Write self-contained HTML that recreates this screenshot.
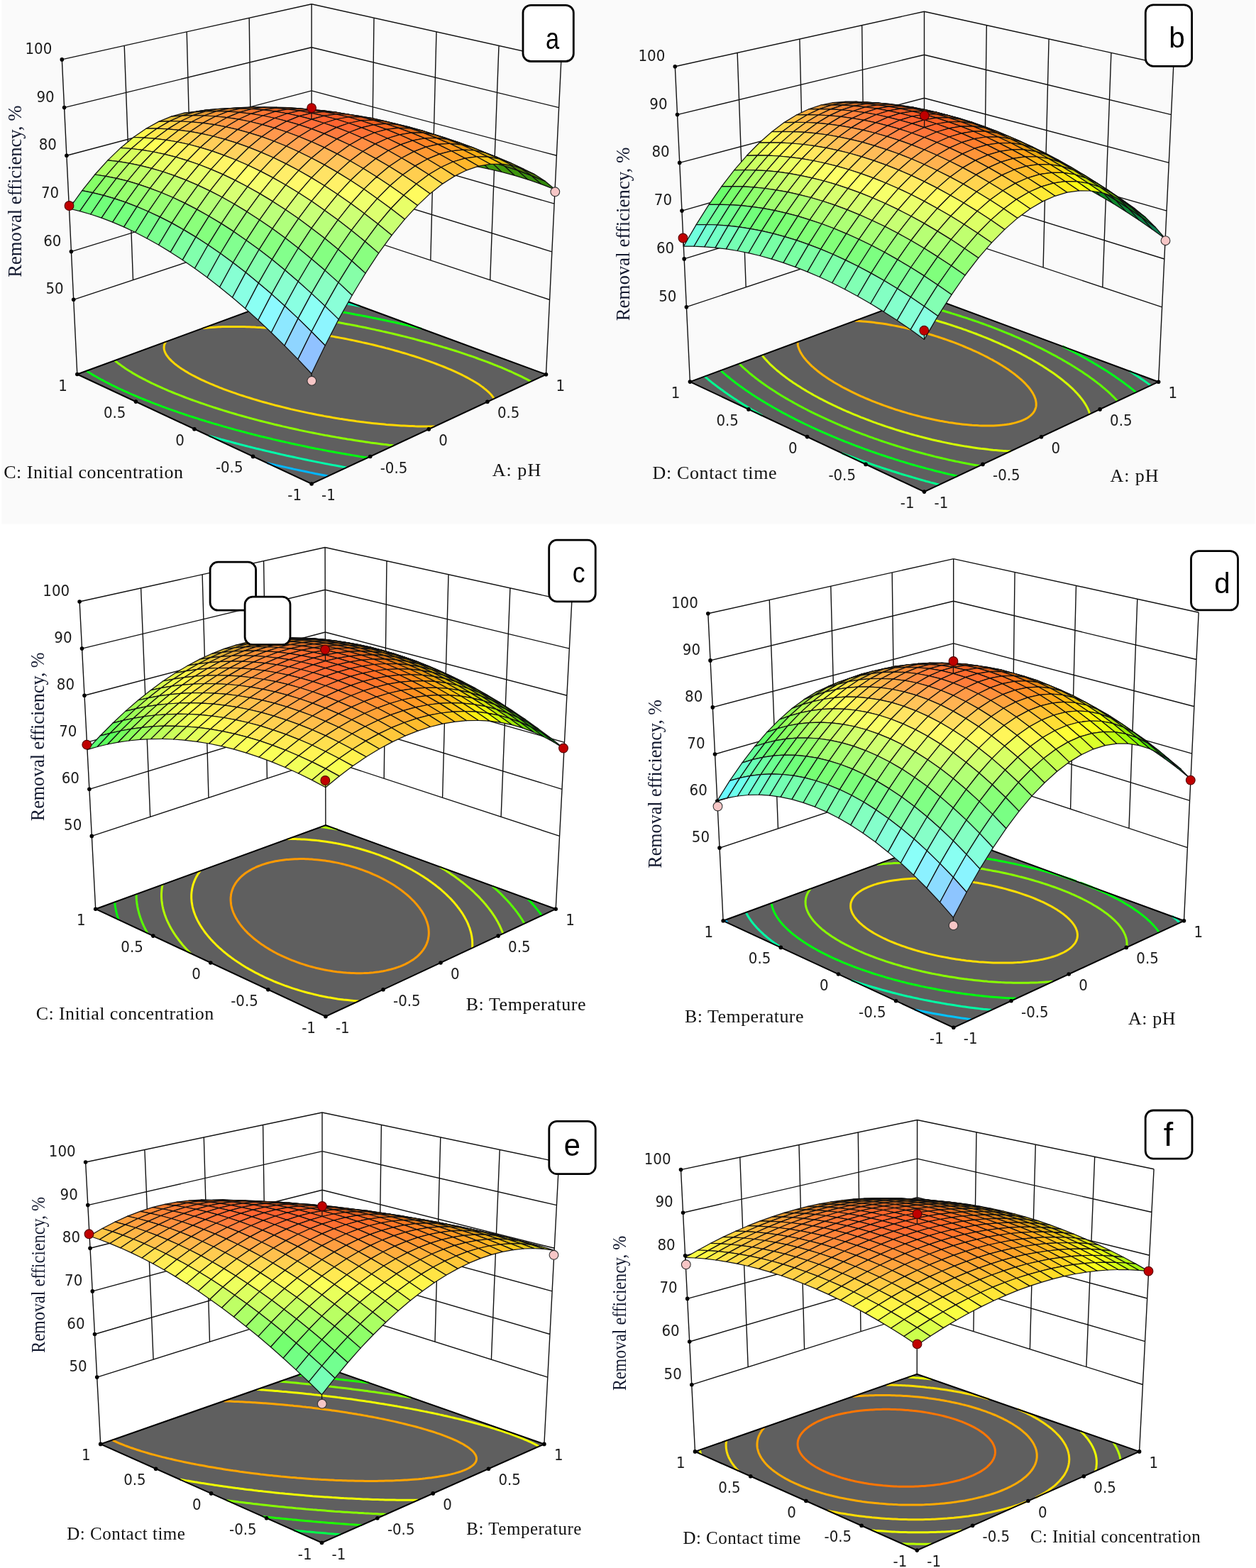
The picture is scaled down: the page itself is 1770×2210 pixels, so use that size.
<!DOCTYPE html>
<html><head><meta charset="utf-8"><title>Response surfaces</title><style>html,body{margin:0;padding:0;background:#fff}svg{display:block}</style></head><body>
<svg xmlns="http://www.w3.org/2000/svg" width="1770" height="2210" viewBox="0 0 1770 2210">
<rect width="1770" height="2210" fill="#fff"/>
<rect x="2.5" width="1766" height="738.5" fill="#fafafa"/>
<path d="M187.5 394.5 175.2 64.4M271.4 366.8 263.2 44.8M355.2 339 351.2 25.2M439.1 406.3 439.1 5.7M523 339.1 527 25.2M606.8 366.9 615 44.8M690.7 394.7 703 64.4M769.5 527.8 790.9 83.9M108.8 527.5 87.3 83.9M103.7 422.3 439.1 311.3M439.1 311.3 774.6 422.5M100.4 354.6 439.1 250.2M439.1 250.2 777.8 354.8M97.1 286.9 439.1 189M439.1 189 781.1 287.1M93.9 219.2 439.1 127.9M439.1 127.9 784.4 219.3M90.6 151.6 439.1 66.8M439.1 66.8 787.6 151.6M87.3 83.9 439.1 5.7M439.1 5.7 790.9 83.9" stroke="#111" stroke-width="1.4" fill="none"/>
<path d="M108.8 527.5 439.1 682 769.5 527.8 439.1 406.3z" fill="#5f5f5f"/>
<path d="M462.5 671.1 458.7 670.3 454.6 669.5 452 669 446.8 668 444.2 667.5 439.1 666.4 436.5 665.9 432.4 665 428.9 664.3 425.6 663.6 421.3 662.7 418.7 662.1 413.7 661.1 411.2 660.5 406.2 659.4 403.8 658.9 398.8 657.8 396.4 657.2 391.5 656.1 389 655.6 384.2 654.4 381.7 653.9 376.9 652.7 376.1 652.6" stroke="#00b7ff" stroke-width="3" fill="none"/>
<path d="M433.7 408.3 436.9 408.7 440.1 409.2 442.2 409.5 446.4 410.2 448.5 410.5 451.9 411 451.9 411" stroke="#00b7ff" stroke-width="3" fill="none"/>
<path d="M488.4 659 483.7 658.1 480.4 657.5 477.6 657 472.5 656.1 469.9 655.6 465.1 654.7 462.1 654.1 458.7 653.5 454.3 652.6 451.7 652.1 446.6 651.1 444.1 650.6 439.3 649.6 436.4 649.1 432.7 648.3 428.9 647.5 426 646.9 421.4 645.9 419 645.4 414 644.3 411.6 643.8 406.7 642.7 404.2 642.2 399.4 641.1 397 640.6 392.2 639.5 389.8 638.9 385 637.8 382.6 637.3 377.9 636.1 375.5 635.6 370.9 634.5 368.5 633.9 363.9 632.8 361.3 632.2 357 631.1 353.6 630.2 350.1 629.4 345.6 628.2 343.3 627.6 338.8 626.5 336.6 625.9 332.1 624.7 329.3 624 325.5 622.9 321.1 621.8 318.9 621.2 314.5 620 312.3 619.4 308 618.2 303.7 617 301.6 616.4 297.4 615.2 294.3 614.3 294.3 614.3" stroke="#00ffab" stroke-width="3" fill="none"/>
<path d="M412.1 416.2 414.3 416.5 417.4 416.9 420.8 417.4 423 417.7 426.9 418.3 429.4 418.6 431.7 419 435.9 419.6 438 419.9 441.6 420.4 444.4 420.8 446.7 421.2 450.8 421.8 452.9 422.1 457 422.8 459.2 423.1 462.3 423.6 465.5 424.2 467.6 424.5 471.8 425.2 473.9 425.5 478.1 426.2 480.2 426.6 484.2 427.3 486.4 427.7 489.9 428.3 492.6 428.8 495.7 429.3 498.8 429.9 501.6 430.4 504.9 431 507.6 431.5 507.6 431.5" stroke="#00ffab" stroke-width="3" fill="none"/>
<path d="M518.1 645.1 515.4 644.7 510.3 643.9 507.2 643.4 504.5 642.9 499.2 642.1 496.5 641.6 493 641 488.5 640.3 485.9 639.8 481.2 639 478 638.4 475.1 637.9 470.2 637 467.6 636.5 462.9 635.7 459.9 635.1 456.6 634.5 452.3 633.6 449.8 633.1 444.7 632.2 442.2 631.7 437.3 630.7 434.8 630.2 430.7 629.3 427.4 628.6 424 627.9 420.1 627.1 417.2 626.5 412.8 625.5 410.3 625 405.6 623.9 403.2 623.4 398.5 622.3 396.1 621.8 391.5 620.7 388.8 620.1 384.5 619.1 381.4 618.3 377.6 617.4 373.8 616.5 370.7 615.8 366.2 614.7 363.9 614.1 359.5 613 357.2 612.4 352.8 611.3 350.1 610.6 346.2 609.5 341.8 608.4 339.6 607.8 335.3 606.6 333.1 606.1 328.8 604.9 324.6 603.7 322.4 603.1 318.2 601.9 315.2 601.1 312 600.1 307.8 598.9 305.7 598.3 301.6 597.1 297.5 595.9 295.5 595.3 291.5 594.1 287.5 592.8 285.4 592.2 281.5 591 277.6 589.7 274.4 588.7 271.7 587.8 267.8 586.6 264 585.3 262.1 584.7 258.3 583.4 254.5 582.1 250.8 580.9 248.9 580.2 245.2 578.9 241.5 577.6 237.9 576.3 235 575.3 232.5 574.4 228.9 573.1 225.3 571.7 221.8 570.4 218.3 569.1 216.6 568.4 213.2 567.1 209.7 565.7 206.4 564.4 203 563 199.7 561.7 196.4 560.3 193.1 558.9 190.9 558 188.3 556.9 185.1 555.5 181.9 554.1 178.8 552.7 175.7 551.3 172.6 549.9 169.6 548.5 166.6 547.1 163.6 545.6 160.6 544.2 157.7 542.8 154.9 541.3 153.1 540.4 150.6 539.2 147.8 537.7 145.1 536.2 142.3 534.8 139.6 533.3 137 531.8 134.4 530.3 133.1 529.6 130.5 528.1 128 526.5 125.5 525 123.1 523.5 121.9 522.7 121.9 522.7" stroke="#00ff10" stroke-width="3" fill="none"/>
<path d="M386.2 425.7 388.4 426 391.4 426.4 395.3 426.8 397.5 427.1 400.3 427.4 404.3 427.9 406.5 428.2 409.4 428.6 413.2 429.1 415.4 429.4 418.7 429.9 422 430.3 424.2 430.6 428.3 431.2 430.8 431.6 433.2 431.9 437.3 432.5 439.5 432.8 443.2 433.4 446 433.8 448.3 434.2 452.4 434.8 454.6 435.2 458.8 435.8 461 436.2 464.2 436.7 467.4 437.3 469.6 437.6 473.7 438.3 475.8 438.7 480 439.4 482.1 439.8 486.3 440.5 488.4 440.9 492.5 441.6 494.6 442 498.5 442.7 500.8 443.2 504.7 443.9 507 444.3 511 445.1 513.2 445.5 517.3 446.3 519.3 446.7 523.4 447.5 525.4 448 529.5 448.8 531.5 449.2 535.6 450 537.8 450.5 541.6 451.3 544.9 452 547.7 452.6 551.7 453.5 553.7 453.9 557.7 454.8 560 455.3 563.6 456.1 567.6 457 569.6 457.5 573.5 458.4 576.3 459 579.4 459.8 583.4 460.7 585.3 461.2 589.3 462.1 593.2 463.1 594.1 463.3" stroke="#00ff10" stroke-width="3" fill="none"/>
<path d="M554.8 628 551.9 627.6 548 627.2 543.4 626.6 540.5 626.3 537.7 625.9 532.8 625.3 529.3 624.8 526.5 624.4 522.4 623.9 518.3 623.3 515.5 622.9 511.7 622.3 507.4 621.7 504.7 621.3 500.8 620.7 496.7 620 494.1 619.6 489.5 618.9 486.2 618.3 483.6 617.9 478.4 617 475.8 616.6 472.1 615.9 468.2 615.2 465.6 614.8 460.6 613.8 458.1 613.4 453.8 612.6 450.6 612 447.5 611.4 443.2 610.5 440.7 610 435.9 609.1 433.5 608.6 428.7 607.6 426.3 607.1 421.5 606.1 419.1 605.5 414.4 604.5 412.1 604 407.4 603 405.1 602.4 400.5 601.4 398.2 600.9 393.7 599.8 391.4 599.2 386.9 598.2 384.6 597.6 380.2 596.5 377.2 595.8 373.6 594.9 369.2 593.8 367 593.2 362.7 592.1 360.5 591.5 356.2 590.4 352.1 589.3 349.9 588.6 345.7 587.5 343.1 586.8 339.4 585.7 335.3 584.6 333.3 584 329.2 582.8 325.1 581.6 323.1 581 319.1 579.8 315.2 578.6 313 577.9 309.3 576.7 305.4 575.5 301.5 574.3 299.6 573.6 295.8 572.4 292 571.1 288.5 569.9 286.4 569.2 282.8 568 279.1 566.7 275.5 565.4 273.4 564.7 270.1 563.5 266.5 562.2 263 560.8 259.5 559.5 256.1 558.2 253.5 557.2 251 556.2 247.6 554.9 244.3 553.5 241 552.1 237.7 550.8 234.5 549.4 231.3 548 228.2 546.6 225 545.2 222 543.8 218.9 542.4 215.9 541 212.9 539.6 210 538.1 207.1 536.7 204.3 535.2 201.5 533.8 199.4 532.7 197.3 531.6 194.6 530.1 191.9 528.6 189.3 527.1 186.7 525.6 185.5 524.8 183 523.3 180.5 521.7 178.1 520.2 176.9 519.4 174.6 517.8 172.3 516.2 171.2 515.4 169 513.8 166.8 512.2 165.8 511.4 163.7 509.8 162.2 508.5 161.7 508.1" stroke="#8cff00" stroke-width="3" fill="none"/>
<path d="M352 438.3 354.5 438.5 357 438.7 360.6 439 364.4 439.3 366.8 439.5 369.3 439.8 372.6 440.1 376.5 440.5 378.9 440.7 381.3 441 385 441.3 388.4 441.7 390.8 442 393.5 442.3 397.8 442.8 400.1 443.1 402.4 443.3 406.8 443.9 409.3 444.2 411.6 444.5 416 445.1 418.5 445.4 420.7 445.7 425.2 446.3 427.5 446.6 430.3 447 434.2 447.6 436.4 447.9 440.3 448.5 443 448.9 445.4 449.3 449.6 449.9 451.8 450.3 455.9 450.9 458.3 451.3 461.3 451.8 464.7 452.4 466.9 452.8 471.2 453.5 473.3 453.9 477.6 454.6 479.7 455 483.9 455.8 486 456.2 490.1 456.9 492.3 457.3 496.3 458.1 498.6 458.5 502.7 459.3 504.8 459.8 509 460.6 511 461 515.1 461.8 517.2 462.3 521.3 463.1 523.3 463.6 527.4 464.4 530.3 465.1 533.5 465.7 537.5 466.6 539.5 467.1 543.5 468 545.7 468.5 549.5 469.4 553.5 470.3 555.5 470.8 559.5 471.7 562.6 472.5 565.4 473.2 569.3 474.1 571.9 474.8 575.2 475.6 579.1 476.6 581.8 477.3 584.9 478.1 588.8 479.2 592.5 480.2 594.6 480.7 598.4 481.7 602.2 482.8 604.5 483.4 607.9 484.4 611.7 485.5 615.5 486.6 618.2 487.4 621.2 488.2 624.9 489.4 628.7 490.5 632.4 491.6 635.1 492.5 638 493.4 641.7 494.5 645.3 495.7 649 496.9 652.7 498.1 656.3 499.3 659.9 500.6 661.8 501.2 665.4 502.4 669 503.7 672.5 505 676.1 506.3 679.7 507.6 683.2 508.9 686.7 510.2 690.2 511.5 693.7 512.9 697.2 514.3 700.6 515.6 702.3 516.3 705.8 517.7 709.2 519.2 712.6 520.6 715.9 522.1 719.3 523.5 722.6 525 724.3 525.8 727.5 527.3 730.8 528.8 734.1 530.4 735.7 531.2 738.9 532.8 742.1 534.4 744.9 535.9 746.8 536.8 748.3 537.7" stroke="#8cff00" stroke-width="3" fill="none"/>
<path d="M612.9 600.9 609.2 601 605.6 601 602 601 598.5 601 595.1 601 591.7 600.9 588.3 600.9 585 600.8 581.3 600.6 577.4 600.5 573.5 600.3 569.5 600.1 565.7 599.9 562.6 599.7 559.5 599.5 556.5 599.3 552.9 599 548.5 598.7 544.5 598.4 541.6 598.1 538.6 597.8 535.2 597.5 530.6 597 527.2 596.7 524.3 596.4 521.1 596 516.3 595.4 513.2 595.1 510.5 594.7 506.4 594.2 502.4 593.7 499.7 593.3 496.1 592.8 491.8 592.2 489.2 591.8 485.4 591.2 481.4 590.6 478.8 590.2 474.3 589.4 471.2 588.9 468.6 588.5 463.7 587.6 461.2 587.2 456.7 586.4 453.9 585.8 450.6 585.2 446.7 584.5 444.3 584 439.5 583 437.2 582.6 432.5 581.6 430.2 581.1 425.5 580.1 423.3 579.6 418.7 578.6 416.4 578.1 412 577.1 409.7 576.6 405.3 575.5 402.3 574.8 398.8 573.9 394.4 572.8 392.3 572.3 388 571.2 385.9 570.6 381.7 569.5 377.6 568.4 375.5 567.8 371.4 566.7 367.5 565.6 365.4 565 361.4 563.8 357.4 562.6 355.4 562 351.6 560.8 347.7 559.6 345.4 558.9 342 557.8 338.2 556.6 334.5 555.3 331.4 554.2 329 553.4 325.4 552.1 321.9 550.9 318.4 549.6 314.9 548.3 311.4 546.9 309.7 546.3 306.4 544.9 303.1 543.6 299.8 542.2 296.5 540.9 293.4 539.5 290.2 538.1 287.1 536.7 284.1 535.3 281.1 533.8 278.2 532.4 276.7 531.7 273.8 530.2 271 528.7 268.3 527.2 265.6 525.7 263.5 524.4 261.7 523.4 259.2 521.8 256.7 520.3 255.5 519.5 253.1 517.9 250.9 516.2 249.8 515.4 247.6 513.7 246.1 512.6 244.5 511.2 242.8 509.7 241.7 508.6 240.2 507.1 239 505.9 238 504.8 236.7 503.2 236 502.2 234.8 500.6 234 499.3 233.5 498.3 232.8 496.9 232.1 495.2 231.8 494.2 231.5 493.1 231.3 492 231.1 490.7 231.1 489.3 231.2 488 231.4 486.7 231.8 485.5 232.2 484.3 232.8 483.2 233.7 481.7 233.7 481.7" stroke="#ffd700" stroke-width="3" fill="none"/>
<path d="M285.7 462.6 289.4 462.2 291.9 461.9 294.5 461.7 298.3 461.4 302.1 461.2 305.1 461 307.9 460.8 310.7 460.7 313.5 460.6 316.4 460.5 319.5 460.5 322.8 460.4 326 460.4 329.1 460.4 332.2 460.4 335.2 460.4 338.2 460.5 341.2 460.5 344.5 460.6 347.9 460.7 351.3 460.8 354.8 461 358.2 461.1 360.9 461.3 363.6 461.4 366.3 461.6 369.2 461.8 372.9 462 376.7 462.3 379.5 462.5 382.1 462.7 384.6 462.9 388.5 463.3 392.2 463.6 394.7 463.8 397.1 464.1 401 464.5 404.5 464.9 406.9 465.1 409.6 465.4 414.1 466 416.5 466.2 418.9 466.5 423.2 467.1 425.9 467.5 428.2 467.8 432.8 468.4 435.1 468.7 437.7 469.1 442 469.7 444.2 470.1 448 470.7 451 471.1 453.3 471.5 457.6 472.2 459.8 472.6 464.2 473.3 466.4 473.7 470.1 474.4 472.9 474.9 476.1 475.5 479.3 476.1 482.3 476.6 485.7 477.3 488.7 477.9 492.1 478.6 495.3 479.3 498.3 479.9 502.3 480.7 504.6 481.2 508.7 482.1 510.7 482.6 514.8 483.5 517.2 484 520.9 484.9 524.9 485.8 526.9 486.3 530.9 487.3 534.2 488.1 536.9 488.8 540.8 489.8 543.8 490.6 546.7 491.3 550.6 492.4 554.4 493.4 556.4 494 560.2 495 564 496.1 566.8 497 569.7 497.8 573.5 498.9 577.2 500.1 580.9 501.2 582.8 501.8 586.5 503 590.1 504.2 593.8 505.4 597.4 506.6 601 507.9 604.6 509.1 608.1 510.4 611.6 511.7 615.1 513 618.6 514.3 622 515.7 625.5 517 628.8 518.4 632.2 519.8 635.5 521.2 638.8 522.7 642.1 524.2 645.3 525.7 646.9 526.4 650.1 527.9 653.2 529.5 656.3 531.1 657.8 531.9 660.8 533.5 663.8 535.2 665.3 536 668.2 537.7 670.8 539.3 672.4 540.3 675.2 542.1 676.5 543 679.1 544.9 680.4 545.8 682.9 547.8 684.1 548.8 686 550.3 687.7 551.8 688.8 552.8 690.6 554.7 691.9 556.1 692.9 557.2 694 558.6 695.3 560.4 696.3 562 696.3 562" stroke="#ffd700" stroke-width="3" fill="none"/>
<path d="M108.8 527.5 439.1 682 769.5 527.8 M108.8 527.5 439.1 406.3 769.5 527.8" stroke="#000" stroke-width="2" fill="none"/>
<g stroke="#111" stroke-width="1.25" stroke-linejoin="round"><path d="M439.1 231.9 454.3 250.8 439.1 256.3 423.9 237.2z" fill="#0f8799"/><path d="M454.5 227.2 469.6 245.8 454.3 250.8 439.1 231.9z" fill="#0f9992"/><path d="M423.6 214.9 439.1 231.9 423.9 237.2 408.4 219.9z" fill="#0e9971"/><path d="M470.1 223 485.2 241.4 469.6 245.8 454.5 227.2z" fill="#0f997a"/><path d="M439.1 210.4 454.5 227.2 439.1 231.9 423.6 214.9z" fill="#0e9959"/><path d="M407.9 199.9 423.6 214.9 408.4 219.9 392.7 204.6z" fill="#0e993c"/><path d="M486 219.5 501 237.5 485.2 241.4 470.1 223z" fill="#0f9965"/><path d="M454.7 206.6 470.1 223 454.5 227.2 439.1 210.4z" fill="#0e9942"/><path d="M423.4 195.7 439.1 210.4 423.6 214.9 407.9 199.9z" fill="#0e9924"/><path d="M392 186.9 407.9 199.9 392.7 204.6 376.7 191.3z" fill="#0e990d"/><path d="M502 216.5 517.1 234.3 501 237.5 486 219.5z" fill="#0f9950"/><path d="M470.6 203.3 486 219.5 470.1 223 454.7 206.6z" fill="#0e992d"/><path d="M439.1 192.2 454.7 206.6 439.1 210.4 423.4 195.7z" fill="#0d990f"/><path d="M407.5 183.1 423.4 195.7 407.9 199.9 392 186.9z" fill="#24990d"/><path d="M375.8 176 392 186.9 376.7 191.3 360.5 180.1z" fill="#37990c"/><path d="M518.3 214.2 533.3 231.7 517.1 234.3 502 216.5z" fill="#0f993e"/><path d="M486.7 200.7 502 216.5 486 219.5 470.6 203.3z" fill="#0e991a"/><path d="M455 189.3 470.6 203.3 454.7 206.6 439.1 192.2z" fill="#20990d"/><path d="M423.2 179.8 439.1 192.2 423.4 195.7 407.5 183.1z" fill="#39990c"/><path d="M391.3 172.5 407.5 183.1 392 186.9 375.8 176z" fill="#4c990c"/><path d="M359.4 167.2 375.8 176 360.5 180.1 344.1 171z" fill="#5b990b"/><path d="M534.7 212.6 549.7 229.7 533.3 231.7 518.3 214.2z" fill="#0f992c"/><path d="M503 198.7 518.3 214.2 502 216.5 486.7 200.7z" fill="#14990e"/><path d="M471.1 187 486.7 200.7 470.6 203.3 455 189.3z" fill="#32990d"/><path d="M439.1 177.3 455 189.3 439.1 192.2 423.2 179.8z" fill="#4b990c"/><path d="M407 169.7 423.2 179.8 407.5 183.1 391.3 172.5z" fill="#60990b"/><path d="M551.4 211.5 566.4 228.4 549.7 229.7 534.7 212.6z" fill="#0f991d"/><path d="M374.9 164.1 391.3 172.5 375.8 176 359.4 167.2z" fill="#6f990a"/><path d="M342.7 160.7 359.4 167.2 344.1 171 327.4 164.1z" fill="#7a9909"/><path d="M519.5 197.4 534.7 212.6 518.3 214.2 503 198.7z" fill="#24990e"/><path d="M487.4 185.4 503 198.7 486.7 200.7 471.1 187z" fill="#43990d"/><path d="M455.2 175.4 471.1 187 455 189.3 439.1 177.3z" fill="#5d990c"/><path d="M568.3 211.2 583.2 227.7 566.4 228.4 551.4 211.5z" fill="#0f990f"/><path d="M422.9 167.5 439.1 177.3 423.2 179.8 407 169.7z" fill="#72990b"/><path d="M325.9 156.4 342.7 160.7 327.4 164.1 310.6 159.4z" fill="#8d9308"/><path d="M390.6 161.7 407 169.7 391.3 172.5 374.9 164.1z" fill="#82990a"/><path d="M358.2 158 374.9 164.1 359.4 167.2 342.7 160.7z" fill="#8d9909"/><path d="M536.2 196.8 551.4 211.5 534.7 212.6 519.5 197.4z" fill="#32990e"/><path d="M503.9 184.4 519.5 197.4 503 198.7 487.4 185.4z" fill="#52990d"/><path d="M471.5 174.1 487.4 185.4 471.1 187 455.2 175.4z" fill="#6c990c"/><path d="M585.4 211.5 600.3 227.7 583.2 227.7 568.3 211.2z" fill="#1a990f"/><path d="M439.1 165.9 455.2 175.4 439.1 177.3 422.9 167.5z" fill="#82990b"/><path d="M308.8 154.5 325.9 156.4 310.6 159.4 293.5 157z" fill="#7f7306"/><path d="M406.5 159.9 422.9 167.5 407 169.7 390.6 161.7z" fill="#93990a"/><path d="M341.4 154.1 358.2 158 342.7 160.7 325.9 156.4z" fill="#8b8007"/><path d="M373.9 155.9 390.6 161.7 374.9 164.1 358.2 158z" fill="#979109"/><path d="M553.1 196.8 568.3 211.2 551.4 211.5 536.2 196.8z" fill="#3f990e"/><path d="M520.7 184.1 536.2 196.8 519.5 197.4 503.9 184.4z" fill="#5f990d"/><path d="M602.7 212.6 617.5 228.3 600.3 227.7 585.4 211.5z" fill="#25990e"/><path d="M488.1 173.5 503.9 184.4 487.4 185.4 471.5 174.1z" fill="#7a990c"/><path d="M455.4 165 471.5 174.1 455.2 175.4 439.1 165.9z" fill="#91990b"/><path d="M291.6 154.9 308.8 154.5 293.5 157 276.3 157z" fill="#685504"/><path d="M324.3 152.6 341.4 154.1 325.9 156.4 308.8 154.5z" fill="#755e05"/><path d="M422.7 158.7 439.1 165.9 422.9 167.5 406.5 159.9z" fill="#99900a"/><path d="M357.1 152.5 373.9 155.9 358.2 158 341.4 154.1z" fill="#826a07"/><path d="M389.9 154.5 406.5 159.9 390.6 161.7 373.9 155.9z" fill="#8f7b08"/><path d="M570.3 197.5 585.4 211.5 568.3 211.2 553.1 196.8z" fill="#4a990e"/><path d="M537.6 184.5 553.1 196.8 536.2 196.8 520.7 184.1z" fill="#6b990d"/><path d="M620.3 214.3 635 229.7 617.5 228.3 602.7 212.6z" fill="#2d990e"/><path d="M504.9 173.6 520.7 184.1 503.9 184.4 488.1 173.5z" fill="#87990c"/><path d="M274.2 157.8 291.6 154.9 276.3 157 258.9 159.4z" fill="#93771c"/><path d="M472 164.9 488.1 173.5 471.5 174.1 455.4 165z" fill="#99940b"/><path d="M307.1 153.5 324.3 152.6 308.8 154.5 291.6 154.9z" fill="#5e4304"/><path d="M439.1 158.3 455.4 165 439.1 165.9 422.7 158.7z" fill="#927c0a"/><path d="M587.6 198.9 602.7 212.6 585.4 211.5 570.3 197.5z" fill="#53990e"/><path d="M340 151.5 357.1 152.5 341.4 154.1 324.3 152.6z" fill="#6c4b05"/><path d="M406.1 153.8 422.7 158.7 406.5 159.9 389.9 154.5z" fill="#866708"/><path d="M373 151.6 389.9 154.5 373.9 155.9 357.1 152.5z" fill="#795706"/><path d="M554.8 185.6 570.3 197.5 553.1 196.8 537.6 184.5z" fill="#75990d"/><path d="M638 216.7 652.7 231.8 635 229.7 620.3 214.3z" fill="#35990e"/><path d="M521.9 174.4 537.6 184.5 520.7 184.1 504.9 173.6z" fill="#91990c"/><path d="M256.6 163.1 274.2 157.8 258.9 159.4 241.4 164.2z" fill="#bc9728"/><path d="M488.8 165.4 504.9 173.6 488.1 173.5 472 164.9z" fill="#96860b"/><path d="M289.6 156.8 307.1 153.5 291.6 154.9 274.2 157.8z" fill="#a5771f"/><path d="M605.2 201 620.3 214.3 602.7 212.6 587.6 198.9z" fill="#5b990e"/><path d="M455.7 158.5 472 164.9 455.4 165 439.1 158.3z" fill="#8a6b09"/><path d="M322.8 152.8 340 151.5 324.3 152.6 307.1 153.5z" fill="#8d5f18"/><path d="M422.4 153.8 439.1 158.3 422.7 158.7 406.1 153.8z" fill="#7d5607"/><path d="M356 151 373 151.6 357.1 152.5 340 151.5z" fill="#623b04"/><path d="M389.2 151.3 406.1 153.8 389.9 154.5 373 151.6z" fill="#704606"/><path d="M572.2 187.4 587.6 198.9 570.3 197.5 554.8 185.6z" fill="#7d990d"/><path d="M655.9 219.9 670.6 234.5 652.7 231.8 638 216.7z" fill="#3a990e"/><path d="M238.9 170.9 256.6 163.1 241.4 164.2 223.7 171.4z" fill="#e5be36"/><path d="M539.1 175.9 554.8 185.6 537.6 184.5 521.9 174.4z" fill="#99980c"/><path d="M272.1 162.7 289.6 156.8 274.2 157.8 256.6 163.1z" fill="#cf962c"/><path d="M505.8 166.6 521.9 174.4 504.9 173.6 488.8 165.4z" fill="#8e760a"/><path d="M623 203.9 638 216.7 620.3 214.3 605.2 201z" fill="#61990d"/><path d="M305.4 156.6 322.8 152.8 307.1 153.5 289.6 156.8z" fill="#b77723"/><path d="M472.5 159.5 488.8 165.4 472 164.9 455.7 158.5z" fill="#815b08"/><path d="M338.7 152.8 356 151 340 151.5 322.8 152.8z" fill="#9f5f1b"/><path d="M439.1 154.5 455.7 158.5 439.1 158.3 422.4 153.8z" fill="#744707"/><path d="M372.1 151.2 389.2 151.3 373 151.6 356 151z" fill="#572e04"/><path d="M405.6 151.7 422.4 153.8 406.1 153.8 389.2 151.3z" fill="#663805"/><path d="M589.8 190 605.2 201 587.6 198.9 572.2 187.4z" fill="#84990d"/><path d="M674.1 223.9 688.7 238.1 670.6 234.5 655.9 219.9z" fill="#3e990e"/><path d="M221.1 181.2 238.9 170.9 223.7 171.4 205.9 181.2z" fill="#ffe244"/><path d="M556.5 178.2 572.2 187.4 554.8 185.6 539.1 175.9z" fill="#91890b"/><path d="M254.3 171 272.1 162.7 256.6 163.1 238.9 170.9z" fill="#f8bd3c"/><path d="M640.9 207.5 655.9 219.9 638 216.7 623 203.9z" fill="#66990d"/><path d="M523.1 168.6 539.1 175.9 521.9 174.4 505.8 166.6z" fill="#856809"/><path d="M287.8 163 305.4 156.6 289.6 156.8 272.1 162.7z" fill="#e29631"/><path d="M489.5 161.1 505.8 166.6 488.8 165.4 472.5 159.5z" fill="#784e08"/><path d="M203.1 194.1 221.1 181.2 205.9 181.2 188 193.5z" fill="#fff74c"/><path d="M321.3 157.1 338.7 152.8 322.8 152.8 305.4 156.6z" fill="#ca7626"/><path d="M692.4 228.5 707 242.3 688.7 238.1 674.1 223.9z" fill="#40990e"/><path d="M455.9 155.9 472.5 159.5 455.7 158.5 439.1 154.5z" fill="#6a3b06"/><path d="M354.9 153.5 372.1 151.2 356 151 338.7 152.8z" fill="#b15f1e"/><path d="M607.6 193.2 623 203.9 605.2 201 589.8 190z" fill="#86950c"/><path d="M422.2 152.9 439.1 154.5 422.4 153.8 405.6 151.7z" fill="#5c2d05"/><path d="M388.5 152.1 405.6 151.7 389.2 151.3 372.1 151.2z" fill="#984e16"/><path d="M236.5 181.9 254.3 171 238.9 170.9 221.1 181.2z" fill="#ffd445"/><path d="M574.1 181.2 589.8 190 572.2 187.4 556.5 178.2z" fill="#897d0b"/><path d="M659.1 211.8 674.1 223.9 655.9 219.9 640.9 207.5z" fill="#69990d"/><path d="M270 171.8 287.8 163 272.1 162.7 254.3 171z" fill="#ffb53f"/><path d="M185.1 209.5 203.1 194.1 188 193.5 170 208.4z" fill="#edff53"/><path d="M540.5 171.3 556.5 178.2 539.1 175.9 523.1 168.6z" fill="#7d5c09"/><path d="M303.7 164 321.3 157.1 305.4 156.6 287.8 163z" fill="#f49536"/><path d="M711 234 725.4 247.3 707 242.3 692.4 228.5z" fill="#41990e"/><path d="M506.8 163.6 523.1 168.6 505.8 166.6 489.5 161.1z" fill="#6f4307"/><path d="M625.7 197.3 640.9 207.5 623 203.9 607.6 193.2z" fill="#828d0c"/><path d="M337.4 158.3 354.9 153.5 338.7 152.8 321.3 157.1z" fill="#dd752a"/><path d="M218.5 195.3 236.5 181.9 221.1 181.2 203.1 194.1z" fill="#ffea4d"/><path d="M472.9 158.1 489.5 161.1 472.5 159.5 455.9 155.9z" fill="#613106"/><path d="M371.3 154.9 388.5 152.1 372.1 151.2 354.9 153.5z" fill="#c45e21"/><path d="M439.1 154.8 455.9 155.9 439.1 154.5 422.2 152.9z" fill="#914512"/><path d="M405.2 153.8 422.2 152.9 405.6 151.7 388.5 152.1z" fill="#aa4f19"/><path d="M167 227.6 185.1 209.5 170 208.4 151.9 225.9z" fill="#ceff5b"/><path d="M592 184.9 607.6 193.2 589.8 190 574.1 181.2z" fill="#81720a"/><path d="M252.1 183.3 270 171.8 254.3 171 236.5 181.9z" fill="#ffc847"/><path d="M677.5 217 692.4 228.5 674.1 223.9 659.1 211.8z" fill="#65910d"/><path d="M558.2 174.7 574.1 181.2 556.5 178.2 540.5 171.3z" fill="#745208"/><path d="M285.9 173.4 303.7 164 287.8 163 270 171.8z" fill="#ffa940"/><path d="M729.7 240.2 744.1 253.1 725.4 247.3 711 234z" fill="#3e950e"/><path d="M200.5 211.4 218.5 195.3 203.1 194.1 185.1 209.5z" fill="#f8ff55"/><path d="M148.9 248.3 167 227.6 151.9 225.9 133.8 246z" fill="#acff61"/><path d="M524.2 166.7 540.5 171.3 523.1 168.6 506.8 163.6z" fill="#663a07"/><path d="M643.9 202.1 659.1 211.8 640.9 207.5 625.7 197.3z" fill="#7c860b"/><path d="M319.8 165.7 337.4 158.3 321.3 157.1 303.7 164z" fill="#ff9039"/><path d="M490.2 161 506.8 163.6 489.5 161.1 472.9 158.1z" fill="#572805"/><path d="M353.8 160.3 371.3 154.9 354.9 153.5 337.4 158.3z" fill="#f0752f"/><path d="M456.1 157.4 472.9 158.1 455.9 155.9 439.1 154.8z" fill="#a24714"/><path d="M234.2 197.3 252.1 183.3 236.5 181.9 218.5 195.3z" fill="#ffe04f"/><path d="M387.9 157.1 405.2 153.8 388.5 152.1 371.3 154.9z" fill="#d65f24"/><path d="M422 156.2 439.1 154.8 422.2 152.9 405.2 153.8z" fill="#bc501b"/><path d="M610 189.4 625.7 197.3 607.6 193.2 592 184.9z" fill="#796809"/><path d="M696.1 222.9 711 234 692.4 228.5 677.5 217z" fill="#5f8a0c"/><path d="M130.7 271.7 148.9 248.3 133.8 246 115.7 268.7z" fill="#85ff67"/><path d="M182.3 230.1 200.5 211.4 185.1 209.5 167 227.6z" fill="#d8ff5d"/><path d="M268 185.4 285.9 173.4 270 171.8 252.1 183.3z" fill="#ffbe49"/><path d="M748.6 247.3 763 259.7 744.1 253.1 729.7 240.2z" fill="#398e0d"/><path d="M576 178.9 592 184.9 574.1 181.2 558.2 174.7z" fill="#6b4a08"/><path d="M662.3 207.7 677.5 217 659.1 211.8 643.9 202.1z" fill="#757d0a"/><path d="M302 175.7 319.8 165.7 303.7 164 285.9 173.4z" fill="#ffa042"/><path d="M112.5 297.6 130.7 271.7 115.7 268.7 97.5 294z" fill="#6dff7e"/><path d="M541.9 170.7 558.2 174.7 540.5 171.3 524.2 166.7z" fill="#5c3306"/><path d="M216.1 214 234.2 197.3 218.5 195.3 200.5 211.4z" fill="#fffe57"/><path d="M336.2 168.2 353.8 160.3 337.4 158.3 319.8 165.7z" fill="#ff883a"/><path d="M164.1 251.4 182.3 230.1 167 227.6 148.9 248.3z" fill="#b4ff64"/><path d="M507.7 164.6 524.2 166.7 506.8 163.6 490.2 161z" fill="#99470f"/><path d="M370.4 163 387.9 157.1 371.3 154.9 353.8 160.3z" fill="#ff7533"/><path d="M714.9 229.6 729.7 240.2 711 234 696.1 222.9z" fill="#58820b"/><path d="M473.4 160.8 490.2 161 472.9 158.1 456.1 157.4z" fill="#b44a16"/><path d="M628.3 194.7 643.9 202.1 625.7 197.3 610 189.4z" fill="#706009"/><path d="M404.7 160 422 156.2 405.2 153.8 387.9 157.1z" fill="#e96028"/><path d="M439 159.3 456.1 157.4 439.1 154.8 422 156.2z" fill="#cf511e"/><path d="M250 200 268 185.4 252.1 183.3 234.2 197.3z" fill="#ffd951"/><path d="M767.8 255.1 782.1 267.1 763 259.7 748.6 247.3z" fill="#32870c"/><path d="M145.9 275.4 164.1 251.4 148.9 248.3 130.7 271.7z" fill="#8dff6a"/><path d="M197.9 233.3 216.1 214 200.5 211.4 182.3 230.1z" fill="#dfff5f"/><path d="M594.1 183.9 610 189.4 592 184.9 576 178.9z" fill="#614307"/><path d="M284.1 188.3 302 175.7 285.9 173.4 268 185.4z" fill="#ffb74b"/><path d="M680.9 214.1 696.1 222.9 677.5 217 662.3 207.7z" fill="#6c750a"/><path d="M559.8 175.4 576 178.9 558.2 174.7 541.9 170.7z" fill="#904f0b"/><path d="M318.4 178.8 336.2 168.2 319.8 165.7 302 175.7z" fill="#ff9a43"/><path d="M733.9 237.1 748.6 247.3 729.7 240.2 714.9 229.6z" fill="#4f7a0b"/><path d="M231.9 217.3 250 200 234.2 197.3 216.1 214z" fill="#fff75a"/><path d="M127.7 302 145.9 275.4 130.7 271.7 112.5 297.6z" fill="#6fff7b"/><path d="M525.4 169.1 541.9 170.7 524.2 166.7 507.7 164.6z" fill="#ab4d11"/><path d="M352.8 171.5 370.4 163 353.8 160.3 336.2 168.2z" fill="#ff823c"/><path d="M646.8 200.8 662.3 207.7 643.9 202.1 628.3 194.7z" fill="#675908"/><path d="M179.7 255.2 197.9 233.3 182.3 230.1 164.1 251.4z" fill="#baff66"/><path d="M490.9 165 507.7 164.6 490.2 161 473.4 160.8z" fill="#c64e18"/><path d="M387.2 166.5 404.7 160 387.9 157.1 370.4 163z" fill="#ff6f34"/><path d="M456.3 163.3 473.4 160.8 456.1 157.4 439 159.3z" fill="#e15421"/><path d="M421.8 163.7 439 159.3 422 156.2 404.7 160z" fill="#fc622c"/><path d="M266.1 203.5 284.1 188.3 268 185.4 250 200z" fill="#ffd354"/><path d="M612.4 189.7 628.3 194.7 610 189.4 594.1 183.9z" fill="#583c06"/><path d="M699.8 221.3 714.9 229.6 696.1 222.9 680.9 214.1z" fill="#616c09"/><path d="M213.7 237.3 231.9 217.3 216.1 214 197.9 233.3z" fill="#e4ff61"/><path d="M161.4 279.9 179.7 255.2 164.1 251.4 145.9 275.4z" fill="#93ff6c"/><path d="M300.4 192 318.4 178.8 302 175.7 284.1 188.3z" fill="#ffb24d"/><path d="M577.9 180.9 594.1 183.9 576 178.9 559.8 175.4z" fill="#a1580c"/><path d="M753.1 245.5 767.8 255.1 748.6 247.3 733.9 237.1z" fill="#46720a"/><path d="M334.9 182.6 352.8 171.5 336.2 168.2 318.4 178.8z" fill="#ff9646"/><path d="M665.4 207.7 680.9 214.1 662.3 207.7 646.8 200.8z" fill="#5e5307"/><path d="M543.3 174.3 559.8 175.4 541.9 170.7 525.4 169.1z" fill="#bc5413"/><path d="M247.9 221.4 266.1 203.5 250 200 231.9 217.3z" fill="#fff35c"/><path d="M143.1 307.2 161.4 279.9 145.9 275.4 127.7 302z" fill="#71ff7a"/><path d="M369.6 175.6 387.2 166.5 370.4 163 352.8 171.5z" fill="#ff7e3e"/><path d="M508.6 170 525.4 169.1 507.7 164.6 490.9 165z" fill="#d8541b"/><path d="M404.3 170.8 421.8 163.7 404.7 160 387.2 166.5z" fill="#ff6c36"/><path d="M195.4 259.9 213.7 237.3 197.9 233.3 179.7 255.2z" fill="#bfff68"/><path d="M473.8 168 490.9 165 473.4 160.8 456.3 163.3z" fill="#f45925"/><path d="M439 168.2 456.3 163.3 439 159.3 421.8 163.7z" fill="#ff612e"/><path d="M718.8 229.4 733.9 237.1 714.9 229.6 699.8 221.3z" fill="#566408"/><path d="M630.9 196.3 646.8 200.8 628.3 194.7 612.4 189.7z" fill="#976909"/><path d="M282.4 207.8 300.4 192 284.1 188.3 266.1 203.5z" fill="#ffd056"/><path d="M596.2 187.2 612.4 189.7 594.1 183.9 577.9 180.9z" fill="#b2630e"/><path d="M229.7 242 247.9 221.4 231.9 217.3 213.7 237.3z" fill="#e8ff64"/><path d="M317 196.4 334.9 182.6 318.4 178.8 300.4 192z" fill="#ffb04f"/><path d="M177.1 285.2 195.4 259.9 179.7 255.2 161.4 279.9z" fill="#96ff6e"/><path d="M684.3 215.4 699.8 221.3 680.9 214.1 665.4 207.7z" fill="#544d07"/><path d="M561.4 180.4 577.9 180.9 559.8 175.4 543.3 174.3z" fill="#ce5d14"/><path d="M351.7 187.3 369.6 175.6 352.8 171.5 334.9 182.6z" fill="#ff9448"/><path d="M526.5 175.8 543.3 174.3 525.4 169.1 508.6 170z" fill="#eb5c1d"/><path d="M386.6 180.4 404.3 170.8 387.2 166.5 369.6 175.6z" fill="#ff7d40"/><path d="M264.2 226.3 282.4 207.8 266.1 203.5 247.9 221.4z" fill="#fff15f"/><path d="M738.1 238.2 753.1 245.5 733.9 237.1 718.8 229.4z" fill="#4b5b08"/><path d="M158.7 313.2 177.1 285.2 161.4 279.9 143.1 307.2z" fill="#73ff7b"/><path d="M491.5 173.5 508.6 170 490.9 165 473.8 168z" fill="#ff5e27"/><path d="M421.6 175.8 439 168.2 421.8 163.7 404.3 170.8z" fill="#ff6c37"/><path d="M649.6 203.8 665.4 207.7 646.8 200.8 630.9 196.3z" fill="#a77909"/><path d="M456.5 173.5 473.8 168 456.3 163.3 439 168.2z" fill="#ff612f"/><path d="M211.4 265.3 229.7 242 213.7 237.3 195.4 259.9z" fill="#c2ff6b"/><path d="M298.9 212.9 317 196.4 300.4 192 282.4 207.8z" fill="#ffce59"/><path d="M614.7 194.4 630.9 196.3 612.4 189.7 596.2 187.2z" fill="#c3700f"/><path d="M703.4 224 718.8 229.4 699.8 221.3 684.3 215.4z" fill="#9c9406"/><path d="M333.8 201.7 351.7 187.3 334.9 182.6 317 196.4z" fill="#ffb052"/><path d="M245.9 247.6 264.2 226.3 247.9 221.4 229.7 242z" fill="#e9ff66"/><path d="M193 291.3 211.4 265.3 195.4 259.9 177.1 285.2z" fill="#98ff70"/><path d="M579.7 187.2 596.2 187.2 577.9 180.9 561.4 180.4z" fill="#e06a17"/><path d="M368.8 192.7 386.6 180.4 369.6 175.6 351.7 187.3z" fill="#ff954a"/><path d="M544.6 182.4 561.4 180.4 543.3 174.3 526.5 175.8z" fill="#fd6721"/><path d="M668.5 212 684.3 215.4 665.4 207.7 649.6 203.8z" fill="#b88b0a"/><path d="M403.9 186 421.6 175.8 404.3 170.8 386.6 180.4z" fill="#ff7f42"/><path d="M509.5 179.8 526.5 175.8 508.6 170 491.5 173.5z" fill="#ff6129"/><path d="M280.7 232 298.9 212.9 282.4 207.8 264.2 226.3z" fill="#fff061"/><path d="M439 181.7 456.5 173.5 439 168.2 421.6 175.8z" fill="#ff6e39"/><path d="M474.3 179.6 491.5 173.5 473.8 168 456.5 173.5z" fill="#ff6431"/><path d="M174.6 319.9 193 291.3 177.1 285.2 158.7 313.2z" fill="#75ff7e"/><path d="M227.5 271.5 245.9 247.6 229.7 242 211.4 265.3z" fill="#c3ff6d"/><path d="M633.5 202.3 649.6 203.8 630.9 196.3 614.7 194.4z" fill="#d58110"/><path d="M722.7 233.4 738.1 238.2 718.8 229.4 703.4 224z" fill="#abac06"/><path d="M315.6 218.8 333.8 201.7 317 196.4 298.9 212.9z" fill="#ffcf5b"/><path d="M598.3 194.9 614.7 194.4 596.2 187.2 579.7 187.2z" fill="#f27919"/><path d="M350.7 207.7 368.8 192.7 351.7 187.3 333.8 201.7z" fill="#ffb254"/><path d="M262.3 253.9 280.7 232 264.2 226.3 245.9 247.6z" fill="#e9ff69"/><path d="M209.1 298.2 227.5 271.5 211.4 265.3 193 291.3z" fill="#99ff73"/><path d="M687.6 221.1 703.4 224 684.3 215.4 668.5 212z" fill="#c8a20b"/><path d="M563 189.8 579.7 187.2 561.4 180.4 544.6 182.4z" fill="#ff6f22"/><path d="M386 199 403.9 186 386.6 180.4 368.8 192.7z" fill="#ff984d"/><path d="M527.6 187 544.6 182.4 526.5 175.8 509.5 179.8z" fill="#ff682a"/><path d="M421.3 192.5 439 181.7 421.6 175.8 403.9 186z" fill="#ff8344"/><path d="M492.2 186.5 509.5 179.8 491.5 173.5 474.3 179.6z" fill="#ff6933"/><path d="M456.8 188.4 474.3 179.6 456.5 173.5 439 181.7z" fill="#ff733c"/><path d="M297.4 238.6 315.6 218.8 298.9 212.9 280.7 232z" fill="#fff264"/><path d="M652.4 211.1 668.5 212 649.6 203.8 633.5 202.3z" fill="#e69612"/><path d="M190.7 327.5 209.1 298.2 193 291.3 174.6 319.9z" fill="#77ff82"/><path d="M244 278.5 262.3 253.9 245.9 247.6 227.5 271.5z" fill="#c2ff6f"/><path d="M332.6 225.5 350.7 207.7 333.8 201.7 315.6 218.8z" fill="#ffd25e"/><path d="M617 203.4 633.5 202.3 614.7 194.4 598.3 194.9z" fill="#ff8a1b"/><path d="M707 231.1 722.7 233.4 703.4 224 687.6 221.1z" fill="#d9bc0c"/><path d="M368 214.6 386 199 368.8 192.7 350.7 207.7z" fill="#ffb557"/><path d="M581.5 198.1 598.3 194.9 579.7 187.2 563 189.8z" fill="#ff7823"/><path d="M279 261.1 297.4 238.6 280.7 232 262.3 253.9z" fill="#e7ff6b"/><path d="M225.5 305.9 244 278.5 227.5 271.5 209.1 298.2z" fill="#98ff75"/><path d="M403.5 206 421.3 192.5 403.9 186 386 199z" fill="#ff9d4f"/><path d="M546 195 563 189.8 544.6 182.4 527.6 187z" fill="#ff702c"/><path d="M439 199.8 456.8 188.4 439 181.7 421.3 192.5z" fill="#ff8947"/><path d="M510.3 194.3 527.6 187 509.5 179.8 492.2 186.5z" fill="#ff7135"/><path d="M671.6 220.8 687.6 221.1 668.5 212 652.4 211.1z" fill="#f8af14"/><path d="M474.7 195.9 492.2 186.5 474.3 179.6 456.8 188.4z" fill="#ff7a3e"/><path d="M314.3 245.9 332.6 225.5 315.6 218.8 297.4 238.6z" fill="#fff566"/><path d="M207 336 225.5 305.9 209.1 298.2 190.7 327.5z" fill="#79ff88"/><path d="M260.6 286.4 279 261.1 262.3 253.9 244 278.5z" fill="#bfff72"/><path d="M636 212.8 652.4 211.1 633.5 202.3 617 203.4z" fill="#ff971c"/><path d="M349.8 233 368 214.6 350.7 207.7 332.6 225.5z" fill="#ffd661"/><path d="M600.3 207.2 617 203.4 598.3 194.9 581.5 198.1z" fill="#ff8425"/><path d="M385.4 222.3 403.5 206 386 199 368 214.6z" fill="#ffbb5a"/><path d="M295.9 269.1 314.3 245.9 297.4 238.6 279 261.1z" fill="#e3ff6e"/><path d="M564.5 203.9 581.5 198.1 563 189.8 546 195z" fill="#ff7c2e"/><path d="M690.9 231.3 707 231.1 687.6 221.1 671.6 220.8z" fill="#ffc516"/><path d="M242.1 314.4 260.6 286.4 244 278.5 225.5 305.9z" fill="#95ff77"/><path d="M421.1 214 439 199.8 421.3 192.5 403.5 206z" fill="#ffa452"/><path d="M528.7 202.9 546 195 527.6 187 510.3 194.3z" fill="#ff7b37"/><path d="M457 207.9 474.7 195.9 456.8 188.4 439 199.8z" fill="#ff914a"/><path d="M492.8 204.2 510.3 194.3 492.2 186.5 474.7 195.9z" fill="#ff8341"/><path d="M331.5 254.1 349.8 233 332.6 225.5 314.3 245.9z" fill="#fffa69"/><path d="M655.2 223.1 671.6 220.8 652.4 211.1 636 212.8z" fill="#ffa71e"/><path d="M223.6 345.2 242.1 314.4 225.5 305.9 207 336z" fill="#7bff8f"/><path d="M277.5 295.1 295.9 269.1 279 261.1 260.6 286.4z" fill="#bbff74"/><path d="M367.2 241.4 385.4 222.3 368 214.6 349.8 233z" fill="#ffdd63"/><path d="M619.3 217.2 636 212.8 617 203.4 600.3 207.2z" fill="#ff9327"/><path d="M403.1 230.9 421.1 214 403.5 206 385.4 222.3z" fill="#ffc35d"/><path d="M583.3 213.6 600.3 207.2 581.5 198.1 564.5 203.9z" fill="#ff8930"/><path d="M313.1 278 331.5 254.1 314.3 245.9 295.9 269.1z" fill="#deff70"/><path d="M439 222.7 457 207.9 439 199.8 421.1 214z" fill="#ffad55"/><path d="M547.3 212.3 564.5 203.9 546 195 528.7 202.9z" fill="#ff883a"/><path d="M258.9 323.9 277.5 295.1 260.6 286.4 242.1 314.4z" fill="#91ff79"/><path d="M475.1 216.9 492.8 204.2 474.7 195.9 457 207.9z" fill="#ff9b4c"/><path d="M511.2 213.5 528.7 202.9 510.3 194.3 492.8 204.2z" fill="#ff8e43"/><path d="M674.5 234.2 690.9 231.3 671.6 220.8 655.2 223.1z" fill="#ffb920"/><path d="M348.9 263.2 367.2 241.4 349.8 233 331.5 254.1z" fill="#feff6c"/><path d="M240.3 355.4 258.9 323.9 242.1 314.4 223.6 345.2z" fill="#7dff97"/><path d="M638.5 228 655.2 223.1 636 212.8 619.3 217.2z" fill="#ffa429"/><path d="M294.5 304.7 313.1 278 295.9 269.1 277.5 295.1z" fill="#b6ff76"/><path d="M384.8 250.6 403.1 230.9 385.4 222.3 367.2 241.4z" fill="#ffe566"/><path d="M602.3 224.2 619.3 217.2 600.3 207.2 583.3 213.6z" fill="#ff9932"/><path d="M420.9 240.3 439 222.7 421.1 214 403.1 230.9z" fill="#ffcc5f"/><path d="M566 222.7 583.3 213.6 564.5 203.9 547.3 212.3z" fill="#ff973c"/><path d="M457.2 232.4 475.1 216.9 457 207.9 439 222.7z" fill="#ffb758"/><path d="M330.4 287.7 348.9 263.2 331.5 254.1 313.1 278z" fill="#d8ff73"/><path d="M529.7 223.6 547.3 212.3 528.7 202.9 511.2 213.5z" fill="#ff9c46"/><path d="M493.4 226.8 511.2 213.5 492.8 204.2 475.1 216.9z" fill="#ffa74f"/><path d="M276 334.1 294.5 304.7 277.5 295.1 258.9 323.9z" fill="#8bff7b"/><path d="M366.5 273.1 384.8 250.6 367.2 241.4 348.9 263.2z" fill="#f6ff6e"/><path d="M657.8 239.8 674.5 234.2 655.2 223.1 638.5 228z" fill="#ffb72b"/><path d="M257.3 366.4 276 334.1 258.9 323.9 240.3 355.4z" fill="#7fffa1"/><path d="M311.9 315.1 330.4 287.7 313.1 278 294.5 304.7z" fill="#afff79"/><path d="M402.7 260.7 420.9 240.3 403.1 230.9 384.8 250.6z" fill="#ffee69"/><path d="M621.5 235.7 638.5 228 619.3 217.2 602.3 224.2z" fill="#ffab35"/><path d="M439 250.6 457.2 232.4 439 222.7 420.9 240.3z" fill="#ffd762"/><path d="M585 233.9 602.3 224.2 583.3 213.6 566 222.7z" fill="#ffa73f"/><path d="M475.5 242.9 493.4 226.8 475.1 216.9 457.2 232.4z" fill="#ffc45b"/><path d="M548.5 234.5 566 222.7 547.3 212.3 529.7 223.6z" fill="#ffab49"/><path d="M512 237.5 529.7 223.6 511.2 213.5 493.4 226.8z" fill="#ffb552"/><path d="M348 298.4 366.5 273.1 348.9 263.2 330.4 287.7z" fill="#d0ff75"/><path d="M293.2 345.3 311.9 315.1 294.5 304.7 276 334.1z" fill="#85ff7e"/><path d="M384.3 283.9 402.7 260.7 384.8 250.6 366.5 273.1z" fill="#ecff71"/><path d="M640.9 248.1 657.8 239.8 638.5 228 621.5 235.7z" fill="#ffbf38"/><path d="M274.5 378.2 293.2 345.3 276 334.1 257.3 366.4z" fill="#81ffac"/><path d="M329.4 326.4 348 298.4 330.4 287.7 311.9 315.1z" fill="#a7ff7b"/><path d="M420.8 271.7 439 250.6 420.9 240.3 402.7 260.7z" fill="#fff96b"/><path d="M604.2 246 621.5 235.7 602.3 224.2 585 233.9z" fill="#ffba42"/><path d="M457.3 261.8 475.5 242.9 457.2 232.4 439 250.6z" fill="#ffe365"/><path d="M567.5 246.4 585 233.9 566 222.7 548.5 234.5z" fill="#ffbc4c"/><path d="M494 254.3 512 237.5 493.4 226.8 475.5 242.9z" fill="#ffd15d"/><path d="M530.8 249.2 548.5 234.5 529.7 223.6 512 237.5z" fill="#ffc455"/><path d="M365.8 309.9 384.3 283.9 366.5 273.1 348 298.4z" fill="#c6ff77"/><path d="M310.7 357.3 329.4 326.4 311.9 315.1 293.2 345.3z" fill="#80ff83"/><path d="M402.3 295.6 420.8 271.7 402.7 260.7 384.3 283.9z" fill="#e1ff73"/><path d="M292 391 310.7 357.3 293.2 345.3 274.5 378.2z" fill="#83ffb8"/><path d="M439 283.6 457.3 261.8 439 250.6 420.8 271.7z" fill="#f9ff6e"/><path d="M347.1 338.7 365.8 309.9 348 298.4 329.4 326.4z" fill="#9eff7d"/><path d="M623.6 259.1 640.9 248.1 621.5 235.7 604.2 246z" fill="#ffce45"/><path d="M475.9 273.9 494 254.3 475.5 242.9 457.3 261.8z" fill="#fff168"/><path d="M586.7 259.2 604.2 246 585 233.9 567.5 246.4z" fill="#ffce4f"/><path d="M549.7 261.7 567.5 246.4 548.5 234.5 530.8 249.2z" fill="#ffd558"/><path d="M512.8 266.6 530.8 249.2 512 237.5 494 254.3z" fill="#ffe160"/><path d="M383.8 322.3 402.3 295.6 384.3 283.9 365.8 309.9z" fill="#bbff7a"/><path d="M328.4 370.3 347.1 338.7 329.4 326.4 310.7 357.3z" fill="#82ff90"/><path d="M420.6 308.1 439 283.6 420.8 271.7 402.3 295.6z" fill="#d5ff76"/><path d="M309.6 404.7 328.4 370.3 310.7 357.3 292 391z" fill="#85ffc5"/><path d="M457.5 296.4 475.9 273.9 457.3 261.8 439 283.6z" fill="#ecff71"/><path d="M365.1 351.8 383.8 322.3 365.8 309.9 347.1 338.7z" fill="#93ff7f"/><path d="M606.1 272.9 623.6 259.1 604.2 246 586.7 259.2z" fill="#ffe251"/><path d="M494.6 286.9 512.8 266.6 494 254.3 475.9 273.9z" fill="#feff6a"/><path d="M568.9 275.2 586.7 259.2 567.5 246.4 549.7 261.7z" fill="#ffe75b"/><path d="M531.7 279.9 549.7 261.7 530.8 249.2 512.8 266.6z" fill="#fff163"/><path d="M402 335.6 420.6 308.1 402.3 295.6 383.8 322.3z" fill="#b0ff7c"/><path d="M346.3 384.1 365.1 351.8 347.1 338.7 328.4 370.3z" fill="#84ff9f"/><path d="M439 321.7 457.5 296.4 439 283.6 420.6 308.1z" fill="#c8ff78"/><path d="M327.5 419.3 346.3 384.1 328.4 370.3 309.6 404.7z" fill="#87ffd3"/><path d="M476.2 310.1 494.6 286.9 475.9 273.9 457.5 296.4z" fill="#ddff73"/><path d="M383.3 365.8 402 335.6 383.8 322.3 365.1 351.8z" fill="#88ff81"/><path d="M588.3 289.6 606.1 272.9 586.7 259.2 568.9 275.2z" fill="#fffb5e"/><path d="M513.5 300.9 531.7 279.9 512.8 266.6 494.6 286.9z" fill="#eeff6d"/><path d="M550.9 294 568.9 275.2 549.7 261.7 531.7 279.9z" fill="#fbff66"/><path d="M420.4 349.8 439 321.7 420.6 308.1 402 335.6z" fill="#a3ff7e"/><path d="M364.4 398.9 383.3 365.8 365.1 351.8 346.3 384.1z" fill="#85ffae"/><path d="M457.7 336.1 476.2 310.1 457.5 296.4 439 321.7z" fill="#baff7a"/><path d="M495.2 324.7 513.5 300.9 494.6 286.9 476.2 310.1z" fill="#cdff75"/><path d="M345.6 434.8 364.4 398.9 346.3 384.1 327.5 419.3z" fill="#89ffe3"/><path d="M401.6 380.8 420.4 349.8 402 335.6 383.3 365.8z" fill="#83ff8c"/><path d="M532.7 315.7 550.9 294 531.7 279.9 513.5 300.9z" fill="#ddff6f"/><path d="M570.3 309.1 588.3 289.6 568.9 275.2 550.9 294z" fill="#e8ff68"/><path d="M439 365 457.7 336.1 439 321.7 420.4 349.8z" fill="#95ff80"/><path d="M382.8 414.6 401.6 380.8 383.3 365.8 364.4 398.9z" fill="#87ffbe"/><path d="M476.6 351.5 495.2 324.7 476.2 310.1 457.7 336.1z" fill="#abff7c"/><path d="M514.3 340.3 532.7 315.7 513.5 300.9 495.2 324.7z" fill="#bcff78"/><path d="M363.8 451.3 382.8 414.6 364.4 398.9 345.6 434.8z" fill="#8afff3"/><path d="M552 331.6 570.3 309.1 550.9 294 532.7 315.7z" fill="#caff72"/><path d="M420.2 396.7 439 365 420.4 349.8 401.6 380.8z" fill="#85ff9d"/><path d="M457.9 381.1 476.6 351.5 457.7 336.1 439 365z" fill="#85ff82"/><path d="M401.3 431.3 420.2 396.7 401.6 380.8 382.8 414.6z" fill="#89ffd0"/><path d="M495.7 367.8 514.3 340.3 495.2 324.7 476.6 351.5z" fill="#9aff7e"/><path d="M533.6 356.9 552 331.6 532.7 315.7 514.3 340.3z" fill="#abff7a"/><path d="M382.3 468.7 401.3 431.3 382.8 414.6 363.8 451.3z" fill="#8cfaff"/><path d="M439 413.6 457.9 381.1 439 365 420.2 396.7z" fill="#87ffb0"/><path d="M476.9 398.1 495.7 367.8 476.6 351.5 457.9 381.1z" fill="#84ff93"/><path d="M420.1 448.9 439 413.6 420.2 396.7 401.3 431.3z" fill="#8affe2"/><path d="M515 385.1 533.6 356.9 514.3 340.3 495.7 367.8z" fill="#89ff80"/><path d="M401 487.1 420.1 448.9 401.3 431.3 382.3 468.7z" fill="#8de8ff"/><path d="M458 431.4 476.9 398.1 457.9 381.1 439 413.6z" fill="#89ffc3"/><path d="M496.2 416.2 515 385.1 495.7 367.8 476.9 398.1z" fill="#86ffa8"/><path d="M439 467.5 458 431.4 439 413.6 420.1 448.9z" fill="#8cfff5"/><path d="M419.9 506.4 439 467.5 420.1 448.9 401 487.1z" fill="#8fd5ff"/><path d="M477.2 450.1 496.2 416.2 476.9 398.1 458 431.4z" fill="#8affd8"/><path d="M458.2 487 477.2 450.1 458 431.4 439 467.5z" fill="#8df5ff"/><path d="M439 526.7 458.2 487 439 467.5 419.9 506.4z" fill="#90c2ff"/></g>
<g fill="#000"><circle cx="103.7" cy="422.3" r="2.8"/><circle cx="100.4" cy="354.6" r="2.8"/><circle cx="97.1" cy="286.9" r="2.8"/><circle cx="93.9" cy="219.2" r="2.8"/><circle cx="90.6" cy="151.6" r="2.8"/><circle cx="87.3" cy="83.9" r="2.8"/><circle cx="108.8" cy="527.5" r="2.8"/><circle cx="769.5" cy="527.8" r="2.8"/><circle cx="191.4" cy="566.1" r="2.8"/><circle cx="686.9" cy="566.3" r="2.8"/><circle cx="273.9" cy="604.8" r="2.8"/><circle cx="604.3" cy="604.9" r="2.8"/><circle cx="356.5" cy="643.4" r="2.8"/><circle cx="521.7" cy="643.5" r="2.8"/><circle cx="439.1" cy="682" r="2.8"/></g>
<path d="M97.5 290 97.5 294" stroke="#111" stroke-width="1.3"/>
<circle cx="97.5" cy="290" r="6.4" fill="#c00000" stroke="#500" stroke-width="1.1"/>
<path d="M439.3 536.8 439 526.7" stroke="#111" stroke-width="1.3"/>
<circle cx="439.3" cy="536.8" r="6.4" fill="#f7c6c6" stroke="#333" stroke-width="1.1"/>
<path d="M782.3 270.3 782.1 267.1" stroke="#111" stroke-width="1.3"/>
<circle cx="782.3" cy="270.3" r="6.4" fill="#f7c6c6" stroke="#333" stroke-width="1.1"/>
<path d="M439.1 152.2 439 168.2" stroke="#111" stroke-width="1.3"/>
<circle cx="439.1" cy="152.2" r="6.4" fill="#c00000" stroke="#500" stroke-width="1.1"/>
<g font-family="DejaVu Sans Condensed, DejaVu Sans, sans-serif" font-size="22" fill="#1a1a1a"><text x="89.7" y="414.3" text-anchor="end">50</text><text x="86.4" y="346.6" text-anchor="end">60</text><text x="83.1" y="278.9" text-anchor="end">70</text><text x="79.9" y="211.2" text-anchor="end">80</text><text x="76.6" y="143.6" text-anchor="end">90</text><text x="73.3" y="75.9" text-anchor="end">100</text><text x="94.8" y="550.5" text-anchor="end">1</text><text x="783.5" y="550.8">1</text><text x="177.4" y="589.1" text-anchor="end">0.5</text><text x="700.9" y="589.3">0.5</text><text x="259.9" y="627.8" text-anchor="end">0</text><text x="618.3" y="627.9">0</text><text x="342.5" y="666.4" text-anchor="end">-0.5</text><text x="535.7" y="666.5">-0.5</text><text x="425.1" y="705" text-anchor="end">-1</text><text x="453.1" y="705">-1</text></g>
<g font-family="Liberation Serif, serif" font-size="26" fill="#111" lengthAdjust="spacing"><text x="5.2" y="673.6" textLength="252.8">C: Initial concentration</text><text x="693.7" y="671" textLength="68.5">A: pH</text></g>
<text transform="translate(30 269.7) rotate(-90)" x="-121" y="0" textLength="242" lengthAdjust="spacingAndGlyphs" font-family="Liberation Serif, serif" font-size="26.5" fill="#141a30">Removal efficiency, %</text>
<rect x="737" y="7.3" width="71.3" height="79.2" rx="11" fill="#fff" stroke="#000" stroke-width="2.8"/>
<text transform="translate(778.6 68.5) scale(0.82 1)" text-anchor="middle" font-family="Liberation Sans, sans-serif" font-size="42" fill="#000">a</text>
<path d="M1051.2 404.8 1039.1 74.4M1134.9 376.9 1126.9 55M1218.7 349 1214.7 35.6M1302.5 416 1302.5 16.2M1386.3 349.1 1390.3 35.6M1470.1 377 1478.1 55M1553.8 404.9 1565.9 74.4M1632.6 538.2 1653.7 93.8M972.4 538.1 951.3 93.8M967.4 432.7 1302.5 321.2M1302.5 321.2 1637.6 432.8M964.2 364.9 1302.5 260.2M1302.5 260.2 1640.8 365M961 297.1 1302.5 199.2M1302.5 199.2 1644 297.2M957.7 229.4 1302.5 138.2M1302.5 138.2 1647.3 229.4M954.5 161.6 1302.5 77.2M1302.5 77.2 1650.5 161.6M951.3 93.8 1302.5 16.2M1302.5 16.2 1653.7 93.8" stroke="#111" stroke-width="1.4" fill="none"/>
<path d="M972.4 538.1 1302.5 693.1 1632.6 538.2 1302.5 416z" fill="#5f5f5f"/>
<path d="M1074.1 585.8 1072.3 584.7 1069.5 583.1 1066.7 581.5 1063.9 579.9 1061.2 578.3 1059.3 577.2 1057.1 575.9 1054.4 574.3 1051.8 572.6 1049.1 571 1047.8 570.2 1045.2 568.6 1042.7 566.9 1040.1 565.3 1038.6 564.3 1036.4 562.8 1033.9 561.2 1031.4 559.5 1030.2 558.7 1027.8 557.1 1025.4 555.4 1023.5 554.1 1021.9 552.9 1019.6 551.3 1017.3 549.6 1016.1 548.8 1013.9 547.1 1011.7 545.5 1010.6 544.6 1008.4 543 1006.4 541.4 1005.1 540.5 1003 538.8 1001.6 537.7 999.9 536.3 997.8 534.6 996.8 533.7 994.8 532.1 993.2 530.7 992.8 530.4" stroke="#00ff8f" stroke-width="3" fill="none"/>
<path d="M1323.9 683.2 1319.9 682.2 1316.7 681.3 1311.9 680.1 1309.6 679.4 1304.9 678.2 1302.1 677.4 1297.9 676.2 1293.4 674.9 1291.1 674.3 1286.5 672.9 1282.8 671.8 1279.8 670.9 1275.3 669.6 1272.3 668.7 1268.7 667.6 1264.4 666.2 1261.3 665.2 1257.9 664.2 1253.6 662.8 1249.4 661.4 1247.2 660.7 1243 659.3 1238.9 657.9 1236.5 657.1 1232.7 655.8 1228.6 654.3 1224.5 652.9 1222.3 652.1 1218.5 650.7 1214.5 649.3 1210.5 647.9 1206.6 646.4 1204.7 645.7 1200.8 644.2 1196.9 642.7 1193.1 641.3 1189.3 639.8 1186.3 638.6 1186.3 638.6" stroke="#00ff8f" stroke-width="3" fill="none"/>
<path d="M1591.3 522.7 1593.5 524.1 1595.8 525.6 1597.6 526.8 1600.1 528.4 1601.7 529.4 1604.3 531.2 1605.7 532.1 1608.3 533.9 1609.7 534.8 1612.2 536.5 1613.7 537.6 1615.9 539.1 1617.6 540.4 1619.5 541.7 1621.6 543.2 1621.6 543.2" stroke="#00ff8f" stroke-width="3" fill="none"/>
<path d="M1349.6 671.1 1345.8 670.3 1342.1 669.4 1338.4 668.6 1334.7 667.7 1330.7 666.7 1327.5 665.9 1322.7 664.8 1320.3 664.2 1315.6 663 1313.2 662.3 1308.6 661.1 1305.7 660.4 1301.7 659.2 1297.1 658 1294.8 657.4 1290.3 656.1 1287.2 655.2 1283.6 654.2 1279.2 652.9 1277 652.2 1272.7 650.9 1268.3 649.6 1266.2 648.9 1261.9 647.6 1257.7 646.2 1254.8 645.3 1251.4 644.2 1247.3 642.8 1243.1 641.5 1241.1 640.8 1237 639.4 1233 638 1229 636.6 1227 635.9 1223.1 634.5 1219.2 633.1 1215.3 631.6 1211.4 630.2 1209.5 629.5 1205.7 628.1 1201.9 626.6 1198.2 625.2 1194.4 623.7 1190.8 622.3 1188.9 621.5 1185.3 620.1 1181.7 618.6 1178.1 617.1 1174.5 615.6 1171 614.1 1167.5 612.6 1164.1 611.1 1160.6 609.6 1157.2 608.1 1153.8 606.6 1150.5 605.1 1147.2 603.6 1143.9 602.1 1140.6 600.5 1137.4 599 1134.2 597.5 1131 595.9 1127.8 594.4 1124.7 592.8 1121.6 591.3 1118.5 589.7 1115.5 588.1 1112.5 586.6 1109.5 585 1106.5 583.4 1103.9 582.1 1102.1 581.1 1099.2 579.5 1096.4 577.9 1093.5 576.3 1090.7 574.7 1087.9 573.1 1086.5 572.3 1083.8 570.7 1081.1 569.1 1078.4 567.5 1075.7 565.9 1074.4 565.1 1071.8 563.5 1069.2 561.9 1066.6 560.3 1065.4 559.4 1062.8 557.8 1060.3 556.2 1057.9 554.6 1056.7 553.7 1054.2 552.1 1051.8 550.5 1050.6 549.6 1048.3 548 1046 546.3 1044.4 545.2 1042.5 543.9 1040.3 542.2 1038.8 541.1 1036.9 539.7 1034.8 538 1033.7 537.2 1031.5 535.5 1029.4 533.9 1028.4 533 1026.3 531.3 1025 530.3 1023.3 528.8 1021.3 527.1 1020.3 526.3 1018.3 524.6 1017.4 523.7 1015.5 522 1015.5 522" stroke="#00ff19" stroke-width="3" fill="none"/>
<path d="M1300.4 417 1303.9 417.9 1305.6 418.4 1309.1 419.2 1312.6 420.2 1314.4 420.6 1314.4 420.6" stroke="#00ff19" stroke-width="3" fill="none"/>
<path d="M1497.3 488.1 1499.5 489.2 1502.4 490.6 1505.3 492.1 1506.7 492.8 1509.6 494.3 1512.5 495.8 1514 496.6 1516.8 498.1 1519.7 499.6 1521.2 500.4 1523.9 501.9 1526.8 503.5 1528.2 504.2 1531 505.8 1533.8 507.4 1535.2 508.2 1538 509.8 1539.9 510.9 1542.1 512.2 1544.9 513.9 1546.3 514.7 1549 516.4 1550.4 517.2 1553.1 518.9 1555.3 520.2 1557.2 521.4 1559.9 523.1 1561.2 524 1563.9 525.7 1565.2 526.6 1567.9 528.4 1569.2 529.3 1571.8 531.1 1573.1 532 1575.7 533.8 1577 534.7 1579.6 536.5 1580.9 537.5 1583.5 539.3 1584.7 540.3 1586.8 541.9 1588.5 543.1 1590.1 544.3 1592.3 546 1593.5 547 1596 548.9 1597.2 549.9 1599 551.4 1600.8 552.9 1600.8 552.9" stroke="#00ff19" stroke-width="3" fill="none"/>
<path d="M1380.6 656.5 1375.8 655.7 1372.6 655.2 1369.8 654.7 1364.7 653.7 1362.1 653.2 1357.2 652.3 1354.4 651.7 1350.5 650.9 1346.9 650.2 1343.7 649.5 1339.5 648.6 1336.6 648 1332.2 646.9 1329.3 646.3 1325 645.3 1321.7 644.5 1317.9 643.6 1313.7 642.5 1310.9 641.8 1306.3 640.6 1304 640 1299.5 638.8 1296.6 638 1292.8 637 1288.3 635.8 1286.1 635.1 1281.8 633.9 1277.5 632.6 1275.3 632 1271.1 630.7 1266.8 629.4 1264.7 628.8 1260.6 627.5 1256.4 626.1 1254.4 625.5 1250.3 624.2 1246.3 622.8 1242.3 621.5 1240.3 620.8 1236.4 619.4 1232.4 618.1 1228.6 616.7 1226.1 615.8 1222.8 614.6 1219 613.2 1215.3 611.8 1211.5 610.4 1207.9 609 1206 608.3 1202.4 606.8 1198.8 605.4 1195.2 604 1191.7 602.5 1188.1 601.1 1184.7 599.6 1181.2 598.1 1177.8 596.7 1174.4 595.2 1171.1 593.7 1167.7 592.2 1164.4 590.7 1161.2 589.2 1157.9 587.7 1154.7 586.2 1151.6 584.7 1148.4 583.2 1145.3 581.6 1142.2 580.1 1139.2 578.6 1136.2 577 1133.2 575.5 1130.2 573.9 1127.5 572.5 1125.8 571.6 1123 570 1120.1 568.5 1117.3 566.9 1114.5 565.3 1111.8 563.8 1110.3 562.9 1107.6 561.4 1104.9 559.8 1102.3 558.2 1100.7 557.2 1098.3 555.8 1095.8 554.2 1093.2 552.5 1091.8 551.6 1089.4 550.1 1087 548.5 1084.5 546.9 1083.3 546.1 1080.9 544.4 1078.5 542.8 1077.4 542 1075 540.3 1072.8 538.7 1071.6 537.8 1069.4 536.2 1067.2 534.5 1066.1 533.7 1063.9 532 1062.6 530.9 1060.7 529.5 1058.7 527.8 1057.6 527 1055.6 525.3 1054.6 524.4 1052.7 522.7 1051.1 521.4 1049.8 520.2 1047.9 518.5 1046.9 517.6 1045.1 515.9 1044.2 515 1042.4 513.3 1041.6 512.4 1041.6 512.4" stroke="#5eff00" stroke-width="3" fill="none"/>
<path d="M1278.6 425 1280.5 425.5 1284.1 426.3 1287.1 427 1289.5 427.6 1293.1 428.5 1295.6 429.1 1298.5 429.8 1302 430.7 1305 431.5 1307.3 432.1 1310.8 433 1314.3 434 1316.1 434.4 1319.5 435.4 1323 436.4 1326.4 437.3 1328.1 437.8 1331.5 438.8 1334.9 439.8 1338.3 440.8 1341.7 441.9 1343.4 442.4 1346.7 443.4 1350.1 444.5 1353.4 445.5 1356.7 446.6 1360 447.6 1363.2 448.7 1364.9 449.3 1368.2 450.4 1371.4 451.5 1374.7 452.6 1377.9 453.7 1381.1 454.9 1384.3 456 1387.5 457.2 1390.7 458.4 1393.9 459.5 1397 460.7 1400.2 461.9 1403.3 463.1 1406.5 464.4 1409.6 465.6 1412.7 466.8 1415.8 468.1 1418.9 469.3 1421.7 470.5 1423.5 471.2 1426.5 472.5 1429.6 473.8 1432.6 475.1 1435.7 476.4 1438.7 477.8 1441.5 479 1443.2 479.8 1446.2 481.1 1449.2 482.5 1452.1 483.9 1455 485.2 1456.6 486 1459.5 487.4 1462.4 488.8 1465.3 490.2 1466.8 490.9 1469.7 492.4 1472.6 493.9 1474.9 495 1476.9 496.1 1479.8 497.6 1482.6 499.1 1484 499.8 1486.9 501.3 1489.7 502.9 1491.1 503.7 1493.9 505.2 1496.6 506.7 1498 507.6 1500.8 509.2 1502.6 510.2 1504.9 511.6 1507.7 513.2 1509 514 1511.7 515.7 1513.4 516.7 1515.7 518.2 1518.2 519.7 1519.7 520.7 1522.4 522.4 1523.7 523.3 1526.3 525 1527.6 525.9 1530.2 527.7 1531.5 528.6 1534 530.3 1535.3 531.2 1537.9 533.1 1539.1 534 1541.6 535.8 1542.8 536.8 1545.3 538.6 1546.5 539.6 1548.5 541.1 1550.2 542.4 1551.5 543.5 1553.7 545.4 1554.9 546.4 1557.1 548.2 1558.4 549.3 1559.7 550.5 1561.9 552.4 1563 553.4 1564.6 554.9 1566.3 556.5 1567.4 557.6 1569 559.1 1570.6 560.8 1571.7 561.9 1573 563.3 1574.8 565.2 1574.8 565.2" stroke="#5eff00" stroke-width="3" fill="none"/>
<path d="M1424.5 635.9 1421.2 635.7 1418 635.6 1414.8 635.4 1411.6 635.2 1407.9 634.9 1403.5 634.5 1399.4 634.2 1396.5 633.9 1393.5 633.6 1389.5 633.1 1384.9 632.6 1382.1 632.3 1379.3 631.9 1374.4 631.2 1371.1 630.7 1368.4 630.3 1363.5 629.6 1360.4 629.1 1357.7 628.6 1352.6 627.7 1350.1 627.3 1345.7 626.5 1342.5 625.9 1339.3 625.2 1335.1 624.4 1332.7 623.9 1327.9 622.9 1325.5 622.3 1320.7 621.3 1318.4 620.7 1313.8 619.7 1310.9 619 1306.9 618 1302.9 617 1300.1 616.3 1295.7 615.1 1293.5 614.5 1289.2 613.4 1285.1 612.2 1282.7 611.6 1278.5 610.3 1275.1 609.4 1272.2 608.5 1268.1 607.2 1264 606 1261.9 605.3 1257.9 604 1253.9 602.7 1251.3 601.9 1248.1 600.8 1244.2 599.5 1240.3 598.1 1236.5 596.8 1234.7 596.1 1230.9 594.8 1227.2 593.4 1223.6 592 1219.9 590.6 1216.3 589.2 1213.8 588.3 1211 587.1 1207.5 585.7 1204.1 584.3 1200.6 582.9 1197.3 581.4 1193.9 580 1190.6 578.5 1187.3 577.1 1184.1 575.6 1180.8 574.1 1177.7 572.6 1174.5 571.2 1171.4 569.7 1168.3 568.2 1165.3 566.6 1163.8 565.9 1160.8 564.4 1157.9 562.8 1154.9 561.3 1152.1 559.8 1149.2 558.2 1146.4 556.7 1145 555.9 1142.2 554.3 1139.5 552.8 1136.8 551.2 1134.7 549.9 1132.8 548.8 1130.2 547.2 1127.7 545.6 1126.1 544.6 1123.9 543.2 1121.4 541.6 1118.9 540 1117.7 539.2 1115.4 537.5 1113 535.9 1111.8 535.1 1109.5 533.4 1107.6 532 1106.2 530.9 1104 529.3 1102.9 528.4 1100.7 526.7 1098.8 525.2 1097.6 524.2 1095.5 522.5 1094.5 521.7 1092.6 520 1091.6 519.1 1089.7 517.4 1088.6 516.4 1086.9 514.8 1085.8 513.8 1084.2 512.2 1083.3 511.2 1081.6 509.5 1080.8 508.6 1079.1 506.8 1078.3 506 1076.8 504.2 1076 503.3 1074.9 501.9 1073.8 500.5 1073.8 500.5" stroke="#d4ff00" stroke-width="3" fill="none"/>
<path d="M1250.7 435.3 1253.7 435.9 1256.7 436.4 1259.9 437.1 1262.5 437.6 1266.4 438.4 1268.3 438.8 1272.1 439.7 1274 440.1 1277.8 440.9 1280.9 441.6 1283.3 442.2 1287 443.1 1289 443.6 1292.5 444.5 1296.1 445.4 1298 445.8 1301.5 446.8 1305.1 447.7 1308.1 448.6 1310.4 449.2 1313.9 450.2 1317.4 451.2 1320.1 451.9 1322.6 452.7 1326 453.7 1329.5 454.8 1332.9 455.8 1335.4 456.6 1337.9 457.4 1341.3 458.5 1344.6 459.6 1348 460.7 1351.3 461.8 1354.6 462.9 1357.8 464.1 1361.1 465.2 1364.1 466.3 1365.9 467 1369.1 468.1 1372.3 469.3 1375.5 470.5 1378.7 471.8 1381.8 473 1383.9 473.8 1386.5 474.9 1389.7 476.1 1392.8 477.4 1395.8 478.7 1398.9 480 1402 481.3 1405 482.6 1408 483.9 1411 485.3 1412.5 485.9 1415.5 487.3 1418.5 488.7 1421.5 490.1 1424.4 491.5 1425.9 492.2 1428.8 493.6 1431.7 495 1434.6 496.5 1436 497.2 1438.9 498.7 1441.7 500.2 1443.9 501.3 1445.9 502.4 1448.7 504 1451.3 505.4 1452.9 506.3 1455.7 507.8 1457.8 509.1 1459.8 510.2 1462.5 511.8 1463.8 512.6 1466.5 514.2 1469.1 515.8 1470.5 516.7 1473.1 518.4 1474.4 519.2 1477 520.9 1478.5 521.9 1480.8 523.5 1482.7 524.8 1484.6 526.1 1486.6 527.5 1488.4 528.8 1490.3 530.2 1492 531.5 1493.7 532.8 1495.6 534.3 1496.9 535.3 1499.2 537.1 1500.3 538.1 1502.7 540 1503.8 541 1505.5 542.4 1507.1 543.9 1508.2 544.9 1510.4 546.9 1511.5 547.9 1512.6 549 1514.6 551 1515.6 552.1 1516.7 553.2 1518.6 555.2 1519.6 556.4 1520.6 557.5 1522 559.2 1523.3 560.8 1524.2 562 1525.1 563.1 1526.4 564.8 1527.6 566.7 1528.4 567.9 1529.2 569.1 1529.9 570.3 1530.9 571.9 1531.8 573.6 1532.7 575.3 1533.3 576.7 1533.9 578 1534.4 579.3 1534.9 580.7 1535.4 582.1 1535.8 583.5 1535.8 583.5" stroke="#d4ff00" stroke-width="3" fill="none"/>
<path d="M1204.8 452.2 1207.5 452.4 1210.1 452.5 1212.7 452.7 1215.9 452.9 1219.8 453.2 1222.7 453.5 1225.1 453.8 1228 454.1 1232.1 454.6 1234.4 454.9 1236.9 455.2 1241.1 455.8 1243.3 456.1 1246.7 456.6 1249.8 457.1 1252 457.5 1256.1 458.2 1258.1 458.6 1262.2 459.4 1264.2 459.8 1268.2 460.6 1270.2 461 1274.1 461.9 1277.2 462.6 1279.9 463.2 1283.7 464.1 1285.6 464.5 1289.4 465.5 1293.1 466.4 1294.9 466.9 1298.6 467.9 1302.2 468.9 1304.5 469.6 1307.5 470.4 1311.1 471.5 1314.6 472.5 1318 473.6 1319.8 474.2 1323.2 475.3 1326.6 476.4 1329.9 477.5 1333.3 478.7 1336.6 479.8 1339.9 481 1343.1 482.2 1346.4 483.4 1349.6 484.7 1352.7 485.9 1355.9 487.2 1359 488.5 1362.1 489.8 1365.2 491.1 1368.3 492.4 1371.3 493.8 1374.3 495.1 1377.3 496.5 1378.8 497.2 1381.7 498.6 1384.6 500 1387.5 501.5 1389.8 502.7 1391.8 503.7 1394.6 505.2 1397.4 506.7 1398.8 507.4 1401.5 509 1404.3 510.5 1405.6 511.3 1408.3 512.9 1410.9 514.5 1412.2 515.3 1414.8 516.9 1416.6 518.1 1418.7 519.5 1421.2 521.1 1422.4 522 1424.9 523.7 1426.1 524.6 1428.5 526.4 1429.7 527.3 1432 529.1 1433.1 530 1435.3 531.8 1436.5 532.8 1438 534.1 1439.8 535.7 1440.8 536.7 1442.9 538.6 1443.9 539.6 1445 540.8 1446.8 542.7 1447.7 543.7 1448.7 544.8 1450.3 546.8 1451.3 548 1452.1 549.1 1453.1 550.5 1454.3 552.3 1455.2 553.7 1455.8 554.9 1456.5 556.1 1457.2 557.5 1457.9 559.1 1458.5 560.7 1459.1 562.3 1459.5 563.8 1459.8 565.2 1460 566.6 1460.2 568.1 1460.2 569.5 1460.2 570.9 1460.1 572.2 1459.9 573.5 1459.6 574.7 1459.1 576.2 1458.3 578.1 1457.6 579.5 1456.9 580.6 1455.5 582.6 1454.4 583.7 1452.7 585.4 1451.2 586.6 1448.7 588.4 1446.3 589.9 1444.4 590.9 1441.1 592.4 1438.7 593.4 1435.6 594.4 1431.6 595.6 1428.6 596.4 1424.9 597.2 1422.3 597.7 1417.4 598.4 1414.8 598.8 1412 599.1 1407.9 599.4 1403.8 599.7 1400.1 599.9 1396.8 600 1393.5 600.1 1390 600.1 1386.5 600 1382.8 599.9 1379.3 599.8 1376.1 599.6 1373.1 599.5 1370 599.3 1366.6 599 1362.2 598.6 1358.5 598.2 1355.7 597.9 1352.9 597.6 1347.9 596.9 1344.9 596.5 1342.3 596.1 1337.3 595.4 1334.6 594.9 1331.7 594.4 1327.2 593.6 1324.7 593.2 1319.9 592.2 1317.6 591.8 1312.9 590.8 1310.6 590.3 1306.1 589.3 1303.8 588.7 1299.4 587.7 1297.2 587.1 1292.8 586 1289.4 585.1 1286.5 584.4 1282.3 583.2 1280 582.6 1276.1 581.4 1272.1 580.2 1269.1 579.3 1266.2 578.4 1262.3 577.2 1258.4 575.9 1255.8 575 1252.8 574 1249.1 572.7 1245.4 571.4 1241.8 570 1238.2 568.7 1235.4 567.6 1233 566.7 1229.5 565.3 1226.1 563.9 1222.8 562.5 1219.4 561.1 1216.2 559.7 1213 558.3 1209.8 556.8 1206.7 555.4 1203.6 553.9 1201 552.6 1199 551.7 1196.1 550.2 1193.1 548.7 1190.2 547.2 1187.4 545.7 1184.6 544.1 1183.2 543.3 1180.5 541.8 1177.8 540.2 1175.2 538.7 1173.9 537.9 1171.3 536.3 1168.8 534.7 1167.3 533.7 1165.1 532.3 1162.7 530.6 1161.4 529.7 1159.2 528.2 1156.9 526.5 1155.8 525.7 1153.6 524 1152.3 523 1150.4 521.4 1148.7 520 1147.4 518.9 1145.5 517.2 1144.4 516.3 1142.7 514.6 1141.6 513.6 1140.2 512.1 1139 510.9 1137.9 509.8 1136.5 508.2 1135.7 507.3 1134.2 505.5 1133.4 504.5 1132.5 503.4 1131.3 501.7 1130.7 500.7 1129.9 499.5 1128.9 497.8 1128.3 496.9 1127.8 495.9 1127 494.2 1126.4 492.8 1125.9 491.8 1125.6 490.8 1125.1 489.4 1124.7 487.9 1124.4 486.5 1124.3 485.4 1124.2 484.3 1124.1 483.1 1124.1 482 1124.1 482" stroke="#ffb400" stroke-width="3" fill="none"/>
<path d="M972.4 538.1 1302.5 693.1 1632.6 538.2 M972.4 538.1 1302.5 416 1632.6 538.2" stroke="#000" stroke-width="2" fill="none"/>
<g stroke="#111" stroke-width="1.25" stroke-linejoin="round"><path d="M1302.5 183.6 1317.8 197.5 1302.5 196.5 1287.2 182.8z" fill="#15990e"/><path d="M1318 185 1333.2 199.1 1317.8 197.5 1302.5 183.6z" fill="#1d990e"/><path d="M1287 171.6 1302.5 183.6 1287.2 182.8 1271.7 171z" fill="#40990d"/><path d="M1333.7 187 1348.8 201.3 1333.2 199.1 1318 185z" fill="#24990e"/><path d="M1302.5 172.9 1318 185 1302.5 183.6 1287 171.6z" fill="#48990d"/><path d="M1271.2 161.7 1287 171.6 1271.7 171 1255.9 161.2z" fill="#66990c"/><path d="M1349.5 189.6 1364.7 204 1348.8 201.3 1333.7 187z" fill="#29990e"/><path d="M1318.2 174.7 1333.7 187 1318 185 1302.5 172.9z" fill="#4f990d"/><path d="M1286.8 162.8 1302.5 172.9 1287 171.6 1271.2 161.7z" fill="#6f990c"/><path d="M1255.2 153.9 1271.2 161.7 1255.9 161.2 1239.9 153.5z" fill="#7f900a"/><path d="M1365.6 192.8 1380.7 207.4 1364.7 204 1349.5 189.6z" fill="#2d990e"/><path d="M1334.1 177.2 1349.5 189.6 1333.7 187 1318.2 174.7z" fill="#55990d"/><path d="M1302.5 164.5 1318.2 174.7 1302.5 172.9 1286.8 162.8z" fill="#74970c"/><path d="M1270.8 154.9 1286.8 162.8 1271.2 161.7 1255.2 153.9z" fill="#848d0a"/><path d="M1239 148.2 1255.2 153.9 1239.9 153.5 1223.7 148z" fill="#817908"/><path d="M1381.8 196.6 1396.9 211.4 1380.7 207.4 1365.6 192.8z" fill="#2f990e"/><path d="M1350.2 180.2 1365.6 192.8 1349.5 189.6 1334.1 177.2z" fill="#59990d"/><path d="M1318.4 166.8 1334.1 177.2 1318.2 174.7 1302.5 164.5z" fill="#77940c"/><path d="M1286.5 156.4 1302.5 164.5 1286.8 162.8 1270.8 154.9z" fill="#88890a"/><path d="M1398.2 201.1 1413.2 216 1396.9 211.4 1381.8 196.6z" fill="#30990f"/><path d="M1254.6 149 1270.8 154.9 1255.2 153.9 1239 148.2z" fill="#7d6e08"/><path d="M1222.6 144.7 1239 148.2 1223.7 148 1207.3 144.6z" fill="#705906"/><path d="M1366.5 183.9 1381.8 196.6 1365.6 192.8 1350.2 180.2z" fill="#5c990e"/><path d="M1334.5 169.7 1350.2 180.2 1334.1 177.2 1318.4 166.8z" fill="#79910c"/><path d="M1414.8 206.2 1429.8 221.2 1413.2 216 1398.2 201.1z" fill="#30990f"/><path d="M1302.5 158.6 1318.4 166.8 1302.5 164.5 1286.5 156.4z" fill="#85820a"/><path d="M1270.4 150.4 1286.5 156.4 1270.8 154.9 1254.6 149z" fill="#796408"/><path d="M1206 143.4 1222.6 144.7 1207.3 144.6 1190.7 143.4z" fill="#5e4005"/><path d="M1238.2 145.4 1254.6 149 1239 148.2 1222.6 144.7z" fill="#6c4f06"/><path d="M1382.9 188.2 1398.2 201.1 1381.8 196.6 1366.5 183.9z" fill="#5c970e"/><path d="M1350.8 173.3 1366.5 183.9 1350.2 180.2 1334.5 169.7z" fill="#798d0c"/><path d="M1431.6 211.9 1446.5 227.1 1429.8 221.2 1414.8 206.2z" fill="#2e990f"/><path d="M1318.6 161.3 1334.5 169.7 1318.4 166.8 1302.5 158.6z" fill="#827a0a"/><path d="M1286.3 152.5 1302.5 158.6 1286.5 156.4 1270.4 150.4z" fill="#755c08"/><path d="M1189.2 144.5 1206 143.4 1190.7 143.4 1173.9 144.6z" fill="#9b6619"/><path d="M1254 146.7 1270.4 150.4 1254.6 149 1238.2 145.4z" fill="#684606"/><path d="M1221.6 144 1238.2 145.4 1222.6 144.7 1206 143.4z" fill="#5a3705"/><path d="M1399.6 193.1 1414.8 206.2 1398.2 201.1 1382.9 188.2z" fill="#5a940d"/><path d="M1367.4 177.4 1382.9 188.2 1366.5 183.9 1350.8 173.3z" fill="#778a0c"/><path d="M1448.6 218.3 1463.4 233.6 1446.5 227.1 1431.6 211.9z" fill="#2b990f"/><path d="M1335 164.7 1350.8 173.3 1334.5 169.7 1318.6 161.3z" fill="#7e740a"/><path d="M1172.2 147.8 1189.2 144.5 1173.9 144.6 1156.9 148z" fill="#bc7723"/><path d="M1302.5 155.1 1318.6 161.3 1302.5 158.6 1286.3 152.5z" fill="#715508"/><path d="M1416.4 198.7 1431.6 211.9 1414.8 206.2 1399.6 193.1z" fill="#56910d"/><path d="M1204.8 145 1221.6 144 1206 143.4 1189.2 144.5z" fill="#a36119"/><path d="M1269.9 148.6 1286.3 152.5 1270.4 150.4 1254 146.7z" fill="#643f06"/><path d="M1237.3 145.2 1254 146.7 1238.2 145.4 1221.6 144z" fill="#553004"/><path d="M1465.8 225.3 1480.5 240.7 1463.4 233.6 1448.6 218.3z" fill="#26970f"/><path d="M1384.1 182.2 1399.6 193.1 1382.9 188.2 1367.4 177.4z" fill="#74860b"/><path d="M1351.5 168.8 1367.4 177.4 1350.8 173.3 1335 164.7z" fill="#7a6f0a"/><path d="M1155.1 153.6 1172.2 147.8 1156.9 148 1139.8 153.8z" fill="#dc8f2f"/><path d="M1433.5 205 1448.6 218.3 1431.6 211.9 1416.4 198.7z" fill="#528e0d"/><path d="M1318.9 158.4 1335 164.7 1318.6 161.3 1302.5 155.1z" fill="#6d5008"/><path d="M1187.8 148.2 1204.8 145 1189.2 144.5 1172.2 147.8z" fill="#c47124"/><path d="M1286.1 151.2 1302.5 155.1 1286.3 152.5 1269.9 148.6z" fill="#5f3906"/><path d="M1220.5 146.1 1237.3 145.2 1221.6 144 1204.8 145z" fill="#ac5c1a"/><path d="M1253.3 147 1269.9 148.6 1254 146.7 1237.3 145.2z" fill="#925011"/><path d="M1483.1 233 1497.8 248.6 1480.5 240.7 1465.8 225.3z" fill="#20950f"/><path d="M1401 187.7 1416.4 198.7 1399.6 193.1 1384.1 182.2z" fill="#70830b"/><path d="M1368.3 173.5 1384.1 182.2 1367.4 177.4 1351.5 168.8z" fill="#776c09"/><path d="M1137.8 161.7 1155.1 153.6 1139.8 153.8 1122.5 162z" fill="#faae3d"/><path d="M1450.7 211.9 1465.8 225.3 1448.6 218.3 1433.5 205z" fill="#4c8b0d"/><path d="M1335.4 162.3 1351.5 168.8 1335 164.7 1318.9 158.4z" fill="#694c08"/><path d="M1170.6 153.9 1187.8 148.2 1172.2 147.8 1155.1 153.6z" fill="#e58730"/><path d="M1500.6 241.4 1515.2 257.1 1497.8 248.6 1483.1 233z" fill="#18920f"/><path d="M1302.5 154.3 1318.9 158.4 1302.5 155.1 1286.1 151.2z" fill="#5b3406"/><path d="M1203.5 149.3 1220.5 146.1 1204.8 145 1187.8 148.2z" fill="#cd6b24"/><path d="M1269.5 149.5 1286.1 151.2 1269.9 148.6 1253.3 147z" fill="#9a4f11"/><path d="M1236.5 147.8 1253.3 147 1237.3 145.2 1220.5 146.1z" fill="#b4581a"/><path d="M1418 193.8 1433.5 205 1416.4 198.7 1401 187.7z" fill="#6b800b"/><path d="M1120.4 172.3 1137.8 161.7 1122.5 162 1105.2 172.6z" fill="#ffc446"/><path d="M1385.2 178.8 1401 187.7 1384.1 182.2 1368.3 173.5z" fill="#736909"/><path d="M1468.1 219.5 1483.1 233 1465.8 225.3 1450.7 211.9z" fill="#45880d"/><path d="M1153.3 162 1170.6 153.9 1155.1 153.6 1137.8 161.7z" fill="#ffa33e"/><path d="M1518.3 250.5 1532.9 266.3 1515.2 257.1 1500.6 241.4z" fill="#0f8f0e"/><path d="M1352.2 166.9 1368.3 173.5 1351.5 168.8 1335.4 162.3z" fill="#654907"/><path d="M1186.3 154.9 1203.5 149.3 1187.8 148.2 1170.6 153.9z" fill="#ee8031"/><path d="M1319.1 158.2 1335.4 162.3 1318.9 158.4 1302.5 154.3z" fill="#573106"/><path d="M1435.3 200.6 1450.7 211.9 1433.5 205 1418 193.8z" fill="#657c0b"/><path d="M1219.5 150.9 1236.5 147.8 1220.5 146.1 1203.5 149.3z" fill="#d66525"/><path d="M1285.9 152.6 1302.5 154.3 1286.1 151.2 1269.5 149.5z" fill="#a24e11"/><path d="M1252.7 150.2 1269.5 149.5 1253.3 147 1236.5 147.8z" fill="#bc551a"/><path d="M1102.8 185.3 1120.4 172.3 1105.2 172.6 1087.7 185.7z" fill="#ffdc4e"/><path d="M1485.7 227.8 1500.6 241.4 1483.1 233 1468.1 219.5z" fill="#3d840d"/><path d="M1402.3 184.8 1418 193.8 1401 187.7 1385.2 178.8z" fill="#6f6809"/><path d="M1536.2 260.3 1550.6 276.2 1532.9 266.3 1518.3 250.5z" fill="#0e8c17"/><path d="M1135.8 172.5 1153.3 162 1137.8 161.7 1120.4 172.3z" fill="#ffb646"/><path d="M1369.2 172.2 1385.2 178.8 1368.3 173.5 1352.2 166.9z" fill="#624607"/><path d="M1169 162.9 1186.3 154.9 1170.6 153.9 1153.3 162z" fill="#ff963d"/><path d="M1452.8 208.1 1468.1 219.5 1450.7 211.9 1435.3 200.6z" fill="#5e790b"/><path d="M1085.2 200.9 1102.8 185.3 1087.7 185.7 1070.1 201.2z" fill="#fff955"/><path d="M1335.9 162.6 1352.2 166.9 1335.4 162.3 1319.1 158.2z" fill="#8f500a"/><path d="M1202.3 156.5 1219.5 150.9 1203.5 149.3 1186.3 154.9z" fill="#f77a32"/><path d="M1302.5 156.3 1319.1 158.2 1302.5 154.3 1285.9 152.6z" fill="#a94f11"/><path d="M1235.6 153.2 1252.7 150.2 1236.5 147.8 1219.5 150.9z" fill="#de6125"/><path d="M1269.1 153.1 1285.9 152.6 1269.5 149.5 1252.7 150.2z" fill="#c4531a"/><path d="M1503.5 236.8 1518.3 250.5 1500.6 241.4 1485.7 227.8z" fill="#35810c"/><path d="M1554.3 270.9 1568.6 286.8 1550.6 276.2 1536.2 260.3z" fill="#0e8921"/><path d="M1419.7 191.5 1435.3 200.6 1418 193.8 1402.3 184.8z" fill="#6c6709"/><path d="M1118.2 185.6 1135.8 172.5 1120.4 172.3 1102.8 185.3z" fill="#ffce4e"/><path d="M1067.5 218.9 1085.2 200.9 1070.1 201.2 1052.4 219.3z" fill="#e4ff5b"/><path d="M1386.3 178.1 1402.3 184.8 1385.2 178.8 1369.2 172.2z" fill="#5e4507"/><path d="M1151.5 173.4 1169 162.9 1153.3 162 1135.8 172.5z" fill="#ffa946"/><path d="M1470.4 216.3 1485.7 227.8 1468.1 219.5 1452.8 208.1z" fill="#56760b"/><path d="M1352.9 167.8 1369.2 172.2 1352.2 166.9 1335.9 162.6z" fill="#96540a"/><path d="M1184.9 164.4 1202.3 156.5 1186.3 154.9 1169 162.9z" fill="#ff8b3c"/><path d="M1521.4 246.5 1536.2 260.3 1518.3 250.5 1503.5 236.8z" fill="#2b7e0c"/><path d="M1572.5 282.1 1586.8 298.2 1568.6 286.8 1554.3 270.9z" fill="#0e862c"/><path d="M1100.5 201.1 1118.2 185.6 1102.8 185.3 1085.2 200.9z" fill="#ffeb55"/><path d="M1319.3 160.7 1335.9 162.6 1319.1 158.2 1302.5 156.3z" fill="#b15011"/><path d="M1218.4 158.7 1235.6 153.2 1219.5 150.9 1202.3 156.5z" fill="#ff7433"/><path d="M1285.7 156.8 1302.5 156.3 1285.9 152.6 1269.1 153.1z" fill="#cc531a"/><path d="M1252 156.1 1269.1 153.1 1252.7 150.2 1235.6 153.2z" fill="#e75e26"/><path d="M1049.6 239.5 1067.5 218.9 1052.4 219.3 1034.6 239.8z" fill="#bfff61"/><path d="M1437.2 198.9 1452.8 208.1 1435.3 200.6 1419.7 191.5z" fill="#686809"/><path d="M1133.9 186.4 1151.5 173.4 1135.8 172.5 1118.2 185.6z" fill="#ffc24e"/><path d="M1403.7 184.7 1419.7 191.5 1402.3 184.8 1386.3 178.1z" fill="#5a4507"/><path d="M1488.3 225.2 1503.5 236.8 1485.7 227.8 1470.4 216.3z" fill="#4d720b"/><path d="M1031.8 262.6 1049.6 239.5 1034.6 239.8 1016.9 262.9z" fill="#96ff66"/><path d="M1082.7 219.2 1100.5 201.1 1085.2 200.9 1067.5 218.9z" fill="#f2ff5c"/><path d="M1167.4 174.9 1184.9 164.4 1169 162.9 1151.5 173.4z" fill="#ff9e45"/><path d="M1539.6 256.9 1554.3 270.9 1536.2 260.3 1521.4 246.5z" fill="#217b0c"/><path d="M1590.9 294.1 1605.1 310.2 1586.8 298.2 1572.5 282.1z" fill="#0e8437"/><path d="M1370.1 173.6 1386.3 178.1 1369.2 172.2 1352.9 167.8z" fill="#9d5a0a"/><path d="M1201 166.6 1218.4 158.7 1202.3 156.5 1184.9 164.4z" fill="#ff813c"/><path d="M1336.3 165.7 1352.9 167.8 1335.9 162.6 1319.3 160.7z" fill="#b85410"/><path d="M1454.9 207 1470.4 216.3 1452.8 208.1 1437.2 198.9z" fill="#616509"/><path d="M1234.8 161.5 1252 156.1 1235.6 153.2 1218.4 158.7z" fill="#ff6d32"/><path d="M1302.5 161.1 1319.3 160.7 1302.5 156.3 1285.7 156.8z" fill="#d4531a"/><path d="M1268.6 159.7 1285.7 156.8 1269.1 153.1 1252 156.1z" fill="#ef5d26"/><path d="M1116.1 202 1133.9 186.4 1118.2 185.6 1100.5 201.1z" fill="#ffdf55"/><path d="M1013.9 288.3 1031.8 262.6 1016.9 262.9 999 288.4z" fill="#6aff6b"/><path d="M1064.9 239.8 1082.7 219.2 1067.5 218.9 1049.6 239.5z" fill="#ccff62"/><path d="M1506.3 234.8 1521.4 246.5 1503.5 236.8 1488.3 225.2z" fill="#446f0a"/><path d="M1421.3 192 1437.2 198.9 1419.7 191.5 1403.7 184.7z" fill="#564507"/><path d="M1609.5 306.8 1623.5 323 1605.1 310.2 1590.9 294.1z" fill="#0e8144"/><path d="M1557.9 268.1 1572.5 282.1 1554.3 270.9 1539.6 256.9z" fill="#16780c"/><path d="M1149.7 187.9 1167.4 174.9 1151.5 173.4 1133.9 186.4z" fill="#ffb74e"/><path d="M995.9 316.5 1013.9 288.3 999 288.4 981.2 316.6z" fill="#6effa3"/><path d="M1387.5 180.1 1403.7 184.7 1386.3 178.1 1370.1 173.6z" fill="#a46109"/><path d="M1183.5 177.1 1201 166.6 1184.9 164.4 1167.4 174.9z" fill="#ff9545"/><path d="M1098.3 220 1116.1 202 1100.5 201.1 1082.7 219.2z" fill="#fdff5c"/><path d="M1046.9 262.9 1064.9 239.8 1049.6 239.5 1031.8 262.6z" fill="#a4ff67"/><path d="M1472.8 215.8 1488.3 225.2 1470.4 216.3 1454.9 207z" fill="#586109"/><path d="M978 347.2 995.9 316.5 981.2 316.6 963.3 347.2z" fill="#70ffde"/><path d="M1353.5 171.5 1370.1 173.6 1352.9 167.8 1336.3 165.7z" fill="#bf5910"/><path d="M1217.4 169.4 1234.8 161.5 1218.4 158.7 1201 166.6z" fill="#ff7a3b"/><path d="M1319.5 166.1 1336.3 165.7 1319.3 160.7 1302.5 161.1z" fill="#dc561a"/><path d="M1628.2 320.2 1642.2 336.5 1623.5 323 1609.5 306.8z" fill="#0d7e50"/><path d="M1251.4 165.1 1268.6 159.7 1252 156.1 1234.8 161.5z" fill="#ff6831"/><path d="M1285.5 164 1302.5 161.1 1285.7 156.8 1268.6 159.7z" fill="#f85d26"/><path d="M1524.5 245.2 1539.6 256.9 1521.4 246.5 1506.3 234.8z" fill="#3a6c0a"/><path d="M1576.4 280 1590.9 294.1 1572.5 282.1 1557.9 268.1z" fill="#0c760d"/><path d="M1131.9 203.5 1149.7 187.9 1133.9 186.4 1116.1 202z" fill="#ffd555"/><path d="M1439 200 1454.9 207 1437.2 198.9 1421.3 192z" fill="#8f7704"/><path d="M1028.9 288.7 1046.9 262.9 1031.8 262.6 1013.9 288.3z" fill="#77ff6b"/><path d="M1080.3 240.7 1098.3 220 1082.7 219.2 1064.9 239.8z" fill="#d8ff62"/><path d="M1165.8 190 1183.5 177.1 1167.4 174.9 1149.7 187.9z" fill="#ffae4e"/><path d="M1405.1 187.4 1421.3 192 1403.7 184.7 1387.5 180.1z" fill="#aa6a09"/><path d="M1490.9 225.4 1506.3 234.8 1488.3 225.2 1472.8 215.8z" fill="#4f5e08"/><path d="M1010.9 317 1028.9 288.7 1013.9 288.3 995.9 316.5z" fill="#6eff96"/><path d="M1199.8 179.9 1217.4 169.4 1201 166.6 1183.5 177.1z" fill="#ff8e45"/><path d="M1371 177.9 1387.5 180.1 1370.1 173.6 1353.5 171.5z" fill="#c76010"/><path d="M1542.9 256.3 1557.9 268.1 1539.6 256.9 1524.5 245.2z" fill="#30690a"/><path d="M1595.1 292.6 1609.5 306.8 1590.9 294.1 1576.4 280z" fill="#0c7318"/><path d="M1114 221.6 1131.9 203.5 1116.1 202 1098.3 220z" fill="#fff65d"/><path d="M1062.3 263.9 1080.3 240.7 1064.9 239.8 1046.9 262.9z" fill="#b0ff67"/><path d="M1234 172.9 1251.4 165.1 1234.8 161.5 1217.4 169.4z" fill="#ff753b"/><path d="M1336.8 171.8 1353.5 171.5 1336.3 165.7 1319.5 166.1z" fill="#e45b1a"/><path d="M992.9 347.8 1010.9 317 995.9 316.5 978 347.2z" fill="#71ffd1"/><path d="M1268.2 169.3 1285.5 164 1268.6 159.7 1251.4 165.1z" fill="#ff6430"/><path d="M1302.5 168.9 1319.5 166.1 1302.5 161.1 1285.5 164z" fill="#ff5e26"/><path d="M1457 208.7 1472.8 215.8 1454.9 207 1439 200z" fill="#958504"/><path d="M1147.9 205.6 1165.8 190 1149.7 187.9 1131.9 203.5z" fill="#ffcc56"/><path d="M1044.3 289.7 1062.3 263.9 1046.9 262.9 1028.9 288.7z" fill="#83ff6c"/><path d="M1509.2 235.6 1524.5 245.2 1506.3 234.8 1490.9 225.4z" fill="#465b08"/><path d="M1422.9 195.3 1439 200 1421.3 192 1405.1 187.4z" fill="#b17608"/><path d="M1096 242.2 1114 221.6 1098.3 220 1080.3 240.7z" fill="#e3ff63"/><path d="M1613.9 306 1628.2 320.2 1609.5 306.8 1595.1 292.6z" fill="#0b7024"/><path d="M1561.5 268.1 1576.4 280 1557.9 268.1 1542.9 256.3z" fill="#25660a"/><path d="M1182.1 192.8 1199.8 179.9 1183.5 177.1 1165.8 190z" fill="#ffa84e"/><path d="M1388.6 185.1 1405.1 187.4 1387.5 180.1 1371 177.9z" fill="#ce690f"/><path d="M1216.4 183.3 1234 172.9 1217.4 169.4 1199.8 179.9z" fill="#ff8944"/><path d="M1026.2 318.1 1044.3 289.7 1028.9 288.7 1010.9 317z" fill="#6fff8c"/><path d="M1475.1 218.2 1490.9 225.4 1472.8 215.8 1457 208.7z" fill="#9b9405"/><path d="M1354.2 178.2 1371 177.9 1353.5 171.5 1336.8 171.8z" fill="#eb6119"/><path d="M1130 223.7 1147.9 205.6 1131.9 203.5 1114 221.6z" fill="#ffee5d"/><path d="M1250.8 177.1 1268.2 169.3 1251.4 165.1 1234 172.9z" fill="#ff723a"/><path d="M1319.7 174.5 1336.8 171.8 1319.5 166.1 1302.5 168.9z" fill="#ff6025"/><path d="M1285.2 174.2 1302.5 168.9 1285.5 164 1268.2 169.3z" fill="#ff6330"/><path d="M1077.9 265.5 1096 242.2 1080.3 240.7 1062.3 263.9z" fill="#baff68"/><path d="M1008.1 349.1 1026.2 318.1 1010.9 317 992.9 347.8z" fill="#72ffc6"/><path d="M1527.6 246.6 1542.9 256.3 1524.5 245.2 1509.2 235.6z" fill="#3c5708"/><path d="M1580.3 280.7 1595.1 292.6 1576.4 280 1561.5 268.1z" fill="#1a630a"/><path d="M1440.9 203.9 1457 208.7 1439 200 1422.9 195.3z" fill="#b78407"/><path d="M1164.2 208.4 1182.1 192.8 1165.8 190 1147.9 205.6z" fill="#ffc656"/><path d="M1059.8 291.4 1077.9 265.5 1062.3 263.9 1044.3 289.7z" fill="#8eff6d"/><path d="M1111.9 244.4 1130 223.7 1114 221.6 1096 242.2z" fill="#ebff63"/><path d="M1406.4 193 1422.9 195.3 1405.1 187.4 1388.6 185.1z" fill="#d5740f"/><path d="M1198.6 196.3 1216.4 183.3 1199.8 179.9 1182.1 192.8z" fill="#ffa34e"/><path d="M1493.5 228.4 1509.2 235.6 1490.9 225.4 1475.1 218.2z" fill="#9da105"/><path d="M1371.9 185.2 1388.6 185.1 1371 177.9 1354.2 178.2z" fill="#f36b19"/><path d="M1233.1 187.5 1250.8 177.1 1234 172.9 1216.4 183.3z" fill="#ff8644"/><path d="M1546.3 258.4 1561.5 268.1 1542.9 256.3 1527.6 246.6z" fill="#508c04"/><path d="M1337.2 180.8 1354.2 178.2 1336.8 171.8 1319.7 174.5z" fill="#ff6324"/><path d="M1267.8 181.9 1285.2 174.2 1268.2 169.3 1250.8 177.1z" fill="#ff703a"/><path d="M1041.6 319.9 1059.8 291.4 1044.3 289.7 1026.2 318.1z" fill="#70ff82"/><path d="M1599.2 294 1613.9 306 1595.1 292.6 1580.3 280.7z" fill="#0f6009"/><path d="M1302.5 179.7 1319.7 174.5 1302.5 168.9 1285.2 174.2z" fill="#ff642f"/><path d="M1146.2 226.5 1164.2 208.4 1147.9 205.6 1130 223.7z" fill="#ffe75e"/><path d="M1459.1 213.3 1475.1 218.2 1457 208.7 1440.9 203.9z" fill="#be9407"/><path d="M1093.8 267.8 1111.9 244.4 1096 242.2 1077.9 265.5z" fill="#c3ff69"/><path d="M1023.4 350.9 1041.6 319.9 1026.2 318.1 1008.1 349.1z" fill="#73ffbc"/><path d="M1180.7 211.8 1198.6 196.3 1182.1 192.8 1164.2 208.4z" fill="#ffc156"/><path d="M1424.5 201.5 1440.9 203.9 1422.9 195.3 1406.4 193z" fill="#dc830e"/><path d="M1512 239.3 1527.6 246.6 1509.2 235.6 1493.5 228.4z" fill="#94a705"/><path d="M1215.3 200.4 1233.1 187.5 1216.4 183.3 1198.6 196.3z" fill="#ff9f4e"/><path d="M1075.6 293.7 1093.8 267.8 1077.9 265.5 1059.8 291.4z" fill="#97ff6e"/><path d="M1565.1 270.9 1580.3 280.7 1561.5 268.1 1546.3 258.4z" fill="#449204"/><path d="M1128.1 247.3 1146.2 226.5 1130 223.7 1111.9 244.4z" fill="#f2ff64"/><path d="M1389.7 193 1406.4 193 1388.6 185.1 1371.9 185.2z" fill="#fa7719"/><path d="M1250.1 192.3 1267.8 181.9 1250.8 177.1 1233.1 187.5z" fill="#ff8444"/><path d="M1354.9 187.9 1371.9 185.2 1354.2 178.2 1337.2 180.8z" fill="#ff6924"/><path d="M1285 187.5 1302.5 179.7 1285.2 174.2 1267.8 181.9z" fill="#ff7139"/><path d="M1319.9 186 1337.2 180.8 1319.7 174.5 1302.5 179.7z" fill="#ff672e"/><path d="M1477.5 223.5 1493.5 228.4 1475.1 218.2 1459.1 213.3z" fill="#c4a706"/><path d="M1057.3 322.3 1075.6 293.7 1059.8 291.4 1041.6 319.9z" fill="#71ff7b"/><path d="M1162.6 230 1180.7 211.8 1164.2 208.4 1146.2 226.5z" fill="#ffe25e"/><path d="M1530.7 251 1546.3 258.4 1527.6 246.6 1512 239.3z" fill="#89ad05"/><path d="M1109.9 270.7 1128.1 247.3 1111.9 244.4 1093.8 267.8z" fill="#caff6a"/><path d="M1442.7 210.9 1459.1 213.3 1440.9 203.9 1424.5 201.5z" fill="#e2940e"/><path d="M1584.2 284.2 1599.2 294 1580.3 280.7 1565.1 270.9z" fill="#359705"/><path d="M1197.4 216 1215.3 200.4 1198.6 196.3 1180.7 211.8z" fill="#ffbd57"/><path d="M1039.1 353.5 1057.3 322.3 1041.6 319.9 1023.4 350.9z" fill="#75ffb4"/><path d="M1407.8 201.6 1424.5 201.5 1406.4 193 1389.7 193z" fill="#ff8419"/><path d="M1232.3 205.3 1250.1 192.3 1233.1 187.5 1215.3 200.4z" fill="#ff9e4e"/><path d="M1496.1 234.4 1512 239.3 1493.5 228.4 1477.5 223.5z" fill="#cabd06"/><path d="M1144.5 250.8 1162.6 230 1146.2 226.5 1128.1 247.3z" fill="#f7ff65"/><path d="M1091.6 296.7 1109.9 270.7 1093.8 267.8 1075.6 293.7z" fill="#9fff6f"/><path d="M1372.7 195.6 1389.7 193 1371.9 185.2 1354.9 187.9z" fill="#ff7123"/><path d="M1267.4 197.8 1285 187.5 1267.8 181.9 1250.1 192.3z" fill="#ff8544"/><path d="M1337.6 193 1354.9 187.9 1337.2 180.8 1319.9 186z" fill="#ff6d2e"/><path d="M1302.5 193.7 1319.9 186 1302.5 179.7 1285 187.5z" fill="#ff7439"/><path d="M1549.7 263.5 1565.1 270.9 1546.3 258.4 1530.7 251z" fill="#7ab205"/><path d="M1461.2 221 1477.5 223.5 1459.1 213.3 1442.7 210.9z" fill="#e9a80d"/><path d="M1179.3 234.2 1197.4 216 1180.7 211.8 1162.6 230z" fill="#ffdf5f"/><path d="M1073.3 325.4 1091.6 296.7 1075.6 293.7 1057.3 322.3z" fill="#72ff75"/><path d="M1126.2 274.3 1144.5 250.8 1128.1 247.3 1109.9 270.7z" fill="#d0ff6b"/><path d="M1426.1 210.9 1442.7 210.9 1424.5 201.5 1407.8 201.6z" fill="#ff9218"/><path d="M1214.3 220.8 1232.3 205.3 1215.3 200.4 1197.4 216z" fill="#ffbc57"/><path d="M1514.9 246 1530.7 251 1512 239.3 1496.1 234.4z" fill="#cad006"/><path d="M1054.9 356.7 1073.3 325.4 1057.3 322.3 1039.1 353.5z" fill="#76ffae"/><path d="M1390.8 204.1 1407.8 201.6 1389.7 193 1372.7 195.6z" fill="#ff7c22"/><path d="M1249.5 210.8 1267.4 197.8 1250.1 192.3 1232.3 205.3z" fill="#ff9e4e"/><path d="M1568.8 276.7 1584.2 284.2 1565.1 270.9 1549.7 263.5z" fill="#69b706"/><path d="M1355.5 200.7 1372.7 195.6 1354.9 187.9 1337.6 193z" fill="#ff742d"/><path d="M1284.8 204.1 1302.5 193.7 1285 187.5 1267.4 197.8z" fill="#ff8844"/><path d="M1161.1 255 1179.3 234.2 1162.6 230 1144.5 250.8z" fill="#fbff66"/><path d="M1320.2 200.7 1337.6 193 1319.9 186 1302.5 193.7z" fill="#ff7939"/><path d="M1107.9 300.4 1126.2 274.3 1109.9 270.7 1091.6 296.7z" fill="#a5ff70"/><path d="M1479.8 231.8 1496.1 234.4 1477.5 223.5 1461.2 221z" fill="#efbf0d"/><path d="M1196.2 239 1214.3 220.8 1197.4 216 1179.3 234.2z" fill="#ffdd5f"/><path d="M1533.8 258.4 1549.7 263.5 1530.7 251 1514.9 246z" fill="#b9d506"/><path d="M1444.6 220.9 1461.2 221 1442.7 210.9 1426.1 210.9z" fill="#ffa217"/><path d="M1089.5 329.1 1107.9 300.4 1091.6 296.7 1073.3 325.4z" fill="#77ff74"/><path d="M1142.8 278.5 1161.1 255 1144.5 250.8 1126.2 274.3z" fill="#d4ff6c"/><path d="M1231.5 226.4 1249.5 210.8 1232.3 205.3 1214.3 220.8z" fill="#ffbc58"/><path d="M1409.1 213.4 1426.1 210.9 1407.8 201.6 1390.8 204.1z" fill="#ff8921"/><path d="M1266.9 217 1284.8 204.1 1267.4 197.8 1249.5 210.8z" fill="#ffa14e"/><path d="M1071 360.5 1089.5 329.1 1073.3 325.4 1054.9 356.7z" fill="#77ffa9"/><path d="M1373.6 209.2 1390.8 204.1 1372.7 195.6 1355.5 200.7z" fill="#ff7e2d"/><path d="M1498.7 243.4 1514.9 246 1496.1 234.4 1479.8 231.8z" fill="#f5da0c"/><path d="M1302.5 211 1320.2 200.7 1302.5 193.7 1284.8 204.1z" fill="#ff8c44"/><path d="M1338.1 208.4 1355.5 200.7 1337.6 193 1320.2 200.7z" fill="#ff8038"/><path d="M1177.9 259.9 1196.2 239 1179.3 234.2 1161.1 255z" fill="#fdff67"/><path d="M1124.4 304.7 1142.8 278.5 1126.2 274.3 1107.9 300.4z" fill="#a9ff71"/><path d="M1553 271.6 1568.8 276.7 1549.7 263.5 1533.8 258.4z" fill="#a5db07"/><path d="M1463.2 231.7 1479.8 231.8 1461.2 221 1444.6 220.9z" fill="#ffb516"/><path d="M1213.3 244.6 1231.5 226.4 1214.3 220.8 1196.2 239z" fill="#ffdd60"/><path d="M1105.9 333.6 1124.4 304.7 1107.9 300.4 1089.5 329.1z" fill="#7cff75"/><path d="M1427.7 223.4 1444.6 220.9 1426.1 210.9 1409.1 213.4z" fill="#ff9820"/><path d="M1159.6 283.5 1177.9 259.9 1161.1 255 1142.8 278.5z" fill="#d6ff6d"/><path d="M1248.9 232.6 1266.9 217 1249.5 210.8 1231.5 226.4z" fill="#ffbe58"/><path d="M1517.7 255.8 1533.8 258.4 1514.9 246 1498.7 243.4z" fill="#fbf80c"/><path d="M1392 218.4 1409.1 213.4 1390.8 204.1 1373.6 209.2z" fill="#ff8a2c"/><path d="M1284.6 224 1302.5 211 1284.8 204.1 1266.9 217z" fill="#ffa54e"/><path d="M1356.2 216.9 1373.6 209.2 1355.5 200.7 1338.1 208.4z" fill="#ff8938"/><path d="M1320.4 218.8 1338.1 208.4 1320.2 200.7 1302.5 211z" fill="#ff9344"/><path d="M1087.4 365.1 1105.9 333.6 1089.5 329.1 1071 360.5z" fill="#78ffa5"/><path d="M1195 265.6 1213.3 244.6 1196.2 239 1177.9 259.9z" fill="#feff67"/><path d="M1482.1 243.3 1498.7 243.4 1479.8 231.8 1463.2 231.7z" fill="#ffcb15"/><path d="M1141.1 309.8 1159.6 283.5 1142.8 278.5 1124.4 304.7z" fill="#acff72"/><path d="M1230.7 250.9 1248.9 232.6 1231.5 226.4 1213.3 244.6z" fill="#ffde61"/><path d="M1446.4 234.2 1463.2 231.7 1444.6 220.9 1427.7 223.4z" fill="#ffaa20"/><path d="M1536.9 269 1553 271.6 1533.8 258.4 1517.7 255.8z" fill="#e6ff0b"/><path d="M1266.5 239.6 1284.6 224 1266.9 217 1248.9 232.6z" fill="#ffc158"/><path d="M1410.5 228.4 1427.7 223.4 1409.1 213.4 1392 218.4z" fill="#ff982b"/><path d="M1122.6 338.7 1141.1 309.8 1124.4 304.7 1105.9 333.6z" fill="#80ff76"/><path d="M1176.6 289.2 1195 265.6 1177.9 259.9 1159.6 283.5z" fill="#d7ff6e"/><path d="M1302.5 231.7 1320.4 218.8 1302.5 211 1284.6 224z" fill="#ffab4f"/><path d="M1374.5 226.1 1392 218.4 1373.6 209.2 1356.2 216.9z" fill="#ff9438"/><path d="M1338.5 227.2 1356.2 216.9 1338.1 208.4 1320.4 218.8z" fill="#ff9b44"/><path d="M1501.2 255.7 1517.7 255.8 1498.7 243.4 1482.1 243.3z" fill="#ffe314"/><path d="M1104 370.4 1122.6 338.7 1105.9 333.6 1087.4 365.1z" fill="#79ffa3"/><path d="M1212.3 271.9 1230.7 250.9 1213.3 244.6 1195 265.6z" fill="#fdff68"/><path d="M1158.1 315.5 1176.6 289.2 1159.6 283.5 1141.1 309.8z" fill="#aeff73"/><path d="M1465.3 245.7 1482.1 243.3 1463.2 231.7 1446.4 234.2z" fill="#ffbe1f"/><path d="M1248.3 258 1266.5 239.6 1248.9 232.6 1230.7 250.9z" fill="#ffe161"/><path d="M1429.2 239.2 1446.4 234.2 1427.7 223.4 1410.5 228.4z" fill="#ffa92b"/><path d="M1284.4 247.4 1302.5 231.7 1284.6 224 1266.5 239.6z" fill="#ffc759"/><path d="M1393.1 236.1 1410.5 228.4 1392 218.4 1374.5 226.1z" fill="#ffa137"/><path d="M1520.5 268.8 1536.9 269 1517.7 255.8 1501.2 255.7z" fill="#fffd14"/><path d="M1320.6 240.2 1338.5 227.2 1320.4 218.8 1302.5 231.7z" fill="#ffb24f"/><path d="M1193.9 295.6 1212.3 271.9 1195 265.6 1176.6 289.2z" fill="#d7ff6f"/><path d="M1139.5 344.6 1158.1 315.5 1141.1 309.8 1122.6 338.7z" fill="#82ff77"/><path d="M1356.8 236.4 1374.5 226.1 1356.2 216.9 1338.5 227.2z" fill="#ffa543"/><path d="M1484.5 258.1 1501.2 255.7 1482.1 243.3 1465.3 245.7z" fill="#ffd41e"/><path d="M1229.9 279 1248.3 258 1230.7 250.9 1212.3 271.9z" fill="#faff69"/><path d="M1120.8 376.4 1139.5 344.6 1122.6 338.7 1104 370.4z" fill="#7affa3"/><path d="M1175.3 322 1193.9 295.6 1176.6 289.2 1158.1 315.5z" fill="#aeff74"/><path d="M1448.2 250.8 1465.3 245.7 1446.4 234.2 1429.2 239.2z" fill="#ffbb2a"/><path d="M1266.1 265.7 1284.4 247.4 1266.5 239.6 1248.3 258z" fill="#ffe662"/><path d="M1411.8 246.9 1429.2 239.2 1410.5 228.4 1393.1 236.1z" fill="#ffb037"/><path d="M1302.5 255.9 1320.6 240.2 1302.5 231.7 1284.4 247.4z" fill="#ffce59"/><path d="M1375.4 246.4 1393.1 236.1 1374.5 226.1 1356.8 236.4z" fill="#ffb143"/><path d="M1338.9 249.4 1356.8 236.4 1338.5 227.2 1320.6 240.2z" fill="#ffbc4f"/><path d="M1211.4 302.8 1229.9 279 1212.3 271.9 1193.9 295.6z" fill="#d5ff70"/><path d="M1156.6 351.2 1175.3 322 1158.1 315.5 1139.5 344.6z" fill="#83ff78"/><path d="M1503.8 271.2 1520.5 268.8 1501.2 255.7 1484.5 258.1z" fill="#ffed1e"/><path d="M1247.7 286.8 1266.1 265.7 1248.3 258 1229.9 279z" fill="#f6ff6a"/><path d="M1467.4 263.1 1484.5 258.1 1465.3 245.7 1448.2 250.8z" fill="#ffd02a"/><path d="M1137.9 383.1 1156.6 351.2 1139.5 344.6 1120.8 376.4z" fill="#7cffa3"/><path d="M1192.7 329.3 1211.4 302.8 1193.9 295.6 1175.3 322z" fill="#adff75"/><path d="M1284.2 274.3 1302.5 255.9 1284.4 247.4 1266.1 265.7z" fill="#ffec63"/><path d="M1430.8 258.4 1448.2 250.8 1429.2 239.2 1411.8 246.9z" fill="#ffc237"/><path d="M1320.8 265.1 1338.9 249.4 1320.6 240.2 1302.5 255.9z" fill="#ffd65a"/><path d="M1394.2 257.2 1411.8 246.9 1393.1 236.1 1375.4 246.4z" fill="#ffbf43"/><path d="M1357.5 259.4 1375.4 246.4 1356.8 236.4 1338.9 249.4z" fill="#ffc74f"/><path d="M1229.1 310.7 1247.7 286.8 1229.9 279 1211.4 302.8z" fill="#d2ff71"/><path d="M1174 358.5 1192.7 329.3 1175.3 322 1156.6 351.2z" fill="#82ff79"/><path d="M1486.8 276.3 1503.8 271.2 1484.5 258.1 1467.4 263.1z" fill="#ffe829"/><path d="M1265.7 295.4 1284.2 274.3 1266.1 265.7 1247.7 286.8z" fill="#f1ff6b"/><path d="M1450 270.8 1467.4 263.1 1448.2 250.8 1430.8 258.4z" fill="#ffd536"/><path d="M1155.2 390.5 1174 358.5 1156.6 351.2 1137.9 383.1z" fill="#7dffa6"/><path d="M1302.5 283.6 1320.8 265.1 1302.5 255.9 1284.2 274.3z" fill="#fff463"/><path d="M1210.4 337.3 1229.1 310.7 1211.4 302.8 1192.7 329.3z" fill="#abff76"/><path d="M1413.2 268.8 1430.8 258.4 1411.8 246.9 1394.2 257.2z" fill="#ffcf43"/><path d="M1339.3 275.2 1357.5 259.4 1338.9 249.4 1320.8 265.1z" fill="#ffe05a"/><path d="M1376.2 270.2 1394.2 257.2 1375.4 246.4 1357.5 259.4z" fill="#ffd44f"/><path d="M1247.1 319.3 1265.7 295.4 1247.7 286.8 1229.1 310.7z" fill="#cdff72"/><path d="M1191.6 366.6 1210.4 337.3 1192.7 329.3 1174 358.5z" fill="#81ff7b"/><path d="M1284 304.8 1302.5 283.6 1284.2 274.3 1265.7 295.4z" fill="#eaff6c"/><path d="M1469.4 283.9 1486.8 276.3 1467.4 263.1 1450 270.8z" fill="#ffeb36"/><path d="M1321 293.7 1339.3 275.2 1320.8 265.1 1302.5 283.6z" fill="#fffd64"/><path d="M1432.4 281.1 1450 270.8 1430.8 258.4 1413.2 268.8z" fill="#ffe143"/><path d="M1172.7 398.7 1191.6 366.6 1174 358.5 1155.2 390.5z" fill="#7effa9"/><path d="M1228.4 346 1247.1 319.3 1229.1 310.7 1210.4 337.3z" fill="#a7ff77"/><path d="M1358.1 286 1376.2 270.2 1357.5 259.4 1339.3 275.2z" fill="#ffec5a"/><path d="M1395.2 281.8 1413.2 268.8 1394.2 257.2 1376.2 270.2z" fill="#ffe24f"/><path d="M1265.3 328.8 1284 304.8 1265.7 295.4 1247.1 319.3z" fill="#c7ff73"/><path d="M1209.5 375.5 1228.4 346 1210.4 337.3 1191.6 366.6z" fill="#7eff7c"/><path d="M1302.5 314.9 1321 293.7 1302.5 283.6 1284 304.8z" fill="#e1ff6c"/><path d="M1451.8 294.3 1469.4 283.9 1450 270.8 1432.4 281.1z" fill="#fff543"/><path d="M1339.8 304.5 1358.1 286 1339.3 275.2 1321 293.7z" fill="#f6ff64"/><path d="M1414.5 294.2 1432.4 281.1 1413.2 268.8 1395.2 281.8z" fill="#fff34f"/><path d="M1377.1 297.6 1395.2 281.8 1376.2 270.2 1358.1 286z" fill="#fffa5b"/><path d="M1190.5 407.7 1209.5 375.5 1191.6 366.6 1172.7 398.7z" fill="#7fffae"/><path d="M1246.5 355.5 1265.3 328.8 1247.1 319.3 1228.4 346z" fill="#a1ff78"/><path d="M1283.8 339 1302.5 314.9 1284 304.8 1265.3 328.8z" fill="#bfff74"/><path d="M1227.6 385.1 1246.5 355.5 1228.4 346 1209.5 375.5z" fill="#7dff81"/><path d="M1321.2 325.9 1339.8 304.5 1321 293.7 1302.5 314.9z" fill="#d8ff6d"/><path d="M1433.9 307.4 1451.8 294.3 1432.4 281.1 1414.5 294.2z" fill="#f9ff4f"/><path d="M1358.7 316.2 1377.1 297.6 1358.1 286 1339.8 304.5z" fill="#eaff65"/><path d="M1396.3 310.1 1414.5 294.2 1395.2 281.8 1377.1 297.6z" fill="#f5ff5b"/><path d="M1208.6 417.5 1227.6 385.1 1209.5 375.5 1190.5 407.7z" fill="#81ffb4"/><path d="M1264.9 365.9 1283.8 339 1265.3 328.8 1246.5 355.5z" fill="#9bff79"/><path d="M1302.5 350 1321.2 325.9 1302.5 314.9 1283.8 339z" fill="#b7ff74"/><path d="M1246 395.5 1264.9 365.9 1246.5 355.5 1227.6 385.1z" fill="#7eff89"/><path d="M1340.2 337.6 1358.7 316.2 1339.8 304.5 1321.2 325.9z" fill="#ccff6e"/><path d="M1377.9 328.7 1396.3 310.1 1377.1 297.6 1358.7 316.2z" fill="#dcff65"/><path d="M1415.8 323.4 1433.9 307.4 1414.5 294.2 1396.3 310.1z" fill="#e4ff5b"/><path d="M1283.6 377 1302.5 350 1283.8 339 1264.9 365.9z" fill="#93ff7b"/><path d="M1226.9 428 1246 395.5 1227.6 385.1 1208.6 417.5z" fill="#82ffbb"/><path d="M1321.4 361.9 1340.2 337.6 1321.2 325.9 1302.5 350z" fill="#adff75"/><path d="M1359.4 350.2 1377.9 328.7 1358.7 316.2 1340.2 337.6z" fill="#c0ff6f"/><path d="M1264.6 406.8 1283.6 377 1264.9 365.9 1246 395.5z" fill="#7fff92"/><path d="M1397.4 342.1 1415.8 323.4 1396.3 310.1 1377.9 328.7z" fill="#cdff66"/><path d="M1302.5 388.9 1321.4 361.9 1302.5 350 1283.6 377z" fill="#8aff7c"/><path d="M1245.4 439.4 1264.6 406.8 1246 395.5 1226.9 428z" fill="#83ffc3"/><path d="M1340.6 374.5 1359.4 350.2 1340.2 337.6 1321.4 361.9z" fill="#a1ff76"/><path d="M1378.8 363.6 1397.4 342.1 1377.9 328.7 1359.4 350.2z" fill="#b2ff6f"/><path d="M1283.4 418.8 1302.5 388.9 1283.6 377 1264.6 406.8z" fill="#80ff9c"/><path d="M1321.6 401.7 1340.6 374.5 1321.4 361.9 1302.5 388.9z" fill="#80ff7c"/><path d="M1264.2 451.6 1283.4 418.8 1264.6 406.8 1245.4 439.4z" fill="#84ffcc"/><path d="M1360 388 1378.8 363.6 1359.4 350.2 1340.6 374.5z" fill="#95ff77"/><path d="M1302.5 431.7 1321.6 401.7 1302.5 388.9 1283.4 418.8z" fill="#82ffa7"/><path d="M1341 415.3 1360 388 1340.6 374.5 1321.6 401.7z" fill="#7dff86"/><path d="M1283.2 464.6 1302.5 431.7 1283.4 418.8 1264.2 451.6z" fill="#86ffd6"/><path d="M1321.8 445.4 1341 415.3 1321.6 401.7 1302.5 431.7z" fill="#83ffb3"/><path d="M1302.5 478.4 1321.8 445.4 1302.5 431.7 1283.2 464.6z" fill="#87ffe2"/></g>
<g fill="#000"><circle cx="967.4" cy="432.7" r="2.8"/><circle cx="964.2" cy="364.9" r="2.8"/><circle cx="961" cy="297.1" r="2.8"/><circle cx="957.7" cy="229.4" r="2.8"/><circle cx="954.5" cy="161.6" r="2.8"/><circle cx="951.3" cy="93.8" r="2.8"/><circle cx="972.4" cy="538.1" r="2.8"/><circle cx="1632.6" cy="538.2" r="2.8"/><circle cx="1054.9" cy="576.9" r="2.8"/><circle cx="1550.1" cy="576.9" r="2.8"/><circle cx="1137.5" cy="615.6" r="2.8"/><circle cx="1467.5" cy="615.7" r="2.8"/><circle cx="1220" cy="654.4" r="2.8"/><circle cx="1385" cy="654.4" r="2.8"/><circle cx="1302.5" cy="693.1" r="2.8"/></g>
<path d="M962.5 335.5 963.3 347.2" stroke="#111" stroke-width="1.3"/>
<circle cx="962.5" cy="335.5" r="6.4" fill="#c00000" stroke="#500" stroke-width="1.1"/>
<path d="M1302.3 465.8 1302.5 478.4" stroke="#111" stroke-width="1.3"/>
<circle cx="1302.3" cy="465.8" r="6.4" fill="#c00000" stroke="#500" stroke-width="1.1"/>
<path d="M1642.5 339.2 1642.2 336.5" stroke="#111" stroke-width="1.3"/>
<circle cx="1642.5" cy="339.2" r="6.4" fill="#f7c6c6" stroke="#333" stroke-width="1.1"/>
<path d="M1302.9 162.9 1302.5 179.7" stroke="#111" stroke-width="1.3"/>
<circle cx="1302.9" cy="162.9" r="6.4" fill="#c00000" stroke="#500" stroke-width="1.1"/>
<g font-family="DejaVu Sans Condensed, DejaVu Sans, sans-serif" font-size="22" fill="#1a1a1a"><text x="953.4" y="424.7" text-anchor="end">50</text><text x="950.2" y="356.9" text-anchor="end">60</text><text x="947" y="289.1" text-anchor="end">70</text><text x="943.7" y="221.4" text-anchor="end">80</text><text x="940.5" y="153.6" text-anchor="end">90</text><text x="937.3" y="85.8" text-anchor="end">100</text><text x="958.4" y="561.1" text-anchor="end">1</text><text x="1646.6" y="561.2">1</text><text x="1040.9" y="599.9" text-anchor="end">0.5</text><text x="1564.1" y="599.9">0.5</text><text x="1123.5" y="638.6" text-anchor="end">0</text><text x="1481.5" y="638.7">0</text><text x="1206" y="677.4" text-anchor="end">-0.5</text><text x="1399" y="677.4">-0.5</text><text x="1288.5" y="716.1" text-anchor="end">-1</text><text x="1316.5" y="716.1">-1</text></g>
<g font-family="Liberation Serif, serif" font-size="26" fill="#111" lengthAdjust="spacing"><text x="919.5" y="674.9" textLength="175.1">D: Contact time</text><text x="1564.5" y="678.9" textLength="68.1">A: pH</text></g>
<text transform="translate(886.5 330) rotate(-90)" x="-122.3" y="0" textLength="244.6" lengthAdjust="spacingAndGlyphs" font-family="Liberation Serif, serif" font-size="26.5" fill="#141a30">Removal efficiency, %</text>
<rect x="1614.3" y="6.8" width="65.3" height="86.5" rx="11" fill="#fff" stroke="#000" stroke-width="2.8"/>
<text transform="translate(1658.5 66.7) scale(1.0 1)" text-anchor="middle" font-family="Liberation Sans, sans-serif" font-size="40.5" fill="#000">b</text>
<path d="M211.7 1151.4 198.6 828.9M294 1124.3 285.1 809.8M376.4 1097.3 371.6 790.6M458.9 1163.1 458.1 771.5M541.2 1097.3 545 790.6M623.6 1124.3 632 809.8M706.1 1151.4 718.9 828.9M783.2 1281.2 805.8 848M134.7 1281.2 112.1 848M129.3 1178.4 458.7 1070.2M458.7 1070.2 788.6 1178.4M125.9 1112.3 458.6 1010.5M458.6 1010.5 792 1112.3M122.4 1046.3 458.5 950.7M458.5 950.7 795.5 1046.3M119 980.2 458.3 891M458.3 891 798.9 980.2M115.5 914.1 458.2 831.2M458.2 831.2 802.4 914.1M112.1 848 458.1 771.5M458.1 771.5 805.8 848" stroke="#111" stroke-width="1.4" fill="none"/>
<path d="M134.7 1281.2 458.9 1432.7 783.2 1281.2 458.9 1163.1z" fill="#5f5f5f"/>
<path d="M167.1 1296.4 166.6 1294.9 166.3 1293.8 165.9 1292.7 165.4 1291.1 165 1289.4 164.7 1288.3 164.4 1287.2 164.1 1285.9 163.7 1284.2 163.4 1282.7 163.1 1281.6 162.9 1280.5 162.7 1279.3 162.4 1277.7 162.2 1276.1 162 1274.9 161.9 1273.8 161.7 1272.6 161.6 1271.5" stroke="#00ff00" stroke-width="3" fill="none"/>
<path d="M744.2 1267.3 745.9 1269 746.8 1270 747.8 1271.1 749.1 1272.6 750.6 1274.2 751.5 1275.3 752.4 1276.3 753.7 1277.8 755.1 1279.5 756 1280.6 756.9 1281.7 757.9 1282.9 759.2 1284.6 760.4 1286.1 761.2 1287.2 762 1288.4 763 1289.7 763.7 1290.6" stroke="#00ff00" stroke-width="3" fill="none"/>
<path d="M207.9 1315.4 206.9 1313.5 206.3 1312.5 205.7 1311.3 204.6 1309.3 204.1 1308.2 203.6 1307.1 202.7 1305.3 202 1303.9 201.6 1302.8 200.9 1301.4 200.2 1299.6 199.7 1298.5 199.3 1297.4 198.7 1295.8 198.1 1294.1 197.7 1293 197.4 1291.9 196.9 1290.5 196.3 1288.8 196 1287.5 195.7 1286.4 195.4 1285.3 195 1283.7 194.6 1282 194.3 1280.9 194.1 1279.8 193.8 1278.6 193.6 1277.2 193.3 1275.6 193.1 1274.1 192.9 1273 192.8 1271.9 192.7 1270.7 192.5 1269.4 192.4 1267.9 192.3 1266.4 192.2 1265 192.2 1263.8 192.1 1262.7 192.1 1261.5 192.1 1260.3 192.1 1260.3" stroke="#59ff00" stroke-width="3" fill="none"/>
<path d="M693.8 1248.8 695.6 1250.3 696.6 1251.3 698.3 1252.8 699.7 1254.1 700.7 1255 702.4 1256.6 703.8 1257.9 704.8 1258.8 706.4 1260.4 707.7 1261.7 708.7 1262.7 710 1264.1 711.6 1265.7 712.5 1266.7 713.5 1267.7 715.2 1269.5 716.3 1270.8 717.2 1271.8 718.4 1273.1 719.9 1274.9 720.8 1276 721.7 1277 722.8 1278.3 724.2 1280.1 725.2 1281.3 726.1 1282.4 726.9 1283.5 728.2 1285.2 729.4 1286.8 730.2 1288 731 1289.1 731.8 1290.2 732.9 1291.8 734 1293.5 734.9 1294.8 735.7 1296 736.4 1297.2 737.1 1298.4 738.1 1300 739 1301.6 739.3 1302" stroke="#59ff00" stroke-width="3" fill="none"/>
<path d="M268.6 1343.7 266.8 1341.9 265.7 1340.8 263.9 1338.9 263 1337.9 261.2 1335.9 260.3 1334.9 258.5 1332.9 257.6 1331.9 256 1330 255.1 1328.8 254 1327.5 252.7 1325.8 251.9 1324.8 250.4 1322.7 249.6 1321.7 248.7 1320.4 247.4 1318.6 246.7 1317.5 245.6 1315.9 244.7 1314.4 244 1313.4 242.9 1311.6 242.1 1310.2 241.5 1309.2 240.5 1307.4 239.7 1306 239.1 1304.9 238.4 1303.4 237.5 1301.7 237 1300.6 236.5 1299.6 235.6 1297.7 235 1296.3 234.6 1295.2 234.1 1294 233.4 1292.2 232.9 1290.9 232.5 1289.8 232.1 1288.7 231.6 1287 231.1 1285.4 230.7 1284.3 230.4 1283.1 230.1 1282 229.7 1280.3 229.4 1278.7 229.1 1277.5 228.9 1276.4 228.7 1275.3 228.5 1274 228.3 1272.5 228.1 1271 227.9 1269.5 227.8 1268.4 227.7 1267.2 227.6 1266.1 227.6 1264.9 227.5 1263.7 227.5 1262.3 227.5 1260.9 227.5 1259.5 227.6 1258.1 227.7 1256.7 227.8 1255.4 227.9 1254.2 228 1253 228.2 1251.8 228.4 1250.5 228.6 1249.3 228.8 1248.1 229.1 1246.8 229.1 1246.8" stroke="#b2ff00" stroke-width="3" fill="none"/>
<path d="M451.8 1165.4 455.2 1165.8 458.2 1166.2 460.2 1166.5 464.4 1167.2 466.4 1167.5 470.1 1168.1 472.4 1168.5 475.6 1169 475.6 1169" stroke="#b2ff00" stroke-width="3" fill="none"/>
<path d="M619.8 1221.8 622.3 1223.3 624.4 1224.6 626 1225.6 628.4 1227.1 629.6 1227.9 632 1229.5 633.2 1230.3 635.6 1231.9 636.8 1232.7 639.1 1234.3 640.3 1235.1 642.6 1236.8 643.7 1237.6 646 1239.3 647.1 1240.1 649.1 1241.6 650.5 1242.7 652 1243.8 653.8 1245.3 654.9 1246.2 657 1247.9 658.1 1248.8 659.7 1250.2 661.3 1251.5 662.3 1252.4 664.3 1254.2 665.4 1255.2 666.5 1256.2 668.5 1258 669.4 1259 670.6 1260.1 672.4 1261.8 673.4 1262.8 674.5 1263.9 676.3 1265.8 677.2 1266.8 678.1 1267.7 679.7 1269.5 680.9 1270.8 681.8 1271.8 682.9 1273.1 684.4 1274.8 685.3 1276 686.2 1277 687.3 1278.4 688.7 1280.1 689.6 1281.3 690.4 1282.4 691.2 1283.5 692.5 1285.2 693.6 1286.8 694.4 1287.9 695.1 1289.1 695.9 1290.2 697 1291.9 698 1293.5 698.8 1294.8 699.5 1296 700.2 1297.2 700.9 1298.4 701.7 1299.9 702.5 1301.5 703.4 1303.1 704.1 1304.5 704.7 1305.8 705.2 1307 705.8 1308.3 706.4 1309.6 706.9 1310.9 707.5 1312.3 708.1 1313.8 708.7 1315.3 708.9 1316.1" stroke="#b2ff00" stroke-width="3" fill="none"/>
<path d="M505.4 1410.9 502.2 1410.7 498.5 1410.4 494 1410 490 1409.6 487.1 1409.3 484.2 1409 479.5 1408.4 475.8 1407.9 473.1 1407.4 468.7 1406.7 465.1 1406.1 462.5 1405.7 457.4 1404.7 454.9 1404.2 450 1403.2 447.6 1402.6 442.8 1401.5 440.5 1400.9 435.9 1399.8 433.6 1399.2 429.1 1398 426 1397.1 422.6 1396.1 418.3 1394.8 415.4 1393.9 412.1 1392.8 408 1391.4 404.1 1390 401.4 1389.1 398.2 1387.9 394.4 1386.4 390.7 1385 387 1383.5 383.4 1381.9 379.9 1380.4 376.4 1378.8 373 1377.3 369.7 1375.7 366.4 1374.1 363.2 1372.4 360 1370.8 356.9 1369.1 353.8 1367.4 351.4 1366.1 349.3 1364.9 346.4 1363.2 343.6 1361.4 340.8 1359.7 339.4 1358.8 336.7 1357 334 1355.3 332.2 1354.1 330.1 1352.6 327.5 1350.8 326 1349.6 323.8 1348 321.4 1346.2 320.2 1345.2 317.9 1343.4 316.2 1342 314.5 1340.6 312.3 1338.7 311.2 1337.7 309 1335.8 308 1334.9 305.9 1332.9 304.9 1332 303 1330 302 1329 300.1 1327.1 299.2 1326.1 297.4 1324.2 296.4 1323.1 295.2 1321.7 293.8 1320.1 293 1319.1 291.4 1317.1 290.5 1316.1 289.3 1314.5 288.2 1313 287.5 1312 286.1 1310 285.3 1308.9 284.6 1307.9 283.3 1305.8 282.6 1304.8 282 1303.7 280.8 1301.8 280.2 1300.5 279.6 1299.5 278.7 1297.9 277.9 1296.3 277.4 1295.2 276.9 1294.1 276.1 1292.3 275.5 1290.9 275 1289.8 274.6 1288.7 274 1287 273.4 1285.4 273 1284.3 272.7 1283.1 272.4 1282 271.9 1280.4 271.5 1278.8 271.2 1277.5 271 1276.4 270.8 1275.2 270.6 1274.1 270.3 1272.6 270.1 1271.1 270 1269.7 269.9 1268.2 269.8 1267.1 269.7 1265.9 269.7 1264.7 269.7 1263.5 269.7 1262.3 269.7 1261.1 269.8 1259.8 269.9 1258.6 270 1257.3 270.2 1256 270.4 1254.7 270.6 1253.4 270.8 1252.2 271.1 1250.9 271.4 1249.7 271.7 1248.5 272 1247.2 272.4 1245.9 272.9 1244.6 273.4 1243.2 273.9 1241.9 274.5 1240.5 275 1239.3 275.5 1238.2 276.1 1237.1 276.6 1236 277.3 1234.9 278.1 1233.4 279 1232 279.8 1230.8 280.5 1229.8 281.2 1228.8 282.2 1227.4 282.2 1227.4" stroke="#fff300" stroke-width="3" fill="none"/>
<path d="M404.8 1182.6 407.8 1182.5 410.8 1182.5 413.7 1182.6 416.5 1182.6 419.3 1182.7 422 1182.8 425 1182.9 428.4 1183.1 431.9 1183.3 434.8 1183.5 437.2 1183.7 439.6 1183.9 443.3 1184.2 446.6 1184.6 448.9 1184.8 451.7 1185.2 455.5 1185.7 457.7 1186 461.1 1186.5 464 1186.9 466.2 1187.3 470.2 1188 472.2 1188.3 476.2 1189.1 478.2 1189.4 482 1190.2 484.3 1190.7 487.7 1191.5 491.4 1192.3 493.3 1192.8 496.9 1193.6 500.5 1194.6 502.2 1195 505.7 1196 509.2 1197 512.6 1198 514.3 1198.5 517.6 1199.5 520.9 1200.5 524.2 1201.6 527.4 1202.7 530.6 1203.8 533.8 1204.9 536.9 1206.1 540 1207.3 543 1208.5 546 1209.7 549 1210.9 551.9 1212.1 554.8 1213.4 557.3 1214.5 559.1 1215.3 562 1216.6 564.8 1218 567.6 1219.3 568.9 1220 571.7 1221.4 574.4 1222.8 576.5 1223.9 578.4 1224.9 581 1226.3 583 1227.5 584.9 1228.5 587.4 1230 588.7 1230.8 591.2 1232.3 593.5 1233.7 594.9 1234.6 597.4 1236.1 598.6 1236.9 601 1238.5 602.2 1239.3 604.5 1241 605.7 1241.8 608 1243.4 609.1 1244.3 611.4 1245.9 612.5 1246.8 614.7 1248.5 615.8 1249.4 617.9 1251 619.1 1252 620.6 1253.2 622.3 1254.7 623.3 1255.6 625.4 1257.4 626.4 1258.3 627.7 1259.5 629.4 1261.1 630.4 1262.1 631.8 1263.5 633.3 1265 634.3 1265.9 635.6 1267.3 637.1 1268.9 638 1269.9 639.1 1271.1 640.7 1272.9 641.5 1273.9 642.4 1275 643.7 1276.5 644.9 1278.1 645.7 1279.2 646.6 1280.2 647.7 1281.8 648.9 1283.5 649.7 1284.6 650.4 1285.7 651.2 1286.8 652.3 1288.5 653.3 1290.2 654 1291.4 654.7 1292.5 655.3 1293.7 656 1295 656.9 1296.6 657.7 1298.2 658.4 1299.7 659 1300.9 659.5 1302.2 660 1303.4 660.5 1304.7 661 1306 661.6 1307.4 662.1 1308.9 662.5 1310.4 663 1311.9 663.4 1313.3 663.8 1314.8 664.1 1316.2 664.4 1317.7 664.7 1319.1 664.9 1320.5 665.1 1321.9 665.3 1323.3 665.5 1324.7 665.6 1326.1 665.6 1327.4 665.7 1328.8 665.7 1330.2 665.7 1331.5 665.7 1333.1 665.6 1334.7 665.4 1336.4 665.4 1336.4" stroke="#fff300" stroke-width="3" fill="none"/>
<path d="M422.4 1357.5 418.6 1356.1 414.8 1354.7 411.2 1353.3 407.7 1351.9 404.2 1350.4 400.8 1348.9 397.5 1347.4 394.3 1345.9 391.1 1344.3 388.1 1342.7 385.1 1341.1 382.3 1339.5 380.7 1338.6 377.9 1336.9 375.2 1335.2 373.1 1333.9 371.2 1332.6 368.6 1330.9 366.7 1329.6 364.9 1328.2 362.5 1326.4 361.3 1325.5 359 1323.7 357.5 1322.5 355.6 1320.9 354 1319.5 352.5 1318.1 350.9 1316.6 349.4 1315.3 348.1 1313.9 346.6 1312.4 345.6 1311.4 343.9 1309.4 343 1308.5 341.4 1306.6 340.5 1305.5 339.6 1304.4 338.1 1302.4 337.4 1301.4 336.5 1300.1 335.3 1298.3 334.6 1297.3 333.9 1296.1 332.8 1294.2 332.1 1293 331.6 1292 330.8 1290.5 330 1288.7 329.5 1287.6 329 1286.5 328.5 1285.3 327.9 1283.6 327.4 1282.1 327.1 1280.9 326.7 1279.8 326.4 1278.7 326.1 1277.3 325.8 1275.8 325.6 1274.3 325.4 1272.8 325.3 1271.6 325.2 1270.4 325.1 1269.2 325.1 1267.9 325.1 1266.7 325.1 1265.5 325.2 1264.2 325.4 1262.9 325.5 1261.6 325.7 1260.3 326 1259 326.3 1257.7 326.7 1256.3 327.1 1255 327.6 1253.6 328.1 1252.4 328.5 1251.2 329 1250.1 329.6 1249.1 330.3 1247.8 331.2 1246.2 332 1244.8 332.7 1243.8 333.4 1242.8 334.5 1241.4 335.8 1239.9 336.6 1239 337.6 1237.9 339.3 1236.2 340.2 1235.3 341.7 1234 343.2 1232.8 344.4 1231.8 346.5 1230.3 347.7 1229.4 350 1228 352.3 1226.6 353.8 1225.7 356.4 1224.3 359.2 1223 360.8 1222.2 363.6 1221 366.7 1219.8 369.9 1218.7 373.2 1217.6 375 1217 378.6 1216 382.3 1215.1 384.2 1214.7 388.2 1213.8 390.4 1213.4 394.6 1212.7 396.8 1212.4 400.4 1211.9 403.8 1211.6 406.2 1211.4 408.7 1211.2 412.2 1210.9 415.7 1210.8 419 1210.7 422.2 1210.6 425.2 1210.6 428.2 1210.6 431 1210.7 433.8 1210.8 436.5 1210.9 439.1 1211.1 442.6 1211.4 446.5 1211.7 449 1211.9 451.4 1212.2 455.1 1212.7 458.2 1213.1 460.4 1213.4 464.7 1214.1 466.9 1214.5 470.9 1215.2 473 1215.6 477 1216.4 478.9 1216.9 482.7 1217.8 485.3 1218.4 488.3 1219.2 491.9 1220.1 495.5 1221.2 497.2 1221.7 500.7 1222.7 504.1 1223.8 507.4 1225 510.7 1226.1 513.9 1227.3 517 1228.5 520.1 1229.7 523.1 1231 526.1 1232.3 529.1 1233.6 532 1234.9 533.5 1235.6 536.2 1237 539 1238.4 541.7 1239.8 543 1240.5 545.7 1242 548.3 1243.5 549.6 1244.2 552.2 1245.8 554.7 1247.3 555.9 1248.1 558.3 1249.7 559.5 1250.5 561.9 1252.1 563.1 1253 565.4 1254.6 566.5 1255.5 568.7 1257.2 569.8 1258.1 572 1259.8 573 1260.7 575.1 1262.5 576.1 1263.4 577.5 1264.6 579.1 1266.2 580.1 1267.2 581.7 1268.8 583 1270 583.9 1271 585.4 1272.7 586.6 1274 587.4 1275 588.6 1276.4 589.9 1278.1 590.7 1279.1 591.5 1280.2 592.6 1281.8 593.8 1283.4 594.5 1284.5 595.2 1285.6 595.9 1286.9 596.9 1288.5 597.8 1290.2 598.4 1291.3 598.9 1292.5 599.5 1293.7 600 1294.9 600.7 1296.5 601.2 1298 601.8 1299.5 602.2 1301 602.7 1302.4 603 1303.8 603.3 1305.1 603.6 1306.4 603.8 1307.8 604 1309.2 604.1 1310.6 604.2 1312 604.3 1313.5 604.3 1315 604.3 1316.4 604.2 1317.7 604.1 1319 603.9 1320.3 603.7 1321.5 603.5 1322.9 603.1 1324.6 602.6 1326.3 602.2 1327.7 601.7 1328.9 601.3 1330.1 600.5 1331.8 599.7 1333.6 599 1334.7 598.3 1335.9 597 1338 596.2 1339.1 595.2 1340.4 593.7 1342.3 592.8 1343.3 590.8 1345.4 589.8 1346.4 587.7 1348.3 586.5 1349.3 584.1 1351.1 581.7 1352.9 580.2 1353.8 577.4 1355.5 574.5 1357.2 571.3 1358.8 568 1360.3 564.5 1361.8 560.8 1363.2 556.9 1364.5 554.8 1365.1 550.7 1366.3 546.5 1367.3 544 1367.9 540.1 1368.7 536.7 1369.3 534.1 1369.7 529.5 1370.3 526 1370.7 523.1 1370.9 520.1 1371.2 516.5 1371.4 512.7 1371.6 508.9 1371.7 505.4 1371.7 501.9 1371.7 498.6 1371.6 495.3 1371.5 492.2 1371.3 488.3 1371.1 484 1370.7 480.3 1370.3 477.5 1370 474.7 1369.7 469.6 1369 466.8 1368.5 464.1 1368.1 459.3 1367.2 456.8 1366.8 452.1 1365.8 449.8 1365.2 445.2 1364.2 443 1363.6 438.7 1362.5 435.4 1361.6 432.4 1360.7 428.3 1359.4 424.3 1358.1 422.4 1357.5 422.4 1357.5" stroke="#ff9a00" stroke-width="3" fill="none"/>
<path d="M134.7 1281.2 458.9 1432.7 783.2 1281.2 M134.7 1281.2 458.9 1163.1 783.2 1281.2" stroke="#000" stroke-width="2" fill="none"/>
<g stroke="#111" stroke-width="1.25" stroke-linejoin="round"><path d="M458.5 904.1 473.7 907.9 458.5 907.1 443.4 903.6z" fill="#547007"/><path d="M473.9 905.3 489 909.4 473.7 907.9 458.5 904.1z" fill="#576d07"/><path d="M443.2 901.3 458.5 904.1 443.4 903.6 428 901.1z" fill="#5c6906"/><path d="M489.4 907 504.5 911.4 489 909.4 473.9 905.3z" fill="#5a6a07"/><path d="M458.5 902.2 473.9 905.3 458.5 904.1 443.2 901.3z" fill="#5f6606"/><path d="M427.6 899.6 443.2 901.3 428 901.1 412.5 899.7z" fill="#606205"/><path d="M505.1 909.5 520.2 914.2 504.5 911.4 489.4 907z" fill="#5b6707"/><path d="M474.1 903.7 489.4 907 473.9 905.3 458.5 902.2z" fill="#616306"/><path d="M443 900.2 458.5 902.2 443.2 901.3 427.6 899.6z" fill="#5f5b05"/><path d="M411.9 899 427.6 899.6 412.5 899.7 396.7 899.4z" fill="#5b5504"/><path d="M521 912.6 536.1 917.6 520.2 914.2 505.1 909.5z" fill="#5a6407"/><path d="M489.8 905.8 505.1 909.5 489.4 907 474.1 903.7z" fill="#605e06"/><path d="M395.9 899.5 411.9 899 396.7 899.4 380.8 900.2z" fill="#8e7d17"/><path d="M458.5 901.4 474.1 903.7 458.5 902.2 443 900.2z" fill="#5c5305"/><path d="M427.2 899.3 443 900.2 427.6 899.6 411.9 899z" fill="#574b04"/><path d="M537.1 916.4 552.2 921.6 536.1 917.6 521 912.6z" fill="#596107"/><path d="M505.8 908.7 521 912.6 505.1 909.5 489.8 905.8z" fill="#5d5906"/><path d="M379.8 901.1 395.9 899.5 380.8 900.2 364.7 902.1z" fill="#9a811b"/><path d="M474.3 903.3 489.8 905.8 474.1 903.7 458.5 901.4z" fill="#584c05"/><path d="M411.3 899.5 427.2 899.3 411.9 899 395.9 899.5z" fill="#947816"/><path d="M442.8 900.2 458.5 901.4 443 900.2 427.2 899.3z" fill="#8d7412"/><path d="M553.4 920.8 568.4 926.4 552.2 921.6 537.1 916.4z" fill="#565f07"/><path d="M521.9 912.2 537.1 916.4 521 912.6 505.8 908.7z" fill="#5a5506"/><path d="M363.5 903.9 379.8 901.1 364.7 902.1 348.4 905.1z" fill="#a7871f"/><path d="M490.2 905.8 505.8 908.7 489.8 905.8 474.3 903.3z" fill="#554705"/><path d="M395.1 900.8 411.3 899.5 395.9 899.5 379.8 901.1z" fill="#a17b1b"/><path d="M458.6 901.8 474.3 903.3 458.5 901.4 442.8 900.2z" fill="#927112"/><path d="M426.8 900.1 442.8 900.2 427.2 899.3 411.3 899.5z" fill="#9a7416"/><path d="M569.9 926 584.8 931.8 568.4 926.4 553.4 920.8z" fill="#535c07"/><path d="M538.2 916.3 553.4 920.8 537.1 916.4 521.9 912.2z" fill="#575106"/><path d="M347 907.8 363.5 903.9 348.4 905.1 331.9 909.3z" fill="#b39024"/><path d="M506.4 909 521.9 912.2 505.8 908.7 490.2 905.8z" fill="#90750d"/><path d="M378.8 903.3 395.1 900.8 379.8 901.1 363.5 903.9z" fill="#ad801f"/><path d="M474.5 904 490.2 905.8 474.3 903.3 458.6 901.8z" fill="#987011"/><path d="M410.7 901.2 426.8 900.1 411.3 899.5 395.1 900.8z" fill="#a7751a"/><path d="M442.6 901.4 458.6 901.8 442.8 900.2 426.8 900.1z" fill="#a07015"/><path d="M586.5 931.9 601.4 938 584.8 931.8 569.9 926z" fill="#4f5907"/><path d="M554.7 921.2 569.9 926 553.4 920.8 538.2 916.3z" fill="#8c8409"/><path d="M330.3 913 347 907.8 331.9 909.3 315.3 914.7z" fill="#bf9b2a"/><path d="M522.7 912.9 538.2 916.3 521.9 912.2 506.4 909z" fill="#95780c"/><path d="M362.3 907 378.8 903.3 363.5 903.9 347 907.8z" fill="#ba8724"/><path d="M490.7 907 506.4 909 490.2 905.8 474.5 904z" fill="#9d7010"/><path d="M394.3 903.4 410.7 901.2 395.1 900.8 378.8 903.3z" fill="#b4791f"/><path d="M458.6 903.4 474.5 904 458.6 901.8 442.6 901.4z" fill="#a56d15"/><path d="M426.4 902.2 442.6 901.4 426.8 900.1 410.7 901.2z" fill="#ad701a"/><path d="M603.3 938.5 618.2 944.9 601.4 938 586.5 931.9z" fill="#4a5707"/><path d="M571.4 926.8 586.5 931.9 569.9 926 554.7 921.2z" fill="#918b08"/><path d="M313.5 919.3 330.3 913 315.3 914.7 298.5 921.3z" fill="#cbaa2f"/><path d="M539.2 917.5 554.7 921.2 538.2 916.3 522.7 912.9z" fill="#9a7c0b"/><path d="M345.6 911.9 362.3 907 347 907.8 330.3 913z" fill="#c6912a"/><path d="M507 910.6 522.7 912.9 506.4 909 490.7 907z" fill="#a37110"/><path d="M377.8 906.8 394.3 903.4 378.8 903.3 362.3 907z" fill="#c17f24"/><path d="M474.7 906.1 490.7 907 474.5 904 458.6 903.4z" fill="#ab6b14"/><path d="M620.3 945.8 635.1 952.5 618.2 944.9 603.3 938.5z" fill="#708d04"/><path d="M410.1 904.2 426.4 902.2 410.7 901.2 394.3 903.4z" fill="#ba721f"/><path d="M442.4 903.9 458.6 903.4 442.6 901.4 426.4 902.2z" fill="#b36c19"/><path d="M588.2 933.2 603.3 938.5 586.5 931.9 571.4 926.8z" fill="#969307"/><path d="M296.5 926.9 313.5 919.3 298.5 921.3 281.5 929.1z" fill="#d6bb35"/><path d="M556 922.9 571.4 926.8 554.7 921.2 539.2 917.5z" fill="#9f810b"/><path d="M328.7 918 345.6 911.9 330.3 913 313.5 919.3z" fill="#d29f30"/><path d="M637.5 953.9 652.3 960.8 635.1 952.5 620.3 945.8z" fill="#6c9104"/><path d="M523.6 914.9 539.2 917.5 522.7 912.9 507 910.6z" fill="#a8730f"/><path d="M361.1 911.4 377.8 906.8 362.3 907 345.6 911.9z" fill="#cd882a"/><path d="M491.1 909.4 507 910.6 490.7 907 474.7 906.1z" fill="#b16b13"/><path d="M393.5 907.3 410.1 904.2 394.3 903.4 377.8 906.8z" fill="#c77724"/><path d="M458.6 906.3 474.7 906.1 458.6 903.4 442.4 903.9z" fill="#b96919"/><path d="M426 905.6 442.4 903.9 426.4 902.2 410.1 904.2z" fill="#c16d1e"/><path d="M605.3 940.2 620.3 945.8 603.3 938.5 588.2 933.2z" fill="#979a06"/><path d="M279.3 935.7 296.5 926.9 281.5 929.1 264.4 938.2z" fill="#e1d03b"/><path d="M572.9 928.9 588.2 933.2 571.4 926.8 556 922.9z" fill="#a4880a"/><path d="M311.7 925.3 328.7 918 313.5 919.3 296.5 926.9z" fill="#deaf36"/><path d="M654.8 962.7 669.5 969.9 652.3 960.8 637.5 953.9z" fill="#659504"/><path d="M344.2 917.3 361.1 911.4 345.6 911.9 328.7 918z" fill="#da9430"/><path d="M540.3 920 556 922.9 539.2 917.5 523.6 914.9z" fill="#ad770e"/><path d="M376.8 911.7 393.5 907.3 377.8 906.8 361.1 911.4z" fill="#d47f2a"/><path d="M507.7 913.5 523.6 914.9 507 910.6 491.1 909.4z" fill="#b66c12"/><path d="M262 945.8 279.3 935.7 264.4 938.2 247.1 948.5z" fill="#ebe841"/><path d="M409.5 908.5 426 905.6 410.1 904.2 393.5 907.3z" fill="#ce7024"/><path d="M475 909.4 491.1 909.4 474.7 906.1 458.6 906.3z" fill="#bf6718"/><path d="M622.5 948 637.5 953.9 620.3 945.8 605.3 940.2z" fill="#939e05"/><path d="M442.2 907.7 458.6 906.3 442.4 903.9 426 905.6z" fill="#c7681d"/><path d="M294.4 933.8 311.7 925.3 296.5 926.9 279.3 935.7z" fill="#e9c43c"/><path d="M589.9 935.7 605.3 940.2 588.2 933.2 572.9 928.9z" fill="#a89109"/><path d="M672.4 972.3 687 979.7 669.5 969.9 654.8 962.7z" fill="#5c9805"/><path d="M327.1 924.3 344.2 917.3 328.7 918 311.7 925.3z" fill="#e5a436"/><path d="M557.2 925.8 572.9 928.9 556 922.9 540.3 920z" fill="#b27d0d"/><path d="M244.5 957.1 262 945.8 247.1 948.5 229.7 960z" fill="#e4f447"/><path d="M359.8 917.2 376.8 911.7 361.1 911.4 344.2 917.3z" fill="#e18a30"/><path d="M524.4 918.3 540.3 920 523.6 914.9 507.7 913.5z" fill="#bb6f11"/><path d="M639.9 956.6 654.8 962.7 637.5 953.9 622.5 948z" fill="#8da205"/><path d="M392.7 912.5 409.5 908.5 393.5 907.3 376.8 911.7z" fill="#db7729"/><path d="M491.5 913.2 507.7 913.5 491.1 909.4 475 909.4z" fill="#c46717"/><path d="M425.6 910.3 442.2 907.7 426 905.6 409.5 908.5z" fill="#d56a23"/><path d="M458.6 910.5 475 909.4 458.6 906.3 442.2 907.7z" fill="#cd651d"/><path d="M277.1 943.7 294.4 933.8 279.3 935.7 262 945.8z" fill="#f3db42"/><path d="M690 982.7 704.6 990.4 687 979.7 672.4 972.3z" fill="#509c05"/><path d="M607.2 943.3 622.5 948 605.3 940.2 589.9 935.7z" fill="#ac9d08"/><path d="M309.8 932.6 327.1 924.3 311.7 925.3 294.4 933.8z" fill="#f1b83c"/><path d="M226.9 969.7 244.5 957.1 229.7 960 212.2 972.9z" fill="#d6fd4d"/><path d="M574.4 932.3 589.9 935.7 572.9 928.9 557.2 925.8z" fill="#b7850c"/><path d="M657.5 965.9 672.4 972.3 654.8 962.7 639.9 956.6z" fill="#84a605"/><path d="M342.7 924 359.8 917.2 344.2 917.3 327.1 924.3z" fill="#ed9936"/><path d="M541.4 923.8 557.2 925.8 540.3 920 524.4 918.3z" fill="#c17410"/><path d="M375.7 917.9 392.7 912.5 376.8 911.7 359.8 917.2z" fill="#e88130"/><path d="M707.9 993.8 722.3 1001.7 704.6 990.4 690 982.7z" fill="#429f05"/><path d="M259.6 954.8 277.1 943.7 262 945.8 244.5 957.1z" fill="#fdf748"/><path d="M508.3 917.7 524.4 918.3 507.7 913.5 491.5 913.2z" fill="#ca6816"/><path d="M408.9 914.1 425.6 910.3 409.5 908.5 392.7 912.5z" fill="#e27029"/><path d="M475.2 914 491.5 913.2 475 909.4 458.6 910.5z" fill="#d3631c"/><path d="M442 912.9 458.6 910.5 442.2 907.7 425.6 910.3z" fill="#db6622"/><path d="M624.7 951.6 639.9 956.6 622.5 948 607.2 943.3z" fill="#b1aa07"/><path d="M209.2 983.6 226.9 969.7 212.2 972.9 194.6 987z" fill="#bfff50"/><path d="M292.4 942.2 309.8 932.6 294.4 933.8 277.1 943.7z" fill="#fbcf43"/><path d="M591.7 939.6 607.2 943.3 589.9 935.7 574.4 932.3z" fill="#bb900b"/><path d="M675.2 976 690 982.7 672.4 972.3 657.5 965.9z" fill="#79aa05"/><path d="M325.4 932.1 342.7 924 327.1 924.3 309.8 932.6z" fill="#f9ac3d"/><path d="M725.9 1005.7 740.3 1013.9 722.3 1001.7 707.9 993.8z" fill="#31a305"/><path d="M241.9 967.2 259.6 954.8 244.5 957.1 226.9 969.7z" fill="#efff4c"/><path d="M558.6 930 574.4 932.3 557.2 925.8 541.4 923.8z" fill="#c67a0f"/><path d="M358.6 924.4 375.7 917.9 359.8 917.2 342.7 924z" fill="#f58f36"/><path d="M191.4 998.9 209.2 983.6 194.6 987 176.8 1002.4z" fill="#a4ff53"/><path d="M525.3 922.9 541.4 923.8 524.4 918.3 508.3 917.7z" fill="#cf6b15"/><path d="M642.3 960.6 657.5 965.9 639.9 956.6 624.7 951.6z" fill="#afb505"/><path d="M391.9 919.2 408.9 914.1 392.7 912.5 375.7 917.9z" fill="#ef7930"/><path d="M492 918.3 508.3 917.7 491.5 913.2 475.2 914z" fill="#d9631b"/><path d="M425.2 916.4 442 912.9 425.6 910.3 408.9 914.1z" fill="#e96a29"/><path d="M458.6 916.1 475.2 914 458.6 910.5 442 912.9z" fill="#e16322"/><path d="M274.8 953.1 292.4 942.2 277.1 943.7 259.6 954.8z" fill="#ffe548"/><path d="M693.1 986.9 707.9 993.8 690 982.7 675.2 976z" fill="#6bae05"/><path d="M609.2 947.6 624.7 951.6 607.2 943.3 591.7 939.6z" fill="#c09c0a"/><path d="M744 1018.5 758.3 1026.9 740.3 1013.9 725.9 1005.7z" fill="#1ea605"/><path d="M224.1 980.9 241.9 967.2 226.9 969.7 209.2 983.6z" fill="#d7ff50"/><path d="M308 941.5 325.4 932.1 309.8 932.6 292.4 942.2z" fill="#ffc043"/><path d="M173.4 1015.4 191.4 998.9 176.8 1002.4 158.9 1019.2z" fill="#86ff56"/><path d="M575.9 937.1 591.7 939.6 574.4 932.3 558.6 930z" fill="#ca840e"/><path d="M341.3 932.2 358.6 924.4 342.7 924 325.4 932.1z" fill="#ffa13d"/><path d="M660.1 970.5 675.2 976 657.5 965.9 642.3 960.6z" fill="#a5b906"/><path d="M542.5 928.9 558.6 930 541.4 923.8 525.3 922.9z" fill="#d57114"/><path d="M257.1 965.3 274.8 953.1 259.6 954.8 241.9 967.2z" fill="#fffa4b"/><path d="M374.7 925.5 391.9 919.2 375.7 917.9 358.6 924.4z" fill="#fc8637"/><path d="M711.2 998.6 725.9 1005.7 707.9 993.8 693.1 986.9z" fill="#5bb105"/><path d="M509 923.3 525.3 922.9 508.3 917.7 492 918.3z" fill="#df661a"/><path d="M408.2 921.2 425.2 916.4 408.9 914.1 391.9 919.2z" fill="#f7722f"/><path d="M762.4 1032 776.6 1040.6 758.3 1026.9 744 1018.5z" fill="#08a905"/><path d="M475.4 920.1 492 918.3 475.2 914 458.6 916.1z" fill="#e86221"/><path d="M441.8 919.4 458.6 916.1 442 912.9 425.2 916.4z" fill="#f06628"/><path d="M206.2 995.9 224.1 980.9 209.2 983.6 191.4 998.9z" fill="#bcff53"/><path d="M155.4 1033.3 173.4 1015.4 158.9 1019.2 141 1037.2z" fill="#65ff59"/><path d="M626.9 956.4 642.3 960.6 624.7 951.6 609.2 947.6z" fill="#c4ac08"/><path d="M290.4 952.1 308 941.5 292.4 942.2 274.8 953.1z" fill="#ffd247"/><path d="M593.5 944.8 609.2 947.6 591.7 939.6 575.9 937.1z" fill="#cf8f0d"/><path d="M678.1 981.1 693.1 986.9 675.2 976 660.1 970.5z" fill="#97bc06"/><path d="M323.8 941.4 341.3 932.2 325.4 932.1 308 941.5z" fill="#ffaf41"/><path d="M239.3 978.8 257.1 965.3 241.9 967.2 224.1 980.9z" fill="#ecff4f"/><path d="M137.2 1052.5 155.4 1033.3 141 1037.2 122.9 1056.6z" fill="#5bff74"/><path d="M729.5 1011.1 744 1018.5 725.9 1005.7 711.2 998.6z" fill="#47b405"/><path d="M780.8 1046.3 794.9 1055.2 776.6 1040.6 762.4 1032z" fill="#05ab1a"/><path d="M559.9 935.7 575.9 937.1 558.6 930 542.5 928.9z" fill="#da7913"/><path d="M188.2 1012.3 206.2 995.9 191.4 998.9 173.4 1015.4z" fill="#9eff56"/><path d="M357.3 933.1 374.7 925.5 358.6 924.4 341.3 932.2z" fill="#ff923c"/><path d="M526.2 929 542.5 928.9 525.3 922.9 509 923.3z" fill="#e46a19"/><path d="M644.8 966 660.1 970.5 642.3 960.6 626.9 956.4z" fill="#c8bd07"/><path d="M391 927.3 408.2 921.2 391.9 919.2 374.7 925.5z" fill="#ff7d36"/><path d="M492.4 924.8 509 923.3 492 918.3 475.4 920.1z" fill="#ee6320"/><path d="M272.6 964.1 290.4 952.1 274.8 953.1 257.1 965.3z" fill="#ffe74a"/><path d="M424.8 923.9 441.8 919.4 425.2 916.4 408.2 921.2z" fill="#fe6d2f"/><path d="M458.6 923.1 475.4 920.1 458.6 916.1 441.8 919.4z" fill="#f66427"/><path d="M696.3 992.6 711.2 998.6 693.1 986.9 678.1 981.1z" fill="#87c006"/><path d="M221.3 993.6 239.3 978.8 224.1 980.9 206.2 995.9z" fill="#d1ff52"/><path d="M611.2 953.4 626.9 956.4 609.2 947.6 593.5 944.8z" fill="#d39e0c"/><path d="M170 1030 188.2 1012.3 173.4 1015.4 155.4 1033.3z" fill="#7eff58"/><path d="M747.9 1024.4 762.4 1032 744 1018.5 729.5 1011.1z" fill="#31b705"/><path d="M306.1 951.8 323.8 941.4 308 941.5 290.4 952.1z" fill="#ffc145"/><path d="M577.5 943.2 593.5 944.8 575.9 937.1 559.9 935.7z" fill="#df8412"/><path d="M339.8 941.9 357.3 933.1 341.3 932.2 323.8 941.4z" fill="#ffa140"/><path d="M662.8 976.4 678.1 981.1 660.1 970.5 644.8 966z" fill="#c5cc06"/><path d="M254.7 977.4 272.6 964.1 257.1 965.3 239.3 978.8z" fill="#fffe4e"/><path d="M543.6 935.5 559.9 935.7 542.5 928.9 526.2 929z" fill="#e97118"/><path d="M373.7 934.6 391 927.3 374.7 925.5 357.3 933.1z" fill="#ff873a"/><path d="M151.8 1049 170 1030 155.4 1033.3 137.2 1052.5z" fill="#5cff5b"/><path d="M203.2 1009.8 221.3 993.6 206.2 995.9 188.2 1012.3z" fill="#b4ff55"/><path d="M509.6 930.3 526.2 929 509 923.3 492.4 924.8z" fill="#f3661f"/><path d="M714.6 1004.8 729.5 1011.1 711.2 998.6 696.3 992.6z" fill="#73c306"/><path d="M407.6 929.7 424.8 923.9 408.2 921.2 391 927.3z" fill="#ff7334"/><path d="M766.4 1038.5 780.8 1046.3 762.4 1032 747.9 1024.4z" fill="#18ba06"/><path d="M475.6 927.6 492.4 924.8 475.4 920.1 458.6 923.1z" fill="#fd6427"/><path d="M441.6 927.4 458.6 923.1 441.8 919.4 424.8 923.9z" fill="#ff682e"/><path d="M629.1 962.7 644.8 966 626.9 956.4 611.2 953.4z" fill="#d7af0b"/><path d="M288.3 963.5 306.1 951.8 290.4 952.1 272.6 964.1z" fill="#ffd549"/><path d="M595.3 951.5 611.2 953.4 593.5 944.8 577.5 943.2z" fill="#e39110"/><path d="M236.6 992 254.7 977.4 239.3 978.8 221.3 993.6z" fill="#e5ff51"/><path d="M322.1 952.1 339.8 941.9 323.8 941.4 306.1 951.8z" fill="#ffb244"/><path d="M681 987.6 696.3 992.6 678.1 981.1 662.8 976.4z" fill="#b5cf06"/><path d="M184.9 1027.3 203.2 1009.8 188.2 1012.3 170 1030z" fill="#95ff58"/><path d="M733.1 1017.9 747.9 1024.4 729.5 1011.1 714.6 1004.8z" fill="#5dc606"/><path d="M561.2 942.8 577.5 943.2 559.9 935.7 543.6 935.5z" fill="#ee7a17"/><path d="M356.1 943.2 373.7 934.6 357.3 933.1 339.8 941.9z" fill="#ff943f"/><path d="M527.1 936.5 543.6 935.5 526.2 929 509.6 930.3z" fill="#f96c1e"/><path d="M390.2 936.8 407.6 929.7 391 927.3 373.7 934.6z" fill="#ff7d39"/><path d="M270.3 976.6 288.3 963.5 272.6 964.1 254.7 977.4z" fill="#ffed4d"/><path d="M647.2 972.9 662.8 976.4 644.8 966 629.1 962.7z" fill="#dbc309"/><path d="M492.9 932.8 509.6 930.3 492.4 924.8 475.6 927.6z" fill="#ff6425"/><path d="M424.4 933 441.6 927.4 424.8 923.9 407.6 929.7z" fill="#ff6c32"/><path d="M458.6 931.6 475.6 927.6 458.6 923.1 441.6 927.4z" fill="#ff642c"/><path d="M218.4 1008 236.6 992 221.3 993.6 203.2 1009.8z" fill="#c9ff55"/><path d="M166.6 1046.2 184.9 1027.3 170 1030 151.8 1049z" fill="#73ff5b"/><path d="M699.4 999.7 714.6 1004.8 696.3 992.6 681 987.6z" fill="#a1d206"/><path d="M304.2 963.6 322.1 952.1 306.1 951.8 288.3 963.5z" fill="#ffc648"/><path d="M613.2 960.6 629.1 962.7 611.2 953.4 595.3 951.5z" fill="#e7a10f"/><path d="M751.8 1031.8 766.4 1038.5 747.9 1024.4 733.1 1017.9z" fill="#43c906"/><path d="M338.3 953.2 356.1 943.2 339.8 941.9 322.1 952.1z" fill="#ffa543"/><path d="M579 950.8 595.3 951.5 577.5 943.2 561.2 942.8z" fill="#f38715"/><path d="M252.2 991 270.3 976.6 254.7 977.4 236.6 992z" fill="#f8ff51"/><path d="M665.5 983.9 681 987.6 662.8 976.4 647.2 972.9z" fill="#dfda08"/><path d="M372.6 945.2 390.2 936.8 373.7 934.6 356.1 943.2z" fill="#ff8a3d"/><path d="M544.7 943.5 561.2 942.8 543.6 935.5 527.1 936.5z" fill="#fe741d"/><path d="M200.1 1025.3 218.4 1008 203.2 1009.8 184.9 1027.3z" fill="#aaff58"/><path d="M407 939.8 424.4 933 407.6 929.7 390.2 936.8z" fill="#ff7537"/><path d="M510.3 938.8 527.1 936.5 509.6 930.3 492.9 932.8z" fill="#ff6623"/><path d="M718 1012.5 733.1 1017.9 714.6 1004.8 699.4 999.7z" fill="#8ad506"/><path d="M441.4 936.9 458.6 931.6 441.6 927.4 424.4 933z" fill="#ff6831"/><path d="M475.9 936.6 492.9 932.8 475.6 927.6 458.6 931.6z" fill="#ff622a"/><path d="M286.2 976.5 304.2 963.6 288.3 963.5 270.3 976.6z" fill="#ffdd4c"/><path d="M631.4 970.5 647.2 972.9 629.1 962.7 613.2 960.6z" fill="#ecb50e"/><path d="M233.9 1006.8 252.2 991 236.6 992 218.4 1008z" fill="#dbff54"/><path d="M320.4 964.5 338.3 953.2 322.1 952.1 304.2 963.6z" fill="#ffb848"/><path d="M181.7 1044 200.1 1025.3 184.9 1027.3 166.6 1046.2z" fill="#89ff5a"/><path d="M597.1 959.7 613.2 960.6 595.3 951.5 579 950.8z" fill="#f89614"/><path d="M684 995.6 699.4 999.7 681 987.6 665.5 983.9z" fill="#d1e207"/><path d="M354.8 955 372.6 945.2 356.1 943.2 338.3 953.2z" fill="#ff9a42"/><path d="M736.8 1026.2 751.8 1031.8 733.1 1017.9 718 1012.5z" fill="#70d806"/><path d="M562.6 951.3 579 950.8 561.2 942.8 544.7 943.5z" fill="#ff7d1b"/><path d="M268 990.7 286.2 976.5 270.3 976.6 252.2 991z" fill="#fff650"/><path d="M389.3 948 407 939.8 390.2 936.8 372.6 945.2z" fill="#ff813c"/><path d="M528 945.5 544.7 943.5 527.1 936.5 510.3 938.8z" fill="#ff6b22"/><path d="M649.7 981.2 665.5 983.9 647.2 972.9 631.4 970.5z" fill="#efcb0c"/><path d="M424 943.5 441.4 936.9 424.4 933 407 939.8z" fill="#ff6f36"/><path d="M493.3 942.3 510.3 938.8 492.9 932.8 475.9 936.6z" fill="#ff6428"/><path d="M215.5 1023.9 233.9 1006.8 218.4 1008 200.1 1025.3z" fill="#bdff57"/><path d="M458.6 941.6 475.9 936.6 458.6 931.6 441.4 936.9z" fill="#ff652f"/><path d="M302.3 977.1 320.4 964.5 304.2 963.6 286.2 976.5z" fill="#ffcf4c"/><path d="M702.7 1008.2 718 1012.5 699.4 999.7 684 995.6z" fill="#bae607"/><path d="M615.3 969.3 631.4 970.5 613.2 960.6 597.1 959.7z" fill="#fca913"/><path d="M336.8 966 354.8 955 338.3 953.2 320.4 964.5z" fill="#ffad47"/><path d="M249.7 1006.3 268 990.7 252.2 991 233.9 1006.8z" fill="#ecff54"/><path d="M580.6 959.9 597.1 959.7 579 950.8 562.6 951.3z" fill="#ff8919"/><path d="M197 1042.4 215.5 1023.9 200.1 1025.3 181.7 1044z" fill="#9cff5a"/><path d="M668.3 992.8 684 995.6 665.5 983.9 649.7 981.2z" fill="#f3e50b"/><path d="M371.5 957.5 389.3 948 372.6 945.2 354.8 955z" fill="#ff9141"/><path d="M545.9 953.1 562.6 951.3 544.7 943.5 528 945.5z" fill="#ff7320"/><path d="M406.3 951.4 424 943.5 407 939.8 389.3 948z" fill="#ff7b3b"/><path d="M511 948.8 528 945.5 510.3 938.8 493.3 942.3z" fill="#ff6727"/><path d="M721.5 1021.7 736.8 1026.2 718 1012.5 702.7 1008.2z" fill="#9fe907"/><path d="M284.1 991.1 302.3 977.1 286.2 976.5 268 990.7z" fill="#ffe850"/><path d="M441.2 948 458.6 941.6 441.4 936.9 424 943.5z" fill="#ff6c34"/><path d="M476.1 947.1 493.3 942.3 475.9 936.6 458.6 941.6z" fill="#ff652e"/><path d="M633.7 979.8 649.7 981.2 631.4 970.5 615.3 969.3z" fill="#ffbe11"/><path d="M231.2 1023.2 249.7 1006.3 233.9 1006.8 215.5 1023.9z" fill="#ceff57"/><path d="M318.7 978.4 336.8 966 320.4 964.5 302.3 977.1z" fill="#ffc34b"/><path d="M598.9 969.3 615.3 969.3 597.1 959.7 580.6 959.9z" fill="#ff9818"/><path d="M687 1005.1 702.7 1008.2 684 995.6 668.3 992.8z" fill="#eaf60a"/><path d="M353.5 968.3 371.5 957.5 354.8 955 336.8 966z" fill="#ffa346"/><path d="M564 961.4 580.6 959.9 562.6 951.3 545.9 953.1z" fill="#ff7d1e"/><path d="M265.7 1006.5 284.1 991.1 268 990.7 249.7 1006.3z" fill="#fbff53"/><path d="M388.5 960.7 406.3 951.4 389.3 948 371.5 957.5z" fill="#ff8a40"/><path d="M212.6 1041.6 231.2 1023.2 215.5 1023.9 197 1042.4z" fill="#aeff5a"/><path d="M528.9 956.1 545.9 953.1 528 945.5 511 948.8z" fill="#ff6d25"/><path d="M652.3 991.1 668.3 992.8 649.7 981.2 633.7 979.8z" fill="#ffd410"/><path d="M423.5 955.7 441.2 948 424 943.5 406.3 951.4z" fill="#ff773a"/><path d="M493.8 953.4 511 948.8 493.3 942.3 476.1 947.1z" fill="#ff682c"/><path d="M458.7 953.2 476.1 947.1 458.6 941.6 441.2 948z" fill="#ff6b33"/><path d="M300.4 992.2 318.7 978.4 302.3 977.1 284.1 991.1z" fill="#ffdb4f"/><path d="M705.9 1018.4 721.5 1021.7 702.7 1008.2 687 1005.1z" fill="#cff908"/><path d="M617.4 979.6 633.7 979.8 615.3 969.3 598.9 969.3z" fill="#ffa916"/><path d="M247.1 1023.3 265.7 1006.5 249.7 1006.3 231.2 1023.2z" fill="#deff57"/><path d="M335.3 980.5 353.5 968.3 336.8 966 318.7 978.4z" fill="#ffb94a"/><path d="M582.2 970.6 598.9 969.3 580.6 959.9 564 961.4z" fill="#ff8a1d"/><path d="M370.5 971.3 388.5 960.7 371.5 957.5 353.5 968.3z" fill="#ff9c45"/><path d="M671.1 1003.2 687 1005.1 668.3 992.8 652.3 991.1z" fill="#ffed0e"/><path d="M547 964.2 564 961.4 545.9 953.1 528.9 956.1z" fill="#ff7623"/><path d="M405.7 964.7 423.5 955.7 406.3 951.4 388.5 960.7z" fill="#ff853f"/><path d="M281.9 1007.4 300.4 992.2 284.1 991.1 265.7 1006.5z" fill="#fff653"/><path d="M511.7 960.4 528.9 956.1 511 948.8 493.8 953.4z" fill="#ff6d2a"/><path d="M441 960.7 458.7 953.2 441.2 948 423.5 955.7z" fill="#ff7538"/><path d="M476.4 959.3 493.8 953.4 476.1 947.1 458.7 953.2z" fill="#ff6d31"/><path d="M228.5 1041.4 247.1 1023.3 231.2 1023.2 212.6 1041.6z" fill="#beff5a"/><path d="M636 990.6 652.3 991.1 633.7 979.8 617.4 979.6z" fill="#ffbd14"/><path d="M317 994.1 335.3 980.5 318.7 978.4 300.4 992.2z" fill="#ffd04e"/><path d="M600.7 980.6 617.4 979.6 598.9 969.3 582.2 970.6z" fill="#ff9a1b"/><path d="M690 1016.2 705.9 1018.4 687 1005.1 671.1 1003.2z" fill="#f4ff0d"/><path d="M352.2 983.3 370.5 971.3 353.5 968.3 335.3 980.5z" fill="#ffb149"/><path d="M263.3 1024 281.9 1007.4 265.7 1006.5 247.1 1023.3z" fill="#ebff57"/><path d="M565.3 973.2 582.2 970.6 564 961.4 547 964.2z" fill="#ff8122"/><path d="M387.6 975.1 405.7 964.7 388.5 960.7 370.5 971.3z" fill="#ff9644"/><path d="M529.8 968.3 547 964.2 528.9 956.1 511.7 960.4z" fill="#ff7429"/><path d="M423.1 969.5 441 960.7 423.5 955.7 405.7 964.7z" fill="#ff823d"/><path d="M654.8 1002.6 671.1 1003.2 652.3 991.1 636 990.6z" fill="#ffd513"/><path d="M494.3 966.1 511.7 960.4 493.8 953.4 476.4 959.3z" fill="#ff7030"/><path d="M458.7 966.5 476.4 959.3 458.7 953.2 441 960.7z" fill="#ff7537"/><path d="M298.5 1009.1 317 994.1 300.4 992.2 281.9 1007.4z" fill="#ffeb52"/><path d="M244.6 1042 263.3 1024 247.1 1023.3 228.5 1041.4z" fill="#ccff5a"/><path d="M619.4 991.4 636 990.6 617.4 979.6 600.7 980.6z" fill="#ffac19"/><path d="M333.8 996.7 352.2 983.3 335.3 980.5 317 994.1z" fill="#ffc84e"/><path d="M583.9 982.9 600.7 980.6 582.2 970.6 565.3 973.2z" fill="#ff9020"/><path d="M369.4 986.9 387.6 975.1 370.5 971.3 352.2 983.3z" fill="#ffaa49"/><path d="M673.9 1015.3 690 1016.2 671.1 1003.2 654.8 1002.6z" fill="#ffef11"/><path d="M279.8 1025.4 298.5 1009.1 281.9 1007.4 263.3 1024z" fill="#f7ff56"/><path d="M548.2 977 565.3 973.2 547 964.2 529.8 968.3z" fill="#ff7e27"/><path d="M405 979.6 423.1 969.5 405.7 964.7 387.6 975.1z" fill="#ff9343"/><path d="M512.4 973.7 529.8 968.3 511.7 960.4 494.3 966.1z" fill="#ff772e"/><path d="M440.8 975 458.7 966.5 441 960.7 423.1 969.5z" fill="#ff823c"/><path d="M476.6 973.1 494.3 966.1 476.4 959.3 458.7 966.5z" fill="#ff7836"/><path d="M638.3 1003.1 654.8 1002.6 636 990.6 619.4 991.4z" fill="#ffc218"/><path d="M315.3 1011.5 333.8 996.7 317 994.1 298.5 1009.1z" fill="#ffe152"/><path d="M602.6 993.5 619.4 991.4 600.7 980.6 583.9 982.9z" fill="#ffa11f"/><path d="M261 1043.3 279.8 1025.4 263.3 1024 244.6 1042z" fill="#d9ff5a"/><path d="M350.9 1000 369.4 986.9 352.2 983.3 333.8 996.7z" fill="#ffc14d"/><path d="M566.7 986.5 583.9 982.9 565.3 973.2 548.2 977z" fill="#ff8b26"/><path d="M386.7 991.2 405 979.6 387.6 975.1 369.4 986.9z" fill="#ffa648"/><path d="M530.8 982.2 548.2 977 529.8 968.3 512.4 973.7z" fill="#ff7f2d"/><path d="M422.7 985 440.8 975 423.1 969.5 405 979.6z" fill="#ff9242"/><path d="M296.5 1027.6 315.3 1011.5 298.5 1009.1 279.8 1025.4z" fill="#fffd56"/><path d="M657.4 1015.7 673.9 1015.3 654.8 1002.6 638.3 1003.1z" fill="#ffda16"/><path d="M494.7 980.5 512.4 973.7 494.3 966.1 476.6 973.1z" fill="#ff7d34"/><path d="M458.7 981.4 476.6 973.1 458.7 966.5 440.8 975z" fill="#ff843b"/><path d="M332.3 1014.6 350.9 1000 333.8 996.7 315.3 1011.5z" fill="#ffda52"/><path d="M621.6 1005 638.3 1003.1 619.4 991.4 602.6 993.5z" fill="#ffb51d"/><path d="M368.3 1004.2 386.7 991.2 369.4 986.9 350.9 1000z" fill="#ffbc4d"/><path d="M585.5 996.9 602.6 993.5 583.9 982.9 566.7 986.5z" fill="#ff9a24"/><path d="M277.7 1045.3 296.5 1027.6 279.8 1025.4 261 1043.3z" fill="#e3ff5a"/><path d="M404.4 996.3 422.7 985 405 979.6 386.7 991.2z" fill="#ffa447"/><path d="M549.4 991.5 566.7 986.5 548.2 977 530.8 982.2z" fill="#ff8b2c"/><path d="M440.6 991.1 458.7 981.4 440.8 975 422.7 985z" fill="#ff9341"/><path d="M513.1 988.7 530.8 982.2 512.4 973.7 494.7 980.5z" fill="#ff8533"/><path d="M476.8 988.6 494.7 980.5 476.6 973.1 458.7 981.4z" fill="#ff883a"/><path d="M313.5 1030.6 332.3 1014.6 315.3 1011.5 296.5 1027.6z" fill="#fff556"/><path d="M640.7 1017.3 657.4 1015.7 638.3 1003.1 621.6 1005z" fill="#ffcb1c"/><path d="M349.6 1018.5 368.3 1004.2 350.9 1000 332.3 1014.6z" fill="#ffd551"/><path d="M604.5 1008.1 621.6 1005 602.6 993.5 585.5 996.9z" fill="#ffac23"/><path d="M385.9 1009.1 404.4 996.3 386.7 991.2 368.3 1004.2z" fill="#ffba4c"/><path d="M568.2 1001.6 585.5 996.9 566.7 986.5 549.4 991.5z" fill="#ff992a"/><path d="M294.6 1048 313.5 1030.6 296.5 1027.6 277.7 1045.3z" fill="#ecff5a"/><path d="M422.3 1002.3 440.6 991.1 422.7 985 404.4 996.3z" fill="#ffa546"/><path d="M531.7 997.8 549.4 991.5 530.8 982.2 513.1 988.7z" fill="#ff8f31"/><path d="M458.7 998.1 476.8 988.6 458.7 981.4 440.6 991.1z" fill="#ff9640"/><path d="M495.2 996.6 513.1 988.7 494.7 980.5 476.8 988.6z" fill="#ff8e39"/><path d="M330.8 1034.3 349.6 1018.5 332.3 1014.6 313.5 1030.6z" fill="#ffef56"/><path d="M623.7 1020.2 640.7 1017.3 621.6 1005 604.5 1008.1z" fill="#ffc121"/><path d="M367.2 1023.2 385.9 1009.1 368.3 1004.2 349.6 1018.5z" fill="#ffd151"/><path d="M587.2 1012.6 604.5 1008.1 585.5 996.9 568.2 1001.6z" fill="#ffa929"/><path d="M403.7 1014.8 422.3 1002.3 404.4 996.3 385.9 1009.1z" fill="#ffb94b"/><path d="M550.5 1007.7 568.2 1001.6 549.4 991.5 531.7 997.8z" fill="#ff9b30"/><path d="M440.4 1009 458.7 998.1 440.6 991.1 422.3 1002.3z" fill="#ffa745"/><path d="M513.8 1005.5 531.7 997.8 513.1 988.7 495.2 996.6z" fill="#ff9737"/><path d="M477.1 1005.9 495.2 996.6 476.8 988.6 458.7 998.1z" fill="#ff9b3f"/><path d="M311.8 1051.6 330.8 1034.3 313.5 1030.6 294.6 1048z" fill="#f2ff5a"/><path d="M348.3 1038.9 367.2 1023.2 349.6 1018.5 330.8 1034.3z" fill="#ffeb55"/><path d="M606.4 1024.5 623.7 1020.2 604.5 1008.1 587.2 1012.6z" fill="#ffbc27"/><path d="M385 1028.8 403.7 1014.8 385.9 1009.1 367.2 1023.2z" fill="#ffd050"/><path d="M569.6 1018.5 587.2 1012.6 568.2 1001.6 550.5 1007.7z" fill="#ffaa2f"/><path d="M421.8 1021.3 440.4 1009 422.3 1002.3 403.7 1014.8z" fill="#ffbb4b"/><path d="M532.7 1015.2 550.5 1007.7 531.7 997.8 513.8 1005.5z" fill="#ffa236"/><path d="M458.7 1016.6 477.1 1005.9 458.7 998.1 440.4 1009z" fill="#ffab44"/><path d="M495.7 1014.5 513.8 1005.5 495.2 996.6 477.1 1005.9z" fill="#ffa33d"/><path d="M329.2 1055.9 348.3 1038.9 330.8 1034.3 311.8 1051.6z" fill="#f7ff59"/><path d="M366.1 1044.2 385 1028.8 367.2 1023.2 348.3 1038.9z" fill="#ffe955"/><path d="M588.9 1030.2 606.4 1024.5 587.2 1012.6 569.6 1018.5z" fill="#ffbc2d"/><path d="M403.1 1035.1 421.8 1021.3 403.7 1014.8 385 1028.8z" fill="#ffd150"/><path d="M551.7 1025.7 569.6 1018.5 550.5 1007.7 532.7 1015.2z" fill="#ffb035"/><path d="M440.2 1028.7 458.7 1016.6 440.4 1009 421.8 1021.3z" fill="#ffbe4a"/><path d="M514.6 1024 532.7 1015.2 513.8 1005.5 495.7 1014.5z" fill="#ffad3c"/><path d="M477.4 1025 495.7 1014.5 477.1 1005.9 458.7 1016.6z" fill="#ffb243"/><path d="M347 1061.1 366.1 1044.2 348.3 1038.9 329.2 1055.9z" fill="#faff59"/><path d="M384.1 1050.3 403.1 1035.1 385 1028.8 366.1 1044.2z" fill="#ffe955"/><path d="M571 1037.2 588.9 1030.2 569.6 1018.5 551.7 1025.7z" fill="#ffc034"/><path d="M421.4 1042.3 440.2 1028.7 421.8 1021.3 403.1 1035.1z" fill="#ffd34f"/><path d="M533.6 1034.4 551.7 1025.7 532.7 1015.2 514.6 1024z" fill="#ffb93b"/><path d="M458.8 1036.9 477.4 1025 458.7 1016.6 440.2 1028.7z" fill="#ffc449"/><path d="M496.2 1034.3 514.6 1024 495.7 1014.5 477.4 1025z" fill="#ffbb42"/><path d="M365 1067.1 384.1 1050.3 366.1 1044.2 347 1061.1z" fill="#fbff59"/><path d="M402.4 1057.3 421.4 1042.3 403.1 1035.1 384.1 1050.3z" fill="#ffeb54"/><path d="M553 1045.6 571 1037.2 551.7 1025.7 533.6 1034.4z" fill="#ffc83a"/><path d="M440 1050.3 458.8 1036.9 440.2 1028.7 421.4 1042.3z" fill="#ffd84f"/><path d="M515.3 1044.4 533.6 1034.4 514.6 1024 496.2 1034.3z" fill="#ffc641"/><path d="M477.6 1046 496.2 1034.3 477.4 1025 458.8 1036.9z" fill="#ffcb48"/><path d="M383.2 1073.9 402.4 1057.3 384.1 1050.3 365 1067.1z" fill="#faff59"/><path d="M420.9 1065.2 440 1050.3 421.4 1042.3 402.4 1057.3z" fill="#ffee54"/><path d="M534.6 1055.5 553 1045.6 533.6 1034.4 515.3 1044.4z" fill="#ffd340"/><path d="M458.8 1059.2 477.6 1046 458.8 1036.9 440 1050.3z" fill="#ffdf4e"/><path d="M496.7 1056 515.3 1044.4 496.2 1034.3 477.6 1046z" fill="#ffd548"/><path d="M401.7 1081.5 420.9 1065.2 402.4 1057.3 383.2 1073.9z" fill="#f7ff59"/><path d="M439.8 1073.9 458.8 1059.2 440 1050.3 420.9 1065.2z" fill="#fff454"/><path d="M477.9 1069 496.7 1056 477.6 1046 458.8 1059.2z" fill="#ffe74d"/><path d="M516 1066.8 534.6 1055.5 515.3 1044.4 496.7 1056z" fill="#ffe147"/><path d="M420.5 1090 439.8 1073.9 420.9 1065.2 401.7 1081.5z" fill="#f2ff59"/><path d="M458.8 1083.4 477.9 1069 458.8 1059.2 439.8 1073.9z" fill="#fffc53"/><path d="M497.2 1079.6 516 1066.8 496.7 1056 477.9 1069z" fill="#fff24d"/><path d="M439.5 1099.4 458.8 1083.4 439.8 1073.9 420.5 1090z" fill="#ecff59"/><path d="M478.1 1093.9 497.2 1079.6 477.9 1069 458.8 1083.4z" fill="#f9ff53"/><path d="M458.8 1109.7 478.1 1093.9 458.8 1083.4 439.5 1099.4z" fill="#e3ff58"/></g>
<g fill="#000"><circle cx="129.3" cy="1178.4" r="2.8"/><circle cx="125.9" cy="1112.3" r="2.8"/><circle cx="122.4" cy="1046.3" r="2.8"/><circle cx="119" cy="980.2" r="2.8"/><circle cx="115.5" cy="914.1" r="2.8"/><circle cx="112.1" cy="848" r="2.8"/><circle cx="134.7" cy="1281.2" r="2.8"/><circle cx="783.2" cy="1281.2" r="2.8"/><circle cx="215.8" cy="1319.1" r="2.8"/><circle cx="702.1" cy="1319.1" r="2.8"/><circle cx="296.8" cy="1357" r="2.8"/><circle cx="621" cy="1357" r="2.8"/><circle cx="377.8" cy="1394.8" r="2.8"/><circle cx="540" cy="1394.8" r="2.8"/><circle cx="458.9" cy="1432.7" r="2.8"/></g>
<path d="M122.3 1049.7 122.9 1056.6" stroke="#111" stroke-width="1.3"/>
<circle cx="122.3" cy="1049.7" r="6.4" fill="#c00000" stroke="#500" stroke-width="1.1"/>
<path d="M458.3 1100 458.8 1109.7" stroke="#111" stroke-width="1.3"/>
<circle cx="458.3" cy="1100" r="6.4" fill="#c00000" stroke="#500" stroke-width="1.1"/>
<path d="M794 1054.5 794.9 1055.2" stroke="#111" stroke-width="1.3"/>
<circle cx="794" cy="1054.5" r="6.4" fill="#c00000" stroke="#500" stroke-width="1.1"/>
<path d="M458.2 915.6 458.6 931.6" stroke="#111" stroke-width="1.3"/>
<circle cx="458.2" cy="915.6" r="6.4" fill="#c00000" stroke="#500" stroke-width="1.1"/>
<g font-family="DejaVu Sans Condensed, DejaVu Sans, sans-serif" font-size="22" fill="#1a1a1a"><text x="115.3" y="1170.4" text-anchor="end">50</text><text x="111.9" y="1104.3" text-anchor="end">60</text><text x="108.4" y="1038.3" text-anchor="end">70</text><text x="105" y="972.2" text-anchor="end">80</text><text x="101.5" y="906.1" text-anchor="end">90</text><text x="98.1" y="840" text-anchor="end">100</text><text x="120.7" y="1304.2" text-anchor="end">1</text><text x="797.2" y="1304.2">1</text><text x="201.8" y="1342.1" text-anchor="end">0.5</text><text x="716.1" y="1342.1">0.5</text><text x="282.8" y="1380" text-anchor="end">0</text><text x="635" y="1380">0</text><text x="363.8" y="1417.8" text-anchor="end">-0.5</text><text x="554" y="1417.8">-0.5</text><text x="444.9" y="1455.7" text-anchor="end">-1</text><text x="472.9" y="1455.7">-1</text></g>
<g font-family="Liberation Serif, serif" font-size="26" fill="#111" lengthAdjust="spacing"><text x="50.7" y="1436.9" textLength="250.5">C: Initial concentration</text><text x="656.7" y="1423.8" textLength="168.8">B: Temperature</text></g>
<text transform="translate(61.5 1038.3) rotate(-90)" x="-118.9" y="0" textLength="237.8" lengthAdjust="spacingAndGlyphs" font-family="Liberation Serif, serif" font-size="26.5" fill="#141a30">Removal efficiency, %</text>
<rect x="773.7" y="761.2" width="65.5" height="86.6" rx="11" fill="#fff" stroke="#000" stroke-width="2.8"/>
<text transform="translate(815.6 821) scale(0.89 1)" text-anchor="middle" font-family="Liberation Sans, sans-serif" font-size="40" fill="#000">c</text>
<path d="M1096.5 1167.8 1084.3 845.5M1178.9 1140.5 1170.8 826.2M1261.3 1113.2 1257.2 806.9M1343.8 1178.7 1343.7 787.6M1426.2 1113.1 1430.1 806.5M1508.6 1140.3 1516.5 825.4M1591 1167.5 1602.8 844.3M1668.5 1297.8 1689.2 863.2M1019.1 1297.8 997.8 864.8M1014 1195.1 1343.8 1085.9M1343.8 1085.9 1673.4 1194.7M1010.8 1129 1343.8 1026.3M1343.8 1026.3 1676.6 1128.4M1007.5 1063 1343.7 966.6M1343.7 966.6 1679.7 1062.1M1004.3 996.9 1343.7 906.9M1343.7 906.9 1682.9 995.8M1001 930.9 1343.7 847.3M1343.7 847.3 1686 929.5M997.8 864.8 1343.7 787.6M1343.7 787.6 1689.2 863.2" stroke="#111" stroke-width="1.4" fill="none"/>
<path d="M1019.1 1297.8 1343.8 1448.3 1668.5 1297.8 1343.8 1178.7z" fill="#5f5f5f"/>
<path d="M1024.9 1300.4 1023.6 1298.6 1022.9 1297.6 1022.3 1296.7" stroke="#00c2ff" stroke-width="3" fill="none"/>
<path d="M1368.6 1436.8 1364.8 1436.3 1360.2 1435.6 1357.4 1435.2 1354.2 1434.8 1349.1 1434 1346.4 1433.6 1343.3 1433.1 1338.2 1432.3 1335.6 1431.9 1332 1431.3 1327.6 1430.5 1325 1430.1 1320.4 1429.3 1317.2 1428.7 1314.3 1428.2 1309.5 1427.3 1306.9 1426.8 1301.9 1425.8 1299.4 1425.3 1295.5 1424.5 1291.9 1423.7 1289 1423.1 1289 1423.1" stroke="#00c2ff" stroke-width="3" fill="none"/>
<path d="M1339.8 1180.4 1342.7 1180.7 1346.6 1181.1 1348.9 1181.3 1350.9 1181.5" stroke="#00c2ff" stroke-width="3" fill="none"/>
<path d="M1102 1336.2 1100.7 1335.4 1098.2 1333.7 1095.8 1332.1 1094.5 1331.2 1092.2 1329.6 1089.9 1327.9 1088.5 1326.9 1086.5 1325.4 1084.3 1323.7 1083.2 1322.8 1081.1 1321.1 1079.2 1319.5 1078 1318.5 1076 1316.8 1075.1 1315.9 1073.2 1314.1 1072.2 1313.2 1070.4 1311.5 1069.3 1310.4 1067.7 1308.8 1066.7 1307.7 1065.2 1306 1064.3 1305.1 1062.8 1303.3 1062 1302.4 1060.5 1300.5 1059.8 1299.6 1058.6 1298 1057.7 1296.7 1057.1 1295.8 1055.8 1293.9 1055.2 1292.9 1054.4 1291.6 1053.4 1290 1052.9 1289 1052.2 1287.7 1051.4 1286 1051.4 1286" stroke="#00ffa5" stroke-width="3" fill="none"/>
<path d="M1397.3 1423.5 1393.8 1423.1 1389.1 1422.6 1385.5 1422.3 1382.6 1421.9 1379.5 1421.6 1374.6 1421 1371.1 1420.6 1368.3 1420.2 1364.5 1419.7 1360 1419.1 1357.2 1418.7 1354.1 1418.3 1349 1417.5 1346.3 1417.1 1343.3 1416.6 1338.3 1415.8 1335.7 1415.4 1332.1 1414.8 1327.9 1414.1 1325.3 1413.6 1320.4 1412.8 1317.6 1412.3 1314.4 1411.6 1310.1 1410.8 1307.6 1410.3 1302.7 1409.4 1300.3 1408.9 1295.4 1407.9 1293 1407.3 1288.6 1406.4 1285.8 1405.8 1281.7 1404.8 1278.8 1404.2 1274.5 1403.2 1271.9 1402.6 1267.3 1401.5 1265 1400.9 1260.6 1399.8 1258.3 1399.2 1253.9 1398 1251.1 1397.3 1247.4 1396.3 1243.1 1395.1 1240.9 1394.5 1236.7 1393.3 1233.3 1392.3 1230.4 1391.5 1226.3 1390.3 1223.4 1389.4 1220.2 1388.4 1216.1 1387.1 1212.4 1385.9 1210.2 1385.2 1206.3 1383.9 1202.4 1382.6 1199.9 1381.8 1199.9 1381.8" stroke="#00ffa5" stroke-width="3" fill="none"/>
<path d="M1316 1189.1 1319.5 1189.3 1323.2 1189.6 1325.7 1189.8 1328.1 1190 1330.8 1190.3 1334.7 1190.6 1337.5 1190.9 1339.8 1191.1 1342.7 1191.4 1346.7 1191.8 1348.9 1192.1 1351.2 1192.3 1355.2 1192.8 1357.9 1193.1 1360.1 1193.4 1364 1193.8 1366.8 1194.2 1368.9 1194.5 1373.2 1195 1375.4 1195.3 1377.9 1195.7 1381.9 1196.3 1384 1196.6 1387.8 1197.1 1390.3 1197.5 1392.9 1197.9 1396.6 1198.5 1398.2 1198.8" stroke="#00ffa5" stroke-width="3" fill="none"/>
<path d="M1651.8 1291.3 1653.4 1292.5 1654.5 1293.4 1656.8 1295.4 1658 1296.3 1659.4 1297.6 1661.3 1299.3 1662.4 1300.3 1662.4 1300.3" stroke="#00ffa5" stroke-width="3" fill="none"/>
<path d="M1432.2 1407.3 1428.9 1407.1 1425.5 1407 1421.4 1406.7 1417.3 1406.5 1413.1 1406.2 1410 1406 1406.9 1405.8 1403.8 1405.6 1400.2 1405.3 1395.7 1404.9 1391.9 1404.5 1388.9 1404.2 1386 1403.9 1382 1403.5 1377.4 1403 1374.6 1402.7 1371.7 1402.3 1367.5 1401.8 1363.4 1401.3 1360.7 1400.9 1357.4 1400.5 1352.6 1399.8 1349.9 1399.4 1346.8 1399 1342 1398.2 1339.4 1397.8 1335.8 1397.2 1331.7 1396.5 1329.1 1396.1 1324.3 1395.2 1321.6 1394.7 1318.3 1394.1 1314.2 1393.3 1311.7 1392.8 1306.9 1391.9 1304.5 1391.4 1299.8 1390.4 1297.4 1389.9 1292.8 1388.8 1290.4 1388.3 1285.9 1387.3 1283.6 1386.7 1279.1 1385.7 1276.8 1385.1 1272.4 1384 1269.8 1383.4 1265.9 1382.3 1261.6 1381.2 1259.4 1380.6 1255.2 1379.4 1252.6 1378.7 1249 1377.7 1244.9 1376.4 1242.8 1375.8 1238.8 1374.6 1234.8 1373.4 1231.9 1372.5 1228.9 1371.5 1225.1 1370.2 1221.2 1368.9 1219.1 1368.2 1215.6 1367 1211.9 1365.7 1208.2 1364.3 1204.6 1363 1202.2 1362.1 1199.3 1360.9 1195.8 1359.6 1192.3 1358.2 1188.9 1356.8 1185.6 1355.4 1182.3 1353.9 1179 1352.5 1175.8 1351.1 1172.6 1349.6 1169.5 1348.1 1166.4 1346.6 1163.4 1345.1 1160.4 1343.6 1157.4 1342.1 1154.5 1340.6 1151.7 1339.1 1150.3 1338.3 1147.5 1336.7 1144.8 1335.1 1142.1 1333.6 1139.5 1332 1138.2 1331.2 1135.6 1329.6 1133.1 1327.9 1131 1326.5 1129.5 1325.5 1127.1 1323.8 1124.9 1322.2 1123.6 1321.3 1121.4 1319.6 1119.9 1318.4 1118.1 1317.1 1116 1315.3 1115 1314.5 1113 1312.7 1112 1311.8 1110.1 1310.1 1108.9 1309 1107.3 1307.4 1106.1 1306.3 1104.6 1304.7 1103.7 1303.7 1102.1 1301.9 1101.3 1301 1099.8 1299.1 1099 1298.2 1097.8 1296.6 1096.9 1295.4 1096.2 1294.4 1094.9 1292.5 1094.3 1291.5 1093.7 1290.4 1092.6 1288.6 1092.1 1287.6 1091.6 1286.6 1090.7 1284.8 1090.2 1283.5 1089.7 1282.5 1089.3 1281.3 1088.7 1279.6 1088.3 1278.3 1088 1277.2 1087.8 1276.2 1087.5 1274.9 1087.2 1273.3 1087.2 1272.9" stroke="#00ff0e" stroke-width="3" fill="none"/>
<path d="M1285.5 1200.3 1288.3 1200.3 1291 1200.4 1293.7 1200.5 1296.4 1200.6 1299.6 1200.7 1303 1200.9 1306.5 1201.1 1309.4 1201.3 1312 1201.4 1314.5 1201.6 1317.1 1201.7 1320.8 1202 1324.5 1202.3 1326.9 1202.5 1329.3 1202.7 1332.1 1202.9 1336 1203.3 1338.9 1203.5 1341.2 1203.8 1344.1 1204.1 1348.2 1204.5 1350.5 1204.7 1352.8 1205 1356.9 1205.5 1359.6 1205.8 1361.8 1206.1 1365.9 1206.6 1368.4 1206.9 1370.6 1207.2 1375 1207.8 1377.2 1208.2 1380.3 1208.6 1383.6 1209.1 1385.7 1209.4 1389.9 1210.1 1392 1210.5 1396 1211.1 1398.3 1211.5 1401.7 1212.1 1404.5 1212.6 1407.6 1213.2 1410.5 1213.7 1413.7 1214.3 1416.6 1214.9 1420.2 1215.6 1422.5 1216.1 1426.5 1216.9 1428.4 1217.3 1432.3 1218.1 1434.3 1218.6 1438.1 1219.4 1441.9 1220.3 1443.8 1220.7 1447.6 1221.6 1450.8 1222.4 1453.2 1223 1457 1223.9 1460.4 1224.8 1462.5 1225.3 1466.1 1226.3 1469.8 1227.3 1471.7 1227.8 1475.2 1228.8 1478.8 1229.8 1482.3 1230.8 1485.8 1231.9 1487.6 1232.4 1491.1 1233.5 1494.6 1234.5 1498 1235.6 1501.4 1236.8 1504.8 1237.9 1508.2 1239 1511.6 1240.2 1514.9 1241.3 1516.8 1242 1516.8 1242" stroke="#00ff0e" stroke-width="3" fill="none"/>
<path d="M1522 1243.9 1524.8 1244.9 1528 1246.2 1531.2 1247.4 1534.4 1248.7 1537.6 1250 1540.7 1251.3 1543.8 1252.6 1546.9 1253.9 1550 1255.3 1551.5 1255.9 1554.6 1257.3 1557.6 1258.7 1560.6 1260.1 1562 1260.8 1565 1262.3 1567.9 1263.7 1570.5 1265.1 1572.2 1266 1575.1 1267.5 1577.5 1268.8 1579.3 1269.8 1582.1 1271.3 1583.5 1272.1 1586.1 1273.7 1588.7 1275.2 1590.2 1276.1 1592.8 1277.8 1594.1 1278.6 1596.7 1280.3 1598 1281.2 1600.5 1282.9 1601.8 1283.8 1604.2 1285.5 1605.4 1286.4 1607.7 1288.1 1609 1289.2 1610.6 1290.4 1612.5 1291.9 1613.7 1292.9 1615.8 1294.7 1617 1295.8 1618.1 1296.8 1620.2 1298.7 1621.3 1299.8 1622.3 1300.8 1624.2 1302.7 1625.3 1303.9 1626.3 1304.9 1627.5 1306.4 1629 1308.1 1630 1309.3 1630.8 1310.4 1631.7 1311.6 1633 1313.3 1633.3 1313.8" stroke="#00ff0e" stroke-width="3" fill="none"/>
<path d="M1483.8 1383.3 1480.5 1383.6 1477.6 1383.9 1474.6 1384.1 1471.1 1384.3 1467 1384.6 1463.1 1384.8 1459.2 1384.9 1455.9 1385.1 1452.6 1385.1 1449.3 1385.2 1445.9 1385.3 1442.4 1385.3 1438.9 1385.3 1435.4 1385.3 1431.8 1385.2 1428.1 1385.2 1424.4 1385.1 1420.7 1385 1417.4 1384.9 1414.2 1384.7 1411.1 1384.6 1407.9 1384.4 1404.8 1384.2 1400.8 1384 1396.6 1383.7 1392.7 1383.4 1389.8 1383.1 1386.9 1382.9 1383.5 1382.6 1379 1382.1 1375.4 1381.7 1372.6 1381.4 1369.7 1381.1 1364.8 1380.5 1361.6 1380.1 1358.9 1379.8 1354.8 1379.2 1351 1378.7 1348.4 1378.3 1344.3 1377.6 1340.7 1377.1 1338.2 1376.7 1333.2 1375.8 1330.7 1375.4 1327.3 1374.8 1323.4 1374 1320.9 1373.6 1316.2 1372.6 1313.8 1372.2 1309.2 1371.2 1306.8 1370.7 1302.3 1369.7 1300 1369.2 1295.5 1368.1 1293.3 1367.6 1288.9 1366.5 1286.6 1366 1282.5 1364.9 1278.3 1363.8 1276.1 1363.2 1272 1362.1 1269.2 1361.3 1265.9 1360.3 1261.8 1359.1 1258.9 1358.2 1255.9 1357.3 1252.1 1356.1 1248.2 1354.8 1246.3 1354.2 1242.6 1352.9 1238.9 1351.6 1235.3 1350.3 1231.7 1349 1229.6 1348.2 1226.4 1347 1223 1345.6 1219.6 1344.3 1216.3 1342.9 1213 1341.5 1209.7 1340 1206.6 1338.6 1203.4 1337.2 1200.4 1335.7 1197.4 1334.2 1194.4 1332.7 1191.5 1331.2 1190.1 1330.4 1187.2 1328.9 1184.5 1327.4 1181.8 1325.8 1179.1 1324.2 1177.8 1323.4 1175.3 1321.8 1172.8 1320.2 1171.3 1319.3 1169.1 1317.7 1166.8 1316.1 1165.6 1315.2 1163.4 1313.6 1161.2 1311.8 1160.1 1311 1158 1309.3 1157 1308.4 1155 1306.6 1154.1 1305.7 1152.2 1303.9 1151.3 1303 1149.5 1301.2 1148.7 1300.3 1147 1298.4 1146.2 1297.5 1145 1296 1144 1294.7 1143.3 1293.7 1142 1291.8 1141.3 1290.8 1140.7 1289.8 1139.7 1288 1139.1 1286.8 1138.6 1285.8 1138 1284.4 1137.3 1282.7 1136.9 1281.6 1136.5 1280.5 1136.2 1279.4 1135.8 1277.9 1135.5 1276.4 1135.3 1275 1135.2 1273.9 1135.2 1272.7 1135.1 1271.6 1135.1 1270.4 1135.2 1269.2 1135.4 1268 1135.5 1266.7 1135.8 1265.5 1136.1 1264.2 1136.5 1262.9 1137 1261.5 1137.6 1260.2 1138.2 1258.8 1139 1257.5 1139.6 1256.4 1140.3 1255.4 1141 1254.3 1142.2 1252.8 1142.2 1252.8" stroke="#89ff00" stroke-width="3" fill="none"/>
<path d="M1235.8 1218.5 1239.7 1218.1 1242.1 1217.9 1244.6 1217.6 1247.8 1217.4 1251.5 1217.1 1254.8 1216.9 1257.5 1216.8 1260.1 1216.6 1262.8 1216.5 1265.6 1216.4 1268.7 1216.3 1271.9 1216.2 1275.1 1216.2 1278.2 1216.1 1281.3 1216.1 1284.3 1216.1 1287.2 1216.1 1290.2 1216.2 1293 1216.2 1295.9 1216.3 1298.7 1216.3 1301.8 1216.4 1305.1 1216.5 1308.5 1216.7 1311.9 1216.8 1314.9 1217 1317.5 1217.1 1320.1 1217.3 1322.7 1217.5 1326.3 1217.7 1330.1 1218 1332.7 1218.2 1335.2 1218.4 1337.9 1218.7 1341.9 1219.1 1344.8 1219.4 1347.2 1219.6 1350.3 1220 1354.2 1220.4 1356.4 1220.7 1359.1 1221 1363.3 1221.5 1365.5 1221.8 1368.4 1222.2 1372.2 1222.8 1374.3 1223.1 1378.4 1223.7 1380.8 1224.1 1383.7 1224.5 1387.2 1225.1 1389.3 1225.5 1393.5 1226.2 1395.6 1226.6 1399.7 1227.4 1401.8 1227.7 1405.8 1228.5 1407.8 1228.9 1411.8 1229.8 1414.2 1230.3 1417.8 1231 1421.6 1231.9 1423.6 1232.3 1427.5 1233.2 1429.7 1233.8 1433.2 1234.6 1437 1235.6 1438.8 1236 1442.6 1237 1446.3 1238 1449.6 1238.9 1451.7 1239.5 1455.3 1240.5 1458.9 1241.6 1462.5 1242.6 1464.2 1243.2 1467.7 1244.3 1471.2 1245.4 1474.7 1246.5 1478.1 1247.6 1481.4 1248.8 1484.8 1250 1488.1 1251.2 1491.4 1252.4 1494.7 1253.6 1497.9 1254.9 1501.1 1256.1 1504.3 1257.4 1507.4 1258.7 1510.5 1260.1 1513.6 1261.4 1515.1 1262.1 1518.1 1263.5 1521.1 1264.9 1524.1 1266.3 1526.3 1267.5 1528.4 1268.5 1531.3 1270 1534.1 1271.5 1535.5 1272.3 1538.3 1273.8 1540.6 1275.2 1542.3 1276.2 1545 1277.8 1546.3 1278.6 1548.9 1280.2 1550.4 1281.2 1552.7 1282.8 1554.4 1283.9 1556.4 1285.4 1557.9 1286.4 1560 1288 1561.2 1288.9 1563.5 1290.8 1564.6 1291.7 1566.5 1293.3 1567.9 1294.6 1569 1295.5 1570.9 1297.4 1572 1298.5 1573 1299.5 1574.7 1301.3 1575.9 1302.6 1576.8 1303.7 1577.8 1304.9 1579.1 1306.7 1580.1 1308.1 1580.9 1309.2 1581.7 1310.3 1582.5 1311.7 1583.4 1313.3 1584.2 1314.9 1584.9 1316.3 1585.5 1317.6 1586 1318.9 1586.4 1320.2 1586.8 1321.5 1587.2 1322.9 1587.5 1324.3 1587.8 1325.7 1587.9 1327.2 1588 1328.7 1588.1 1330.2 1588 1331.7 1587.9 1332.9 1587.7 1334.2 1587.6 1335.1" stroke="#89ff00" stroke-width="3" fill="none"/>
<path d="M1255.3 1327 1252.1 1325.6 1250.5 1324.9 1247.4 1323.4 1244.4 1322 1241.4 1320.5 1238.5 1319 1235.7 1317.5 1232.9 1316 1231.6 1315.2 1229 1313.6 1226.4 1312 1224.4 1310.7 1222.7 1309.6 1220.4 1307.9 1219.2 1307 1217 1305.3 1215.3 1303.9 1213.9 1302.7 1212.1 1301.1 1211 1300.1 1209.6 1298.6 1208.3 1297.3 1207.4 1296.3 1205.9 1294.5 1205.1 1293.5 1204.1 1292.1 1203.1 1290.5 1202.5 1289.5 1201.8 1288.4 1200.9 1286.6 1200.4 1285.4 1200 1284.3 1199.6 1283.2 1199.3 1281.8 1198.9 1280.3 1198.8 1278.9 1198.7 1277.5 1198.7 1276.3 1198.8 1275 1198.9 1273.7 1199.2 1272.4 1199.6 1271.1 1200 1270 1200.4 1268.8 1201 1267.7 1201.6 1266.6 1202.5 1265.2 1203.7 1263.6 1204.6 1262.6 1205.4 1261.7 1207.3 1259.8 1208.4 1259 1210.1 1257.6 1211.7 1256.5 1214 1255 1215.4 1254.1 1218.1 1252.7 1221 1251.3 1222.4 1250.6 1225.5 1249.3 1228.8 1248.1 1232.1 1246.9 1233.9 1246.4 1237.5 1245.3 1241.2 1244.4 1243.9 1243.7 1247.2 1243 1250.9 1242.2 1253.4 1241.8 1256.7 1241.2 1260 1240.7 1262.3 1240.4 1266.4 1239.9 1269.4 1239.5 1271.8 1239.3 1274.8 1239 1278.7 1238.7 1282.1 1238.5 1284.8 1238.3 1287.5 1238.2 1290.3 1238.1 1293.2 1238 1296.1 1237.9 1299.3 1237.9 1302.5 1237.8 1305.5 1237.8 1308.5 1237.9 1311.5 1237.9 1314.8 1238 1318.1 1238.1 1321.6 1238.3 1325.1 1238.4 1328.1 1238.6 1330.7 1238.8 1333.3 1238.9 1336.3 1239.2 1340.2 1239.5 1343.4 1239.8 1345.9 1240 1348.4 1240.3 1352.8 1240.8 1355.4 1241.1 1357.8 1241.4 1361.9 1241.9 1364.6 1242.3 1366.9 1242.6 1371.3 1243.3 1373.5 1243.7 1377.3 1244.3 1380 1244.8 1383.1 1245.3 1386.4 1245.9 1389.2 1246.5 1392.6 1247.1 1395.9 1247.8 1398.6 1248.4 1402.6 1249.3 1404.6 1249.8 1408.5 1250.7 1411.8 1251.5 1414.2 1252.1 1418 1253.1 1421.7 1254.2 1423.5 1254.7 1427.2 1255.7 1430.8 1256.8 1434.3 1257.9 1437.3 1258.9 1439.5 1259.6 1443 1260.8 1446.3 1262 1449.7 1263.2 1453 1264.4 1456.2 1265.7 1459.4 1267 1462.5 1268.3 1465.6 1269.7 1467.1 1270.4 1470.2 1271.7 1473.1 1273.2 1476 1274.6 1477.9 1275.6 1480.3 1276.8 1483.1 1278.4 1485.1 1279.5 1487.1 1280.7 1489.7 1282.3 1491 1283.2 1493.5 1284.8 1494.8 1285.7 1497.1 1287.4 1498.4 1288.3 1500.6 1290.1 1501.7 1291 1503.9 1292.8 1504.9 1293.8 1506.3 1295.1 1507.9 1296.7 1508.8 1297.7 1510 1299 1511.5 1300.8 1512.3 1301.9 1513.1 1303 1514 1304.3 1514.9 1306 1515.8 1307.5 1516.3 1308.7 1516.8 1310 1517.3 1311.2 1517.7 1312.5 1518 1313.8 1518.2 1315.2 1518.4 1316.6 1518.4 1318 1518.4 1319.5 1518.2 1321.1 1517.9 1322.6 1517.5 1323.8 1517.2 1324.9 1516.6 1326.3 1515.6 1328.2 1514.9 1329.3 1514.1 1330.4 1512.5 1332.3 1511.6 1333.3 1509.7 1335.2 1508.6 1336.1 1506.3 1337.9 1503.8 1339.6 1502.4 1340.4 1499.6 1342 1496.6 1343.5 1493.3 1344.9 1489.9 1346.3 1486.3 1347.6 1484.4 1348.2 1480.5 1349.4 1476.4 1350.5 1474.3 1351 1469.9 1352 1467.6 1352.4 1463.2 1353.3 1460.5 1353.7 1457.9 1354.1 1452.9 1354.8 1450.2 1355.1 1447.5 1355.4 1443.9 1355.8 1439.7 1356.2 1436.2 1356.4 1433.2 1356.6 1430.1 1356.7 1427 1356.9 1423.9 1357 1420.6 1357.1 1417 1357.1 1413.6 1357.1 1410.2 1357.1 1406.9 1357.1 1403.3 1357 1399.6 1356.9 1395.8 1356.7 1392 1356.5 1388.1 1356.3 1385.1 1356.1 1382.2 1355.9 1379.3 1355.7 1375.4 1355.3 1371 1354.9 1368.1 1354.6 1365.4 1354.3 1361.8 1353.9 1357.4 1353.3 1354.8 1353 1351.9 1352.6 1347.2 1351.9 1344.7 1351.5 1341.2 1350.9 1337.4 1350.3 1335 1349.8 1330.2 1348.9 1327.9 1348.5 1323.3 1347.6 1321 1347.1 1316.6 1346.1 1314.4 1345.6 1310 1344.6 1307.9 1344.1 1303.7 1343 1300.7 1342.2 1297.5 1341.4 1293.4 1340.2 1291.3 1339.6 1287.5 1338.5 1283.6 1337.3 1279.8 1336.1 1278 1335.5 1274.3 1334.2 1270.7 1333 1267.2 1331.7 1263.7 1330.4 1260.3 1329 1257 1327.7 1255.3 1327 1255.3 1327" stroke="#ffde00" stroke-width="3" fill="none"/>
<path d="M1019.1 1297.8 1343.8 1448.3 1668.5 1297.8 M1019.1 1297.8 1343.8 1178.7 1668.5 1297.8" stroke="#000" stroke-width="2" fill="none"/>
<g stroke="#111" stroke-width="1.25" stroke-linejoin="round"><path d="M1343.6 1004.7 1358.6 1020.5 1343.7 1027.3 1328.7 1011.5z" fill="#0e9299"/><path d="M1358.8 998.8 1373.7 1014.6 1358.6 1020.5 1343.6 1004.7z" fill="#0e9983"/><path d="M1328.4 990.8 1343.6 1004.7 1328.7 1011.5 1313.5 997.6z" fill="#0d996c"/><path d="M1374.1 993.9 1389 1009.8 1373.7 1014.6 1358.8 998.8z" fill="#0e9969"/><path d="M1343.6 984.9 1358.8 998.8 1343.6 1004.7 1328.4 990.8z" fill="#0d9950"/><path d="M1313 978.9 1328.4 990.8 1313.5 997.6 1298 985.7z" fill="#0c993e"/><path d="M1389.7 990.1 1404.6 1005.9 1389 1009.8 1374.1 993.9z" fill="#0e9952"/><path d="M1359 980.1 1374.1 993.9 1358.8 998.8 1343.6 984.9z" fill="#0d9936"/><path d="M1328.2 973 1343.6 984.9 1328.4 990.8 1313 978.9z" fill="#0c9922"/><path d="M1297.3 969 1313 978.9 1298 985.7 1282.4 975.8z" fill="#0b9915"/><path d="M1405.5 987.3 1420.3 1003.1 1404.6 1005.9 1389.7 990.1z" fill="#0e993e"/><path d="M1374.6 976.2 1389.7 990.1 1374.1 993.9 1359 980.1z" fill="#0d991f"/><path d="M1343.6 968.2 1359 980.1 1343.6 984.9 1328.2 973z" fill="#10990c"/><path d="M1312.5 963.2 1328.2 973 1313 978.9 1297.3 969z" fill="#1d990b"/><path d="M1281.4 961.2 1297.3 969 1282.4 975.8 1266.5 968z" fill="#23990a"/><path d="M1421.5 985.5 1436.3 1001.3 1420.3 1003.1 1405.5 987.3z" fill="#0e992c"/><path d="M1390.4 973.5 1405.5 987.3 1389.7 990.1 1374.6 976.2z" fill="#0f990d"/><path d="M1359.2 964.4 1374.6 976.2 1359 980.1 1343.6 968.2z" fill="#27990c"/><path d="M1327.9 958.4 1343.6 968.2 1328.2 973 1312.5 963.2z" fill="#37990b"/><path d="M1265.3 955.6 1281.4 961.2 1266.5 968 1250.4 962.3z" fill="#3f9908"/><path d="M1296.6 955.5 1312.5 963.2 1297.3 969 1281.4 961.2z" fill="#3f990a"/><path d="M1437.7 984.9 1452.4 1000.6 1436.3 1001.3 1421.5 985.5z" fill="#0e991e"/><path d="M1406.4 971.8 1421.5 985.5 1405.5 987.3 1390.4 973.5z" fill="#20990d"/><path d="M1375 961.7 1390.4 973.5 1374.6 976.2 1359.2 964.4z" fill="#3b990c"/><path d="M1249 952.1 1265.3 955.6 1250.4 962.3 1234.1 958.8z" fill="#569907"/><path d="M1343.5 954.7 1359.2 964.4 1343.6 968.2 1327.9 958.4z" fill="#4d990b"/><path d="M1280.5 949.9 1296.6 955.5 1281.4 961.2 1265.3 955.6z" fill="#5b9908"/><path d="M1312 950.7 1327.9 958.4 1312.5 963.2 1296.6 955.5z" fill="#58990a"/><path d="M1454 985.3 1468.8 1001 1452.4 1000.6 1437.7 984.9z" fill="#0e9912"/><path d="M1422.6 971.1 1437.7 984.9 1421.5 985.5 1406.4 971.8z" fill="#2f990e"/><path d="M1391 960 1406.4 971.8 1390.4 973.5 1375 961.7z" fill="#4c990c"/><path d="M1232.5 951 1249 952.1 1234.1 958.8 1217.6 957.5z" fill="#679806"/><path d="M1359.4 952 1375 961.7 1359.2 964.4 1343.5 954.7z" fill="#61990b"/><path d="M1264.2 946.5 1280.5 949.9 1265.3 955.6 1249 952.1z" fill="#729907"/><path d="M1327.6 947.1 1343.5 954.7 1327.9 958.4 1312 950.7z" fill="#6e990a"/><path d="M1295.9 945.2 1312 950.7 1296.6 955.5 1280.5 949.9z" fill="#749909"/><path d="M1470.6 986.9 1485.3 1002.5 1468.8 1001 1454 985.3z" fill="#14990f"/><path d="M1439 971.7 1454 985.3 1437.7 984.9 1422.6 971.1z" fill="#3b990e"/><path d="M1407.3 959.5 1422.6 971.1 1406.4 971.8 1391 960z" fill="#5a990d"/><path d="M1215.9 952 1232.5 951 1217.6 957.5 1201 958.5z" fill="#658604"/><path d="M1375.4 950.4 1391 960 1375 961.7 1359.4 952z" fill="#72990b"/><path d="M1247.7 945.4 1264.2 946.5 1249 952.1 1232.5 951z" fill="#7b8f05"/><path d="M1487.4 989.6 1502 1005.2 1485.3 1002.5 1470.6 986.9z" fill="#1b990f"/><path d="M1343.5 944.5 1359.4 952 1343.5 954.7 1327.6 947.1z" fill="#82990a"/><path d="M1279.6 942 1295.9 945.2 1280.5 949.9 1264.2 946.5z" fill="#899707"/><path d="M1311.5 941.6 1327.6 947.1 1312 950.7 1295.9 945.2z" fill="#8a9909"/><path d="M1455.7 973.3 1470.6 986.9 1454 985.3 1439 971.7z" fill="#44990e"/><path d="M1199 955.5 1215.9 952 1201 958.5 1184.2 961.8z" fill="#5b7302"/><path d="M1423.7 960.1 1439 971.7 1422.6 971.1 1407.3 959.5z" fill="#65990d"/><path d="M1504.3 993.5 1518.9 1009 1502 1005.2 1487.4 989.6z" fill="#1e990f"/><path d="M1231 946.7 1247.7 945.4 1232.5 951 1215.9 952z" fill="#747c04"/><path d="M1391.7 950 1407.3 959.5 1391 960 1375.4 950.4z" fill="#7f990b"/><path d="M1263 941 1279.6 942 1264.2 946.5 1247.7 945.4z" fill="#858205"/><path d="M1359.6 943 1375.4 950.4 1359.4 952 1343.5 944.5z" fill="#92990a"/><path d="M1295.2 938.5 1311.5 941.6 1295.9 945.2 1279.6 942z" fill="#8e8607"/><path d="M1327.4 939.2 1343.5 944.5 1327.6 947.1 1311.5 941.6z" fill="#969209"/><path d="M1472.5 976.1 1487.4 989.6 1470.6 986.9 1455.7 973.3z" fill="#4a990e"/><path d="M1182.1 961.3 1199 955.5 1184.2 961.8 1167.3 967.4z" fill="#4b5f01"/><path d="M1440.4 961.8 1455.7 973.3 1439 971.7 1423.7 960.1z" fill="#6e990d"/><path d="M1521.5 998.6 1536 1013.9 1518.9 1009 1504.3 993.5z" fill="#1f990f"/><path d="M1214.1 950.2 1231 946.7 1215.9 952 1199 955.5z" fill="#656802"/><path d="M1408.2 950.7 1423.7 960.1 1407.3 959.5 1391.7 950z" fill="#8b990c"/><path d="M1246.3 942.4 1263 941 1247.7 945.4 1231 946.7z" fill="#716604"/><path d="M1375.9 942.6 1391.7 950 1375.4 950.4 1359.6 943z" fill="#958e0a"/><path d="M1278.7 937.6 1295.2 938.5 1279.6 942 1263 941z" fill="#7a6705"/><path d="M1489.5 980.1 1504.3 993.5 1487.4 989.6 1472.5 976.1z" fill="#4d990e"/><path d="M1343.5 937.8 1359.6 943 1343.5 944.5 1327.4 939.2z" fill="#8c7908"/><path d="M1311.1 936.1 1327.4 939.2 1311.5 941.6 1295.2 938.5z" fill="#846d07"/><path d="M1164.9 969.5 1182.1 961.3 1167.3 967.4 1150.2 975.4z" fill="#7f9b2a"/><path d="M1538.8 1004.9 1553.2 1020.1 1536 1013.9 1521.5 998.6z" fill="#1e990f"/><path d="M1457.3 964.8 1472.5 976.1 1455.7 973.3 1440.4 961.8z" fill="#74990d"/><path d="M1197.1 956.2 1214.1 950.2 1199 955.5 1182.1 961.3z" fill="#8a8d23"/><path d="M1424.9 952.5 1440.4 961.8 1423.7 960.1 1408.2 950.7z" fill="#8d930b"/><path d="M1229.5 946.1 1246.3 942.4 1231 946.7 1214.1 950.2z" fill="#5c5002"/><path d="M1506.6 985.3 1521.5 998.6 1504.3 993.5 1489.5 980.1z" fill="#4d980e"/><path d="M1392.4 943.4 1408.2 950.7 1391.7 950 1375.9 942.6z" fill="#8b7b0a"/><path d="M1147.7 980.1 1164.9 969.5 1150.2 975.4 1133 985.9z" fill="#8fbb36"/><path d="M1261.9 939.1 1278.7 937.6 1263 941 1246.3 942.4z" fill="#664e03"/><path d="M1359.8 937.5 1375.9 942.6 1359.6 943 1343.5 937.8z" fill="#826508"/><path d="M1294.5 935.4 1311.1 936.1 1295.2 938.5 1278.7 937.6z" fill="#705005"/><path d="M1327.1 934.9 1343.5 937.8 1327.4 939.2 1311.1 936.1z" fill="#795706"/><path d="M1556.2 1012.4 1570.6 1027.5 1553.2 1020.1 1538.8 1004.9z" fill="#19970f"/><path d="M1474.3 968.9 1489.5 980.1 1472.5 976.1 1457.3 964.8z" fill="#71910c"/><path d="M1180 964.6 1197.1 956.2 1182.1 961.3 1164.9 969.5z" fill="#a6af2f"/><path d="M1441.8 955.6 1457.3 964.8 1440.4 961.8 1424.9 952.5z" fill="#898a0b"/><path d="M1212.4 952.2 1229.5 946.1 1214.1 950.2 1197.1 956.2z" fill="#a19127"/><path d="M1130.4 993.2 1147.7 980.1 1133 985.9 1115.7 998.7z" fill="#96d944"/><path d="M1524 991.8 1538.8 1004.9 1521.5 998.6 1506.6 985.3z" fill="#47900d"/><path d="M1409.1 945.4 1424.9 952.5 1408.2 950.7 1392.4 943.4z" fill="#816c09"/><path d="M1245 943 1261.9 939.1 1246.3 942.4 1229.5 946.1z" fill="#92721f"/><path d="M1573.9 1021.2 1588.2 1036.1 1570.6 1027.5 1556.2 1012.4z" fill="#118f0e"/><path d="M1376.3 938.5 1392.4 943.4 1375.9 942.6 1359.8 937.5z" fill="#785507"/><path d="M1277.8 937 1294.5 935.4 1278.7 937.6 1261.9 939.1z" fill="#5a3a03"/><path d="M1343.4 934.8 1359.8 937.5 1343.5 937.8 1327.1 934.9z" fill="#6e4606"/><path d="M1162.7 975.4 1180 964.6 1164.9 969.5 1147.7 980.1z" fill="#b8cf3c"/><path d="M1310.6 934.3 1327.1 934.9 1311.1 936.1 1294.5 935.4z" fill="#643e04"/><path d="M1491.5 974.2 1506.6 985.3 1489.5 980.1 1474.3 968.9z" fill="#6a880c"/><path d="M1113 1008.8 1130.4 993.2 1115.7 998.7 1098.4 1014.1z" fill="#91f551"/><path d="M1195.2 960.8 1212.4 952.2 1197.1 956.2 1180 964.6z" fill="#c3b733"/><path d="M1541.5 999.4 1556.2 1012.4 1538.8 1004.9 1524 991.8z" fill="#3e870d"/><path d="M1458.8 959.8 1474.3 968.9 1457.3 964.8 1441.8 955.6z" fill="#807f0a"/><path d="M1591.7 1031.2 1605.9 1046 1588.2 1036.1 1573.9 1021.2z" fill="#0e8714"/><path d="M1228 949.4 1245 943 1229.5 946.1 1212.4 952.2z" fill="#b6902b"/><path d="M1426 948.6 1441.8 955.6 1424.9 952.5 1409.1 945.4z" fill="#775f09"/><path d="M1145.3 988.8 1162.7 975.4 1147.7 980.1 1130.4 993.2z" fill="#c0ee4a"/><path d="M1095.5 1026.9 1113 1008.8 1098.4 1014.1 1080.9 1031.9z" fill="#78ff5a"/><path d="M1260.8 941.1 1277.8 937 1261.9 939.1 1245 943z" fill="#a77222"/><path d="M1393 940.6 1409.1 945.4 1392.4 943.4 1376.3 938.5z" fill="#6d4807"/><path d="M1508.9 980.8 1524 991.8 1506.6 985.3 1491.5 974.2z" fill="#617f0b"/><path d="M1293.8 936.1 1310.6 934.3 1294.5 935.4 1277.8 937z" fill="#965c1a"/><path d="M1360 935.8 1376.3 938.5 1359.8 937.5 1343.4 934.8z" fill="#633905"/><path d="M1326.9 934.3 1343.4 934.8 1327.1 934.9 1310.6 934.3z" fill="#592f04"/><path d="M1177.9 971.9 1195.2 960.8 1180 964.6 1162.7 975.4z" fill="#e4e442"/><path d="M1559.2 1008.3 1573.9 1021.2 1556.2 1012.4 1541.5 999.4z" fill="#347f0c"/><path d="M1476.1 965.3 1491.5 974.2 1474.3 968.9 1458.8 959.8z" fill="#76750a"/><path d="M1609.6 1042.5 1623.7 1057.1 1605.9 1046 1591.7 1031.2z" fill="#0d7e1e"/><path d="M1077.9 1047.5 1095.5 1026.9 1080.9 1031.9 1063.5 1052.2z" fill="#5fff68"/><path d="M1127.8 1004.6 1145.3 988.8 1130.4 993.2 1113 1008.8z" fill="#b3ff55"/><path d="M1210.7 958.1 1228 949.4 1212.4 952.2 1195.2 960.8z" fill="#d9b538"/><path d="M1443.1 953 1458.8 959.8 1441.8 955.6 1426 948.6z" fill="#6d5608"/><path d="M1526.5 988.6 1541.5 999.4 1524 991.8 1508.9 980.8z" fill="#55760b"/><path d="M1243.7 947.6 1260.8 941.1 1245 943 1228 949.4z" fill="#cb8e2f"/><path d="M1410 943.9 1426 948.6 1409.1 945.4 1393 940.6z" fill="#633e07"/><path d="M1060.3 1070.7 1077.9 1047.5 1063.5 1052.2 1045.9 1075.1z" fill="#63ff98"/><path d="M1160.5 985.5 1177.9 971.9 1162.7 975.4 1145.3 988.8z" fill="#e8ff4f"/><path d="M1276.9 940.4 1293.8 936.1 1277.8 937 1260.8 941.1z" fill="#bc7025"/><path d="M1577.1 1018.5 1591.7 1031.2 1573.9 1021.2 1559.2 1008.3z" fill="#28760b"/><path d="M1376.7 938.1 1393 940.6 1376.3 938.5 1360 935.8z" fill="#582e05"/><path d="M1627.7 1055.1 1641.7 1069.5 1623.7 1057.1 1609.6 1042.5z" fill="#0c7628"/><path d="M1110.2 1023 1127.8 1004.6 1113 1008.8 1095.5 1026.9z" fill="#94ff5a"/><path d="M1310.1 936.3 1326.9 934.3 1310.6 934.3 1293.8 936.1z" fill="#aa5b1c"/><path d="M1343.4 935.6 1360 935.8 1343.4 934.8 1326.9 934.3z" fill="#984f15"/><path d="M1493.6 972 1508.9 980.8 1491.5 974.2 1476.1 965.3z" fill="#6c6d09"/><path d="M1193.4 969.4 1210.7 958.1 1195.2 960.8 1177.9 971.9z" fill="#fae248"/><path d="M1042.7 1096.4 1060.3 1070.7 1045.9 1075.1 1028.4 1100.4z" fill="#67ffcc"/><path d="M1460.4 958.6 1476.1 965.3 1458.8 959.8 1443.1 953z" fill="#624e08"/><path d="M1544.3 997.7 1559.2 1008.3 1541.5 999.4 1526.5 988.6z" fill="#496d0a"/><path d="M1142.9 1001.6 1160.5 985.5 1145.3 988.8 1127.8 1004.6z" fill="#cdff56"/><path d="M1092.6 1043.9 1110.2 1023 1095.5 1026.9 1077.9 1047.5z" fill="#70ff60"/><path d="M1226.5 956.6 1243.7 947.6 1228 949.4 1210.7 958.1z" fill="#efb33d"/><path d="M1645.9 1068.9 1659.9 1083.1 1641.7 1069.5 1627.7 1055.1z" fill="#0b6e33"/><path d="M1025.1 1124.6 1042.7 1096.4 1028.4 1100.4 1010.9 1128.3z" fill="#6afaff"/><path d="M1595.1 1030 1609.6 1042.5 1591.7 1031.2 1577.1 1018.5z" fill="#1c6e0b"/><path d="M1427.1 948.5 1443.1 953 1426 948.6 1410 943.9z" fill="#583606"/><path d="M1259.8 947.1 1276.9 940.4 1260.8 941.1 1243.7 947.6z" fill="#e18c33"/><path d="M1393.7 941.6 1410 943.9 1393 940.6 1376.7 938.1z" fill="#9a500f"/><path d="M1293.2 940.8 1310.1 936.3 1293.8 936.1 1276.9 940.4z" fill="#d16f28"/><path d="M1511.2 980 1526.5 988.6 1508.9 980.8 1493.6 972z" fill="#5e6308"/><path d="M1175.9 983.3 1193.4 969.4 1177.9 971.9 1160.5 985.5z" fill="#ffff50"/><path d="M1360.2 938 1376.7 938.1 1360 935.8 1343.4 935.6z" fill="#ad5116"/><path d="M1326.7 937.8 1343.4 935.6 1326.9 934.3 1310.1 936.3z" fill="#bf5b1f"/><path d="M1075 1067.4 1092.6 1043.9 1077.9 1047.5 1060.3 1070.7z" fill="#64ff80"/><path d="M1125.3 1020.2 1142.9 1001.6 1127.8 1004.6 1110.2 1023z" fill="#adff5b"/><path d="M1664.2 1084.1 1678.1 1098.1 1659.9 1083.1 1645.9 1068.9z" fill="#0b673d"/><path d="M1562.2 1008.1 1577.1 1018.5 1559.2 1008.3 1544.3 997.7z" fill="#3c6409"/><path d="M1477.9 965.5 1493.6 972 1476.1 965.3 1460.4 958.6z" fill="#584807"/><path d="M1613.3 1042.8 1627.7 1055.1 1609.6 1042.5 1595.1 1030z" fill="#0f650a"/><path d="M1209.1 968.2 1226.5 956.6 1210.7 958.1 1193.4 969.4z" fill="#ffd249"/><path d="M1057.3 1093.4 1075 1067.4 1060.3 1070.7 1042.7 1096.4z" fill="#68ffb5"/><path d="M1444.4 954.3 1460.4 958.6 1443.1 953 1427.1 948.5z" fill="#99600a"/><path d="M1242.5 956.3 1259.8 947.1 1243.7 947.6 1226.5 956.6z" fill="#ffad41"/><path d="M1158.3 999.6 1175.9 983.3 1160.5 985.5 1142.9 1001.6z" fill="#e3ff56"/><path d="M1107.6 1041.4 1125.3 1020.2 1110.2 1023 1092.6 1043.9z" fill="#88ff61"/><path d="M1529 989.3 1544.3 997.7 1526.5 988.6 1511.2 980z" fill="#505908"/><path d="M1410.8 946.4 1427.1 948.5 1410 943.9 1393.7 941.6z" fill="#ad5710"/><path d="M1039.6 1122 1057.3 1093.4 1042.7 1096.4 1025.1 1124.6z" fill="#6cffed"/><path d="M1276 947.7 1293.2 940.8 1276.9 940.4 1259.8 947.1z" fill="#f78a37"/><path d="M1377.1 941.7 1393.7 941.6 1376.7 938.1 1360.2 938z" fill="#c15617"/><path d="M1309.7 942.4 1326.7 937.8 1310.1 936.3 1293.2 940.8z" fill="#e76e2c"/><path d="M1580.3 1019.7 1595.1 1030 1577.1 1018.5 1562.2 1008.1z" fill="#2e5b09"/><path d="M1343.4 940.4 1360.2 938 1343.4 935.6 1326.7 937.8z" fill="#d55d21"/><path d="M1631.6 1056.9 1645.9 1068.9 1627.7 1055.1 1613.3 1042.8z" fill="#095d10"/><path d="M1191.5 982.2 1209.1 968.2 1193.4 969.4 1175.9 983.3z" fill="#ffeb50"/><path d="M1495.6 973.7 1511.2 980 1493.6 972 1477.9 965.5z" fill="#978005"/><path d="M1089.9 1065.2 1107.6 1041.4 1092.6 1043.9 1075 1067.4z" fill="#66ff6c"/><path d="M1140.6 1018.6 1158.3 999.6 1142.9 1001.6 1125.3 1020.2z" fill="#c2ff5d"/><path d="M1225 968.1 1242.5 956.3 1226.5 956.6 1209.1 968.2z" fill="#ffc149"/><path d="M1462 961.4 1477.9 965.5 1460.4 958.6 1444.4 954.3z" fill="#ab6f09"/><path d="M1547 999.9 1562.2 1008.1 1544.3 997.7 1529 989.3z" fill="#789404"/><path d="M1650 1072.3 1664.2 1084.1 1645.9 1068.9 1631.6 1056.9z" fill="#09541a"/><path d="M1072.1 1091.6 1089.9 1065.2 1075 1067.4 1057.3 1093.4z" fill="#6affa1"/><path d="M1598.5 1032.7 1613.3 1042.8 1595.1 1030 1580.3 1019.7z" fill="#349004"/><path d="M1258.7 957.1 1276 947.7 1259.8 947.1 1242.5 956.3z" fill="#ff9e41"/><path d="M1428.2 952.4 1444.4 954.3 1427.1 948.5 1410.8 946.4z" fill="#c06210"/><path d="M1173.9 998.9 1191.5 982.2 1175.9 983.3 1158.3 999.6z" fill="#f5ff57"/><path d="M1292.5 949.5 1309.7 942.4 1293.2 940.8 1276 947.7z" fill="#ff8339"/><path d="M1122.9 1040.1 1140.6 1018.6 1125.3 1020.2 1107.6 1041.4z" fill="#9cff62"/><path d="M1394.3 946.7 1410.8 946.4 1393.7 941.6 1377.1 941.7z" fill="#d55d19"/><path d="M1326.4 945.2 1343.4 940.4 1326.7 937.8 1309.7 942.4z" fill="#fd702f"/><path d="M1360.4 944.3 1377.1 941.7 1360.2 938 1343.4 940.4z" fill="#ea6023"/><path d="M1513.4 983.2 1529 989.3 1511.2 980 1495.6 973.7z" fill="#a89905"/><path d="M1054.4 1120.5 1072.1 1091.6 1057.3 1093.4 1039.6 1122z" fill="#6dffda"/><path d="M1207.5 982.4 1225 968.1 1209.1 968.2 1191.5 982.2z" fill="#ffdb51"/><path d="M1565.1 1011.7 1580.3 1019.7 1562.2 1008.1 1547 999.9z" fill="#75a405"/><path d="M1479.7 969.8 1495.6 973.7 1477.9 965.5 1462 961.4z" fill="#be8309"/><path d="M1616.9 1047.1 1631.6 1056.9 1613.3 1042.8 1598.5 1032.7z" fill="#249f05"/><path d="M1105.1 1064.2 1122.9 1040.1 1107.6 1041.4 1089.9 1065.2z" fill="#73ff67"/><path d="M1156.2 1018.1 1173.9 998.9 1158.3 999.6 1140.6 1018.6z" fill="#d3ff5e"/><path d="M1241.2 969.2 1258.7 957.1 1242.5 956.3 1225 968.1z" fill="#ffb44a"/><path d="M1445.7 959.7 1462 961.4 1444.4 954.3 1428.2 952.4z" fill="#d47110"/><path d="M1275.2 959.2 1292.5 949.5 1276 947.7 1258.7 957.1z" fill="#ff9442"/><path d="M1531.5 994 1547 999.9 1529 989.3 1513.4 983.2z" fill="#b9b806"/><path d="M1411.7 952.9 1428.2 952.4 1410.8 946.4 1394.3 946.7z" fill="#ea671a"/><path d="M1087.2 1090.9 1105.1 1064.2 1089.9 1065.2 1072.1 1091.6z" fill="#6bff91"/><path d="M1309.2 952.6 1326.4 945.2 1309.7 942.4 1292.5 949.5z" fill="#ff7b39"/><path d="M1189.8 999.3 1207.5 982.4 1191.5 982.2 1173.9 998.9z" fill="#fffa59"/><path d="M1377.5 949.4 1394.3 946.7 1377.1 941.7 1360.4 944.3z" fill="#ff6825"/><path d="M1343.4 949.3 1360.4 944.3 1343.4 940.4 1326.4 945.2z" fill="#ff6c2f"/><path d="M1583.4 1025 1598.5 1032.7 1580.3 1019.7 1565.1 1011.7z" fill="#6ab405"/><path d="M1635.4 1062.8 1650 1072.3 1631.6 1056.9 1616.9 1047.1z" fill="#0cad05"/><path d="M1138.4 1040 1156.2 1018.1 1140.6 1018.6 1122.9 1040.1z" fill="#adff64"/><path d="M1497.6 979.5 1513.4 983.2 1495.6 973.7 1479.7 969.8z" fill="#d09c09"/><path d="M1069.4 1120.2 1087.2 1090.9 1072.1 1091.6 1054.4 1120.5z" fill="#6fffca"/><path d="M1223.6 983.8 1241.2 969.2 1225 968.1 1207.5 982.4z" fill="#ffcf52"/><path d="M1463.5 968.2 1479.7 969.8 1462 961.4 1445.7 959.7z" fill="#e78611"/><path d="M1549.7 1006.1 1565.1 1011.7 1547 999.9 1531.5 994z" fill="#b7ca06"/><path d="M1120.5 1064.4 1138.4 1040 1122.9 1040.1 1105.1 1064.2z" fill="#84ff69"/><path d="M1172 1018.9 1189.8 999.3 1173.9 998.9 1156.2 1018.1z" fill="#e1ff60"/><path d="M1257.7 971.5 1275.2 959.2 1258.7 957.1 1241.2 969.2z" fill="#ffab4b"/><path d="M1601.9 1039.6 1616.9 1047.1 1598.5 1032.7 1583.4 1025z" fill="#58c306"/><path d="M1429.3 960.4 1445.7 959.7 1428.2 952.4 1411.7 952.9z" fill="#fe771b"/><path d="M1291.9 962.5 1309.2 952.6 1292.5 949.5 1275.2 959.2z" fill="#ff8d42"/><path d="M1394.9 955.9 1411.7 952.9 1394.3 946.7 1377.5 949.4z" fill="#ff6b25"/><path d="M1326.2 956.9 1343.4 949.3 1326.4 945.2 1309.2 952.6z" fill="#ff7739"/><path d="M1360.6 954.7 1377.5 949.4 1360.4 944.3 1343.4 949.3z" fill="#ff6b2f"/><path d="M1515.6 990.5 1531.5 994 1513.4 983.2 1497.6 979.5z" fill="#e1bc09"/><path d="M1205.9 1001 1223.6 983.8 1207.5 982.4 1189.8 999.3z" fill="#ffef5a"/><path d="M1102.6 1091.5 1120.5 1064.4 1105.1 1064.2 1087.2 1090.9z" fill="#6dff84"/><path d="M1154.1 1041 1172 1018.9 1156.2 1018.1 1138.4 1040z" fill="#bbff66"/><path d="M1568 1019.6 1583.4 1025 1565.1 1011.7 1549.7 1006.1z" fill="#abda07"/><path d="M1481.4 978.2 1497.6 979.5 1479.7 969.8 1463.5 968.2z" fill="#f9a011"/><path d="M1620.5 1055.5 1635.4 1062.8 1616.9 1047.1 1601.9 1039.6z" fill="#3ed206"/><path d="M1240 986.4 1257.7 971.5 1241.2 969.2 1223.6 983.8z" fill="#ffc754"/><path d="M1084.7 1121.1 1102.6 1091.5 1087.2 1090.9 1069.4 1120.2z" fill="#71ffbd"/><path d="M1447 969.2 1463.5 968.2 1445.7 959.7 1429.3 960.4z" fill="#ff831b"/><path d="M1274.4 975.1 1291.9 962.5 1275.2 959.2 1257.7 971.5z" fill="#ffa54c"/><path d="M1188.1 1020.8 1205.9 1001 1189.8 999.3 1172 1018.9z" fill="#ecff61"/><path d="M1136.2 1065.8 1154.1 1041 1138.4 1040 1120.5 1064.4z" fill="#91ff6b"/><path d="M1533.9 1002.8 1549.7 1006.1 1531.5 994 1515.6 990.5z" fill="#f2e309"/><path d="M1412.5 963.6 1429.3 960.4 1411.7 952.9 1394.9 955.9z" fill="#ff7225"/><path d="M1308.8 967.1 1326.2 956.9 1309.2 952.6 1291.9 962.5z" fill="#ff8a43"/><path d="M1378 961.4 1394.9 955.9 1377.5 949.4 1360.6 954.7z" fill="#ff6f2f"/><path d="M1343.4 962.6 1360.6 954.7 1343.4 949.3 1326.2 956.9z" fill="#ff7839"/><path d="M1586.5 1034.4 1601.9 1039.6 1583.4 1025 1568 1019.6z" fill="#96e907"/><path d="M1222.3 1003.9 1240 986.4 1223.6 983.8 1205.9 1001z" fill="#ffe75c"/><path d="M1499.5 989.4 1515.6 990.5 1497.6 979.5 1481.4 978.2z" fill="#ffb911"/><path d="M1118.2 1093.2 1136.2 1065.8 1120.5 1064.4 1102.6 1091.5z" fill="#6fff7b"/><path d="M1170.1 1043.3 1188.1 1020.8 1172 1018.9 1154.1 1041z" fill="#c5ff68"/><path d="M1256.7 990.2 1274.4 975.1 1257.7 971.5 1240 986.4z" fill="#ffc255"/><path d="M1465 979.3 1481.4 978.2 1463.5 968.2 1447 969.2z" fill="#ff941b"/><path d="M1552.3 1016.5 1568 1019.6 1549.7 1006.1 1533.9 1002.8z" fill="#efff09"/><path d="M1100.2 1123.3 1118.2 1093.2 1102.6 1091.5 1084.7 1121.1z" fill="#73ffb3"/><path d="M1291.3 979.9 1308.8 967.1 1291.9 962.5 1274.4 975.1z" fill="#ffa34d"/><path d="M1605.2 1050.6 1620.5 1055.5 1601.9 1039.6 1586.5 1034.4z" fill="#78f807"/><path d="M1430.3 972.7 1447 969.2 1429.3 960.4 1412.5 963.6z" fill="#ff7e25"/><path d="M1204.4 1024 1222.3 1003.9 1205.9 1001 1188.1 1020.8z" fill="#f3ff63"/><path d="M1326 973 1343.4 962.6 1326.2 956.9 1308.8 967.1z" fill="#ff8c44"/><path d="M1395.5 969.4 1412.5 963.6 1394.9 955.9 1378 961.4z" fill="#ff772f"/><path d="M1152.2 1068.4 1170.1 1043.3 1154.1 1041 1136.2 1065.8z" fill="#9cff6d"/><path d="M1360.8 969.5 1378 961.4 1360.6 954.7 1343.4 962.6z" fill="#ff7c3a"/><path d="M1517.8 1002 1533.9 1002.8 1515.6 990.5 1499.5 989.4z" fill="#ffd311"/><path d="M1238.9 1008 1256.7 990.2 1240 986.4 1222.3 1003.9z" fill="#ffe35e"/><path d="M1570.9 1031.6 1586.5 1034.4 1568 1019.6 1552.3 1016.5z" fill="#cbff09"/><path d="M1483.1 990.8 1499.5 989.4 1481.4 978.2 1465 979.3z" fill="#ffa91b"/><path d="M1134.1 1096.2 1152.2 1068.4 1136.2 1065.8 1118.2 1093.2z" fill="#72ff75"/><path d="M1186.4 1046.8 1204.4 1024 1188.1 1020.8 1170.1 1043.3z" fill="#cdff6a"/><path d="M1273.6 995.4 1291.3 979.9 1274.4 975.1 1256.7 990.2z" fill="#ffc157"/><path d="M1448.3 983.1 1465 979.3 1447 969.2 1430.3 972.7z" fill="#ff8f25"/><path d="M1308.4 986.1 1326 973 1308.8 967.1 1291.3 979.9z" fill="#ffa54f"/><path d="M1116 1126.6 1134.1 1096.2 1118.2 1093.2 1100.2 1123.3z" fill="#75ffad"/><path d="M1413.3 978.7 1430.3 972.7 1412.5 963.6 1395.5 969.4z" fill="#ff8430"/><path d="M1536.3 1016 1552.3 1016.5 1533.9 1002.8 1517.8 1002z" fill="#fff211"/><path d="M1343.4 980.2 1360.8 969.5 1343.4 962.6 1326 973z" fill="#ff9145"/><path d="M1378.4 977.7 1395.5 969.4 1378 961.4 1360.8 969.5z" fill="#ff853b"/><path d="M1220.9 1028.5 1238.9 1008 1222.3 1003.9 1204.4 1024z" fill="#f7ff65"/><path d="M1589.6 1048.1 1605.2 1050.6 1586.5 1034.4 1570.9 1031.6z" fill="#a2ff09"/><path d="M1168.4 1072.3 1186.4 1046.8 1170.1 1043.3 1152.2 1068.4z" fill="#a3ff6f"/><path d="M1501.4 1003.7 1517.8 1002 1499.5 989.4 1483.1 990.8z" fill="#ffc31b"/><path d="M1255.7 1013.5 1273.6 995.4 1256.7 990.2 1238.9 1008z" fill="#ffe260"/><path d="M1466.5 994.8 1483.1 990.8 1465 979.3 1448.3 983.1z" fill="#ffa426"/><path d="M1150.2 1100.5 1168.4 1072.3 1152.2 1068.4 1134.1 1096.2z" fill="#76ff74"/><path d="M1554.9 1031.3 1570.9 1031.6 1552.3 1016.5 1536.3 1016z" fill="#e8ff11"/><path d="M1290.7 1001.8 1308.4 986.1 1291.3 979.9 1273.6 995.4z" fill="#ffc359"/><path d="M1202.9 1051.6 1220.9 1028.5 1204.4 1024 1186.4 1046.8z" fill="#d1ff6c"/><path d="M1431.3 989.4 1448.3 983.1 1430.3 972.7 1413.3 978.7z" fill="#ff9431"/><path d="M1325.8 993.6 1343.4 980.2 1326 973 1308.4 986.1z" fill="#ffab50"/><path d="M1396.2 987.3 1413.3 978.7 1395.5 969.4 1378.4 977.7z" fill="#ff913c"/><path d="M1360.9 988.7 1378.4 977.7 1360.8 969.5 1343.4 980.2z" fill="#ff9a47"/><path d="M1132.1 1131.3 1150.2 1100.5 1134.1 1096.2 1116 1126.6z" fill="#78ffa9"/><path d="M1519.9 1018 1536.3 1016 1517.8 1002 1501.4 1003.7z" fill="#ffe11b"/><path d="M1237.8 1034.3 1255.7 1013.5 1238.9 1008 1220.9 1028.5z" fill="#f8ff67"/><path d="M1184.8 1077.5 1202.9 1051.6 1186.4 1046.8 1168.4 1072.3z" fill="#a7ff71"/><path d="M1573.6 1048.1 1589.6 1048.1 1570.9 1031.6 1554.9 1031.3z" fill="#c0ff12"/><path d="M1484.8 1008 1501.4 1003.7 1483.1 990.8 1466.5 994.8z" fill="#ffbd26"/><path d="M1272.8 1020.3 1290.7 1001.8 1273.6 995.4 1255.7 1013.5z" fill="#ffe462"/><path d="M1449.5 1001.4 1466.5 994.8 1448.3 983.1 1431.3 989.4z" fill="#ffa932"/><path d="M1308 1009.6 1325.8 993.6 1308.4 986.1 1290.7 1001.8z" fill="#ffc85b"/><path d="M1166.6 1106 1184.8 1077.5 1168.4 1072.3 1150.2 1100.5z" fill="#7bff76"/><path d="M1219.7 1057.8 1237.8 1034.3 1220.9 1028.5 1202.9 1051.6z" fill="#d2ff6e"/><path d="M1414.2 998.3 1431.3 989.4 1413.3 978.7 1396.2 987.3z" fill="#ffa23d"/><path d="M1343.3 1002.4 1360.9 988.7 1343.4 980.2 1325.8 993.6z" fill="#ffb352"/><path d="M1538.6 1033.6 1554.9 1031.3 1536.3 1016 1519.9 1018z" fill="#faff1c"/><path d="M1378.7 998.6 1396.2 987.3 1378.4 977.7 1360.9 988.7z" fill="#ffa648"/><path d="M1148.4 1137.2 1166.6 1106 1150.2 1100.5 1132.1 1131.3z" fill="#7affa9"/><path d="M1254.8 1041.4 1272.8 1020.3 1255.7 1013.5 1237.8 1034.3z" fill="#f6ff6a"/><path d="M1503.3 1022.5 1519.9 1018 1501.4 1003.7 1484.8 1008z" fill="#ffdb27"/><path d="M1201.5 1083.9 1219.7 1057.8 1202.9 1051.6 1184.8 1077.5z" fill="#a9ff74"/><path d="M1290.1 1028.4 1308 1009.6 1290.7 1001.8 1272.8 1020.3z" fill="#ffe964"/><path d="M1467.9 1014.8 1484.8 1008 1466.5 994.8 1449.5 1001.4z" fill="#ffc133"/><path d="M1557.4 1050.7 1573.6 1048.1 1554.9 1031.3 1538.6 1033.6z" fill="#d3ff1d"/><path d="M1325.6 1018.7 1343.3 1002.4 1325.8 993.6 1308 1009.6z" fill="#ffd15d"/><path d="M1432.3 1010.6 1449.5 1001.4 1431.3 989.4 1414.2 998.3z" fill="#ffb63f"/><path d="M1361.1 1012.6 1378.7 998.6 1360.9 988.7 1343.3 1002.4z" fill="#ffbf54"/><path d="M1396.7 1009.9 1414.2 998.3 1396.2 987.3 1378.7 998.6z" fill="#ffb64a"/><path d="M1236.7 1065.2 1254.8 1041.4 1237.8 1034.3 1219.7 1057.8z" fill="#d0ff70"/><path d="M1183.3 1112.8 1201.5 1083.9 1184.8 1077.5 1166.6 1106z" fill="#7dff78"/><path d="M1522 1038.4 1538.6 1033.6 1519.9 1018 1503.3 1022.5z" fill="#fffc28"/><path d="M1272.1 1049.8 1290.1 1028.4 1272.8 1020.3 1254.8 1041.4z" fill="#f2ff6c"/><path d="M1165 1144.4 1183.3 1112.8 1166.6 1106 1148.4 1137.2z" fill="#7cffab"/><path d="M1486.4 1029.7 1503.3 1022.5 1484.8 1008 1467.9 1014.8z" fill="#ffde34"/><path d="M1218.5 1091.7 1236.7 1065.2 1219.7 1057.8 1201.5 1083.9z" fill="#a8ff76"/><path d="M1307.6 1037.8 1325.6 1018.7 1308 1009.6 1290.1 1028.4z" fill="#fff166"/><path d="M1450.7 1024.3 1467.9 1014.8 1449.5 1001.4 1432.3 1010.6z" fill="#ffcd40"/><path d="M1343.3 1029.2 1361.1 1012.6 1343.3 1002.4 1325.6 1018.7z" fill="#ffdc5f"/><path d="M1414.9 1022.5 1432.3 1010.6 1414.2 998.3 1396.7 1009.9z" fill="#ffc94b"/><path d="M1379.1 1024.1 1396.7 1009.9 1378.7 998.6 1361.1 1012.6z" fill="#ffcf56"/><path d="M1540.8 1055.8 1557.4 1050.7 1538.6 1033.6 1522 1038.4z" fill="#dcff29"/><path d="M1253.9 1074 1272.1 1049.8 1254.8 1041.4 1236.7 1065.2z" fill="#ccff73"/><path d="M1200.2 1121 1218.5 1091.7 1201.5 1083.9 1183.3 1112.8z" fill="#7cff7b"/><path d="M1505.1 1045.9 1522 1038.4 1503.3 1022.5 1486.4 1029.7z" fill="#fffe35"/><path d="M1289.6 1059.6 1307.6 1037.8 1290.1 1028.4 1272.1 1049.8z" fill="#eaff6e"/><path d="M1181.8 1153 1200.2 1121 1183.3 1112.8 1165 1144.4z" fill="#7effb0"/><path d="M1469.3 1039.5 1486.4 1029.7 1467.9 1014.8 1450.7 1024.3z" fill="#ffe841"/><path d="M1235.6 1100.9 1253.9 1074 1236.7 1065.2 1218.5 1091.7z" fill="#a4ff78"/><path d="M1325.4 1048.6 1343.3 1029.2 1325.6 1018.7 1307.6 1037.8z" fill="#fffc68"/><path d="M1433.3 1036.5 1450.7 1024.3 1432.3 1010.6 1414.9 1022.5z" fill="#ffdf4d"/><path d="M1361.3 1041.1 1379.1 1024.1 1361.1 1012.6 1343.3 1029.2z" fill="#ffeb60"/><path d="M1397.3 1037.1 1414.9 1022.5 1396.7 1009.9 1379.1 1024.1z" fill="#ffe157"/><path d="M1271.3 1084.1 1289.6 1059.6 1272.1 1049.8 1253.9 1074z" fill="#c5ff75"/><path d="M1524 1063.6 1540.8 1055.8 1522 1038.4 1505.1 1045.9z" fill="#dcff36"/><path d="M1217.3 1130.5 1235.6 1100.9 1218.5 1091.7 1200.2 1121z" fill="#7dff81"/><path d="M1307.3 1070.8 1325.4 1048.6 1307.6 1037.8 1289.6 1059.6z" fill="#e0ff70"/><path d="M1488 1056 1505.1 1045.9 1486.4 1029.7 1469.3 1039.5z" fill="#f7ff42"/><path d="M1198.9 1162.9 1217.3 1130.5 1200.2 1121 1181.8 1153z" fill="#80ffb7"/><path d="M1343.3 1060.8 1361.3 1041.1 1343.3 1029.2 1325.4 1048.6z" fill="#f4ff6a"/><path d="M1451.9 1052 1469.3 1039.5 1450.7 1024.3 1433.3 1036.5z" fill="#fff94e"/><path d="M1253 1111.4 1271.3 1084.1 1253.9 1074 1235.6 1100.9z" fill="#9dff7a"/><path d="M1379.5 1054.4 1397.3 1037.1 1379.1 1024.1 1361.3 1041.1z" fill="#fffc62"/><path d="M1415.7 1051.4 1433.3 1036.5 1414.9 1022.5 1397.3 1037.1z" fill="#fff659"/><path d="M1289 1095.7 1307.3 1070.8 1289.6 1059.6 1271.3 1084.1z" fill="#bbff77"/><path d="M1506.9 1074.1 1524 1063.6 1505.1 1045.9 1488 1056z" fill="#d5ff43"/><path d="M1234.6 1141.4 1253 1111.4 1235.6 1100.9 1217.3 1130.5z" fill="#7fff8b"/><path d="M1325.2 1083.3 1343.3 1060.8 1325.4 1048.6 1307.3 1070.8z" fill="#d3ff72"/><path d="M1470.6 1068.9 1488 1056 1469.3 1039.5 1451.9 1052z" fill="#e8ff4f"/><path d="M1361.5 1074.5 1379.5 1054.4 1361.3 1041.1 1343.3 1060.8z" fill="#e4ff6c"/><path d="M1434.3 1067.2 1451.9 1052 1433.3 1036.5 1415.7 1051.4z" fill="#f0ff5a"/><path d="M1397.9 1069.1 1415.7 1051.4 1397.3 1037.1 1379.5 1054.4z" fill="#eeff64"/><path d="M1216.2 1174.2 1234.6 1141.4 1217.3 1130.5 1198.9 1162.9z" fill="#83ffc0"/><path d="M1270.7 1123.3 1289 1095.7 1271.3 1084.1 1253 1111.4z" fill="#94ff7c"/><path d="M1306.9 1108.6 1325.2 1083.3 1307.3 1070.8 1289 1095.7z" fill="#afff79"/><path d="M1252.2 1153.7 1270.7 1123.3 1253 1111.4 1234.6 1141.4z" fill="#81ff97"/><path d="M1489.6 1087.2 1506.9 1074.1 1488 1056 1470.6 1068.9z" fill="#c8ff50"/><path d="M1343.3 1097.3 1361.5 1074.5 1343.3 1060.8 1325.2 1083.3z" fill="#c3ff74"/><path d="M1453 1084.5 1470.6 1068.9 1451.9 1052 1434.3 1067.2z" fill="#d5ff5b"/><path d="M1379.9 1089.5 1397.9 1069.1 1379.5 1054.4 1361.5 1074.5z" fill="#d1ff6d"/><path d="M1416.5 1085.2 1434.3 1067.2 1415.7 1051.4 1397.9 1069.1z" fill="#d7ff65"/><path d="M1233.7 1186.8 1252.2 1153.7 1234.6 1141.4 1216.2 1174.2z" fill="#84ffcb"/><path d="M1288.5 1136.6 1306.9 1108.6 1289 1095.7 1270.7 1123.3z" fill="#89ff7e"/><path d="M1325 1122.9 1343.3 1097.3 1325.2 1083.3 1306.9 1108.6z" fill="#a1ff7b"/><path d="M1270 1167.4 1288.5 1136.6 1270.7 1123.3 1252.2 1153.7z" fill="#83ffa5"/><path d="M1472 1103.2 1489.6 1087.2 1470.6 1068.9 1453 1084.5z" fill="#b7ff5c"/><path d="M1361.7 1112.7 1379.9 1089.5 1361.5 1074.5 1343.3 1097.3z" fill="#b2ff75"/><path d="M1435.2 1102.8 1453 1084.5 1434.3 1067.2 1416.5 1085.2z" fill="#beff66"/><path d="M1398.4 1106 1416.5 1085.2 1397.9 1069.1 1379.9 1089.5z" fill="#bcff6f"/><path d="M1306.6 1151.3 1325 1122.9 1306.9 1108.6 1288.5 1136.6z" fill="#80ff85"/><path d="M1251.5 1200.9 1270 1167.4 1252.2 1153.7 1233.7 1186.8z" fill="#86ffd9"/><path d="M1343.3 1138.7 1361.7 1112.7 1343.3 1097.3 1325 1122.9z" fill="#90ff7c"/><path d="M1380.2 1129.6 1398.4 1106 1379.9 1089.5 1361.7 1112.7z" fill="#9eff77"/><path d="M1454.1 1121.9 1472 1103.2 1453 1084.5 1435.2 1102.8z" fill="#a1ff67"/><path d="M1288.1 1182.5 1306.6 1151.3 1288.5 1136.6 1270 1167.4z" fill="#85ffb6"/><path d="M1417.2 1124 1435.2 1102.8 1416.5 1085.2 1398.4 1106z" fill="#a4ff70"/><path d="M1324.9 1167.5 1343.3 1138.7 1325 1122.9 1306.6 1151.3z" fill="#82ff98"/><path d="M1269.4 1216.4 1288.1 1182.5 1270 1167.4 1251.5 1200.9z" fill="#88ffe8"/><path d="M1361.9 1155.9 1380.2 1129.6 1361.7 1112.7 1343.3 1138.7z" fill="#7eff7e"/><path d="M1398.9 1147.9 1417.2 1124 1398.4 1106 1380.2 1129.6z" fill="#87ff78"/><path d="M1436.1 1143.4 1454.1 1121.9 1435.2 1102.8 1417.2 1124z" fill="#89ff71"/><path d="M1306.3 1199.1 1324.9 1167.5 1306.6 1151.3 1288.1 1182.5z" fill="#86ffc8"/><path d="M1343.4 1185.1 1361.9 1155.9 1343.3 1138.7 1324.9 1167.5z" fill="#83ffad"/><path d="M1287.6 1233.4 1306.3 1199.1 1288.1 1182.5 1269.4 1216.4z" fill="#8afff9"/><path d="M1380.6 1174.6 1398.9 1147.9 1380.2 1129.6 1361.9 1155.9z" fill="#7fff96"/><path d="M1417.9 1167.7 1436.1 1143.4 1417.2 1124 1398.9 1147.9z" fill="#79ff84"/><path d="M1324.7 1217.1 1343.4 1185.1 1324.9 1167.5 1306.3 1199.1z" fill="#88ffdc"/><path d="M1362 1204.2 1380.6 1174.6 1361.9 1155.9 1343.4 1185.1z" fill="#84ffc3"/><path d="M1306 1251.8 1324.7 1217.1 1306.3 1199.1 1287.6 1233.4z" fill="#8bf1ff"/><path d="M1399.4 1194.8 1417.9 1167.7 1398.9 1147.9 1380.6 1174.6z" fill="#80ffb0"/><path d="M1343.4 1236.5 1362 1204.2 1343.4 1185.1 1324.7 1217.1z" fill="#89fff2"/><path d="M1380.9 1224.7 1399.4 1194.8 1380.6 1174.6 1362 1204.2z" fill="#85ffdc"/><path d="M1324.6 1271.7 1343.4 1236.5 1324.7 1217.1 1306 1251.8z" fill="#8cdcff"/><path d="M1362.2 1257.5 1380.9 1224.7 1362 1204.2 1343.4 1236.5z" fill="#8af4ff"/><path d="M1343.4 1293.1 1362.2 1257.5 1343.4 1236.5 1324.6 1271.7z" fill="#8dc5ff"/></g>
<g fill="#000"><circle cx="1014" cy="1195.1" r="2.8"/><circle cx="1010.8" cy="1129" r="2.8"/><circle cx="1007.5" cy="1063" r="2.8"/><circle cx="1004.3" cy="996.9" r="2.8"/><circle cx="1001" cy="930.9" r="2.8"/><circle cx="997.8" cy="864.8" r="2.8"/><circle cx="1019.1" cy="1297.8" r="2.8"/><circle cx="1668.5" cy="1297.8" r="2.8"/><circle cx="1100.3" cy="1335.4" r="2.8"/><circle cx="1587.3" cy="1335.4" r="2.8"/><circle cx="1181.5" cy="1373" r="2.8"/><circle cx="1506.2" cy="1373" r="2.8"/><circle cx="1262.6" cy="1410.7" r="2.8"/><circle cx="1425" cy="1410.7" r="2.8"/><circle cx="1343.8" cy="1448.3" r="2.8"/></g>
<path d="M1011.5 1136.5 1010.9 1128.3" stroke="#111" stroke-width="1.3"/>
<circle cx="1011.5" cy="1136.5" r="6.4" fill="#f7c6c6" stroke="#333" stroke-width="1.1"/>
<path d="M1343.6 1304.4 1343.4 1293.1" stroke="#111" stroke-width="1.3"/>
<circle cx="1343.6" cy="1304.4" r="6.4" fill="#f7c6c6" stroke="#333" stroke-width="1.1"/>
<path d="M1677.8 1099.6 1678.1 1098.1" stroke="#111" stroke-width="1.3"/>
<circle cx="1677.8" cy="1099.6" r="6.4" fill="#c00000" stroke="#500" stroke-width="1.1"/>
<path d="M1343.5 932 1343.4 949.3" stroke="#111" stroke-width="1.3"/>
<circle cx="1343.5" cy="932" r="6.4" fill="#c00000" stroke="#500" stroke-width="1.1"/>
<g font-family="DejaVu Sans Condensed, DejaVu Sans, sans-serif" font-size="22" fill="#1a1a1a"><text x="1000" y="1187.1" text-anchor="end">50</text><text x="996.8" y="1121" text-anchor="end">60</text><text x="993.5" y="1055" text-anchor="end">70</text><text x="990.3" y="988.9" text-anchor="end">80</text><text x="987" y="922.9" text-anchor="end">90</text><text x="983.8" y="856.8" text-anchor="end">100</text><text x="1005.1" y="1320.8" text-anchor="end">1</text><text x="1682.5" y="1320.8">1</text><text x="1086.3" y="1358.4" text-anchor="end">0.5</text><text x="1601.3" y="1358.4">0.5</text><text x="1167.5" y="1396" text-anchor="end">0</text><text x="1520.2" y="1396">0</text><text x="1248.6" y="1433.7" text-anchor="end">-0.5</text><text x="1439" y="1433.7">-0.5</text><text x="1329.8" y="1471.3" text-anchor="end">-1</text><text x="1357.8" y="1471.3">-1</text></g>
<g font-family="Liberation Serif, serif" font-size="26" fill="#111" lengthAdjust="spacing"><text x="965" y="1440.5" textLength="167.5">B: Temperature</text><text x="1590" y="1443.6" textLength="66.6">A: pH</text></g>
<text transform="translate(931.5 1104.9) rotate(-90)" x="-118.8" y="0" textLength="237.7" lengthAdjust="spacingAndGlyphs" font-family="Liberation Serif, serif" font-size="26.5" fill="#141a30">Removal efficiency, %</text>
<rect x="1678.5" y="776.6" width="66" height="83.3" rx="11" fill="#fff" stroke="#000" stroke-width="2.8"/>
<text transform="translate(1722.5 836.4) scale(0.98 1)" text-anchor="middle" font-family="Liberation Sans, sans-serif" font-size="41" fill="#000">d</text>
<path d="M216.1 1916.1 203.9 1620.5M295.5 1891.1 287.3 1603M374.8 1866.1 370.6 1585.5M454.3 1926 454 1568M533.6 1866.1 537.4 1585.5M613 1891.1 620.8 1603M692.4 1916.1 704.2 1620.5M766.9 2035.4 787.6 1638M141.7 2035.4 120.6 1638M136.7 1941.1 454.2 1841.1M454.2 1841.1 771.8 1941.1M133.5 1880.5 454.2 1786.5M454.2 1786.5 775 1880.5M130.3 1819.9 454.1 1731.8M454.1 1731.8 778.1 1819.9M127 1759.3 454.1 1677.2M454.1 1677.2 781.3 1759.3M123.8 1698.6 454 1622.6M454 1622.6 784.4 1698.6M120.6 1638 454 1568M454 1568 787.6 1638" stroke="#111" stroke-width="1.4" fill="none"/>
<path d="M141.7 2035.4 453.5 2174.5 766.9 2035.4 454.3 1926z" fill="#5f5f5f"/>
<path d="M480.2 2162.8 477.2 2162.6 474.2 2162.3 471.3 2162.1 467 2161.7 462.7 2161.4 459.4 2161.1 456.4 2160.8 453.5 2160.6 449.6 2160.3 445.2 2159.9 441.8 2159.6 438.9 2159.3 436 2159 432 2158.7 427.6 2158.2 424.4 2157.9 421.6 2157.7 418.6 2157.4 414.1 2156.9 414.1 2156.9" stroke="#00ff4b" stroke-width="3" fill="none"/>
<path d="M442.1 1930.4 444.9 1930.7 448.6 1931 450.8 1931.3 453 1931.5 456.7 1931.8 459.5 1932.1 461.7 1932.4 464.6 1932.7 468.2 1933.1 470.3 1933.3 472.7 1933.5 476.7 1934 476.7 1934" stroke="#00ff4b" stroke-width="3" fill="none"/>
<path d="M509.9 2149.6 506.8 2149.4 503.8 2149.2 500.6 2149 496.5 2148.7 492.4 2148.5 488.7 2148.2 485.7 2148 482.7 2147.8 479.7 2147.6 475.7 2147.2 471.5 2146.9 467.9 2146.6 464.9 2146.4 462 2146.2 458.8 2145.9 454.5 2145.6 450.3 2145.2 447.4 2145 444.5 2144.7 441.6 2144.5 437.3 2144.1 433 2143.7 430.1 2143.5 427.3 2143.2 424.2 2142.9 419.8 2142.5 415.9 2142.1 413.1 2141.9 410.3 2141.6 406.5 2141.2 402.1 2140.8 399.1 2140.5 396.3 2140.2 393.1 2139.8 388.6 2139.4 385.3 2139 382.5 2138.7 379.5 2138.4 374.9 2137.9 371.6 2137.5 370.4 2137.4" stroke="#1eff00" stroke-width="3" fill="none"/>
<path d="M420 1938.1 422.3 1938.3 424.8 1938.5 428.6 1938.9 431.2 1939.1 433.4 1939.3 436.4 1939.6 440 1940 442.2 1940.2 444.4 1940.4 448.2 1940.8 451 1941.1 453.2 1941.3 456.2 1941.7 459.8 1942 461.9 1942.3 464.3 1942.5 468.4 1943 470.7 1943.2 472.8 1943.5 476.7 1943.9 479.3 1944.2 481.5 1944.4 485.1 1944.9 488 1945.2 490.1 1945.4 493.6 1945.9 496.5 1946.2 498.7 1946.5 502.3 1946.9 505.1 1947.2 507.2 1947.5 511.1 1948 513.6 1948.3 515.8 1948.6 520 1949.1 520 1949.1" stroke="#1eff00" stroke-width="3" fill="none"/>
<path d="M544.5 2134.2 541.2 2134.1 537.4 2133.9 533.6 2133.8 529.7 2133.6 525.9 2133.4 522.7 2133.2 519.6 2133.1 516.5 2132.9 513.4 2132.8 510.3 2132.6 506.3 2132.4 502.4 2132.1 498.4 2131.9 495.2 2131.7 492.2 2131.5 489.2 2131.3 486.3 2131.2 482.3 2130.9 478.3 2130.6 474.4 2130.4 471.5 2130.2 468.5 2129.9 465.6 2129.7 461.8 2129.4 457.7 2129.1 454 2128.8 451.1 2128.6 448.2 2128.4 445.1 2128.1 440.9 2127.8 436.8 2127.4 433.9 2127.2 431.1 2127 428.2 2126.7 423.9 2126.3 419.8 2125.9 417 2125.7 414.3 2125.4 410.9 2125.1 406.5 2124.7 403.2 2124.4 400.4 2124.1 397.7 2123.8 393.3 2123.4 389.5 2123 386.8 2122.7 384.1 2122.4 379.9 2121.9 376 2121.5 373.3 2121.2 370.6 2120.9 366.3 2120.4 362.7 2120 360 2119.7 357.1 2119.4 352.5 2118.8 349.5 2118.5 346.9 2118.2 343.2 2117.7 339.1 2117.2 336.6 2116.9 333.8 2116.5 329.1 2115.9 326.3 2115.6 323.7 2115.2 319.6 2114.7 319.6 2114.7" stroke="#87ff00" stroke-width="3" fill="none"/>
<path d="M394.2 1947.1 396.5 1947.3 398.7 1947.5 402.1 1947.8 405.6 1948.1 407.9 1948.3 410.1 1948.5 413.5 1948.8 416.9 1949.1 419.2 1949.3 421.4 1949.6 425.1 1949.9 428.2 1950.2 430.4 1950.4 433 1950.7 436.9 1951.1 439.3 1951.3 441.6 1951.6 445 1951.9 448.2 1952.3 450.4 1952.5 453.1 1952.8 457 1953.2 459.2 1953.5 461.4 1953.7 465.6 1954.2 468 1954.5 470.2 1954.7 474.1 1955.2 476.7 1955.5 478.9 1955.7 482.7 1956.2 485.4 1956.5 487.5 1956.8 491.5 1957.3 494 1957.6 496.2 1957.9 500.4 1958.4 502.6 1958.7 504.9 1959 509 1959.5 511.1 1959.8 514.1 1960.2 517.5 1960.6 519.6 1960.9 523.5 1961.5 526 1961.8 528.3 1962.1 532.3 1962.7 534.4 1963 538 1963.5 540.7 1963.9 542.9 1964.2 547 1964.8 549.1 1965.1 553 1965.7 555.3 1966.1 558.2 1966.5 561.6 1967 563.6 1967.4 567.8 1968 569.8 1968.3 573.9 1969 576 1969.3 579.5 1969.9 579.5 1969.9" stroke="#87ff00" stroke-width="3" fill="none"/>
<path d="M589.5 2114.2 586 2114.3 582.6 2114.3 579.2 2114.3 575.9 2114.3 572.5 2114.3 569.2 2114.2 565.9 2114.2 562.6 2114.2 559.3 2114.2 556 2114.1 552.7 2114.1 549.5 2114 546.3 2113.9 543 2113.9 539.7 2113.8 536.1 2113.7 532.4 2113.6 528.8 2113.5 525.2 2113.4 521.5 2113.2 517.8 2113.1 514.7 2113 511.6 2112.9 508.6 2112.7 505.5 2112.6 502.4 2112.5 499.1 2112.3 495.3 2112.1 491.4 2111.9 487.6 2111.7 484.4 2111.6 481.4 2111.4 478.4 2111.2 475.5 2111 472 2110.8 468.1 2110.6 464.1 2110.3 460.9 2110.1 458 2109.9 455.1 2109.7 452.1 2109.5 448 2109.2 443.9 2108.9 440.8 2108.7 438 2108.4 435.2 2108.2 431.6 2107.9 427.4 2107.6 424 2107.3 421.2 2107 418.5 2106.8 414.8 2106.5 410.6 2106.1 407.5 2105.8 404.8 2105.5 402 2105.3 397.7 2104.8 394 2104.5 391.3 2104.2 388.6 2103.9 384.5 2103.5 380.7 2103.1 378 2102.8 375.4 2102.5 371.2 2102.1 367.6 2101.6 365 2101.4 362.1 2101 357.6 2100.5 354.7 2100.1 352.1 2099.8 348.4 2099.4 344.5 2098.9 342 2098.6 339 2098.2 334.4 2097.6 331.9 2097.3 329.5 2096.9 324.8 2096.3 322 2095.9 319.6 2095.6 315.1 2095 312.3 2094.6 309.8 2094.2 305.3 2093.6 302.6 2093.2 300.2 2092.8 295.4 2092.1 293.1 2091.7 290.3 2091.3 286 2090.6 283.7 2090.3 280.1 2089.7 276.7 2089.1 274.4 2088.8 269.8 2088 267.5 2087.6 264.4 2087.1 260.7 2086.4 258.4 2086.1 253.9 2085.3 253.6 2085.2" stroke="#f0ff00" stroke-width="3" fill="none"/>
<path d="M361.9 1958.4 365.4 1958.6 368.9 1958.9 371.4 1959.1 373.8 1959.2 376.2 1959.4 379.8 1959.7 383.3 1960 385.6 1960.2 388 1960.4 390.9 1960.6 394.7 1960.9 397.3 1961.2 399.6 1961.4 402.3 1961.6 406.1 1961.9 408.9 1962.2 411.2 1962.4 413.8 1962.7 417.8 1963.1 420.3 1963.3 422.6 1963.5 425.7 1963.8 429.4 1964.2 431.6 1964.5 433.9 1964.7 437.9 1965.1 440.6 1965.4 442.9 1965.7 446.2 1966 449.5 1966.4 451.8 1966.7 454.6 1967 458.4 1967.4 460.6 1967.7 463.3 1968 467.2 1968.5 469.4 1968.8 472 1969.1 475.9 1969.6 478.1 1969.8 481 1970.2 484.6 1970.7 486.8 1971 490.2 1971.4 493.2 1971.8 495.4 1972.1 499.6 1972.7 501.8 1973 504.4 1973.4 508.2 1973.9 510.3 1974.2 514.2 1974.8 516.6 1975.2 519.2 1975.6 522.9 1976.1 525 1976.4 529.2 1977.1 531.3 1977.4 534.7 1978 537.6 1978.4 540.1 1978.8 543.8 1979.4 545.8 1979.8 550 1980.4 552 1980.8 556.1 1981.5 558.2 1981.8 562.3 1982.6 564.3 1982.9 568.4 1983.6 570.4 1984 574.4 1984.7 576.5 1985.1 580.5 1985.9 582.5 1986.3 586.5 1987 588.5 1987.4 592.5 1988.2 594.5 1988.6 598.4 1989.4 600.6 1989.8 604.4 1990.6 607.7 1991.3 610.3 1991.8 614.2 1992.6 616.1 1993 620 1993.9 622.9 1994.5 625.8 1995.2 629.7 1996 631.6 1996.5 635.4 1997.4 639.3 1998.2 641.2 1998.7 645 1999.6 648.8 2000.5 650.6 2001 654.4 2001.9 658.1 2002.9 660.1 2003.4 663.7 2004.3 667.4 2005.3 671.1 2006.3 673 2006.8 676.6 2007.8 680.2 2008.8 683.9 2009.9 687.5 2010.9 689.3 2011.4 692.8 2012.5 696.4 2013.6 699.9 2014.7 703.4 2015.8 706.9 2016.9 710.4 2018.1 713.8 2019.3 717.2 2020.4 720.6 2021.6 723.9 2022.9 727.2 2024.1 730.5 2025.4 733.8 2026.6 737 2027.9 740.2 2029.3 741.8 2029.9 744.9 2031.3 748 2032.7 751 2034.1 752.5 2034.8 755.5 2036.3 758.4 2037.8 759.8 2038.5 759.8 2038.5" stroke="#f0ff00" stroke-width="3" fill="none"/>
<path d="M314.7 1974.8 317.7 1974.9 320.9 1975 324.1 1975.1 327.4 1975.2 330.7 1975.4 333.4 1975.5 336 1975.6 338.6 1975.7 341.2 1975.8 344 1976 347.4 1976.2 350.9 1976.3 353.9 1976.5 356.5 1976.7 359 1976.8 361.5 1977 364.9 1977.2 368.5 1977.5 371.4 1977.7 373.8 1977.8 376.3 1978 379.4 1978.3 383.1 1978.6 386 1978.8 388.4 1979 390.8 1979.2 394.4 1979.5 397.9 1979.8 400.3 1980 402.6 1980.2 406.1 1980.6 409.6 1980.9 412 1981.1 414.3 1981.4 418.2 1981.8 421.2 1982.1 423.5 1982.3 426.5 1982.7 430.3 1983.1 432.6 1983.4 435 1983.6 439.3 1984.1 441.6 1984.4 443.8 1984.7 448.1 1985.2 450.5 1985.5 452.7 1985.8 457.1 1986.4 459.3 1986.7 461.8 1987 465.8 1987.6 468 1987.9 471.3 1988.3 474.5 1988.8 476.6 1989.1 480.9 1989.7 483.1 1990.1 486.3 1990.6 489.4 1991.1 491.5 1991.4 495.7 1992.1 497.8 1992.4 502 1993.1 504.1 1993.5 507.8 1994.1 510.3 1994.5 513.5 1995.1 516.4 1995.6 519.5 1996.2 522.5 1996.7 525.6 1997.3 528.6 1997.9 531.9 1998.5 534.6 1999.1 538.6 1999.9 540.6 2000.3 544.5 2001.1 546.5 2001.5 550.4 2002.4 552.9 2002.9 556.2 2003.6 560.1 2004.5 562 2005 565.8 2005.9 569.3 2006.7 571.5 2007.2 575.2 2008.2 578.9 2009.1 580.8 2009.6 584.5 2010.5 588.2 2011.5 590.3 2012.1 593.6 2013 597.2 2014.1 600.7 2015.1 604.3 2016.2 606.1 2016.7 609.5 2017.8 612.9 2018.9 616.3 2020.1 619.6 2021.2 623 2022.4 626.2 2023.6 629.5 2024.8 632.6 2026.1 635.7 2027.4 638.1 2028.4 640.3 2029.4 643.3 2030.7 646.2 2032.1 648.5 2033.3 650.4 2034.3 653.1 2035.8 654.4 2036.6 657 2038.2 658.7 2039.3 660.6 2040.6 661.8 2041.6 663.9 2043.3 664.9 2044.2 666.3 2045.5 667.7 2047.1 668.5 2048.1 669.2 2049.2 669.9 2050.3 670.6 2051.7 671.1 2053.1 671.4 2054.4 671.5 2055.6 671.5 2056.8 671.3 2058 670.8 2059.6 670.1 2061 669.5 2061.9 668.2 2063.5 667.1 2064.6 665.2 2066.2 664 2067.1 661.6 2068.6 659 2070 656.1 2071.4 653 2072.7 649.7 2073.9 646.2 2075 643 2075.9 640.6 2076.6 636.7 2077.6 634.7 2078.1 630.6 2079 628.4 2079.4 624.1 2080.2 621.8 2080.6 617.7 2081.3 614.9 2081.7 612.5 2082.1 608 2082.7 605.2 2083 602.7 2083.3 598.9 2083.8 595 2084.2 592.4 2084.4 589.7 2084.7 586.3 2085 582.3 2085.3 578.9 2085.5 576.1 2085.7 573.2 2085.9 570.4 2086.1 566.8 2086.3 563.1 2086.5 559.4 2086.6 555.8 2086.8 552.7 2086.9 549.7 2087 546.6 2087.1 543.5 2087.1 540.4 2087.2 537.3 2087.3 534.1 2087.3 530.9 2087.4 527.7 2087.4 524.4 2087.4 521.1 2087.4 517.8 2087.4 514.5 2087.4 511.2 2087.3 507.8 2087.3 504.4 2087.3 501 2087.2 497.5 2087.1 494 2087 490.5 2087 487 2086.8 483.5 2086.7 480.5 2086.6 477.5 2086.5 474.5 2086.4 471.5 2086.3 468.5 2086.1 465.2 2086 461.5 2085.8 457.7 2085.6 453.9 2085.4 451 2085.2 448.1 2085.1 445.3 2084.9 442.4 2084.7 438.5 2084.5 434.6 2084.2 431.2 2083.9 428.4 2083.7 425.7 2083.5 422.6 2083.3 418.6 2083 414.7 2082.6 412 2082.4 409.3 2082.2 406.2 2081.9 402.1 2081.5 398.7 2081.2 396 2081 393.4 2080.7 389.3 2080.3 385.6 2079.9 383 2079.6 380.5 2079.4 376.2 2078.9 372.8 2078.5 370.3 2078.2 367.3 2077.9 362.8 2077.3 360.3 2077 357.8 2076.7 353.6 2076.2 350.4 2075.8 348 2075.5 344.2 2075 340.7 2074.5 338.3 2074.2 334.6 2073.6 331.2 2073.1 328.8 2072.8 324.8 2072.2 321.8 2071.8 319.5 2071.4 314.9 2070.7 312.6 2070.3 309.6 2069.8 305.8 2069.2 303.5 2068.8 299.1 2068.1 296.8 2067.7 293.7 2067.2 290.2 2066.5 288 2066.1 283.7 2065.3 281.5 2064.9 277.2 2064.1 275.1 2063.7 271.1 2062.9 268.8 2062.5 265.2 2061.7 262.6 2061.2 259 2060.5 256.4 2059.9 252.7 2059.1 250.4 2058.6 246.4 2057.7 244.4 2057.3 240.5 2056.3 238.5 2055.9 234.7 2055 232.4 2054.4 228.9 2053.6 225.2 2052.6 223.3 2052.1 219.6 2051.1 217 2050.4 214.2 2049.7 210.6 2048.7 208.3 2048 205.3 2047.1 201.9 2046.1 198.4 2045.1 196.8 2044.5 193.4 2043.5 190.1 2042.4 186.9 2041.3 185.3 2040.8 182.2 2039.6 179.1 2038.5 176 2037.4 173.1 2036.2 170.1 2035 167.3 2033.8 164.5 2032.6 161.8 2031.4 159.2 2030.1 157.9 2029.5" stroke="#ffa500" stroke-width="3" fill="none"/>
<path d="M141.7 2035.4 453.5 2174.5 766.9 2035.4 M141.7 2035.4 454.3 1926 766.9 2035.4" stroke="#000" stroke-width="2" fill="none"/>
<g stroke="#111" stroke-width="1.25" stroke-linejoin="round"><path d="M454.2 1735.5 468.6 1745.2 454.2 1749 439.7 1739z" fill="#0c9939"/><path d="M468.8 1732.5 483.3 1741.8 468.6 1745.2 454.2 1735.5z" fill="#0b9924"/><path d="M439.5 1726.7 454.2 1735.5 439.7 1739 425 1729.9z" fill="#0b9912"/><path d="M483.7 1729.8 498.1 1738.9 483.3 1741.8 468.8 1732.5z" fill="#0b990f"/><path d="M454.1 1724 468.8 1732.5 454.2 1735.5 439.5 1726.7z" fill="#18990b"/><path d="M424.6 1718.9 439.5 1726.7 425 1729.9 410.1 1721.7z" fill="#28990b"/><path d="M498.7 1727.7 513.1 1736.3 498.1 1738.9 483.7 1729.8z" fill="#1a990b"/><path d="M469 1721.7 483.7 1729.8 468.8 1732.5 454.1 1724z" fill="#2b990b"/><path d="M439.2 1716.5 454.1 1724 439.5 1726.7 424.6 1718.9z" fill="#3b990a"/><path d="M409.4 1711.9 424.6 1718.9 410.1 1721.7 395 1714.4z" fill="#48990a"/><path d="M514 1725.9 528.4 1734.3 513.1 1736.3 498.7 1727.7z" fill="#2c990b"/><path d="M484.1 1719.9 498.7 1727.7 483.7 1729.8 469 1721.7z" fill="#3d990b"/><path d="M454.1 1714.5 469 1721.7 454.1 1724 439.2 1716.5z" fill="#4d990a"/><path d="M424.1 1709.9 439.2 1716.5 424.6 1718.9 409.4 1711.9z" fill="#5b990a"/><path d="M394.1 1705.9 409.4 1711.9 395 1714.4 379.6 1708z" fill="#66990a"/><path d="M529.4 1724.6 543.8 1732.6 528.4 1734.3 514 1725.9z" fill="#3c990b"/><path d="M499.3 1718.5 514 1725.9 498.7 1727.7 484.1 1719.9z" fill="#4d990a"/><path d="M469.2 1713.1 484.1 1719.9 469 1721.7 454.1 1714.5z" fill="#5d990a"/><path d="M439 1708.3 454.1 1714.5 439.2 1716.5 424.1 1709.9z" fill="#6b990a"/><path d="M408.8 1704.3 424.1 1709.9 409.4 1711.9 394.1 1705.9z" fill="#769709"/><path d="M378.5 1700.9 394.1 1705.9 379.6 1708 364 1702.6z" fill="#7c9309"/><path d="M545 1723.8 559.4 1731.4 543.8 1732.6 529.4 1724.6z" fill="#4b990b"/><path d="M514.8 1717.6 529.4 1724.6 514 1725.9 499.3 1718.5z" fill="#5d990a"/><path d="M484.4 1712.1 499.3 1718.5 484.1 1719.9 469.2 1713.1z" fill="#6d990a"/><path d="M454.1 1707.2 469.2 1713.1 454.1 1714.5 439 1708.3z" fill="#779509"/><path d="M423.7 1703.1 439 1708.3 424.1 1709.9 408.8 1704.3z" fill="#7f9009"/><path d="M362.7 1696.9 378.5 1700.9 364 1702.6 348.3 1698.2z" fill="#878608"/><path d="M393.2 1699.6 408.8 1704.3 394.1 1705.9 378.5 1700.9z" fill="#858c08"/><path d="M560.9 1723.5 575.2 1730.7 559.4 1731.4 545 1723.8z" fill="#58990b"/><path d="M530.4 1717.2 545 1723.8 529.4 1724.6 514.8 1717.6z" fill="#69970a"/><path d="M499.9 1711.5 514.8 1717.6 499.3 1718.5 484.4 1712.1z" fill="#759209"/><path d="M469.4 1706.6 484.4 1712.1 469.2 1713.1 454.1 1707.2z" fill="#7f8e09"/><path d="M438.7 1702.4 454.1 1707.2 439 1708.3 423.7 1703.1z" fill="#868908"/><path d="M346.8 1693.9 362.7 1696.9 348.3 1698.2 332.3 1694.9z" fill="#7b6906"/><path d="M408.1 1698.9 423.7 1703.1 408.8 1704.3 393.2 1699.6z" fill="#847e08"/><path d="M377.4 1696.1 393.2 1699.6 378.5 1700.9 362.7 1696.9z" fill="#807207"/><path d="M576.9 1723.6 591.3 1730.5 575.2 1730.7 560.9 1723.5z" fill="#61940a"/><path d="M546.3 1717.2 560.9 1723.5 545 1723.8 530.4 1717.2z" fill="#70900a"/><path d="M515.6 1711.5 530.4 1717.2 514.8 1717.6 499.9 1711.5z" fill="#7b8b09"/><path d="M484.8 1706.5 499.9 1711.5 484.4 1712.1 469.4 1706.6z" fill="#848608"/><path d="M330.6 1692 346.8 1693.9 332.3 1694.9 316.1 1692.5z" fill="#6e5005"/><path d="M454 1702.2 469.4 1706.6 454.1 1707.2 438.7 1702.4z" fill="#827908"/><path d="M361.4 1693.5 377.4 1696.1 362.7 1696.9 346.8 1693.9z" fill="#735806"/><path d="M423.2 1698.6 438.7 1702.4 423.7 1703.1 408.1 1698.9z" fill="#7d6c07"/><path d="M392.3 1695.7 408.1 1698.9 393.2 1699.6 377.4 1696.1z" fill="#786107"/><path d="M593.2 1724.3 607.5 1730.7 591.3 1730.5 576.9 1723.6z" fill="#678e0a"/><path d="M562.4 1717.8 576.9 1723.6 560.9 1723.5 546.3 1717.2z" fill="#748909"/><path d="M531.5 1712 546.3 1717.2 530.4 1717.2 515.6 1711.5z" fill="#7e8408"/><path d="M500.5 1706.9 515.6 1711.5 499.9 1711.5 484.8 1706.5z" fill="#7f7808"/><path d="M314.2 1691.2 330.6 1692 316.1 1692.5 299.7 1691.3z" fill="#603c05"/><path d="M469.5 1702.5 484.8 1706.5 469.4 1706.6 454 1702.2z" fill="#7a6907"/><path d="M345.3 1692 361.4 1693.5 346.8 1693.9 330.6 1692z" fill="#654205"/><path d="M438.5 1698.8 454 1702.2 438.7 1702.4 423.2 1698.6z" fill="#755c07"/><path d="M376.3 1693.6 392.3 1695.7 377.4 1696.1 361.4 1693.5z" fill="#6a4906"/><path d="M407.4 1695.8 423.2 1698.6 408.1 1698.9 392.3 1695.7z" fill="#705106"/><path d="M609.7 1725.5 624 1731.5 607.5 1730.7 593.2 1724.3z" fill="#6a8609"/><path d="M578.7 1718.9 593.2 1724.3 576.9 1723.6 562.4 1717.8z" fill="#768108"/><path d="M547.6 1713 562.4 1717.8 546.3 1717.2 531.5 1712z" fill="#7c7a08"/><path d="M516.4 1707.8 531.5 1712 515.6 1711.5 500.5 1706.9z" fill="#776907"/><path d="M297.6 1691.5 314.2 1691.2 299.7 1691.3 283.1 1691.1z" fill="#905515"/><path d="M485.2 1703.3 500.5 1706.9 484.8 1706.5 469.5 1702.5z" fill="#725a07"/><path d="M328.9 1691.6 345.3 1692 330.6 1692 314.2 1691.2z" fill="#573004"/><path d="M454 1699.5 469.5 1702.5 454 1702.2 438.5 1698.8z" fill="#6d4e06"/><path d="M360.1 1692.5 376.3 1693.6 361.4 1693.5 345.3 1692z" fill="#5d3505"/><path d="M422.7 1696.5 438.5 1698.8 423.2 1698.6 407.4 1695.8z" fill="#674406"/><path d="M391.4 1694.1 407.4 1695.8 392.3 1695.7 376.3 1693.6z" fill="#623c05"/><path d="M626.3 1727.1 640.6 1732.8 624 1731.5 609.7 1725.5z" fill="#6b7f08"/><path d="M595.1 1720.4 609.7 1725.5 593.2 1724.3 578.7 1718.9z" fill="#767a08"/><path d="M563.9 1714.4 578.7 1718.9 562.4 1717.8 547.6 1713z" fill="#746b07"/><path d="M280.8 1692.9 297.6 1691.5 283.1 1691.1 266.3 1692z" fill="#a85b1a"/><path d="M532.5 1709.2 547.6 1713 531.5 1712 516.4 1707.8z" fill="#6f5b07"/><path d="M312.3 1692.4 328.9 1691.6 314.2 1691.2 297.6 1691.5z" fill="#9f5518"/><path d="M501.1 1704.6 516.4 1707.8 500.5 1706.9 485.2 1703.3z" fill="#6a4e06"/><path d="M343.8 1692.6 360.1 1692.5 345.3 1692 328.9 1691.6z" fill="#965115"/><path d="M469.7 1700.7 485.2 1703.3 469.5 1702.5 454 1699.5z" fill="#644206"/><path d="M375.3 1693.5 391.4 1694.1 376.3 1693.6 360.1 1692.5z" fill="#8d4f13"/><path d="M438.2 1697.6 454 1699.5 438.5 1698.8 422.7 1696.5z" fill="#5f3905"/><path d="M643.2 1729.3 657.4 1734.5 640.6 1732.8 626.3 1727.1z" fill="#6a7708"/><path d="M406.8 1695.2 422.7 1696.5 407.4 1695.8 391.4 1694.1z" fill="#593105"/><path d="M611.8 1722.5 626.3 1727.1 609.7 1725.5 595.1 1720.4z" fill="#727107"/><path d="M580.4 1716.5 595.1 1720.4 578.7 1718.9 563.9 1714.4z" fill="#6c5f07"/><path d="M263.8 1695.4 280.8 1692.9 266.3 1692 249.4 1694.1z" fill="#c06220"/><path d="M548.8 1711.1 563.9 1714.4 547.6 1713 532.5 1709.2z" fill="#675006"/><path d="M295.5 1694.2 312.3 1692.4 297.6 1691.5 280.8 1692.9z" fill="#b75b1d"/><path d="M517.3 1706.4 532.5 1709.2 516.4 1707.8 501.1 1704.6z" fill="#614306"/><path d="M327.2 1693.8 343.8 1692.6 328.9 1691.6 312.3 1692.4z" fill="#ae551a"/><path d="M660.3 1732.1 674.5 1736.9 657.4 1734.5 643.2 1729.3z" fill="#677007"/><path d="M485.6 1702.5 501.1 1704.6 485.2 1703.3 469.7 1700.7z" fill="#5c3805"/><path d="M358.9 1694.1 375.3 1693.5 360.1 1692.5 343.8 1692.6z" fill="#a55117"/><path d="M454 1699.3 469.7 1700.7 454 1699.5 438.2 1697.6z" fill="#562f05"/><path d="M390.6 1695.1 406.8 1695.2 391.4 1694.1 375.3 1693.5z" fill="#9c4f15"/><path d="M422.3 1696.8 438.2 1697.6 422.7 1696.5 406.8 1695.2z" fill="#924f13"/><path d="M628.7 1725.2 643.2 1729.3 626.3 1727.1 611.8 1722.5z" fill="#6a6507"/><path d="M597.1 1719 611.8 1722.5 595.1 1720.4 580.4 1716.5z" fill="#645406"/><path d="M246.7 1699.1 263.8 1695.4 249.4 1694.1 232.2 1697.3z" fill="#d96d26"/><path d="M565.4 1713.6 580.4 1716.5 563.9 1714.4 548.8 1711.1z" fill="#5e4506"/><path d="M278.5 1697.3 295.5 1694.2 280.8 1692.9 263.8 1695.4z" fill="#d06223"/><path d="M533.6 1708.8 548.8 1711.1 532.5 1709.2 517.3 1706.4z" fill="#593905"/><path d="M677.6 1735.4 691.7 1739.7 674.5 1736.9 660.3 1732.1z" fill="#626707"/><path d="M310.4 1696.1 327.2 1693.8 312.3 1692.4 295.5 1694.2z" fill="#c75a20"/><path d="M501.7 1704.8 517.3 1706.4 501.1 1704.6 485.6 1702.5z" fill="#8e5510"/><path d="M342.3 1695.8 358.9 1694.1 343.8 1692.6 327.2 1693.8z" fill="#be551d"/><path d="M469.9 1701.5 485.6 1702.5 469.7 1700.7 454 1699.3z" fill="#985212"/><path d="M374.2 1696.1 390.6 1695.1 375.3 1693.5 358.9 1694.1z" fill="#b5511a"/><path d="M438 1699 454 1699.3 438.2 1697.6 422.3 1696.8z" fill="#a25015"/><path d="M406.1 1697.2 422.3 1696.8 406.8 1695.2 390.6 1695.1z" fill="#ab5017"/><path d="M645.8 1728.4 660.3 1732.1 643.2 1729.3 628.7 1725.2z" fill="#625a06"/><path d="M614 1722.1 628.7 1725.2 611.8 1722.5 597.1 1719z" fill="#5c4a06"/><path d="M229.4 1704 246.7 1699.1 232.2 1697.3 214.9 1701.7z" fill="#f27a2e"/><path d="M582.1 1716.6 597.1 1719 580.4 1716.5 565.4 1713.6z" fill="#563d05"/><path d="M261.4 1701.5 278.5 1697.3 263.8 1695.4 246.7 1699.1z" fill="#e96d2a"/><path d="M695 1739.2 709.2 1743.1 691.7 1739.7 677.6 1735.4z" fill="#5c5f06"/><path d="M550.1 1711.7 565.4 1713.6 548.8 1711.1 533.6 1708.8z" fill="#935e10"/><path d="M293.4 1699.7 310.4 1696.1 295.5 1694.2 278.5 1697.3z" fill="#e06226"/><path d="M518.1 1707.7 533.6 1708.8 517.3 1706.4 501.7 1704.8z" fill="#9d5912"/><path d="M325.5 1698.6 342.3 1695.8 327.2 1693.8 310.4 1696.1z" fill="#d75a23"/><path d="M486 1704.3 501.7 1704.8 485.6 1702.5 469.9 1701.5z" fill="#a75514"/><path d="M357.6 1698.2 374.2 1696.1 358.9 1694.1 342.3 1695.8z" fill="#ce5520"/><path d="M663.1 1732.1 677.6 1735.4 660.3 1732.1 645.8 1728.4z" fill="#595106"/><path d="M453.9 1701.7 469.9 1701.5 454 1699.3 438 1699z" fill="#b15317"/><path d="M389.7 1698.7 406.1 1697.2 390.6 1695.1 374.2 1696.1z" fill="#c5521c"/><path d="M421.8 1699.8 438 1699 422.3 1696.8 406.1 1697.2z" fill="#bb5219"/><path d="M211.9 1710.2 229.4 1704 214.9 1701.7 197.5 1707.3z" fill="#ff8734"/><path d="M631.1 1725.8 645.8 1728.4 628.7 1725.2 614 1722.1z" fill="#8e710d"/><path d="M244 1706.9 261.4 1701.5 246.7 1699.1 229.4 1704z" fill="#ff7b32"/><path d="M599 1720.1 614 1722.1 597.1 1719 582.1 1716.6z" fill="#986a0f"/><path d="M712.7 1743.7 726.9 1747.1 709.2 1743.1 695 1739.2z" fill="#555706"/><path d="M276.2 1704.4 293.4 1699.7 278.5 1697.3 261.4 1701.5z" fill="#fa6e2e"/><path d="M566.8 1715.2 582.1 1716.6 565.4 1713.6 550.1 1711.7z" fill="#a26411"/><path d="M308.5 1702.6 325.5 1698.6 310.4 1696.1 293.4 1699.7z" fill="#f1642a"/><path d="M534.6 1711.1 550.1 1711.7 533.6 1708.8 518.1 1707.7z" fill="#ac5e14"/><path d="M680.6 1736.5 695 1739.2 677.6 1735.4 663.1 1732.1z" fill="#92830c"/><path d="M340.8 1701.6 357.6 1698.2 342.3 1695.8 325.5 1698.6z" fill="#e85c26"/><path d="M502.4 1707.6 518.1 1707.7 501.7 1704.8 486 1704.3z" fill="#b75916"/><path d="M373.1 1701.3 389.7 1698.7 374.2 1696.1 357.6 1698.2z" fill="#de5723"/><path d="M470.1 1704.9 486 1704.3 469.9 1701.5 453.9 1701.7z" fill="#c15619"/><path d="M194.3 1717.5 211.9 1710.2 197.5 1707.3 179.8 1714.1z" fill="#ff9238"/><path d="M405.4 1701.8 421.8 1699.8 406.1 1697.2 389.7 1698.7z" fill="#d4541f"/><path d="M437.7 1703 453.9 1701.7 438 1699 421.8 1699.8z" fill="#cb541c"/><path d="M648.4 1730 663.1 1732.1 645.8 1728.4 631.1 1725.8z" fill="#9d7b0e"/><path d="M226.6 1713.5 244 1706.9 229.4 1704 211.9 1710.2z" fill="#ff8336"/><path d="M730.6 1748.7 744.7 1751.6 726.9 1747.1 712.7 1743.7z" fill="#93960c"/><path d="M616.1 1724.3 631.1 1725.8 614 1722.1 599 1720.1z" fill="#a77210"/><path d="M258.9 1710.3 276.2 1704.4 261.4 1701.5 244 1706.9z" fill="#ff7733"/><path d="M583.8 1719.3 599 1720.1 582.1 1716.6 566.8 1715.2z" fill="#b16b13"/><path d="M291.3 1707.8 308.5 1702.6 293.4 1699.7 276.2 1704.4z" fill="#ff6d30"/><path d="M698.3 1741.4 712.7 1743.7 695 1739.2 680.6 1736.5z" fill="#a1900e"/><path d="M551.4 1715 566.8 1715.2 550.1 1711.7 534.6 1711.1z" fill="#bc6415"/><path d="M176.5 1726.1 194.3 1717.5 179.8 1714.1 162 1722.2z" fill="#ffa03d"/><path d="M323.8 1706.1 340.8 1701.6 325.5 1698.6 308.5 1702.6z" fill="#ff662e"/><path d="M518.9 1711.5 534.6 1711.1 518.1 1707.7 502.4 1707.6z" fill="#c65e18"/><path d="M356.3 1705.1 373.1 1701.3 357.6 1698.2 340.8 1701.6z" fill="#f85f2a"/><path d="M486.4 1708.7 502.4 1707.6 486 1704.3 470.1 1704.9z" fill="#d15a1b"/><path d="M388.8 1704.9 405.4 1701.8 389.7 1698.7 373.1 1701.3z" fill="#ee5a26"/><path d="M665.9 1734.8 680.6 1736.5 663.1 1732.1 648.4 1730z" fill="#ab8610"/><path d="M453.9 1706.7 470.1 1704.9 453.9 1701.7 437.7 1703z" fill="#db571f"/><path d="M421.4 1705.4 437.7 1703 421.8 1699.8 405.4 1701.8z" fill="#e55722"/><path d="M208.9 1721.4 226.6 1713.5 211.9 1710.2 194.3 1717.5z" fill="#ff8f3a"/><path d="M748.7 1754.3 762.8 1756.7 744.7 1751.6 730.6 1748.7z" fill="#a0a50d"/><path d="M633.5 1729 648.4 1730 631.1 1725.8 616.1 1724.3z" fill="#b67c12"/><path d="M241.4 1717.5 258.9 1710.3 244 1706.9 226.6 1713.5z" fill="#ff8137"/><path d="M600.9 1723.9 616.1 1724.3 599 1720.1 583.8 1719.3z" fill="#c17315"/><path d="M716.2 1746.9 730.6 1748.7 712.7 1743.7 698.3 1741.4z" fill="#b09e0f"/><path d="M274 1714.3 291.3 1707.8 276.2 1704.4 258.9 1710.3z" fill="#ff7535"/><path d="M158.5 1735.9 176.5 1726.1 162 1722.2 144.1 1731.5z" fill="#ffb241"/><path d="M568.3 1719.6 583.8 1719.3 566.8 1715.2 551.4 1715z" fill="#cc6b18"/><path d="M306.6 1711.9 323.8 1706.1 308.5 1702.6 291.3 1707.8z" fill="#ff6b32"/><path d="M535.7 1716 551.4 1715 534.6 1711.1 518.9 1711.5z" fill="#d6641b"/><path d="M339.3 1710.2 356.3 1705.1 340.8 1701.6 323.8 1706.1z" fill="#ff642f"/><path d="M683.7 1740.2 698.3 1741.4 680.6 1736.5 665.9 1734.8z" fill="#bb9311"/><path d="M191.1 1730.5 208.9 1721.4 194.3 1717.5 176.5 1726.1z" fill="#ff9f3f"/><path d="M503 1713.1 518.9 1711.5 502.4 1707.6 486.4 1708.7z" fill="#e15f1e"/><path d="M372 1709.3 388.8 1704.9 373.1 1701.3 356.3 1705.1z" fill="#ff602c"/><path d="M470.2 1711 486.4 1708.7 470.1 1704.9 453.9 1706.7z" fill="#eb5d22"/><path d="M767 1760.4 781 1762.4 762.8 1756.7 748.7 1754.3z" fill="#abb30e"/><path d="M404.8 1709.1 421.4 1705.4 405.4 1701.8 388.8 1704.9z" fill="#ff5e2a"/><path d="M437.5 1709.7 453.9 1706.7 437.7 1703 421.4 1705.4z" fill="#f55c26"/><path d="M651 1734.3 665.9 1734.8 648.4 1730 633.5 1729z" fill="#c58814"/><path d="M223.7 1725.9 241.4 1717.5 226.6 1713.5 208.9 1721.4z" fill="#ff8f3c"/><path d="M140.4 1747 158.5 1735.9 144.1 1731.5 126 1742z" fill="#ffc746"/><path d="M734.3 1752.9 748.7 1754.3 730.6 1748.7 716.2 1746.9z" fill="#bfaf10"/><path d="M618.3 1729.1 633.5 1729 616.1 1724.3 600.9 1723.9z" fill="#d07e17"/><path d="M256.5 1722 274 1714.3 258.9 1710.3 241.4 1717.5z" fill="#ff8139"/><path d="M585.5 1724.7 600.9 1723.9 583.8 1719.3 568.3 1719.6z" fill="#db741a"/><path d="M289.3 1718.9 306.6 1711.9 291.3 1707.8 274 1714.3z" fill="#ff7536"/><path d="M173.1 1740.9 191.1 1730.5 176.5 1726.1 158.5 1735.9z" fill="#ffb343"/><path d="M701.6 1746.2 716.2 1746.9 698.3 1741.4 683.7 1740.2z" fill="#caa213"/><path d="M552.6 1721 568.3 1719.6 551.4 1715 535.7 1716z" fill="#e66d1d"/><path d="M322.1 1716.5 339.3 1710.2 323.8 1706.1 306.6 1711.9z" fill="#ff6b34"/><path d="M519.7 1718.1 535.7 1716 518.9 1711.5 503 1713.1z" fill="#f16721"/><path d="M355 1714.9 372 1709.3 356.3 1705.1 339.3 1710.2z" fill="#ff6431"/><path d="M205.9 1735.5 223.7 1725.9 208.9 1721.4 191.1 1730.5z" fill="#ffa041"/><path d="M486.8 1715.9 503 1713.1 486.4 1708.7 470.2 1711z" fill="#fb6425"/><path d="M388 1714 404.8 1709.1 388.8 1704.9 372 1709.3z" fill="#ff602e"/><path d="M453.9 1714.5 470.2 1711 453.9 1706.7 437.5 1709.7z" fill="#ff6128"/><path d="M420.9 1713.9 437.5 1709.7 421.4 1705.4 404.8 1709.1z" fill="#ff5f2b"/><path d="M668.7 1740.2 683.7 1740.2 665.9 1734.8 651 1734.3z" fill="#d59616"/><path d="M752.6 1759.6 767 1760.4 748.7 1754.3 734.3 1752.9z" fill="#cec212"/><path d="M238.8 1731 256.5 1722 241.4 1717.5 223.7 1725.9z" fill="#ff903e"/><path d="M635.8 1734.9 651 1734.3 633.5 1729 618.3 1729.1z" fill="#e08a19"/><path d="M155 1752.6 173.1 1740.9 158.5 1735.9 140.4 1747z" fill="#ffc948"/><path d="M271.8 1727.1 289.3 1718.9 274 1714.3 256.5 1722z" fill="#ff823b"/><path d="M602.8 1730.4 618.3 1729.1 600.9 1723.9 585.5 1724.7z" fill="#eb801d"/><path d="M719.7 1752.8 734.3 1752.9 716.2 1746.9 701.6 1746.2z" fill="#d9b315"/><path d="M304.8 1724 322.1 1716.5 306.6 1711.9 289.3 1718.9z" fill="#ff7738"/><path d="M569.8 1726.7 585.5 1724.7 568.3 1719.6 552.6 1721z" fill="#f67820"/><path d="M188 1746.5 205.9 1735.5 191.1 1730.5 173.1 1740.9z" fill="#ffb546"/><path d="M337.9 1721.7 355 1714.9 339.3 1710.2 322.1 1716.5z" fill="#ff6d35"/><path d="M536.7 1723.7 552.6 1721 535.7 1716 519.7 1718.1z" fill="#ff7124"/><path d="M686.7 1746.7 701.6 1746.2 683.7 1740.2 668.7 1740.2z" fill="#e4a618"/><path d="M371 1720.1 388 1714 372 1709.3 355 1714.9z" fill="#ff6733"/><path d="M503.6 1721.4 519.7 1718.1 503 1713.1 486.8 1715.9z" fill="#ff6927"/><path d="M404.1 1719.3 420.9 1713.9 404.8 1709.1 388 1714z" fill="#ff6330"/><path d="M470.4 1720 486.8 1715.9 470.2 1711 453.9 1714.5z" fill="#ff642a"/><path d="M437.3 1719.3 453.9 1714.5 437.5 1709.7 420.9 1713.9z" fill="#ff622d"/><path d="M221 1741.2 238.8 1731 223.7 1725.9 205.9 1735.5z" fill="#ffa343"/><path d="M653.6 1741.3 668.7 1740.2 651 1734.3 635.8 1734.9z" fill="#f0991c"/><path d="M254.1 1736.6 271.8 1727.1 256.5 1722 238.8 1731z" fill="#ff9440"/><path d="M738 1760 752.6 1759.6 734.3 1752.9 719.7 1752.8z" fill="#e8c817"/><path d="M620.4 1736.8 635.8 1734.9 618.3 1729.1 602.8 1730.4z" fill="#fb8e20"/><path d="M169.8 1758.8 188 1746.5 173.1 1740.9 155 1752.6z" fill="#ffcd4b"/><path d="M287.3 1732.8 304.8 1724 289.3 1718.9 271.8 1727.1z" fill="#ff863d"/><path d="M587.1 1732.9 602.8 1730.4 585.5 1724.7 569.8 1726.7z" fill="#ff8223"/><path d="M320.5 1729.8 337.9 1721.7 322.1 1716.5 304.8 1724z" fill="#ff7b3a"/><path d="M704.8 1753.8 719.7 1752.8 701.6 1746.2 686.7 1746.7z" fill="#f4b91b"/><path d="M553.9 1729.9 569.8 1726.7 552.6 1721 536.7 1723.7z" fill="#ff7626"/><path d="M203 1752.7 221 1741.2 205.9 1735.5 188 1746.5z" fill="#ffba48"/><path d="M353.8 1727.5 371 1720.1 355 1714.9 337.9 1721.7z" fill="#ff7237"/><path d="M520.5 1727.5 536.7 1723.7 519.7 1718.1 503.6 1721.4z" fill="#ff6e29"/><path d="M387.1 1726 404.1 1719.3 388 1714 371 1720.1z" fill="#ff6b34"/><path d="M487.2 1726 503.6 1721.4 486.8 1715.9 470.4 1720z" fill="#ff692b"/><path d="M420.5 1725.2 437.3 1719.3 420.9 1713.9 404.1 1719.3z" fill="#ff6831"/><path d="M453.8 1725.2 470.4 1720 453.9 1714.5 437.3 1719.3z" fill="#ff672e"/><path d="M671.5 1748.4 686.7 1746.7 668.7 1740.2 653.6 1741.3z" fill="#ffab1f"/><path d="M236.2 1747.4 254.1 1736.6 238.8 1731 221 1741.2z" fill="#ffa845"/><path d="M638.2 1743.7 653.6 1741.3 635.8 1734.9 620.4 1736.8z" fill="#ff9821"/><path d="M269.6 1742.9 287.3 1732.8 271.8 1727.1 254.1 1736.6z" fill="#ff9943"/><path d="M604.7 1739.8 620.4 1736.8 602.8 1730.4 587.1 1732.9z" fill="#ff8924"/><path d="M303 1739.1 320.5 1729.8 304.8 1724 287.3 1732.8z" fill="#ff8c40"/><path d="M184.9 1765.6 203 1752.7 188 1746.5 169.8 1758.8z" fill="#ffd24d"/><path d="M723.2 1761.6 738 1760 719.7 1752.8 704.8 1753.8z" fill="#ffcb1d"/><path d="M571.2 1736.6 587.1 1732.9 569.8 1726.7 553.9 1729.9z" fill="#ff7d27"/><path d="M336.4 1736.1 353.8 1727.5 337.9 1721.7 320.5 1729.8z" fill="#ff813d"/><path d="M537.7 1734.3 553.9 1729.9 536.7 1723.7 520.5 1727.5z" fill="#ff752a"/><path d="M369.9 1733.9 387.1 1726 371 1720.1 353.8 1727.5z" fill="#ff783a"/><path d="M218.2 1759.5 236.2 1747.4 221 1741.2 203 1752.7z" fill="#ffc04b"/><path d="M689.7 1756 704.8 1753.8 686.7 1746.7 671.5 1748.4z" fill="#ffb520"/><path d="M504.2 1732.7 520.5 1727.5 503.6 1721.4 487.2 1726z" fill="#ff702d"/><path d="M403.5 1732.4 420.5 1725.2 404.1 1719.3 387.1 1726z" fill="#ff7237"/><path d="M470.6 1731.8 487.2 1726 470.4 1720 453.8 1725.2z" fill="#ff6e30"/><path d="M437 1731.7 453.8 1725.2 437.3 1719.3 420.5 1725.2z" fill="#ff6e33"/><path d="M251.7 1754.3 269.6 1742.9 254.1 1736.6 236.2 1747.4z" fill="#ffaf48"/><path d="M656.1 1751.3 671.5 1748.4 653.6 1741.3 638.2 1743.7z" fill="#ffa223"/><path d="M285.2 1749.8 303 1739.1 287.3 1732.8 269.6 1742.9z" fill="#ffa045"/><path d="M622.5 1747.3 638.2 1743.7 620.4 1736.8 604.7 1739.8z" fill="#ff9326"/><path d="M318.9 1746.1 336.4 1736.1 320.5 1729.8 303 1739.1z" fill="#ff9342"/><path d="M588.8 1744.1 604.7 1739.8 587.1 1732.9 571.2 1736.6z" fill="#ff8729"/><path d="M200.1 1773 218.2 1759.5 203 1752.7 184.9 1765.6z" fill="#ffd950"/><path d="M708.1 1764.3 723.2 1761.6 704.8 1753.8 689.7 1756z" fill="#ffc121"/><path d="M352.5 1743.1 369.9 1733.9 353.8 1727.5 336.4 1736.1z" fill="#ff883f"/><path d="M555.1 1741.6 571.2 1736.6 553.9 1729.9 537.7 1734.3z" fill="#ff7e2c"/><path d="M386.3 1740.9 403.5 1732.4 387.1 1726 369.9 1733.9z" fill="#ff803c"/><path d="M521.3 1739.9 537.7 1734.3 520.5 1727.5 504.2 1732.7z" fill="#ff792f"/><path d="M420 1739.5 437 1731.7 420.5 1725.2 403.5 1732.4z" fill="#ff7a39"/><path d="M487.6 1739 504.2 1732.7 487.2 1726 470.6 1731.8z" fill="#ff7732"/><path d="M453.8 1738.9 470.6 1731.8 453.8 1725.2 437 1731.7z" fill="#ff7736"/><path d="M233.7 1767 251.7 1754.3 236.2 1747.4 218.2 1759.5z" fill="#ffc74d"/><path d="M674.3 1759.5 689.7 1756 671.5 1748.4 656.1 1751.3z" fill="#ffae24"/><path d="M267.4 1761.8 285.2 1749.8 269.6 1742.9 251.7 1754.3z" fill="#ffb74a"/><path d="M640.5 1755.4 656.1 1751.3 638.2 1743.7 622.5 1747.3z" fill="#ff9f28"/><path d="M301.1 1757.3 318.9 1746.1 303 1739.1 285.2 1749.8z" fill="#ffa848"/><path d="M606.6 1752.1 622.5 1747.3 604.7 1739.8 588.8 1744.1z" fill="#ff932b"/><path d="M335 1753.7 352.5 1743.1 336.4 1736.1 318.9 1746.1z" fill="#ff9c45"/><path d="M572.7 1749.6 588.8 1744.1 571.2 1736.6 555.1 1741.6z" fill="#ff8a2e"/><path d="M215.5 1781 233.7 1767 218.2 1759.5 200.1 1773z" fill="#ffe252"/><path d="M368.9 1750.7 386.3 1740.9 369.9 1733.9 352.5 1743.1z" fill="#ff9242"/><path d="M538.7 1747.8 555.1 1741.6 537.7 1734.3 521.3 1739.9z" fill="#ff8431"/><path d="M402.8 1748.6 420 1739.5 403.5 1732.4 386.3 1740.9z" fill="#ff8a3e"/><path d="M504.7 1746.9 521.3 1739.9 504.2 1732.7 487.6 1739z" fill="#ff8135"/><path d="M692.7 1768.4 708.1 1764.3 689.7 1756 674.3 1759.5z" fill="#ffbc26"/><path d="M436.8 1747.3 453.8 1738.9 437 1731.7 420 1739.5z" fill="#ff853b"/><path d="M470.8 1746.7 487.6 1739 470.6 1731.8 453.8 1738.9z" fill="#ff8238"/><path d="M249.4 1775.1 267.4 1761.8 251.7 1754.3 233.7 1767z" fill="#ffd050"/><path d="M658.7 1764.2 674.3 1759.5 656.1 1751.3 640.5 1755.4z" fill="#ffac2a"/><path d="M283.3 1769.9 301.1 1757.3 285.2 1749.8 267.4 1761.8z" fill="#ffc04d"/><path d="M624.6 1760.8 640.5 1755.4 622.5 1747.3 606.6 1752.1z" fill="#ffa02d"/><path d="M317.3 1765.5 335 1753.7 318.9 1746.1 301.1 1757.3z" fill="#ffb34a"/><path d="M590.5 1758.2 606.6 1752.1 588.8 1744.1 572.7 1749.6z" fill="#ff9730"/><path d="M351.3 1761.9 368.9 1750.7 352.5 1743.1 335 1753.7z" fill="#ffa747"/><path d="M556.3 1756.4 572.7 1749.6 555.1 1741.6 538.7 1747.8z" fill="#ff9134"/><path d="M231.2 1789.7 249.4 1775.1 233.7 1767 215.5 1781z" fill="#ffec55"/><path d="M385.4 1759 402.8 1748.6 386.3 1740.9 368.9 1750.7z" fill="#ff9d44"/><path d="M522.1 1755.4 538.7 1747.8 521.3 1739.9 504.7 1746.9z" fill="#ff8e37"/><path d="M419.6 1756.9 436.8 1747.3 420 1739.5 402.8 1748.6z" fill="#ff9541"/><path d="M487.9 1755.1 504.7 1746.9 487.6 1739 470.8 1746.7z" fill="#ff8e3a"/><path d="M453.7 1755.6 470.8 1746.7 453.8 1738.9 436.8 1747.3z" fill="#ff903e"/><path d="M677.1 1773.6 692.7 1768.4 674.3 1759.5 658.7 1764.2z" fill="#ffbc2c"/><path d="M265.2 1783.8 283.3 1769.9 267.4 1761.8 249.4 1775.1z" fill="#ffdb52"/><path d="M642.8 1770.2 658.7 1764.2 640.5 1755.4 624.6 1760.8z" fill="#ffaf2f"/><path d="M299.4 1778.7 317.3 1765.5 301.1 1757.3 283.3 1769.9z" fill="#ffcb50"/><path d="M608.5 1767.5 624.6 1760.8 606.6 1752.1 590.5 1758.2z" fill="#ffa633"/><path d="M333.6 1774.3 351.3 1761.9 335 1753.7 317.3 1765.5z" fill="#ffbe4d"/><path d="M574.1 1765.6 590.5 1758.2 572.7 1749.6 556.3 1756.4z" fill="#ffa036"/><path d="M367.9 1770.7 385.4 1759 368.9 1750.7 351.3 1761.9z" fill="#ffb34a"/><path d="M539.7 1764.5 556.3 1756.4 538.7 1747.8 522.1 1755.4z" fill="#ff9c3a"/><path d="M402.2 1767.9 419.6 1756.9 402.8 1748.6 385.4 1759z" fill="#ffaa47"/><path d="M247.1 1799.1 265.2 1783.8 249.4 1775.1 231.2 1789.7z" fill="#fff758"/><path d="M505.3 1764.2 522.1 1755.4 504.7 1746.9 487.9 1755.1z" fill="#ff9c3d"/><path d="M436.5 1765.9 453.7 1755.6 436.8 1747.3 419.6 1756.9z" fill="#ffa344"/><path d="M470.9 1764.6 487.9 1755.1 470.8 1746.7 453.7 1755.6z" fill="#ff9e40"/><path d="M281.3 1793.2 299.4 1778.7 283.3 1769.9 265.2 1783.8z" fill="#ffe755"/><path d="M661.2 1780.2 677.1 1773.6 658.7 1764.2 642.8 1770.2z" fill="#ffc031"/><path d="M315.7 1788.1 333.6 1774.3 317.3 1765.5 299.4 1778.7z" fill="#ffd853"/><path d="M626.7 1777.4 642.8 1770.2 624.6 1760.8 608.5 1767.5z" fill="#ffb635"/><path d="M350.1 1783.8 367.9 1770.7 351.3 1761.9 333.6 1774.3z" fill="#ffcb50"/><path d="M592.1 1775.5 608.5 1767.5 590.5 1758.2 574.1 1765.6z" fill="#ffb039"/><path d="M384.6 1780.2 402.2 1767.9 385.4 1759 367.9 1770.7z" fill="#ffc04d"/><path d="M557.5 1774.3 574.1 1765.6 556.3 1756.4 539.7 1764.5z" fill="#ffac3c"/><path d="M419.1 1777.5 436.5 1765.9 419.6 1756.9 402.2 1767.9z" fill="#ffb84a"/><path d="M522.9 1773.9 539.7 1764.5 522.1 1755.4 505.3 1764.2z" fill="#ffab40"/><path d="M453.7 1775.5 470.9 1764.6 453.7 1755.6 436.5 1765.9z" fill="#ffb146"/><path d="M488.3 1774.3 505.3 1764.2 487.9 1755.1 470.9 1764.6z" fill="#ffad43"/><path d="M263.1 1809.1 281.3 1793.2 265.2 1783.8 247.1 1799.1z" fill="#fbff5a"/><path d="M297.6 1803.3 315.7 1788.1 299.4 1778.7 281.3 1793.2z" fill="#fff458"/><path d="M645.1 1788.1 661.2 1780.2 642.8 1770.2 626.7 1777.4z" fill="#ffc838"/><path d="M332.2 1798.2 350.1 1783.8 333.6 1774.3 315.7 1788.1z" fill="#ffe655"/><path d="M610.3 1786 626.7 1777.4 608.5 1767.5 592.1 1775.5z" fill="#ffc23b"/><path d="M366.8 1793.9 384.6 1780.2 367.9 1770.7 350.1 1783.8z" fill="#ffd953"/><path d="M575.5 1784.8 592.1 1775.5 574.1 1765.6 557.5 1774.3z" fill="#ffbd3f"/><path d="M401.6 1790.4 419.1 1777.5 402.2 1767.9 384.6 1780.2z" fill="#ffcf50"/><path d="M540.7 1784.3 557.5 1774.3 539.7 1764.5 522.9 1773.9z" fill="#ffbc42"/><path d="M436.3 1787.7 453.7 1775.5 436.5 1765.9 419.1 1777.5z" fill="#ffc74c"/><path d="M505.9 1784.7 522.9 1773.9 505.3 1764.2 488.3 1774.3z" fill="#ffbd46"/><path d="M471.1 1785.8 488.3 1774.3 470.9 1764.6 453.7 1775.5z" fill="#ffc149"/><path d="M279.4 1819.8 297.6 1803.3 281.3 1793.2 263.1 1809.1z" fill="#edff5d"/><path d="M314.1 1814 332.2 1798.2 315.7 1788.1 297.6 1803.3z" fill="#fcff5b"/><path d="M628.7 1797.2 645.1 1788.1 626.7 1777.4 610.3 1786z" fill="#ffd53e"/><path d="M348.9 1809 366.8 1793.9 350.1 1783.8 332.2 1798.2z" fill="#fff458"/><path d="M593.7 1795.9 610.3 1786 592.1 1775.5 575.5 1784.8z" fill="#ffd042"/><path d="M383.8 1804.7 401.6 1790.4 384.6 1780.2 366.8 1793.9z" fill="#ffe955"/><path d="M558.7 1795.4 575.5 1784.8 557.5 1774.3 540.7 1784.3z" fill="#ffce45"/><path d="M418.7 1801.3 436.3 1787.7 419.1 1777.5 401.6 1790.4z" fill="#ffdf52"/><path d="M523.7 1795.7 540.7 1784.3 522.9 1773.9 505.9 1784.7z" fill="#ffcf49"/><path d="M453.7 1798.6 471.1 1785.8 453.7 1775.5 436.3 1787.7z" fill="#ffd84f"/><path d="M488.7 1796.8 505.9 1784.7 488.3 1774.3 471.1 1785.8z" fill="#ffd24c"/><path d="M295.9 1831.2 314.1 1814 297.6 1803.3 279.4 1819.8z" fill="#deff60"/><path d="M330.8 1825.4 348.9 1809 332.2 1798.2 314.1 1814z" fill="#edff5e"/><path d="M612.1 1807.8 628.7 1797.2 610.3 1786 593.7 1795.9z" fill="#ffe444"/><path d="M365.9 1820.4 383.8 1804.7 366.8 1793.9 348.9 1809z" fill="#faff5b"/><path d="M576.9 1807.2 593.7 1795.9 575.5 1784.8 558.7 1795.4z" fill="#ffe248"/><path d="M400.9 1816.2 418.7 1801.3 401.6 1790.4 383.8 1804.7z" fill="#fff958"/><path d="M541.7 1807.4 558.7 1795.4 540.7 1784.3 523.7 1795.7z" fill="#ffe24b"/><path d="M436.1 1812.8 453.7 1798.6 436.3 1787.7 418.7 1801.3z" fill="#fff055"/><path d="M506.5 1808.4 523.7 1795.7 505.9 1784.7 488.7 1796.8z" fill="#ffe44f"/><path d="M471.3 1810.2 488.7 1796.8 471.1 1785.8 453.7 1798.6z" fill="#ffe952"/><path d="M312.6 1843.2 330.8 1825.4 314.1 1814 295.9 1831.2z" fill="#cfff63"/><path d="M347.8 1837.5 365.9 1820.4 348.9 1809 330.8 1825.4z" fill="#ddff60"/><path d="M383 1832.6 400.9 1816.2 383.8 1804.7 365.9 1820.4z" fill="#e9ff5e"/><path d="M595.3 1819.7 612.1 1807.8 593.7 1795.9 576.9 1807.2z" fill="#fff64b"/><path d="M418.3 1828.4 436.1 1812.8 418.7 1801.3 400.9 1816.2z" fill="#f3ff5b"/><path d="M559.9 1819.8 576.9 1807.2 558.7 1795.4 541.7 1807.4z" fill="#fff64e"/><path d="M453.7 1825.1 471.3 1810.2 453.7 1798.6 436.1 1812.8z" fill="#fcff58"/><path d="M524.5 1820.8 541.7 1807.4 523.7 1795.7 506.5 1808.4z" fill="#fff852"/><path d="M489 1822.5 506.5 1808.4 488.7 1796.8 471.3 1810.2z" fill="#fffc55"/><path d="M329.5 1856 347.8 1837.5 330.8 1825.4 312.6 1843.2z" fill="#beff65"/><path d="M364.9 1850.3 383 1832.6 365.9 1820.4 347.8 1837.5z" fill="#ccff63"/><path d="M400.3 1845.4 418.3 1828.4 400.9 1816.2 383 1832.6z" fill="#d7ff60"/><path d="M578.3 1832.9 595.3 1819.7 576.9 1807.2 559.9 1819.8z" fill="#f3ff51"/><path d="M435.9 1841.3 453.7 1825.1 436.1 1812.8 418.3 1828.4z" fill="#e1ff5e"/><path d="M542.7 1833.8 559.9 1819.8 541.7 1807.4 524.5 1820.8z" fill="#f2ff55"/><path d="M471.4 1838 489 1822.5 471.3 1810.2 453.7 1825.1z" fill="#e8ff5b"/><path d="M507 1835.5 524.5 1820.8 506.5 1808.4 489 1822.5z" fill="#eeff58"/><path d="M346.6 1869.5 364.9 1850.3 347.8 1837.5 329.5 1856z" fill="#adff68"/><path d="M382.2 1863.8 400.3 1845.4 383 1832.6 364.9 1850.3z" fill="#baff66"/><path d="M417.9 1859 435.9 1841.3 418.3 1828.4 400.3 1845.4z" fill="#c4ff63"/><path d="M561.1 1847.6 578.3 1832.9 559.9 1819.8 542.7 1833.8z" fill="#dcff57"/><path d="M453.6 1854.9 471.4 1838 453.7 1825.1 435.9 1841.3z" fill="#cdff61"/><path d="M525.2 1849.3 542.7 1833.8 524.5 1820.8 507 1835.5z" fill="#d9ff5b"/><path d="M489.4 1851.7 507 1835.5 489 1822.5 471.4 1838z" fill="#d4ff5e"/><path d="M363.9 1883.6 382.2 1863.8 364.9 1850.3 346.6 1869.5z" fill="#9bff6b"/><path d="M399.8 1878.1 417.9 1859 400.3 1845.4 382.2 1863.8z" fill="#a7ff68"/><path d="M435.6 1873.3 453.6 1854.9 435.9 1841.3 417.9 1859z" fill="#b1ff66"/><path d="M471.6 1869.3 489.4 1851.7 471.4 1838 453.6 1854.9z" fill="#b9ff63"/><path d="M543.6 1863.7 561.1 1847.6 542.7 1833.8 525.2 1849.3z" fill="#c4ff5d"/><path d="M507.6 1866.1 525.2 1849.3 507 1835.5 489.4 1851.7z" fill="#c0ff60"/><path d="M381.5 1898.5 399.8 1878.1 382.2 1863.8 363.9 1883.6z" fill="#88ff6d"/><path d="M417.5 1893 435.6 1873.3 417.9 1859 399.8 1878.1z" fill="#93ff6b"/><path d="M453.6 1888.3 471.6 1869.3 453.6 1854.9 435.6 1873.3z" fill="#9dff68"/><path d="M489.8 1884.3 507.6 1866.1 489.4 1851.7 471.6 1869.3z" fill="#a4ff66"/><path d="M526 1881.2 543.6 1863.7 525.2 1849.3 507.6 1866.1z" fill="#aaff63"/><path d="M399.2 1914.2 417.5 1893 399.8 1878.1 381.5 1898.5z" fill="#74ff70"/><path d="M435.4 1908.7 453.6 1888.3 435.6 1873.3 417.5 1893z" fill="#7fff6d"/><path d="M471.7 1904 489.8 1884.3 471.6 1869.3 453.6 1888.3z" fill="#88ff6b"/><path d="M508.1 1900.1 526 1881.2 507.6 1866.1 489.8 1884.3z" fill="#8fff69"/><path d="M417.1 1930.6 435.4 1908.7 417.5 1893 399.2 1914.2z" fill="#72ff84"/><path d="M453.6 1925.1 471.7 1904 453.6 1888.3 435.4 1908.7z" fill="#70ff76"/><path d="M490.1 1920.5 508.1 1900.1 489.8 1884.3 471.7 1904z" fill="#72ff6e"/><path d="M435.2 1947.7 453.6 1925.1 435.4 1908.7 417.1 1930.6z" fill="#74ff9d"/><path d="M471.9 1942.3 490.1 1920.5 471.7 1904 453.6 1925.1z" fill="#72ff90"/><path d="M453.5 1965.6 471.9 1942.3 453.6 1925.1 435.2 1947.7z" fill="#76ffb7"/></g>
<g fill="#000"><circle cx="136.7" cy="1941.1" r="2.8"/><circle cx="133.5" cy="1880.5" r="2.8"/><circle cx="130.3" cy="1819.9" r="2.8"/><circle cx="127" cy="1759.3" r="2.8"/><circle cx="123.8" cy="1698.6" r="2.8"/><circle cx="120.6" cy="1638" r="2.8"/><circle cx="141.7" cy="2035.4" r="2.8"/><circle cx="766.9" cy="2035.4" r="2.8"/><circle cx="219.6" cy="2070.2" r="2.8"/><circle cx="688.5" cy="2070.2" r="2.8"/><circle cx="297.6" cy="2104.9" r="2.8"/><circle cx="610.2" cy="2104.9" r="2.8"/><circle cx="375.6" cy="2139.7" r="2.8"/><circle cx="531.9" cy="2139.7" r="2.8"/><circle cx="453.5" cy="2174.5" r="2.8"/></g>
<path d="M125.5 1739.3 126 1742" stroke="#111" stroke-width="1.3"/>
<circle cx="125.5" cy="1739.3" r="6.4" fill="#c00000" stroke="#500" stroke-width="1.1"/>
<path d="M453.8 1978.6 453.5 1965.6" stroke="#111" stroke-width="1.3"/>
<circle cx="453.8" cy="1978.6" r="6.4" fill="#f7c6c6" stroke="#333" stroke-width="1.1"/>
<path d="M780.5 1768.8 781 1762.4" stroke="#111" stroke-width="1.3"/>
<circle cx="780.5" cy="1768.8" r="6.4" fill="#f7c6c6" stroke="#333" stroke-width="1.1"/>
<path d="M454 1700 453.9 1714.5" stroke="#111" stroke-width="1.3"/>
<circle cx="454" cy="1700" r="6.4" fill="#c00000" stroke="#500" stroke-width="1.1"/>
<g font-family="DejaVu Sans Condensed, DejaVu Sans, sans-serif" font-size="22" fill="#1a1a1a"><text x="122.7" y="1933.1" text-anchor="end">50</text><text x="119.5" y="1872.5" text-anchor="end">60</text><text x="116.3" y="1811.9" text-anchor="end">70</text><text x="113" y="1751.3" text-anchor="end">80</text><text x="109.8" y="1690.6" text-anchor="end">90</text><text x="106.6" y="1630" text-anchor="end">100</text><text x="127.7" y="2058.4" text-anchor="end">1</text><text x="780.9" y="2058.4">1</text><text x="205.6" y="2093.2" text-anchor="end">0.5</text><text x="702.5" y="2093.2">0.5</text><text x="283.6" y="2127.9" text-anchor="end">0</text><text x="624.2" y="2127.9">0</text><text x="361.6" y="2162.7" text-anchor="end">-0.5</text><text x="545.9" y="2162.7">-0.5</text><text x="439.5" y="2197.5" text-anchor="end">-1</text><text x="467.5" y="2197.5">-1</text></g>
<g font-family="Liberation Serif, serif" font-size="25" fill="#111" lengthAdjust="spacing"><text x="94.3" y="2170.4" textLength="166.6">D: Contact time</text><text x="657.3" y="2162.8" textLength="162.1">B: Temperature</text></g>
<text transform="translate(63.2 1796.7) rotate(-90)" x="-110" y="0" textLength="219.9" lengthAdjust="spacingAndGlyphs" font-family="Liberation Serif, serif" font-size="26.5" fill="#141a30">Removal efficiency, %</text>
<rect x="773.8" y="1580.3" width="65.4" height="74.3" rx="11" fill="#fff" stroke="#000" stroke-width="2.8"/>
<text transform="translate(806.4 1628.7) scale(0.93 1)" text-anchor="middle" font-family="Liberation Sans, sans-serif" font-size="44.7" fill="#000">e</text>
<path d="M1054.2 1926.7 1042.8 1631.1M1133.6 1901.7 1126 1613.5M1213 1876.7 1209.3 1596M1292.3 1936.7 1292.6 1578.5M1371.9 1876.7 1376 1595.8M1451.4 1901.6 1459.3 1613.2M1530.9 1926.5 1542.7 1630.5M1605.6 2045.9 1626.1 1647.8M979.5 2045.9 959.5 1648.6M974.8 1951.7 1292.4 1851.7M1292.4 1851.7 1610.5 1951.5M971.7 1891 1292.4 1797.1M1292.4 1797.1 1613.6 1890.7M968.7 1830.4 1292.5 1742.4M1292.5 1742.4 1616.7 1830M965.6 1769.8 1292.5 1687.8M1292.5 1687.8 1619.8 1769.3M962.6 1709.2 1292.6 1633.1M1292.6 1633.1 1623 1708.5M959.5 1648.6 1292.6 1578.5M1292.6 1578.5 1626.1 1647.8" stroke="#111" stroke-width="1.4" fill="none"/>
<path d="M979.5 2045.9 1292.3 2185.1 1605.6 2045.9 1292.3 1936.7z" fill="#5f5f5f"/>
<path d="M1312.6 2176.1 1309 2176.2 1305.3 2176.2 1301.7 2176.2 1298.2 2176.2 1294.7 2176.2 1291.2 2176.2 1287.8 2176.1 1284.3 2176.1 1281 2176 1277.6 2175.9 1274.3 2175.8 1271.1 2175.7" stroke="#b9ff00" stroke-width="3" fill="none"/>
<path d="M1568.9 2033 1569.7 2034.2 1570.3 2035.3 1571 2036.4 1571.6 2037.4 1572.2 2038.5 1573 2039.9 1573.7 2041.2 1574.3 2042.5 1574.9 2043.9 1575.5 2045.2 1576 2046.4 1576.4 2047.6 1576.9 2048.8 1577.3 2050 1577.7 2051.2 1578 2052.5 1578.3 2053.7 1578.6 2055 1578.9 2056.3 1579.1 2057.6 1579.1 2057.6" stroke="#b9ff00" stroke-width="3" fill="none"/>
<path d="M987.5 2049.4 987.2 2047.9 986.9 2046.6 986.7 2045.5 986.6 2044.5 986.4 2043.5" stroke="#edff00" stroke-width="3" fill="none"/>
<path d="M1355.3 2157.1 1351.7 2157.4 1348.8 2157.7 1345.8 2157.9 1342.5 2158.1 1338.4 2158.4 1334.4 2158.7 1330.7 2158.9 1327.6 2159 1324.5 2159.2 1321.3 2159.3 1318.1 2159.4 1314.8 2159.5 1311.3 2159.6 1307.6 2159.7 1304 2159.8 1300.5 2159.8 1296.9 2159.8 1293.4 2159.8 1290 2159.8 1286.6 2159.8 1283.2 2159.7 1279.8 2159.7 1276.5 2159.6 1273 2159.5 1269.2 2159.4 1265.4 2159.2 1261.5 2159.1 1257.6 2158.9 1254.3 2158.7 1251.2 2158.5 1248.2 2158.3 1245.1 2158.1 1241.3 2157.8 1237.1 2157.5 1233.4 2157.2 1230.5 2156.9 1228.5 2156.7" stroke="#edff00" stroke-width="3" fill="none"/>
<path d="M1279.8 1941.1 1283 1941.3 1286.5 1941.6 1289.2 1941.8 1291.5 1941.9 1293.8 1942.1 1297.3 1942.4 1300.6 1942.7 1302.8 1942.9 1305 1943.1 1308.8 1943.5 1311.6 1943.8 1312.8 1943.9" stroke="#edff00" stroke-width="3" fill="none"/>
<path d="M1522.6 2016.9 1524.1 2018.4 1525 2019.3 1525.9 2020.2 1527.4 2021.8 1528.5 2022.9 1529.3 2023.9 1530.2 2024.9 1531.5 2026.4 1532.5 2027.7 1533.2 2028.7 1534 2029.7 1534.8 2030.9 1535.8 2032.3 1536.7 2033.7 1537.4 2034.8 1538 2035.8 1538.6 2036.9 1539.2 2038 1539.9 2039.2 1540.5 2040.5 1541.1 2041.9 1541.7 2043.2 1542.2 2044.5 1542.7 2045.8 1543.1 2047 1543.5 2048.3 1543.9 2049.5 1544.2 2050.7 1544.5 2052 1544.7 2053.2 1544.9 2054.4 1545.1 2055.6 1545.2 2056.8 1545.3 2058 1545.4 2059.1 1545.4 2060.3 1545.4 2061.5 1545.4 2062.7 1545.3 2064.1 1545.2 2065.6 1545 2067.1 1544.9 2068.2 1544.7 2069.3 1544.4 2070.4 1544.1 2071.7 1543.7 2073.4 1543.7 2073.4" stroke="#edff00" stroke-width="3" fill="none"/>
<path d="M1040.7 2073.1 1039.5 2071.9 1038.4 2070.7 1037.1 2069.3 1036.3 2068.3 1034.9 2066.6 1034.2 2065.7 1032.9 2064 1032.2 2063 1031.4 2061.9 1030.3 2060.2 1029.8 2059.3 1029.1 2058.1 1028.2 2056.4 1027.7 2055.5 1027.2 2054.5 1026.4 2052.8 1026 2051.6 1025.6 2050.6 1025.2 2049.5 1024.7 2047.9 1024.4 2046.6 1024.1 2045.6 1023.9 2044.5 1023.7 2043.3 1023.4 2041.9 1023.3 2040.4 1023.2 2039.3 1023.2 2038.2 1023.1 2037.1 1023.1 2036 1023.2 2034.9 1023.3 2033.7 1023.4 2032.5 1023.6 2031.2 1023.7 2030.4" stroke="#ffdd00" stroke-width="3" fill="none"/>
<path d="M1447.4 2116.2 1444.8 2117.2 1441.4 2118.5 1437.9 2119.8 1434.3 2121.1 1430.6 2122.3 1428.8 2122.9 1425 2124.1 1421.1 2125.2 1418.7 2125.9 1415.1 2126.9 1411 2128 1408.9 2128.5 1404.7 2129.5 1402.5 2130 1398.1 2131 1395.9 2131.5 1391.4 2132.4 1389.1 2132.9 1384.4 2133.8 1382.1 2134.2 1378.1 2134.9 1374.8 2135.4 1372.3 2135.8 1367.5 2136.5 1364.7 2136.9 1362.2 2137.2 1357.7 2137.8 1354.2 2138.2 1351.5 2138.5 1348.5 2138.8 1344.1 2139.3 1340.5 2139.6 1337.6 2139.8 1334.8 2140.1 1331.4 2140.3 1327.3 2140.6 1323.4 2140.8 1319.9 2141 1316.8 2141.2 1313.7 2141.3 1310.5 2141.4 1307.4 2141.5 1304.1 2141.6 1300.8 2141.7 1297.3 2141.7 1293.8 2141.8 1290.3 2141.8 1286.9 2141.8 1283.5 2141.7 1280.2 2141.7 1276.8 2141.6 1273.2 2141.6 1269.5 2141.4 1265.7 2141.3 1261.9 2141.1 1258.1 2141 1254.9 2140.8 1251.9 2140.6 1248.9 2140.4 1246 2140.2 1242 2139.9 1237.8 2139.6 1234.5 2139.3 1231.7 2139 1228.9 2138.8 1224.7 2138.3 1220.8 2137.9 1218.1 2137.6 1215.4 2137.3 1210.7 2136.7 1207.6 2136.3 1205.1 2135.9 1200.7 2135.3 1197.5 2134.8 1195.1 2134.4 1190.2 2133.6 1187.8 2133.2 1184.6 2132.7 1180.7 2132 1178.4 2131.5 1173.8 2130.6 1171.5 2130.2 1167.1 2129.2 1166.4 2129.1" stroke="#ffdd00" stroke-width="3" fill="none"/>
<path d="M1248.9 1951.9 1251.6 1952 1254.3 1952 1256.9 1952.1 1259.8 1952.2 1263 1952.3 1266.2 1952.4 1269.4 1952.5 1272.2 1952.7 1274.7 1952.8 1277.1 1953 1279.5 1953.1 1283.1 1953.3 1286.6 1953.6 1289 1953.8 1291.3 1954 1294 1954.2 1297.8 1954.6 1300.3 1954.8 1302.6 1955 1305.8 1955.4 1309.1 1955.7 1311.3 1956 1314.3 1956.3 1317.7 1956.7 1319.8 1957 1323.3 1957.5 1326 1957.9 1328.1 1958.2 1332.1 1958.8 1334.1 1959.1 1338 1959.7 1340 1960 1343.9 1960.7 1345.8 1961.1 1349.7 1961.8 1351.6 1962.1 1355.3 1962.8 1357.2 1963.2 1360.9 1964 1363.3 1964.5 1366.3 1965.1 1369.9 1965.9 1371.7 1966.4 1375.2 1967.2 1378.7 1968 1380.8 1968.6 1383.9 1969.4 1387.2 1970.3 1390.6 1971.2 1393.6 1972 1393.6 1972" stroke="#ffdd00" stroke-width="3" fill="none"/>
<path d="M1433.9 1986 1436.5 1987.2 1439.3 1988.4 1442 1989.6 1444.4 1990.7 1446.1 1991.5 1448.7 1992.8 1451.3 1994.1 1452.6 1994.8 1455.1 1996.2 1457.2 1997.3 1458.9 1998.2 1461.3 1999.6 1462.5 2000.3 1464.9 2001.8 1466.1 2002.5 1468.4 2004 1469.6 2004.8 1471.8 2006.2 1472.9 2007 1475.1 2008.6 1476.2 2009.4 1478.3 2011 1479.3 2011.8 1480.8 2012.9 1482.4 2014.2 1483.4 2015.1 1485.1 2016.6 1486.2 2017.6 1487.1 2018.5 1488.7 2020 1489.8 2021.2 1490.7 2022.1 1491.8 2023.3 1493.2 2024.8 1494 2025.8 1494.8 2026.7 1495.8 2028 1496.9 2029.4 1497.7 2030.6 1498.4 2031.6 1499.1 2032.7 1499.8 2033.8 1500.6 2035.2 1501.4 2036.6 1502.1 2037.9 1502.6 2039 1503.1 2040.1 1503.6 2041.2 1504.1 2042.4 1504.5 2043.5 1504.9 2044.7 1505.2 2045.9 1505.6 2047.1 1505.8 2048.3 1506.1 2049.5 1506.3 2050.8 1506.5 2052 1506.6 2053.3 1506.7 2054.6 1506.8 2056 1506.8 2057.4 1506.7 2058.7 1506.6 2060.1 1506.5 2061.2 1506.3 2062.3 1506.1 2063.4 1505.9 2064.6 1505.5 2066.2 1505.1 2067.7 1504.7 2068.8 1504.3 2069.8 1503.9 2071.1 1503.1 2072.8 1502.6 2073.9 1502.1 2074.9 1501.2 2076.4 1500.4 2077.9 1499.8 2078.9 1498.8 2080.4 1497.7 2081.8 1497 2082.7 1495.5 2084.6 1494.7 2085.5 1493.4 2087 1492.2 2088.2 1490.9 2089.5 1489.5 2090.9 1488 2092.3 1486.6 2093.6 1484.5 2095.3 1483.4 2096.1 1481.2 2097.8 1479.8 2098.8 1477.8 2100.3 1475.3 2101.9 1473.2 2103.2 1471.5 2104.2 1468.9 2105.8 1466.2 2107.3 1463.4 2108.8 1460.5 2110.3 1459 2111 1459 2111" stroke="#ffdd00" stroke-width="3" fill="none"/>
<path d="M1201.8 1968.3 1205.6 1968 1208.1 1967.8 1210.6 1967.6 1213 1967.5 1216.4 1967.3 1219.8 1967.1 1223.1 1966.9 1225.7 1966.8 1228.3 1966.7 1231 1966.7 1233.7 1966.6 1236.5 1966.6 1239.3 1966.5 1242.1 1966.5 1245 1966.5 1247.9 1966.5 1250.9 1966.5 1253.9 1966.6 1257 1966.7 1260.1 1966.8 1263.3 1966.9 1266.2 1967 1268.7 1967.1 1271.2 1967.2 1273.7 1967.4 1276.8 1967.6 1280.4 1967.8 1283.4 1968.1 1285.8 1968.2 1288.1 1968.4 1291.7 1968.8 1294.9 1969.1 1297.2 1969.3 1299.8 1969.6 1303.8 1970.1 1306 1970.3 1308.5 1970.7 1312.3 1971.2 1314.4 1971.5 1318.1 1972 1320.6 1972.4 1323.3 1972.8 1326.6 1973.4 1328.8 1973.8 1332.5 1974.4 1334.8 1974.9 1338.2 1975.5 1341.3 1976.2 1343.9 1976.7 1347.5 1977.5 1349.4 1977.9 1353 1978.7 1356.5 1979.6 1358.3 1980 1361.7 1980.9 1365.2 1981.8 1368.5 1982.8 1370.2 1983.3 1373.5 1984.2 1376.8 1985.2 1380 1986.2 1383.1 1987.3 1386.2 1988.4 1389.3 1989.4 1392.3 1990.6 1395.3 1991.7 1398.2 1992.8 1401.1 1994 1404 1995.2 1405.4 1995.8 1408.1 1997.1 1410.8 1998.3 1413.5 1999.6 1414.8 2000.3 1417.4 2001.6 1420 2003 1421.2 2003.7 1423.7 2005.1 1425.7 2006.3 1427.3 2007.2 1429.6 2008.7 1430.8 2009.4 1433 2010.9 1434.1 2011.7 1436.3 2013.3 1437.3 2014 1439 2015.3 1440.4 2016.5 1441.4 2017.3 1443.3 2019 1444.3 2019.8 1445.5 2020.9 1447 2022.4 1447.9 2023.3 1448.8 2024.3 1450.3 2026 1451.1 2027 1451.9 2027.9 1452.8 2029.1 1453.9 2030.6 1454.7 2031.8 1455.4 2032.8 1456 2033.9 1456.6 2035 1457.4 2036.4 1458 2037.8 1458.6 2039.1 1459.1 2040.3 1459.5 2041.4 1459.9 2042.6 1460.2 2043.7 1460.5 2044.9 1460.7 2046.1 1460.9 2047.3 1461.1 2048.6 1461.2 2049.9 1461.2 2051.2 1461.2 2052.5 1461.2 2053.8 1461.1 2055 1460.9 2056.1 1460.8 2057.2 1460.5 2058.3 1460.2 2059.6 1459.7 2061.2 1459.3 2062.6 1458.9 2063.6 1458.4 2064.6 1457.7 2066.1 1456.9 2067.6 1456.3 2068.6 1455.7 2069.7 1454.4 2071.5 1453.7 2072.5 1452.8 2073.7 1451.5 2075.3 1450.6 2076.2 1448.9 2078 1448 2078.9 1446.2 2080.6 1445.2 2081.5 1443.1 2083.2 1442.1 2084 1439.9 2085.7 1438.2 2086.9 1436.4 2088.1 1433.9 2089.7 1431.4 2091.2 1430.1 2092 1427.3 2093.5 1424.5 2095 1421.6 2096.4 1418.6 2097.8 1415.5 2099.2 1412.3 2100.5 1409 2101.8 1405.6 2103.1 1402.1 2104.3 1398.5 2105.5 1396.6 2106.1 1392.9 2107.2 1389 2108.3 1387 2108.9 1383 2109.9 1379.3 2110.8 1376.8 2111.4 1372.5 2112.4 1370.3 2112.9 1365.8 2113.8 1363.5 2114.2 1359.9 2114.9 1356.5 2115.4 1354.2 2115.8 1349.3 2116.6 1346.8 2116.9 1344.2 2117.3 1339.4 2117.9 1336.5 2118.2 1333.9 2118.5 1330.4 2118.9 1326.1 2119.3 1323 2119.6 1320.1 2119.8 1317.3 2120 1313.8 2120.2 1309.9 2120.4 1306.1 2120.6 1302.4 2120.8 1299.2 2120.9 1296.1 2121 1292.9 2121 1289.6 2121.1 1286.3 2121.1 1283 2121.1 1279.5 2121.1 1276.1 2121 1272.5 2121 1269 2120.9 1265.4 2120.8 1262.4 2120.6 1259.3 2120.5 1256.4 2120.3 1253.4 2120.2 1249.9 2119.9 1245.9 2119.6 1242 2119.3 1239.2 2119.1 1236.5 2118.8 1233.2 2118.5 1228.7 2118 1225.8 2117.7 1223.2 2117.4 1219.4 2116.9 1215.6 2116.4 1213.2 2116 1209.4 2115.5 1205.9 2114.9 1203.5 2114.5 1198.8 2113.7 1196.5 2113.3 1192.8 2112.6 1189.7 2112 1186.6 2111.4 1183.1 2110.7 1180 2110 1176.7 2109.2 1172.8 2108.3 1170.5 2107.7 1166.5 2106.7 1164.5 2106.2 1160.6 2105.1 1156.8 2104 1154.9 2103.4 1151.2 2102.3 1147.6 2101.1 1144 2100 1142.2 2099.4 1138.8 2098.1 1135.4 2096.9 1132.1 2095.6 1128.9 2094.3 1125.8 2093 1122.7 2091.7 1119.7 2090.3 1116.7 2089 1113.9 2087.6 1111.1 2086.1 1108.4 2084.7 1106.4 2083.6 1104.5 2082.5 1102 2081 1099.5 2079.5 1097.9 2078.5 1096 2077.2 1093.7 2075.6 1092.3 2074.6 1090.5 2073.2 1088.4 2071.6 1087.4 2070.8 1085.5 2069.1 1084.5 2068.3 1082.7 2066.6 1081.8 2065.8 1080.1 2064 1079.3 2063.2 1077.8 2061.4 1077 2060.5 1076 2059.2 1074.9 2057.8 1074.3 2056.9 1073.2 2055.3 1072.5 2054.1 1071.9 2053.2 1071.1 2051.6 1070.4 2050.3 1070 2049.3 1069.5 2048.3 1068.9 2046.7 1068.5 2045.4 1068.2 2044.3 1067.9 2043.3 1067.6 2042.1 1067.3 2040.7 1067.2 2039.3 1067 2038.1 1067 2037 1067 2035.9 1067 2034.8 1067.1 2033.6 1067.2 2032.5 1067.3 2031.4 1067.5 2030.2 1067.8 2029 1068.1 2027.8 1068.4 2026.6 1068.8 2025.4 1069.3 2024.1 1069.9 2022.9 1070.5 2021.6 1071.2 2020.3 1071.8 2019.2 1072.4 2018.2 1073 2017.2 1073.7 2016.2 1074.8 2014.7 1075.9 2013.3 1076.7 2012.4 1077.3 2011.8" stroke="#ffaa00" stroke-width="3" fill="none"/>
<path d="M1183.5 2082 1180 2080.9 1176.5 2079.7 1173.2 2078.5 1169.9 2077.3 1166.8 2076 1163.7 2074.7 1160.8 2073.4 1157.9 2072 1155.2 2070.6 1152.5 2069.2 1149.9 2067.8 1148.7 2067 1146.3 2065.5 1144 2064 1142.9 2063.2 1140.7 2061.6 1139.4 2060.5 1137.7 2059.2 1136.3 2057.9 1135 2056.7 1133.8 2055.5 1132.5 2054.1 1131.7 2053.2 1130.2 2051.4 1129.6 2050.5 1128.8 2049.5 1127.7 2047.7 1127.2 2046.7 1126.7 2045.8 1126.1 2044.4 1125.4 2042.8 1125.1 2041.8 1124.8 2040.8 1124.6 2039.7 1124.3 2038.5 1124.2 2037.1 1124.1 2035.8 1124.1 2034.5 1124.2 2033.3 1124.3 2032.1 1124.5 2030.9 1124.8 2029.7 1125.1 2028.6 1125.5 2027.5 1126 2026.4 1126.5 2025.4 1127 2024.3 1127.8 2022.9 1128.8 2021.5 1129.6 2020.4 1130.3 2019.5 1131.2 2018.4 1132.7 2016.8 1133.6 2015.9 1134.6 2015 1136.5 2013.4 1137.5 2012.6 1139.3 2011.2 1140.7 2010.2 1142.7 2008.9 1144.2 2008 1146.6 2006.6 1147.9 2005.9 1150.5 2004.5 1153.2 2003.2 1155.2 2002.3 1157.5 2001.3 1160.4 2000.2 1163.5 1999 1166.7 1997.9 1169.9 1996.9 1173.3 1995.8 1175 1995.4 1178.5 1994.4 1182.1 1993.5 1184.5 1993 1187.8 1992.3 1191.6 1991.5 1193.6 1991.1 1197.7 1990.4 1199.7 1990 1203 1989.5 1206.1 1989.1 1208.3 1988.8 1212.3 1988.3 1215.1 1988 1217.5 1987.8 1220.4 1987.5 1224.2 1987.2 1227.2 1987 1229.8 1986.9 1232.3 1986.7 1235 1986.6 1238 1986.5 1241.2 1986.4 1244.3 1986.3 1247.3 1986.3 1250.3 1986.3 1253.1 1986.3 1256 1986.4 1258.7 1986.5 1261.4 1986.5 1264.6 1986.7 1268 1986.8 1271.5 1987 1274.3 1987.2 1276.7 1987.4 1279.2 1987.6 1282.8 1987.9 1286.2 1988.3 1288.5 1988.5 1291.1 1988.8 1295.1 1989.3 1297.3 1989.6 1300.4 1990 1303.6 1990.5 1305.7 1990.9 1309.7 1991.6 1311.7 1991.9 1315.6 1992.7 1317.6 1993.1 1321.4 1993.9 1324.7 1994.6 1326.9 1995.1 1330.5 1996 1334 1997 1335.7 1997.4 1339.1 1998.4 1342.4 1999.4 1345.7 2000.4 1348.9 2001.5 1352 2002.6 1355 2003.7 1358 2004.9 1360.9 2006.1 1363.7 2007.3 1366.5 2008.6 1368.6 2009.6 1370.5 2010.6 1373.1 2011.9 1375.4 2013.2 1376.8 2014 1379.2 2015.4 1380.3 2016.2 1382.6 2017.7 1383.7 2018.5 1385.8 2020 1386.9 2020.8 1388.8 2022.5 1389.8 2023.3 1391.2 2024.6 1392.5 2025.9 1393.4 2026.7 1394.6 2028.1 1395.7 2029.5 1396.5 2030.4 1397.2 2031.4 1398.2 2032.8 1399.1 2034.3 1399.6 2035.4 1400.1 2036.4 1400.6 2037.5 1401 2038.6 1401.5 2039.8 1401.8 2041.1 1402.1 2042.4 1402.3 2043.6 1402.4 2044.9 1402.5 2046 1402.5 2047.2 1402.4 2048.4 1402.2 2049.5 1402 2050.9 1401.6 2052.4 1401.1 2053.8 1400.7 2054.9 1400.3 2055.9 1399.7 2057.1 1398.7 2058.8 1398 2059.8 1397.3 2060.8 1395.9 2062.6 1395 2063.6 1394 2064.7 1392.4 2066.2 1391.5 2067.1 1389.4 2068.8 1388.2 2069.8 1386.1 2071.2 1383.8 2072.8 1382.5 2073.6 1379.9 2075.1 1377.2 2076.5 1374.4 2077.9 1371.4 2079.3 1368.3 2080.6 1365 2081.9 1361.7 2083.1 1358.2 2084.3 1354.5 2085.4 1352 2086.2 1348.8 2087 1344.8 2088 1342.7 2088.5 1338.5 2089.4 1336.4 2089.9 1331.9 2090.7 1329.6 2091.1 1325.1 2091.9 1322.6 2092.2 1320.1 2092.6 1315.4 2093.2 1312.6 2093.5 1309.9 2093.8 1306.7 2094.1 1302.6 2094.4 1299 2094.6 1296.1 2094.8 1293.2 2095 1290.2 2095.1 1287.2 2095.2 1284.1 2095.3 1280.7 2095.3 1277.4 2095.3 1274.1 2095.3 1270.9 2095.3 1267.4 2095.2 1263.9 2095.1 1260.2 2094.9 1256.4 2094.7 1253.2 2094.5 1250.4 2094.3 1247.7 2094.1 1244.4 2093.8 1240.1 2093.3 1237.1 2093 1234.6 2092.7 1230.9 2092.2 1227.2 2091.7 1224.9 2091.4 1220.8 2090.7 1217.9 2090.3 1215.2 2089.8 1211.2 2089 1209.1 2088.6 1204.8 2087.7 1202.4 2087.1 1198.7 2086.3 1194.7 2085.3 1192.8 2084.7 1189 2083.7 1185.3 2082.6 1183.5 2082 1183.5 2082" stroke="#ff7600" stroke-width="3" fill="none"/>
<path d="M979.5 2045.9 1292.3 2185.1 1605.6 2045.9 M979.5 2045.9 1292.3 1936.7 1605.6 2045.9" stroke="#000" stroke-width="2" fill="none"/>
<g stroke="#111" stroke-width="1.25" stroke-linejoin="round"><path d="M1292.5 1690.7 1307.1 1692.5 1292.5 1692.3 1277.9 1690.5z" fill="#5c6405"/><path d="M1307.3 1691.4 1321.8 1693.2 1307.1 1692.5 1292.5 1690.7z" fill="#5e5f05"/><path d="M1277.7 1689.5 1292.5 1690.7 1277.9 1690.5 1263.1 1689.3z" fill="#5e5c05"/><path d="M1322.2 1692.5 1336.8 1694.3 1321.8 1693.2 1307.3 1691.4z" fill="#5b5705"/><path d="M1292.5 1690.1 1307.3 1691.4 1292.5 1690.7 1277.7 1689.5z" fill="#5a5205"/><path d="M1262.7 1688.8 1277.7 1689.5 1263.1 1689.3 1248.1 1688.7z" fill="#594f04"/><path d="M1337.4 1694.1 1351.9 1695.9 1336.8 1694.3 1322.2 1692.5z" fill="#574f05"/><path d="M1307.5 1691.2 1322.2 1692.5 1307.3 1691.4 1292.5 1690.1z" fill="#564a04"/><path d="M1247.6 1688.7 1262.7 1688.8 1248.1 1688.7 1233 1688.6z" fill="#8e7515"/><path d="M1277.5 1689.5 1292.5 1690.1 1277.7 1689.5 1262.7 1688.8z" fill="#544604"/><path d="M1352.7 1696.1 1367.3 1697.9 1351.9 1695.9 1337.4 1694.1z" fill="#8f7f10"/><path d="M1322.6 1692.8 1337.4 1694.1 1322.2 1692.5 1307.5 1691.2z" fill="#917812"/><path d="M1232.2 1689.2 1247.6 1688.7 1233 1688.6 1217.6 1689z" fill="#977417"/><path d="M1292.5 1690.6 1307.5 1691.2 1292.5 1690.1 1277.5 1689.5z" fill="#937413"/><path d="M1262.4 1689.4 1277.5 1689.5 1262.7 1688.8 1247.6 1688.7z" fill="#957315"/><path d="M1368.2 1698.7 1382.8 1700.5 1367.3 1697.9 1352.7 1696.1z" fill="#968110"/><path d="M1337.9 1694.9 1352.7 1696.1 1337.4 1694.1 1322.6 1692.8z" fill="#997912"/><path d="M1216.7 1690.3 1232.2 1689.2 1217.6 1689 1202.1 1690.1z" fill="#a07419"/><path d="M1307.6 1692.1 1322.6 1692.8 1307.5 1691.2 1292.5 1690.6z" fill="#9b7414"/><path d="M1247 1689.8 1262.4 1689.4 1247.6 1688.7 1232.2 1689.2z" fill="#9f7118"/><path d="M1277.3 1690.5 1292.5 1690.6 1277.5 1689.5 1262.4 1689.4z" fill="#9d7116"/><path d="M1383.9 1701.7 1398.4 1703.5 1382.8 1700.5 1368.2 1698.7z" fill="#9d8410"/><path d="M1353.5 1697.4 1368.2 1698.7 1352.7 1696.1 1337.9 1694.9z" fill="#a07a12"/><path d="M1201 1691.9 1216.7 1690.3 1202.1 1690.1 1186.4 1691.8z" fill="#a9741c"/><path d="M1323 1694.2 1337.9 1694.9 1322.6 1692.8 1307.6 1692.1z" fill="#a27414"/><path d="M1231.5 1690.9 1247 1689.8 1232.2 1689.2 1216.7 1690.3z" fill="#a8701a"/><path d="M1292.5 1692.1 1307.6 1692.1 1292.5 1690.6 1277.3 1690.5z" fill="#a57016"/><path d="M1262 1691 1277.3 1690.5 1262.4 1689.4 1247 1689.8z" fill="#a66e18"/><path d="M1399.8 1705.3 1414.3 1707 1398.4 1703.5 1383.9 1701.7z" fill="#a58810"/><path d="M1369.2 1700.5 1383.9 1701.7 1368.2 1698.7 1353.5 1697.4z" fill="#a77d12"/><path d="M1185.1 1694.2 1201 1691.9 1186.4 1691.8 1170.5 1694z" fill="#b3751f"/><path d="M1338.5 1696.8 1353.5 1697.4 1337.9 1694.9 1323 1694.2z" fill="#aa7414"/><path d="M1215.7 1692.6 1231.5 1690.9 1216.7 1690.3 1201 1691.9z" fill="#b26f1d"/><path d="M1307.8 1694.1 1323 1694.2 1307.6 1692.1 1292.5 1692.1z" fill="#ac6f16"/><path d="M1246.4 1692 1262 1691 1247 1689.8 1231.5 1690.9z" fill="#b06c1b"/><path d="M1277.1 1692.6 1292.5 1692.1 1277.3 1690.5 1262 1691z" fill="#ae6c18"/><path d="M1415.9 1709.3 1430.3 1711.1 1414.3 1707 1399.8 1705.3z" fill="#ac8e10"/><path d="M1385.1 1704.1 1399.8 1705.3 1383.9 1701.7 1369.2 1700.5z" fill="#af8012"/><path d="M1169 1697.1 1185.1 1694.2 1170.5 1694 1154.4 1696.9z" fill="#bc7822"/><path d="M1354.3 1699.8 1369.2 1700.5 1353.5 1697.4 1338.5 1696.8z" fill="#b17614"/><path d="M1199.8 1694.9 1215.7 1692.6 1201 1691.9 1185.1 1694.2z" fill="#bb7020"/><path d="M1323.4 1696.7 1338.5 1696.8 1323 1694.2 1307.8 1694.1z" fill="#b46f17"/><path d="M1230.7 1693.7 1246.4 1692 1231.5 1690.9 1215.7 1692.6z" fill="#ba6b1d"/><path d="M1292.5 1694.6 1307.8 1694.1 1292.5 1692.1 1277.1 1692.6z" fill="#b66a19"/><path d="M1261.6 1693.6 1277.1 1692.6 1262 1691 1246.4 1692z" fill="#b8691b"/><path d="M1432.1 1713.9 1446.6 1715.7 1430.3 1711.1 1415.9 1709.3z" fill="#b39410"/><path d="M1401.2 1708.1 1415.9 1709.3 1399.8 1705.3 1385.1 1704.1z" fill="#b68512"/><path d="M1152.7 1700.6 1169 1697.1 1154.4 1696.9 1138.2 1700.4z" fill="#c57c25"/><path d="M1370.2 1703.4 1385.1 1704.1 1369.2 1700.5 1354.3 1699.8z" fill="#b97915"/><path d="M1183.7 1697.8 1199.8 1694.9 1185.1 1694.2 1169 1697.1z" fill="#c57223"/><path d="M1339.1 1699.8 1354.3 1699.8 1338.5 1696.8 1323.4 1696.7z" fill="#bc7017"/><path d="M1214.7 1696 1230.7 1693.7 1215.7 1692.6 1199.8 1694.9z" fill="#c36b20"/><path d="M1308 1697.2 1323.4 1696.7 1307.8 1694.1 1292.5 1694.6z" fill="#be6a19"/><path d="M1245.8 1695.4 1261.6 1693.6 1246.4 1692 1230.7 1693.7z" fill="#c2681e"/><path d="M1276.9 1695.8 1292.5 1694.6 1277.1 1692.6 1261.6 1693.6z" fill="#c0671c"/><path d="M1448.6 1719 1463 1720.7 1446.6 1715.7 1432.1 1713.9z" fill="#ba9d10"/><path d="M1417.5 1712.7 1432.1 1713.9 1415.9 1709.3 1401.2 1708.1z" fill="#bd8b12"/><path d="M1136.2 1704.8 1152.7 1700.6 1138.2 1700.4 1121.7 1704.6z" fill="#cf8228"/><path d="M1386.3 1707.5 1401.2 1708.1 1385.1 1704.1 1370.2 1703.4z" fill="#c17d15"/><path d="M1167.4 1701.4 1183.7 1697.8 1169 1697.1 1152.7 1700.6z" fill="#ce7626"/><path d="M1355.1 1703.4 1370.2 1703.4 1354.3 1699.8 1339.1 1699.8z" fill="#c37217"/><path d="M1198.6 1699 1214.7 1696 1199.8 1694.9 1183.7 1697.8z" fill="#cd6d24"/><path d="M1323.8 1700.3 1339.1 1699.8 1323.4 1696.7 1308 1697.2z" fill="#c66a1a"/><path d="M1229.9 1697.7 1245.8 1695.4 1230.7 1693.7 1214.7 1696z" fill="#cc6721"/><path d="M1292.5 1698.4 1308 1697.2 1292.5 1694.6 1276.9 1695.8z" fill="#c8661c"/><path d="M1261.2 1697.5 1276.9 1695.8 1261.6 1693.6 1245.8 1695.4z" fill="#ca651f"/><path d="M1465.2 1724.7 1479.6 1726.4 1463 1720.7 1448.6 1719z" fill="#c1a710"/><path d="M1433.9 1717.9 1448.6 1719 1432.1 1713.9 1417.5 1712.7z" fill="#c59312"/><path d="M1119.5 1709.6 1136.2 1704.8 1121.7 1704.6 1105.1 1709.4z" fill="#d88a2c"/><path d="M1402.6 1712.2 1417.5 1712.7 1401.2 1708.1 1386.3 1707.5z" fill="#c88315"/><path d="M1150.9 1705.6 1167.4 1701.4 1152.7 1700.6 1136.2 1704.8z" fill="#d87c29"/><path d="M1371.2 1707.5 1386.3 1707.5 1370.2 1703.4 1355.1 1703.4z" fill="#cb7517"/><path d="M1182.3 1702.6 1198.6 1699 1183.7 1697.8 1167.4 1701.4z" fill="#d77127"/><path d="M1339.7 1704 1355.1 1703.4 1339.1 1699.8 1323.8 1700.3z" fill="#ce6c1a"/><path d="M1213.8 1700.7 1229.9 1697.7 1214.7 1696 1198.6 1699z" fill="#d66924"/><path d="M1308.2 1701.5 1323.8 1700.3 1308 1697.2 1292.5 1698.4z" fill="#d0661d"/><path d="M1245.2 1699.8 1261.2 1697.5 1245.8 1695.4 1229.9 1697.7z" fill="#d46422"/><path d="M1276.7 1700.1 1292.5 1698.4 1276.9 1695.8 1261.2 1697.5z" fill="#d2631f"/><path d="M1482 1730.9 1496.3 1732.6 1479.6 1726.4 1465.2 1724.7z" fill="#c8b310"/><path d="M1450.6 1723.6 1465.2 1724.7 1448.6 1719 1433.9 1717.9z" fill="#cc9d13"/><path d="M1102.7 1715.1 1119.5 1709.6 1105.1 1709.4 1088.3 1714.8z" fill="#e1952f"/><path d="M1419.1 1717.3 1433.9 1717.9 1417.5 1712.7 1402.6 1712.2z" fill="#cf8a15"/><path d="M1134.2 1710.4 1150.9 1705.6 1136.2 1704.8 1119.5 1709.6z" fill="#e1842d"/><path d="M1387.5 1712.2 1402.6 1712.2 1386.3 1707.5 1371.2 1707.5z" fill="#d37b18"/><path d="M1165.8 1706.8 1182.3 1702.6 1167.4 1701.4 1150.9 1705.6z" fill="#e0762a"/><path d="M1355.9 1708.1 1371.2 1707.5 1355.1 1703.4 1339.7 1704z" fill="#d66f1a"/><path d="M1197.4 1704.3 1213.8 1700.7 1198.6 1699 1182.3 1702.6z" fill="#df6c28"/><path d="M1499 1737.6 1513.3 1739.3 1496.3 1732.6 1482 1730.9z" fill="#cfc110"/><path d="M1324.2 1705.1 1339.7 1704 1323.8 1700.3 1308.2 1701.5z" fill="#d8671d"/><path d="M1229.1 1702.8 1245.2 1699.8 1229.9 1697.7 1213.8 1700.7z" fill="#de6525"/><path d="M1292.5 1703.3 1308.2 1701.5 1292.5 1698.4 1276.7 1700.1z" fill="#db6320"/><path d="M1260.8 1702.5 1276.7 1700.1 1261.2 1697.5 1245.2 1699.8z" fill="#dd6223"/><path d="M1467.4 1729.8 1482 1730.9 1465.2 1724.7 1450.6 1723.6z" fill="#d3a813"/><path d="M1085.7 1721.3 1102.7 1715.1 1088.3 1714.8 1071.3 1720.9z" fill="#eaa133"/><path d="M1435.7 1723 1450.6 1723.6 1433.9 1717.9 1419.1 1717.3z" fill="#d79315"/><path d="M1117.3 1715.9 1134.2 1710.4 1119.5 1709.6 1102.7 1715.1z" fill="#ea8e31"/><path d="M1404 1717.4 1419.1 1717.3 1402.6 1712.2 1387.5 1712.2z" fill="#da8218"/><path d="M1149.1 1711.7 1165.8 1706.8 1150.9 1705.6 1134.2 1710.4z" fill="#ea7e2e"/><path d="M1516.1 1745 1530.4 1746.6 1513.3 1739.3 1499 1737.6z" fill="#d6d110"/><path d="M1372.2 1712.8 1387.5 1712.2 1371.2 1707.5 1355.9 1708.1z" fill="#dd741b"/><path d="M1180.9 1708.5 1197.4 1704.3 1182.3 1702.6 1165.8 1706.8z" fill="#e9722c"/><path d="M1340.3 1709.3 1355.9 1708.1 1339.7 1704 1324.2 1705.1z" fill="#e06a1d"/><path d="M1212.8 1706.5 1229.1 1702.8 1213.8 1700.7 1197.4 1704.3z" fill="#e86929"/><path d="M1308.4 1707 1324.2 1705.1 1308.2 1701.5 1292.5 1703.3z" fill="#e36420"/><path d="M1244.6 1705.5 1260.8 1702.5 1245.2 1699.8 1229.1 1702.8z" fill="#e76326"/><path d="M1276.5 1705.7 1292.5 1703.3 1276.7 1700.1 1260.8 1702.5z" fill="#e56223"/><path d="M1068.5 1728.2 1085.7 1721.3 1071.3 1720.9 1054.1 1727.7z" fill="#f3b037"/><path d="M1484.4 1736.6 1499 1737.6 1482 1730.9 1467.4 1729.8z" fill="#dab612"/><path d="M1100.3 1722.2 1117.3 1715.9 1102.7 1715.1 1085.7 1721.3z" fill="#f39a35"/><path d="M1452.6 1729.3 1467.4 1729.8 1450.6 1723.6 1435.7 1723z" fill="#de9f15"/><path d="M1533.5 1752.9 1547.7 1754.4 1530.4 1746.6 1516.1 1745z" fill="#d4dc10"/><path d="M1132.2 1717.3 1149.1 1711.7 1134.2 1710.4 1117.3 1715.9z" fill="#f38832"/><path d="M1420.7 1723.1 1435.7 1723 1419.1 1717.3 1404 1717.4z" fill="#e28b18"/><path d="M1164.2 1713.5 1180.9 1708.5 1165.8 1706.8 1149.1 1711.7z" fill="#f3792f"/><path d="M1388.7 1718 1404 1717.4 1387.5 1712.2 1372.2 1712.8z" fill="#e57b1b"/><path d="M1196.2 1710.8 1212.8 1706.5 1197.4 1704.3 1180.9 1708.5z" fill="#f26e2d"/><path d="M1356.7 1714 1372.2 1712.8 1355.9 1708.1 1340.3 1709.3z" fill="#e86e1e"/><path d="M1051.1 1735.7 1068.5 1728.2 1054.1 1727.7 1036.8 1735.2z" fill="#fbc13b"/><path d="M1501.6 1744 1516.1 1745 1499 1737.6 1484.4 1736.6z" fill="#e1c712"/><path d="M1228.3 1709.2 1244.6 1705.5 1229.1 1702.8 1212.8 1706.5z" fill="#f1662a"/><path d="M1324.6 1711.2 1340.3 1709.3 1324.2 1705.1 1308.4 1707z" fill="#eb6621"/><path d="M1260.4 1708.8 1276.5 1705.7 1260.8 1702.5 1244.6 1705.5z" fill="#ef6227"/><path d="M1292.5 1709.4 1308.4 1707 1292.5 1703.3 1276.5 1705.7z" fill="#ed6224"/><path d="M1083.1 1729.1 1100.3 1722.2 1085.7 1721.3 1068.5 1728.2z" fill="#fca939"/><path d="M1469.7 1736.1 1484.4 1736.6 1467.4 1729.8 1452.6 1729.3z" fill="#e5ac15"/><path d="M1551 1761.3 1565.2 1762.8 1547.7 1754.4 1533.5 1752.9z" fill="#cce310"/><path d="M1115.1 1723.5 1132.2 1717.3 1117.3 1715.9 1100.3 1722.2z" fill="#fc9536"/><path d="M1437.6 1729.4 1452.6 1729.3 1435.7 1723 1420.7 1723.1z" fill="#e99618"/><path d="M1147.3 1719.1 1164.2 1713.5 1149.1 1711.7 1132.2 1717.3z" fill="#fc8334"/><path d="M1405.4 1723.8 1420.7 1723.1 1404 1717.4 1388.7 1718z" fill="#ed831b"/><path d="M1033.6 1743.9 1051.1 1735.7 1036.8 1735.2 1019.3 1743.4z" fill="#ffd13e"/><path d="M1519 1751.9 1533.5 1752.9 1516.1 1745 1501.6 1744z" fill="#e8d912"/><path d="M1179.5 1715.8 1196.2 1710.8 1180.9 1708.5 1164.2 1713.5z" fill="#fc7531"/><path d="M1373.2 1719.3 1388.7 1718 1372.2 1712.8 1356.7 1714z" fill="#f0751e"/><path d="M1211.7 1713.6 1228.3 1709.2 1212.8 1706.5 1196.2 1710.8z" fill="#fb6b2e"/><path d="M1340.9 1715.9 1356.7 1714 1340.3 1709.3 1324.6 1711.2z" fill="#f36b21"/><path d="M1244 1712.5 1260.4 1708.8 1244.6 1705.5 1228.3 1709.2z" fill="#fa652b"/><path d="M1308.7 1713.7 1324.6 1711.2 1308.4 1707 1292.5 1709.4z" fill="#f66525"/><path d="M1065.7 1736.7 1083.1 1729.1 1068.5 1728.2 1051.1 1735.7z" fill="#ffb73c"/><path d="M1276.3 1712.5 1292.5 1709.4 1276.5 1705.7 1260.4 1708.8z" fill="#f86328"/><path d="M1486.9 1743.6 1501.6 1744 1484.4 1736.6 1469.7 1736.1z" fill="#ecbd15"/><path d="M1568.7 1770.4 1582.9 1771.8 1565.2 1762.8 1551 1761.3z" fill="#c1e910"/><path d="M1097.9 1730.5 1115.1 1723.5 1100.3 1722.2 1083.1 1729.1z" fill="#ffa039"/><path d="M1454.7 1736.3 1469.7 1736.1 1452.6 1729.3 1437.6 1729.4z" fill="#f0a418"/><path d="M1015.9 1752.9 1033.6 1743.9 1019.3 1743.4 1001.6 1752.3z" fill="#ffe040"/><path d="M1130.2 1725.4 1147.3 1719.1 1132.2 1717.3 1115.1 1723.5z" fill="#ff8c36"/><path d="M1536.6 1760.4 1551 1761.3 1533.5 1752.9 1519 1751.9z" fill="#eeee12"/><path d="M1422.3 1730.2 1437.6 1729.4 1420.7 1723.1 1405.4 1723.8z" fill="#f48e1c"/><path d="M1162.5 1721.4 1179.5 1715.8 1164.2 1713.5 1147.3 1719.1z" fill="#ff7c34"/><path d="M1389.9 1725.1 1405.4 1723.8 1388.7 1718 1373.2 1719.3z" fill="#f87e1f"/><path d="M1048.1 1745 1065.7 1736.7 1051.1 1735.7 1033.6 1743.9z" fill="#ffc43e"/><path d="M1195 1718.6 1211.7 1713.6 1196.2 1710.8 1179.5 1715.8z" fill="#ff7031"/><path d="M1357.5 1721.2 1373.2 1719.3 1356.7 1714 1340.9 1715.9z" fill="#fb7122"/><path d="M1504.3 1751.5 1519 1751.9 1501.6 1744 1486.9 1743.6z" fill="#f3cf15"/><path d="M1586.6 1780 1600.7 1781.4 1582.9 1771.8 1568.7 1770.4z" fill="#b2f00f"/><path d="M1227.5 1716.9 1244 1712.5 1228.3 1709.2 1211.7 1713.6z" fill="#ff682e"/><path d="M1325 1718.5 1340.9 1715.9 1324.6 1711.2 1308.7 1713.7z" fill="#fe6925"/><path d="M1260 1716.3 1276.3 1712.5 1260.4 1708.8 1244 1712.5z" fill="#ff642b"/><path d="M1292.5 1716.8 1308.7 1713.7 1292.5 1709.4 1276.3 1712.5z" fill="#ff6428"/><path d="M1080.4 1738.1 1097.9 1730.5 1083.1 1729.1 1065.7 1736.7z" fill="#ffab3b"/><path d="M1471.9 1743.8 1486.9 1743.6 1469.7 1736.1 1454.7 1736.3z" fill="#f8b419"/><path d="M998 1762.6 1015.9 1752.9 1001.6 1752.3 983.8 1762z" fill="#fff142"/><path d="M1554.3 1769.5 1568.7 1770.4 1551 1761.3 1536.6 1760.4z" fill="#e3f512"/><path d="M1112.9 1732.4 1130.2 1725.4 1115.1 1723.5 1097.9 1730.5z" fill="#ff9639"/><path d="M1439.4 1737.1 1454.7 1736.3 1437.6 1729.4 1422.3 1730.2z" fill="#fc9c1c"/><path d="M1145.4 1727.8 1162.5 1721.4 1147.3 1719.1 1130.2 1725.4z" fill="#ff8436"/><path d="M1030.3 1754 1048.1 1745 1033.6 1743.9 1015.9 1752.9z" fill="#ffd340"/><path d="M1604.7 1790.3 1618.7 1791.6 1600.7 1781.4 1586.6 1780z" fill="#a1f60f"/><path d="M1406.9 1731.6 1422.3 1730.2 1405.4 1723.8 1389.9 1725.1z" fill="#ff881f"/><path d="M1521.9 1760.1 1536.6 1760.4 1519 1751.9 1504.3 1751.5z" fill="#fae515"/><path d="M1178 1724.3 1195 1718.6 1179.5 1715.8 1162.5 1721.4z" fill="#ff7633"/><path d="M1374.3 1727.1 1389.9 1725.1 1373.2 1719.3 1357.5 1721.2z" fill="#ff7822"/><path d="M1210.7 1721.9 1227.5 1716.9 1211.7 1713.6 1195 1718.6z" fill="#ff6c31"/><path d="M1341.6 1723.8 1357.5 1721.2 1340.9 1715.9 1325 1718.5z" fill="#ff6c25"/><path d="M1062.8 1746.5 1080.4 1738.1 1065.7 1736.7 1048.1 1745z" fill="#ffb93e"/><path d="M1243.4 1720.7 1260 1716.3 1244 1712.5 1227.5 1716.9z" fill="#ff652e"/><path d="M1308.9 1721.7 1325 1718.5 1308.7 1713.7 1292.5 1716.8z" fill="#ff6528"/><path d="M979.9 1773 998 1762.6 983.8 1762 965.8 1772.3z" fill="#faff44"/><path d="M1276.1 1720.6 1292.5 1716.8 1276.3 1712.5 1260 1716.3z" fill="#ff632b"/><path d="M1489.4 1751.8 1504.3 1751.5 1486.9 1743.6 1471.9 1743.8z" fill="#ffc619"/><path d="M1572.3 1779.3 1586.6 1780 1568.7 1770.4 1554.3 1769.5z" fill="#d4fb12"/><path d="M1095.4 1740.1 1112.9 1732.4 1097.9 1730.5 1080.4 1738.1z" fill="#ffa23b"/><path d="M1456.7 1744.6 1471.9 1743.8 1454.7 1736.3 1439.4 1737.1z" fill="#ffa91c"/><path d="M1012.4 1763.7 1030.3 1754 1015.9 1752.9 998 1762.6z" fill="#ffe442"/><path d="M1128.1 1734.8 1145.4 1727.8 1130.2 1725.4 1112.9 1732.4z" fill="#ff8e38"/><path d="M1539.7 1769.3 1554.3 1769.5 1536.6 1760.4 1521.9 1760.1z" fill="#fffc15"/><path d="M1424 1738.5 1439.4 1737.1 1422.3 1730.2 1406.9 1731.6z" fill="#ff911f"/><path d="M1160.9 1730.7 1178 1724.3 1162.5 1721.4 1145.4 1727.8z" fill="#ff7e36"/><path d="M1391.2 1733.6 1406.9 1731.6 1389.9 1725.1 1374.3 1727.1z" fill="#ff7f22"/><path d="M1045 1755.6 1062.8 1746.5 1048.1 1745 1030.3 1754z" fill="#ffc840"/><path d="M1193.7 1727.7 1210.7 1721.9 1195 1718.6 1178 1724.3z" fill="#ff7133"/><path d="M1590.4 1789.6 1604.7 1790.3 1586.6 1780 1572.3 1779.3z" fill="#c0ff12"/><path d="M1507 1760.4 1521.9 1760.1 1504.3 1751.5 1489.4 1751.8z" fill="#ffd618"/><path d="M1358.3 1729.8 1374.3 1727.1 1357.5 1721.2 1341.6 1723.8z" fill="#ff7125"/><path d="M1226.6 1725.8 1243.4 1720.7 1227.5 1716.9 1210.7 1721.9z" fill="#ff6930"/><path d="M1325.4 1727.1 1341.6 1723.8 1325 1718.5 1308.9 1721.7z" fill="#ff6828"/><path d="M1259.6 1725.1 1276.1 1720.6 1260 1716.3 1243.4 1720.7z" fill="#ff642d"/><path d="M1292.5 1725.5 1308.9 1721.7 1292.5 1716.8 1276.1 1720.6z" fill="#ff642a"/><path d="M1077.8 1748.5 1095.4 1740.1 1080.4 1738.1 1062.8 1746.5z" fill="#ffaf3d"/><path d="M1474.2 1752.7 1489.4 1751.8 1471.9 1743.8 1456.7 1744.6z" fill="#ffb71b"/><path d="M994.3 1774.2 1012.4 1763.7 998 1762.6 979.9 1773z" fill="#fff744"/><path d="M1557.7 1779.1 1572.3 1779.3 1554.3 1769.5 1539.7 1769.3z" fill="#eeff15"/><path d="M1110.6 1742.6 1128.1 1734.8 1112.9 1732.4 1095.4 1740.1z" fill="#ff9a3b"/><path d="M1441.3 1746.1 1456.7 1744.6 1439.4 1737.1 1424 1738.5z" fill="#ff9d1e"/><path d="M1027 1765.4 1045 1755.6 1030.3 1754 1012.4 1763.7z" fill="#ffd942"/><path d="M1143.6 1737.8 1160.9 1730.7 1145.4 1727.8 1128.1 1734.8z" fill="#ff8838"/><path d="M1408.3 1740.6 1424 1738.5 1406.9 1731.6 1391.2 1733.6z" fill="#ff8821"/><path d="M1524.9 1769.7 1539.7 1769.3 1521.9 1760.1 1507 1760.4z" fill="#ffe818"/><path d="M1176.6 1734.2 1193.7 1727.7 1178 1724.3 1160.9 1730.7z" fill="#ff7936"/><path d="M1375.3 1736.3 1391.2 1733.6 1374.3 1727.1 1358.3 1729.8z" fill="#ff7824"/><path d="M1209.7 1731.7 1226.6 1725.8 1210.7 1721.9 1193.7 1727.7z" fill="#ff6f33"/><path d="M1342.2 1733.1 1358.3 1729.8 1341.6 1723.8 1325.4 1727.1z" fill="#ff6d27"/><path d="M1059.9 1757.7 1077.8 1748.5 1062.8 1746.5 1045 1755.6z" fill="#ffbf40"/><path d="M1242.8 1730.3 1259.6 1725.1 1243.4 1720.7 1226.6 1725.8z" fill="#ff6830"/><path d="M1309.1 1731 1325.4 1727.1 1308.9 1721.7 1292.5 1725.5z" fill="#ff672a"/><path d="M1275.9 1730.1 1292.5 1725.5 1276.1 1720.6 1259.6 1725.1z" fill="#ff652d"/><path d="M1491.9 1761.4 1507 1760.4 1489.4 1751.8 1474.2 1752.7z" fill="#ffc61b"/><path d="M1575.9 1789.5 1590.4 1789.6 1572.3 1779.3 1557.7 1779.1z" fill="#d7ff14"/><path d="M1092.9 1751.1 1110.6 1742.6 1095.4 1740.1 1077.8 1748.5z" fill="#ffa83d"/><path d="M1458.9 1754.3 1474.2 1752.7 1456.7 1744.6 1441.3 1746.1z" fill="#ffaa1e"/><path d="M1008.9 1776 1027 1765.4 1012.4 1763.7 994.3 1774.2z" fill="#ffec44"/><path d="M1126 1745.7 1143.6 1737.8 1128.1 1734.8 1110.6 1742.6z" fill="#ff943b"/><path d="M1542.9 1779.5 1557.7 1779.1 1539.7 1769.3 1524.9 1769.7z" fill="#fffd17"/><path d="M1425.7 1748.2 1441.3 1746.1 1424 1738.5 1408.3 1740.6z" fill="#ff9321"/><path d="M1159.2 1741.4 1176.6 1734.2 1160.9 1730.7 1143.6 1737.8z" fill="#ff8338"/><path d="M1392.5 1743.4 1408.3 1740.6 1391.2 1733.6 1375.3 1736.3z" fill="#ff8124"/><path d="M1041.9 1767.6 1059.9 1757.7 1045 1755.6 1027 1765.4z" fill="#ffd042"/><path d="M1192.5 1738.2 1209.7 1731.7 1193.7 1727.7 1176.6 1734.2z" fill="#ff7735"/><path d="M1509.8 1770.7 1524.9 1769.7 1507 1760.4 1491.9 1761.4z" fill="#ffd81a"/><path d="M1359.2 1739.6 1375.3 1736.3 1358.3 1729.8 1342.2 1733.1z" fill="#ff7427"/><path d="M1225.8 1736.2 1242.8 1730.3 1226.6 1725.8 1209.7 1731.7z" fill="#ff6e33"/><path d="M1325.8 1737 1342.2 1733.1 1325.4 1727.1 1309.1 1731z" fill="#ff6c2a"/><path d="M1259.1 1735.3 1275.9 1730.1 1259.6 1725.1 1242.8 1730.3z" fill="#ff6930"/><path d="M1292.5 1735.6 1309.1 1731 1292.5 1725.5 1275.9 1730.1z" fill="#ff682d"/><path d="M1075 1760.4 1092.9 1751.1 1077.8 1748.5 1059.9 1757.7z" fill="#ffb740"/><path d="M1476.6 1763 1491.9 1761.4 1474.2 1752.7 1458.9 1754.3z" fill="#ffb91d"/><path d="M1561.1 1790 1575.9 1789.5 1557.7 1779.1 1542.9 1779.5z" fill="#ebff17"/><path d="M1108.3 1754.2 1126 1745.7 1110.6 1742.6 1092.9 1751.1z" fill="#ffa23d"/><path d="M1443.2 1756.5 1458.9 1754.3 1441.3 1746.1 1425.7 1748.2z" fill="#ffa020"/><path d="M1023.7 1778.3 1041.9 1767.6 1027 1765.4 1008.9 1776z" fill="#ffe345"/><path d="M1141.7 1749.3 1159.2 1741.4 1143.6 1737.8 1126 1745.7z" fill="#ff8f3b"/><path d="M1409.8 1751 1425.7 1748.2 1408.3 1740.6 1392.5 1743.4z" fill="#ff8c23"/><path d="M1527.9 1780.6 1542.9 1779.5 1524.9 1769.7 1509.8 1770.7z" fill="#ffec1a"/><path d="M1175.1 1745.5 1192.5 1738.2 1176.6 1734.2 1159.2 1741.4z" fill="#ff8138"/><path d="M1376.4 1746.8 1392.5 1743.4 1375.3 1736.3 1359.2 1739.6z" fill="#ff7d27"/><path d="M1057 1770.3 1075 1760.4 1059.9 1757.7 1041.9 1767.6z" fill="#ffc942"/><path d="M1208.6 1742.8 1225.8 1736.2 1209.7 1731.7 1192.5 1738.2z" fill="#ff7635"/><path d="M1342.8 1743.7 1359.2 1739.6 1342.2 1733.1 1325.8 1737z" fill="#ff732a"/><path d="M1242.1 1741.3 1259.1 1735.3 1242.8 1730.3 1225.8 1736.2z" fill="#ff6f33"/><path d="M1309.3 1741.7 1325.8 1737 1309.1 1731 1292.5 1735.6z" fill="#ff6d2d"/><path d="M1275.7 1740.9 1292.5 1735.6 1275.9 1730.1 1259.1 1735.3z" fill="#ff6c30"/><path d="M1494.5 1772.4 1509.8 1770.7 1491.9 1761.4 1476.6 1763z" fill="#ffcb1d"/><path d="M1090.4 1763.6 1108.3 1754.2 1092.9 1751.1 1075 1760.4z" fill="#ffb140"/><path d="M1461 1765.3 1476.6 1763 1458.9 1754.3 1443.2 1756.5z" fill="#ffaf20"/><path d="M1123.9 1757.9 1141.7 1749.3 1126 1745.7 1108.3 1754.2z" fill="#ff9d3d"/><path d="M1546.1 1791.2 1561.1 1790 1542.9 1779.5 1527.9 1780.6z" fill="#fcff1a"/><path d="M1427.4 1759.3 1443.2 1756.5 1425.7 1748.2 1409.8 1751z" fill="#ff9923"/><path d="M1157.5 1753.4 1175.1 1745.5 1159.2 1741.4 1141.7 1749.3z" fill="#ff8d3b"/><path d="M1038.8 1781.1 1057 1770.3 1041.9 1767.6 1023.7 1778.3z" fill="#ffdc45"/><path d="M1393.7 1754.5 1409.8 1751 1392.5 1743.4 1376.4 1746.8z" fill="#ff8826"/><path d="M1191.2 1750.1 1208.6 1742.8 1192.5 1738.2 1175.1 1745.5z" fill="#ff8038"/><path d="M1512.6 1782.4 1527.9 1780.6 1509.8 1770.7 1494.5 1772.4z" fill="#ffdf1d"/><path d="M1360 1750.9 1376.4 1746.8 1359.2 1739.6 1342.8 1743.7z" fill="#ff7b29"/><path d="M1224.9 1747.9 1242.1 1741.3 1225.8 1736.2 1208.6 1742.8z" fill="#ff7735"/><path d="M1326.3 1748.4 1342.8 1743.7 1325.8 1737 1309.3 1741.7z" fill="#ff742c"/><path d="M1258.7 1746.9 1275.7 1740.9 1259.1 1735.3 1242.1 1741.3z" fill="#ff7232"/><path d="M1292.5 1747.1 1309.3 1741.7 1292.5 1735.6 1275.7 1740.9z" fill="#ff702f"/><path d="M1072.3 1773.6 1090.4 1763.6 1075 1760.4 1057 1770.3z" fill="#ffc342"/><path d="M1478.9 1774.7 1494.5 1772.4 1476.6 1763 1461 1765.3z" fill="#ffc120"/><path d="M1106 1767.3 1123.9 1757.9 1108.3 1754.2 1090.4 1763.6z" fill="#ffad40"/><path d="M1445.2 1768.2 1461 1765.3 1443.2 1756.5 1427.4 1759.3z" fill="#ffa823"/><path d="M1139.8 1762.2 1157.5 1753.4 1141.7 1749.3 1123.9 1757.9z" fill="#ff9b3e"/><path d="M1411.3 1762.9 1427.4 1759.3 1409.8 1751 1393.7 1754.5z" fill="#ff9526"/><path d="M1530.9 1793 1546.1 1791.2 1527.9 1780.6 1512.6 1782.4z" fill="#fff41c"/><path d="M1173.6 1758.2 1191.2 1750.1 1175.1 1745.5 1157.5 1753.4z" fill="#ff8c3b"/><path d="M1377.4 1758.7 1393.7 1754.5 1376.4 1746.8 1360 1750.9z" fill="#ff8629"/><path d="M1054 1784.5 1072.3 1773.6 1057 1770.3 1038.8 1781.1z" fill="#ffd645"/><path d="M1207.5 1755.3 1224.9 1747.9 1208.6 1742.8 1191.2 1750.1z" fill="#ff8138"/><path d="M1343.5 1755.7 1360 1750.9 1342.8 1743.7 1326.3 1748.4z" fill="#ff7c2c"/><path d="M1241.5 1753.7 1258.7 1746.9 1242.1 1741.3 1224.9 1747.9z" fill="#ff7a35"/><path d="M1309.5 1753.9 1326.3 1748.4 1309.3 1741.7 1292.5 1747.1z" fill="#ff772f"/><path d="M1497.1 1784.8 1512.6 1782.4 1494.5 1772.4 1478.9 1774.7z" fill="#ffd420"/><path d="M1275.5 1753.2 1292.5 1747.1 1275.7 1740.9 1258.7 1746.9z" fill="#ff7632"/><path d="M1087.9 1777.5 1106 1767.3 1090.4 1763.6 1072.3 1773.6z" fill="#ffbf43"/><path d="M1463.1 1777.8 1478.9 1774.7 1461 1765.3 1445.2 1768.2z" fill="#ffb923"/><path d="M1121.8 1771.6 1139.8 1762.2 1123.9 1757.9 1106 1767.3z" fill="#ffab40"/><path d="M1429.1 1771.9 1445.2 1768.2 1427.4 1759.3 1411.3 1762.9z" fill="#ffa326"/><path d="M1155.8 1767 1173.6 1758.2 1157.5 1753.4 1139.8 1762.2z" fill="#ff9a3e"/><path d="M1395 1767.2 1411.3 1762.9 1393.7 1754.5 1377.4 1758.7z" fill="#ff9329"/><path d="M1189.9 1763.5 1207.5 1755.3 1191.2 1750.1 1173.6 1758.2z" fill="#ff8d3b"/><path d="M1515.4 1795.5 1530.9 1793 1512.6 1782.4 1497.1 1784.8z" fill="#ffe91f"/><path d="M1360.9 1763.6 1377.4 1758.7 1360 1750.9 1343.5 1755.7z" fill="#ff872c"/><path d="M1224.1 1761.2 1241.5 1753.7 1224.9 1747.9 1207.5 1755.3z" fill="#ff8438"/><path d="M1326.7 1761.2 1343.5 1755.7 1326.3 1748.4 1309.5 1753.9z" fill="#ff802f"/><path d="M1069.5 1788.4 1087.9 1777.5 1072.3 1773.6 1054 1784.5z" fill="#ffd245"/><path d="M1258.3 1760 1275.5 1753.2 1258.7 1746.9 1241.5 1753.7z" fill="#ff7e35"/><path d="M1292.5 1760 1309.5 1753.9 1292.5 1747.1 1275.5 1753.2z" fill="#ff7d32"/><path d="M1481.3 1787.9 1497.1 1784.8 1478.9 1774.7 1463.1 1777.8z" fill="#ffcc23"/><path d="M1103.6 1781.9 1121.8 1771.6 1106 1767.3 1087.9 1777.5z" fill="#ffbc43"/><path d="M1447.1 1781.5 1463.1 1777.8 1445.2 1768.2 1429.1 1771.9z" fill="#ffb426"/><path d="M1137.8 1776.5 1155.8 1767 1139.8 1762.2 1121.8 1771.6z" fill="#ffaa40"/><path d="M1412.9 1776.2 1429.1 1771.9 1411.3 1762.9 1395 1767.2z" fill="#ffa129"/><path d="M1172.1 1772.4 1189.9 1763.5 1173.6 1758.2 1155.8 1767z" fill="#ff9b3e"/><path d="M1378.5 1772.1 1395 1767.2 1377.4 1758.7 1360.9 1763.6z" fill="#ff932c"/><path d="M1206.5 1769.4 1224.1 1761.2 1207.5 1755.3 1189.9 1763.5z" fill="#ff903b"/><path d="M1344.1 1769.2 1360.9 1763.6 1343.5 1755.7 1326.7 1761.2z" fill="#ff8a2f"/><path d="M1240.9 1767.6 1258.3 1760 1241.5 1753.7 1224.1 1761.2z" fill="#ff8938"/><path d="M1499.7 1798.7 1515.4 1795.5 1497.1 1784.8 1481.3 1787.9z" fill="#ffe122"/><path d="M1309.7 1767.5 1326.7 1761.2 1309.5 1753.9 1292.5 1760z" fill="#ff8632"/><path d="M1275.3 1766.9 1292.5 1760 1275.5 1753.2 1258.3 1760z" fill="#ff8535"/><path d="M1085.3 1792.9 1103.6 1781.9 1087.9 1777.5 1069.5 1788.4z" fill="#ffd046"/><path d="M1465.3 1791.8 1481.3 1787.9 1463.1 1777.8 1447.1 1781.5z" fill="#ffc726"/><path d="M1119.6 1786.9 1137.8 1776.5 1121.8 1771.6 1103.6 1781.9z" fill="#ffbc43"/><path d="M1430.9 1785.9 1447.1 1781.5 1429.1 1771.9 1412.9 1776.2z" fill="#ffb229"/><path d="M1154.1 1782 1172.1 1772.4 1155.8 1767 1137.8 1776.5z" fill="#ffab41"/><path d="M1396.3 1781.3 1412.9 1776.2 1395 1767.2 1378.5 1772.1z" fill="#ffa22c"/><path d="M1188.6 1778.4 1206.5 1769.4 1189.9 1763.5 1172.1 1772.4z" fill="#ff9e3e"/><path d="M1361.8 1777.8 1378.5 1772.1 1360.9 1763.6 1344.1 1769.2z" fill="#ff972f"/><path d="M1223.2 1775.9 1240.9 1767.6 1224.1 1761.2 1206.5 1769.4z" fill="#ff953b"/><path d="M1327.1 1775.6 1344.1 1769.2 1326.7 1761.2 1309.7 1767.5z" fill="#ff9032"/><path d="M1257.8 1774.6 1275.3 1766.9 1258.3 1760 1240.9 1767.6z" fill="#ff8f38"/><path d="M1292.5 1774.5 1309.7 1767.5 1292.5 1760 1275.3 1766.9z" fill="#ff8d36"/><path d="M1483.7 1802.6 1499.7 1798.7 1481.3 1787.9 1465.3 1791.8z" fill="#ffdc26"/><path d="M1101.3 1798 1119.6 1786.9 1103.6 1781.9 1085.3 1792.9z" fill="#ffcf46"/><path d="M1449.1 1796.3 1465.3 1791.8 1447.1 1781.5 1430.9 1785.9z" fill="#ffc529"/><path d="M1135.9 1792.5 1154.1 1782 1137.8 1776.5 1119.6 1786.9z" fill="#ffbd44"/><path d="M1414.4 1791.1 1430.9 1785.9 1412.9 1776.2 1396.3 1781.3z" fill="#ffb22c"/><path d="M1170.6 1788.1 1188.6 1778.4 1172.1 1772.4 1154.1 1782z" fill="#ffae41"/><path d="M1379.6 1787.1 1396.3 1781.3 1378.5 1772.1 1361.8 1777.8z" fill="#ffa52f"/><path d="M1205.4 1785 1223.2 1775.9 1206.5 1769.4 1188.6 1778.4z" fill="#ffa33e"/><path d="M1344.8 1784.3 1361.8 1777.8 1344.1 1769.2 1327.1 1775.6z" fill="#ff9c33"/><path d="M1240.2 1783 1257.8 1774.6 1240.9 1767.6 1223.2 1775.9z" fill="#ff9b3c"/><path d="M1309.9 1782.7 1327.1 1775.6 1309.7 1767.5 1292.5 1774.5z" fill="#ff9836"/><path d="M1275.1 1782.2 1292.5 1774.5 1275.3 1766.9 1257.8 1774.6z" fill="#ff9739"/><path d="M1467.5 1807.3 1483.7 1802.6 1465.3 1791.8 1449.1 1796.3z" fill="#ffd929"/><path d="M1117.5 1803.7 1135.9 1792.5 1119.6 1786.9 1101.3 1798z" fill="#ffd046"/><path d="M1432.6 1801.5 1449.1 1796.3 1430.9 1785.9 1414.4 1791.1z" fill="#ffc52c"/><path d="M1152.4 1798.7 1170.6 1788.1 1154.1 1782 1135.9 1792.5z" fill="#ffc044"/><path d="M1397.7 1797 1414.4 1791.1 1396.3 1781.3 1379.6 1787.1z" fill="#ffb52f"/><path d="M1187.3 1794.8 1205.4 1785 1188.6 1778.4 1170.6 1788.1z" fill="#ffb341"/><path d="M1362.6 1793.6 1379.6 1787.1 1361.8 1777.8 1344.8 1784.3z" fill="#ffaa33"/><path d="M1222.3 1792.2 1240.2 1783 1223.2 1775.9 1205.4 1785z" fill="#ffa93f"/><path d="M1327.6 1791.5 1344.8 1784.3 1327.1 1775.6 1309.9 1782.7z" fill="#ffa436"/><path d="M1257.4 1790.7 1275.1 1782.2 1257.8 1774.6 1240.2 1783z" fill="#ffa33c"/><path d="M1292.5 1790.5 1309.9 1782.7 1292.5 1774.5 1275.1 1782.2z" fill="#ffa239"/><path d="M1451.1 1812.6 1467.5 1807.3 1449.1 1796.3 1432.6 1801.5z" fill="#ffd92c"/><path d="M1133.9 1810 1152.4 1798.7 1135.9 1792.5 1117.5 1803.7z" fill="#ffd347"/><path d="M1415.9 1807.5 1432.6 1801.5 1414.4 1791.1 1397.7 1797z" fill="#ffc730"/><path d="M1169 1805.5 1187.3 1794.8 1170.6 1788.1 1152.4 1798.7z" fill="#ffc444"/><path d="M1380.7 1803.6 1397.7 1797 1379.6 1787.1 1362.6 1793.6z" fill="#ffba33"/><path d="M1204.3 1802.1 1222.3 1792.2 1205.4 1785 1187.3 1794.8z" fill="#ffb942"/><path d="M1345.4 1800.9 1362.6 1793.6 1344.8 1784.3 1327.6 1791.5z" fill="#ffb236"/><path d="M1239.5 1800 1257.4 1790.7 1240.2 1783 1222.3 1792.2z" fill="#ffb13f"/><path d="M1310.1 1799.4 1327.6 1791.5 1309.9 1782.7 1292.5 1790.5z" fill="#ffad39"/><path d="M1274.8 1799.1 1292.5 1790.5 1275.1 1782.2 1257.4 1790.7z" fill="#ffad3c"/><path d="M1434.4 1818.7 1451.1 1812.6 1432.6 1801.5 1415.9 1807.5z" fill="#ffdb30"/><path d="M1150.6 1816.9 1169 1805.5 1152.4 1798.7 1133.9 1810z" fill="#ffd747"/><path d="M1399 1814.2 1415.9 1807.5 1397.7 1797 1380.7 1803.6z" fill="#ffcc33"/><path d="M1186 1812.9 1204.3 1802.1 1187.3 1794.8 1169 1805.5z" fill="#ffca45"/><path d="M1363.5 1811 1380.7 1803.6 1362.6 1793.6 1345.4 1800.9z" fill="#ffc136"/><path d="M1221.4 1810.1 1239.5 1800 1222.3 1792.2 1204.3 1802.1z" fill="#ffc142"/><path d="M1328 1808.9 1345.4 1800.9 1327.6 1791.5 1310.1 1799.4z" fill="#ffbb39"/><path d="M1256.9 1808.5 1274.8 1799.1 1257.4 1790.7 1239.5 1800z" fill="#ffbb3f"/><path d="M1292.5 1808.1 1310.1 1799.4 1292.5 1790.5 1274.8 1799.1z" fill="#ffb93c"/><path d="M1417.5 1825.6 1434.4 1818.7 1415.9 1807.5 1399 1814.2z" fill="#ffdf33"/><path d="M1167.5 1824.4 1186 1812.9 1169 1805.5 1150.6 1816.9z" fill="#ffdd48"/><path d="M1381.8 1821.7 1399 1814.2 1380.7 1803.6 1363.5 1811z" fill="#ffd336"/><path d="M1203.1 1821 1221.4 1810.1 1204.3 1802.1 1186 1812.9z" fill="#ffd245"/><path d="M1346.1 1819.2 1363.5 1811 1345.4 1800.9 1328 1808.9z" fill="#ffca3a"/><path d="M1238.9 1818.7 1256.9 1808.5 1239.5 1800 1221.4 1810.1z" fill="#ffca43"/><path d="M1310.4 1817.8 1328 1808.9 1310.1 1799.4 1292.5 1808.1z" fill="#ffc63d"/><path d="M1274.6 1817.6 1292.5 1808.1 1274.8 1799.1 1256.9 1808.5z" fill="#ffc640"/><path d="M1400.3 1833.2 1417.5 1825.6 1399 1814.2 1381.8 1821.7z" fill="#ffe637"/><path d="M1184.6 1832.6 1203.1 1821 1186 1812.9 1167.5 1824.4z" fill="#ffe549"/><path d="M1364.4 1830 1381.8 1821.7 1363.5 1811 1346.1 1819.2z" fill="#ffdb3a"/><path d="M1220.5 1829.7 1238.9 1818.7 1221.4 1810.1 1203.1 1821z" fill="#ffdb46"/><path d="M1328.5 1828.1 1346.1 1819.2 1328 1808.9 1310.4 1817.8z" fill="#ffd53d"/><path d="M1256.5 1827.9 1274.6 1817.6 1256.9 1808.5 1238.9 1818.7z" fill="#ffd643"/><path d="M1292.5 1827.4 1310.4 1817.8 1292.5 1808.1 1274.6 1817.6z" fill="#ffd440"/><path d="M1383 1841.6 1400.3 1833.2 1381.8 1821.7 1364.4 1830z" fill="#ffee3a"/><path d="M1202 1841.5 1220.5 1829.7 1203.1 1821 1184.6 1832.6z" fill="#ffee49"/><path d="M1346.8 1839.1 1364.4 1830 1346.1 1819.2 1328.5 1828.1z" fill="#ffe63e"/><path d="M1238.2 1839 1256.5 1827.9 1238.9 1818.7 1220.5 1829.7z" fill="#ffe646"/><path d="M1310.6 1837.8 1328.5 1828.1 1310.4 1817.8 1292.5 1827.4z" fill="#ffe241"/><path d="M1274.4 1837.8 1292.5 1827.4 1274.6 1817.6 1256.5 1827.9z" fill="#ffe244"/><path d="M1365.3 1850.8 1383 1841.6 1364.4 1830 1346.8 1839.1z" fill="#fff93e"/><path d="M1219.6 1850.9 1238.2 1839 1220.5 1829.7 1202 1841.5z" fill="#fff94a"/><path d="M1328.9 1849 1346.8 1839.1 1328.5 1828.1 1310.6 1837.8z" fill="#fff341"/><path d="M1256 1849.1 1274.4 1837.8 1256.5 1827.9 1238.2 1839z" fill="#fff347"/><path d="M1292.5 1848.4 1310.6 1837.8 1292.5 1827.4 1274.4 1837.8z" fill="#fff144"/><path d="M1237.5 1861.1 1256 1849.1 1238.2 1839 1219.6 1850.9z" fill="#f9ff4a"/><path d="M1347.5 1860.8 1365.3 1850.8 1346.8 1839.1 1328.9 1849z" fill="#f9ff42"/><path d="M1274.1 1859.8 1292.5 1848.4 1274.4 1837.8 1256 1849.1z" fill="#fdff48"/><path d="M1310.8 1859.6 1328.9 1849 1310.6 1837.8 1292.5 1848.4z" fill="#fdff45"/><path d="M1255.6 1872 1274.1 1859.8 1256 1849.1 1237.5 1861.1z" fill="#ebff4b"/><path d="M1329.3 1871.6 1347.5 1860.8 1328.9 1849 1310.8 1859.6z" fill="#ebff45"/><path d="M1292.5 1871.1 1310.8 1859.6 1292.5 1848.4 1274.1 1859.8z" fill="#edff48"/><path d="M1273.9 1883.5 1292.5 1871.1 1274.1 1859.8 1255.6 1872z" fill="#dcff4c"/><path d="M1311 1883.2 1329.3 1871.6 1310.8 1859.6 1292.5 1871.1z" fill="#dcff49"/><path d="M1292.4 1895.7 1311 1883.2 1292.5 1871.1 1273.9 1883.5z" fill="#cbff4c"/></g>
<g fill="#000"><circle cx="974.8" cy="1951.7" r="2.8"/><circle cx="971.7" cy="1891" r="2.8"/><circle cx="968.7" cy="1830.4" r="2.8"/><circle cx="965.6" cy="1769.8" r="2.8"/><circle cx="962.6" cy="1709.2" r="2.8"/><circle cx="959.5" cy="1648.6" r="2.8"/><circle cx="979.5" cy="2045.9" r="2.8"/><circle cx="1605.6" cy="2045.9" r="2.8"/><circle cx="1057.7" cy="2080.7" r="2.8"/><circle cx="1527.3" cy="2080.7" r="2.8"/><circle cx="1135.9" cy="2115.5" r="2.8"/><circle cx="1448.9" cy="2115.5" r="2.8"/><circle cx="1214.1" cy="2150.3" r="2.8"/><circle cx="1370.6" cy="2150.3" r="2.8"/><circle cx="1292.3" cy="2185.1" r="2.8"/></g>
<path d="M966.8 1782.3 965.8 1772.3" stroke="#111" stroke-width="1.3"/>
<circle cx="966.8" cy="1782.3" r="6.4" fill="#f7c6c6" stroke="#333" stroke-width="1.1"/>
<path d="M1292.5 1894.4 1292.4 1895.7" stroke="#111" stroke-width="1.3"/>
<circle cx="1292.5" cy="1894.4" r="6.4" fill="#c00000" stroke="#500" stroke-width="1.1"/>
<path d="M1618.5 1791.7 1618.7 1791.6" stroke="#111" stroke-width="1.3"/>
<circle cx="1618.5" cy="1791.7" r="6.4" fill="#c00000" stroke="#500" stroke-width="1.1"/>
<path d="M1292.5 1711 1292.5 1725.5" stroke="#111" stroke-width="1.3"/>
<circle cx="1292.5" cy="1711" r="6.4" fill="#c00000" stroke="#500" stroke-width="1.1"/>
<g font-family="DejaVu Sans Condensed, DejaVu Sans, sans-serif" font-size="22" fill="#1a1a1a"><text x="960.8" y="1943.7" text-anchor="end">50</text><text x="957.7" y="1883" text-anchor="end">60</text><text x="954.7" y="1822.4" text-anchor="end">70</text><text x="951.6" y="1761.8" text-anchor="end">80</text><text x="948.6" y="1701.2" text-anchor="end">90</text><text x="945.5" y="1640.6" text-anchor="end">100</text><text x="965.5" y="2068.9" text-anchor="end">1</text><text x="1619.6" y="2068.9">1</text><text x="1043.7" y="2103.7" text-anchor="end">0.5</text><text x="1541.3" y="2103.7">0.5</text><text x="1121.9" y="2138.5" text-anchor="end">0</text><text x="1462.9" y="2138.5">0</text><text x="1200.1" y="2173.3" text-anchor="end">-0.5</text><text x="1384.6" y="2173.3">-0.5</text><text x="1278.3" y="2208.1" text-anchor="end">-1</text><text x="1306.3" y="2208.1">-1</text></g>
<g font-family="Liberation Serif, serif" font-size="25" fill="#111" lengthAdjust="spacing"><text x="962.5" y="2176.3" textLength="165.9">D: Contact time</text><text x="1452" y="2173.7" textLength="239.7">C: Initial concentration</text></g>
<text transform="translate(882.2 1850.9) rotate(-90)" x="-109.2" y="0" textLength="218.3" lengthAdjust="spacingAndGlyphs" font-family="Liberation Serif, serif" font-size="26.5" fill="#141a30">Removal efficiency, %</text>
<rect x="1614.2" y="1565" width="65.8" height="68.1" rx="11" fill="#fff" stroke="#000" stroke-width="2.8"/>
<text transform="translate(1646.5 1615.2) scale(1.05 1)" text-anchor="middle" font-family="Liberation Sans, sans-serif" font-size="46" fill="#000">f</text>
<rect x="296.1" y="792.2" width="64.5" height="68" rx="11" fill="#fff" stroke="#000" stroke-width="2.8"/>
<rect x="345.1" y="841.2" width="63.9" height="67.5" rx="11" fill="#fff" stroke="#000" stroke-width="2.8"/>
</svg>
</body></html>
